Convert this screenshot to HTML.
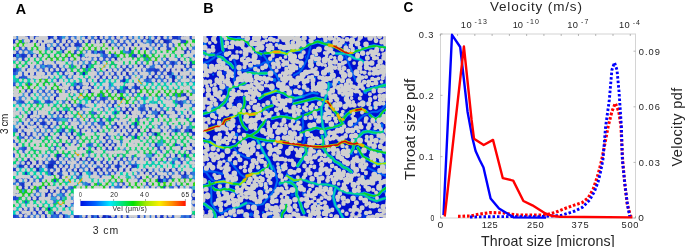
<!DOCTYPE html>
<html><head><meta charset="utf-8"><style>
html,body{margin:0;padding:0;background:#fff;width:685px;height:247px;overflow:hidden}
svg{display:block;will-change:transform}
text{font-family:"Liberation Sans",sans-serif}
.tk{font-size:9px;fill:#262626;letter-spacing:0.4px}
.lb{font-size:13px;fill:#262626}
.cb{font-size:7px;fill:#262626}
.pl{font-size:14px;font-weight:bold;fill:#000}
.cm{font-size:10.5px;fill:#262626}
</style></head><body>
<svg width="685" height="247" viewBox="0 0 685 247">
<defs><filter id="soft" x="0" y="0" width="1" height="1" color-interpolation-filters="sRGB"><feGaussianBlur stdDeviation="0.45" edgeMode="duplicate"/></filter></defs>
<svg x="13" y="36" width="182" height="182" viewBox="0 0 182 182">
<g filter="url(#soft)">
<rect width="182" height="182" fill="#1024bc"/>
<path fill="#2858d8" d="M-0.2 -0.2h3.3v4.0h-3.3zM-0.2 21.2h3.3v4.0h-3.3zM-0.2 35.5h3.3v4.0h-3.3zM-0.2 46.2h3.3v4.0h-3.3zM-0.2 71.2h3.3v4.0h-3.3zM-0.2 74.7h3.3v4.0h-3.3zM-0.2 103.3h3.3v4.0h-3.3zM-0.2 117.6h3.3v4.0h-3.3zM-0.2 121.1h3.3v4.0h-3.3zM-0.2 142.5h3.3v4.0h-3.3zM2.7 3.4h3.3v4.0h-3.3zM2.7 24.8h3.3v4.0h-3.3zM2.7 31.9h3.3v4.0h-3.3zM2.7 39.1h3.3v4.0h-3.3zM2.7 74.7h3.3v4.0h-3.3zM2.7 81.9h3.3v4.0h-3.3zM2.7 160.4h3.3v4.0h-3.3zM2.7 178.2h3.3v4.0h-3.3zM5.6 10.5h3.3v4.0h-3.3zM5.6 17.6h3.3v4.0h-3.3zM5.6 35.5h3.3v4.0h-3.3zM5.6 49.8h3.3v4.0h-3.3zM5.6 64.0h3.3v4.0h-3.3zM5.6 121.1h3.3v4.0h-3.3zM5.6 164.0h3.3v4.0h-3.3zM5.6 171.1h3.3v4.0h-3.3zM8.5 35.5h3.3v4.0h-3.3zM8.5 39.1h3.3v4.0h-3.3zM8.5 85.4h3.3v4.0h-3.3zM8.5 89.0h3.3v4.0h-3.3zM8.5 92.6h3.3v4.0h-3.3zM8.5 110.4h3.3v4.0h-3.3zM8.5 114.0h3.3v4.0h-3.3zM8.5 124.7h3.3v4.0h-3.3zM8.5 160.4h3.3v4.0h-3.3zM11.4 10.5h3.3v4.0h-3.3zM11.4 39.1h3.3v4.0h-3.3zM11.4 42.6h3.3v4.0h-3.3zM11.4 49.8h3.3v4.0h-3.3zM11.4 78.3h3.3v4.0h-3.3zM11.4 92.6h3.3v4.0h-3.3zM11.4 114.0h3.3v4.0h-3.3zM11.4 142.5h3.3v4.0h-3.3zM11.4 164.0h3.3v4.0h-3.3zM11.4 178.2h3.3v4.0h-3.3zM14.2 3.4h3.3v4.0h-3.3zM14.2 24.8h3.3v4.0h-3.3zM14.2 31.9h3.3v4.0h-3.3zM14.2 46.2h3.3v4.0h-3.3zM14.2 99.7h3.3v4.0h-3.3zM14.2 103.3h3.3v4.0h-3.3zM14.2 160.4h3.3v4.0h-3.3zM14.2 171.1h3.3v4.0h-3.3zM14.2 178.2h3.3v4.0h-3.3zM17.1 31.9h3.3v4.0h-3.3zM17.1 39.1h3.3v4.0h-3.3zM17.1 49.8h3.3v4.0h-3.3zM17.1 64.0h3.3v4.0h-3.3zM17.1 78.3h3.3v4.0h-3.3zM17.1 81.9h3.3v4.0h-3.3zM17.1 139.0h3.3v4.0h-3.3zM17.1 149.7h3.3v4.0h-3.3zM17.1 164.0h3.3v4.0h-3.3zM20.0 17.6h3.3v4.0h-3.3zM20.0 39.1h3.3v4.0h-3.3zM20.0 60.5h3.3v4.0h-3.3zM20.0 64.0h3.3v4.0h-3.3zM20.0 67.6h3.3v4.0h-3.3zM20.0 96.2h3.3v4.0h-3.3zM20.0 153.3h3.3v4.0h-3.3zM22.9 -0.2h3.3v4.0h-3.3zM22.9 21.2h3.3v4.0h-3.3zM22.9 39.1h3.3v4.0h-3.3zM22.9 64.0h3.3v4.0h-3.3zM22.9 106.9h3.3v4.0h-3.3zM22.9 142.5h3.3v4.0h-3.3zM22.9 153.3h3.3v4.0h-3.3zM22.9 156.8h3.3v4.0h-3.3zM22.9 164.0h3.3v4.0h-3.3zM25.8 24.8h3.3v4.0h-3.3zM25.8 35.5h3.3v4.0h-3.3zM25.8 60.5h3.3v4.0h-3.3zM25.8 78.3h3.3v4.0h-3.3zM25.8 121.1h3.3v4.0h-3.3zM25.8 128.3h3.3v4.0h-3.3zM25.8 142.5h3.3v4.0h-3.3zM25.8 153.3h3.3v4.0h-3.3zM25.8 178.2h3.3v4.0h-3.3zM28.7 6.9h3.3v4.0h-3.3zM28.7 31.9h3.3v4.0h-3.3zM28.7 42.6h3.3v4.0h-3.3zM28.7 53.3h3.3v4.0h-3.3zM28.7 71.2h3.3v4.0h-3.3zM28.7 78.3h3.3v4.0h-3.3zM28.7 81.9h3.3v4.0h-3.3zM28.7 135.4h3.3v4.0h-3.3zM28.7 139.0h3.3v4.0h-3.3zM28.7 149.7h3.3v4.0h-3.3zM28.7 153.3h3.3v4.0h-3.3zM28.7 156.8h3.3v4.0h-3.3zM28.7 160.4h3.3v4.0h-3.3zM31.6 10.5h3.3v4.0h-3.3zM31.6 28.3h3.3v4.0h-3.3zM31.6 35.5h3.3v4.0h-3.3zM31.6 46.2h3.3v4.0h-3.3zM31.6 64.0h3.3v4.0h-3.3zM31.6 74.7h3.3v4.0h-3.3zM31.6 85.4h3.3v4.0h-3.3zM31.6 96.2h3.3v4.0h-3.3zM31.6 146.1h3.3v4.0h-3.3zM31.6 153.3h3.3v4.0h-3.3zM34.5 71.2h3.3v4.0h-3.3zM34.5 78.3h3.3v4.0h-3.3zM34.5 121.1h3.3v4.0h-3.3zM34.5 124.7h3.3v4.0h-3.3zM34.5 131.8h3.3v4.0h-3.3zM34.5 149.7h3.3v4.0h-3.3zM37.4 10.5h3.3v4.0h-3.3zM37.4 28.3h3.3v4.0h-3.3zM37.4 31.9h3.3v4.0h-3.3zM37.4 35.5h3.3v4.0h-3.3zM37.4 60.5h3.3v4.0h-3.3zM37.4 117.6h3.3v4.0h-3.3zM37.4 121.1h3.3v4.0h-3.3zM37.4 131.8h3.3v4.0h-3.3zM37.4 149.7h3.3v4.0h-3.3zM37.4 153.3h3.3v4.0h-3.3zM37.4 156.8h3.3v4.0h-3.3zM37.4 167.5h3.3v4.0h-3.3zM37.4 178.2h3.3v4.0h-3.3zM40.2 14.1h3.3v4.0h-3.3zM40.2 21.2h3.3v4.0h-3.3zM40.2 24.8h3.3v4.0h-3.3zM40.2 106.9h3.3v4.0h-3.3zM40.2 110.4h3.3v4.0h-3.3zM40.2 131.8h3.3v4.0h-3.3zM40.2 149.7h3.3v4.0h-3.3zM43.1 6.9h3.3v4.0h-3.3zM43.1 42.6h3.3v4.0h-3.3zM43.1 74.7h3.3v4.0h-3.3zM43.1 124.7h3.3v4.0h-3.3zM43.1 139.0h3.3v4.0h-3.3zM43.1 178.2h3.3v4.0h-3.3zM46.0 -0.2h3.3v4.0h-3.3zM46.0 24.8h3.3v4.0h-3.3zM46.0 42.6h3.3v4.0h-3.3zM46.0 49.8h3.3v4.0h-3.3zM46.0 71.2h3.3v4.0h-3.3zM46.0 99.7h3.3v4.0h-3.3zM46.0 135.4h3.3v4.0h-3.3zM46.0 160.4h3.3v4.0h-3.3zM46.0 174.7h3.3v4.0h-3.3zM48.9 3.4h3.3v4.0h-3.3zM48.9 17.6h3.3v4.0h-3.3zM48.9 131.8h3.3v4.0h-3.3zM48.9 146.1h3.3v4.0h-3.3zM48.9 156.8h3.3v4.0h-3.3zM48.9 167.5h3.3v4.0h-3.3zM48.9 174.7h3.3v4.0h-3.3zM51.8 10.5h3.3v4.0h-3.3zM51.8 21.2h3.3v4.0h-3.3zM51.8 39.1h3.3v4.0h-3.3zM51.8 85.4h3.3v4.0h-3.3zM51.8 106.9h3.3v4.0h-3.3zM51.8 110.4h3.3v4.0h-3.3zM51.8 121.1h3.3v4.0h-3.3zM51.8 131.8h3.3v4.0h-3.3zM54.7 -0.2h3.3v4.0h-3.3zM54.7 21.2h3.3v4.0h-3.3zM54.7 24.8h3.3v4.0h-3.3zM54.7 46.2h3.3v4.0h-3.3zM54.7 67.6h3.3v4.0h-3.3zM54.7 85.4h3.3v4.0h-3.3zM54.7 117.6h3.3v4.0h-3.3zM54.7 121.1h3.3v4.0h-3.3zM54.7 146.1h3.3v4.0h-3.3zM57.6 -0.2h3.3v4.0h-3.3zM57.6 3.4h3.3v4.0h-3.3zM57.6 42.6h3.3v4.0h-3.3zM57.6 53.3h3.3v4.0h-3.3zM57.6 92.6h3.3v4.0h-3.3zM57.6 99.7h3.3v4.0h-3.3zM57.6 103.3h3.3v4.0h-3.3zM57.6 149.7h3.3v4.0h-3.3zM57.6 171.1h3.3v4.0h-3.3zM60.5 3.4h3.3v4.0h-3.3zM60.5 67.6h3.3v4.0h-3.3zM60.5 131.8h3.3v4.0h-3.3zM63.4 24.8h3.3v4.0h-3.3zM63.4 35.5h3.3v4.0h-3.3zM63.4 53.3h3.3v4.0h-3.3zM63.4 56.9h3.3v4.0h-3.3zM63.4 71.2h3.3v4.0h-3.3zM63.4 99.7h3.3v4.0h-3.3zM63.4 106.9h3.3v4.0h-3.3zM63.4 124.7h3.3v4.0h-3.3zM63.4 128.3h3.3v4.0h-3.3zM63.4 135.4h3.3v4.0h-3.3zM63.4 139.0h3.3v4.0h-3.3zM63.4 160.4h3.3v4.0h-3.3zM63.4 171.1h3.3v4.0h-3.3zM66.2 10.5h3.3v4.0h-3.3zM66.2 60.5h3.3v4.0h-3.3zM66.2 71.2h3.3v4.0h-3.3zM66.2 81.9h3.3v4.0h-3.3zM66.2 96.2h3.3v4.0h-3.3zM66.2 117.6h3.3v4.0h-3.3zM66.2 124.7h3.3v4.0h-3.3zM66.2 128.3h3.3v4.0h-3.3zM66.2 153.3h3.3v4.0h-3.3zM66.2 164.0h3.3v4.0h-3.3zM66.2 174.7h3.3v4.0h-3.3zM69.1 6.9h3.3v4.0h-3.3zM69.1 14.1h3.3v4.0h-3.3zM69.1 21.2h3.3v4.0h-3.3zM69.1 78.3h3.3v4.0h-3.3zM69.1 85.4h3.3v4.0h-3.3zM69.1 89.0h3.3v4.0h-3.3zM69.1 121.1h3.3v4.0h-3.3zM69.1 128.3h3.3v4.0h-3.3zM69.1 142.5h3.3v4.0h-3.3zM69.1 149.7h3.3v4.0h-3.3zM69.1 164.0h3.3v4.0h-3.3zM72.0 3.4h3.3v4.0h-3.3zM72.0 46.2h3.3v4.0h-3.3zM72.0 92.6h3.3v4.0h-3.3zM72.0 117.6h3.3v4.0h-3.3zM72.0 167.5h3.3v4.0h-3.3zM72.0 174.7h3.3v4.0h-3.3zM74.9 24.8h3.3v4.0h-3.3zM74.9 99.7h3.3v4.0h-3.3zM74.9 106.9h3.3v4.0h-3.3zM74.9 114.0h3.3v4.0h-3.3zM74.9 149.7h3.3v4.0h-3.3zM74.9 156.8h3.3v4.0h-3.3zM77.8 24.8h3.3v4.0h-3.3zM77.8 39.1h3.3v4.0h-3.3zM77.8 110.4h3.3v4.0h-3.3zM77.8 117.6h3.3v4.0h-3.3zM77.8 131.8h3.3v4.0h-3.3zM77.8 153.3h3.3v4.0h-3.3zM80.7 39.1h3.3v4.0h-3.3zM80.7 60.5h3.3v4.0h-3.3zM80.7 71.2h3.3v4.0h-3.3zM80.7 74.7h3.3v4.0h-3.3zM80.7 99.7h3.3v4.0h-3.3zM80.7 114.0h3.3v4.0h-3.3zM83.6 10.5h3.3v4.0h-3.3zM83.6 128.3h3.3v4.0h-3.3zM83.6 135.4h3.3v4.0h-3.3zM83.6 160.4h3.3v4.0h-3.3zM86.5 14.1h3.3v4.0h-3.3zM86.5 24.8h3.3v4.0h-3.3zM86.5 42.6h3.3v4.0h-3.3zM86.5 60.5h3.3v4.0h-3.3zM86.5 71.2h3.3v4.0h-3.3zM86.5 99.7h3.3v4.0h-3.3zM86.5 114.0h3.3v4.0h-3.3zM86.5 178.2h3.3v4.0h-3.3zM89.4 -0.2h3.3v4.0h-3.3zM89.4 17.6h3.3v4.0h-3.3zM89.4 21.2h3.3v4.0h-3.3zM89.4 31.9h3.3v4.0h-3.3zM89.4 35.5h3.3v4.0h-3.3zM89.4 160.4h3.3v4.0h-3.3zM92.2 -0.2h3.3v4.0h-3.3zM92.2 14.1h3.3v4.0h-3.3zM92.2 17.6h3.3v4.0h-3.3zM92.2 35.5h3.3v4.0h-3.3zM92.2 42.6h3.3v4.0h-3.3zM92.2 56.9h3.3v4.0h-3.3zM92.2 71.2h3.3v4.0h-3.3zM92.2 114.0h3.3v4.0h-3.3zM92.2 131.8h3.3v4.0h-3.3zM92.2 164.0h3.3v4.0h-3.3zM92.2 178.2h3.3v4.0h-3.3zM95.1 21.2h3.3v4.0h-3.3zM95.1 24.8h3.3v4.0h-3.3zM95.1 64.0h3.3v4.0h-3.3zM95.1 78.3h3.3v4.0h-3.3zM95.1 81.9h3.3v4.0h-3.3zM95.1 89.0h3.3v4.0h-3.3zM95.1 114.0h3.3v4.0h-3.3zM95.1 117.6h3.3v4.0h-3.3zM95.1 128.3h3.3v4.0h-3.3zM95.1 135.4h3.3v4.0h-3.3zM95.1 139.0h3.3v4.0h-3.3zM95.1 149.7h3.3v4.0h-3.3zM95.1 167.5h3.3v4.0h-3.3zM98.0 21.2h3.3v4.0h-3.3zM98.0 53.3h3.3v4.0h-3.3zM98.0 56.9h3.3v4.0h-3.3zM98.0 71.2h3.3v4.0h-3.3zM98.0 78.3h3.3v4.0h-3.3zM98.0 85.4h3.3v4.0h-3.3zM98.0 89.0h3.3v4.0h-3.3zM98.0 92.6h3.3v4.0h-3.3zM98.0 99.7h3.3v4.0h-3.3zM98.0 103.3h3.3v4.0h-3.3zM98.0 106.9h3.3v4.0h-3.3zM98.0 121.1h3.3v4.0h-3.3zM98.0 160.4h3.3v4.0h-3.3zM98.0 178.2h3.3v4.0h-3.3zM100.9 3.4h3.3v4.0h-3.3zM100.9 31.9h3.3v4.0h-3.3zM100.9 67.6h3.3v4.0h-3.3zM100.9 131.8h3.3v4.0h-3.3zM100.9 135.4h3.3v4.0h-3.3zM100.9 139.0h3.3v4.0h-3.3zM100.9 167.5h3.3v4.0h-3.3zM103.8 42.6h3.3v4.0h-3.3zM103.8 64.0h3.3v4.0h-3.3zM103.8 85.4h3.3v4.0h-3.3zM103.8 92.6h3.3v4.0h-3.3zM103.8 142.5h3.3v4.0h-3.3zM103.8 171.1h3.3v4.0h-3.3zM106.7 6.9h3.3v4.0h-3.3zM106.7 42.6h3.3v4.0h-3.3zM106.7 71.2h3.3v4.0h-3.3zM106.7 81.9h3.3v4.0h-3.3zM106.7 85.4h3.3v4.0h-3.3zM106.7 89.0h3.3v4.0h-3.3zM106.7 110.4h3.3v4.0h-3.3zM106.7 139.0h3.3v4.0h-3.3zM109.6 3.4h3.3v4.0h-3.3zM109.6 39.1h3.3v4.0h-3.3zM109.6 49.8h3.3v4.0h-3.3zM109.6 53.3h3.3v4.0h-3.3zM109.6 89.0h3.3v4.0h-3.3zM109.6 114.0h3.3v4.0h-3.3zM109.6 124.7h3.3v4.0h-3.3zM109.6 135.4h3.3v4.0h-3.3zM109.6 142.5h3.3v4.0h-3.3zM109.6 146.1h3.3v4.0h-3.3zM112.5 60.5h3.3v4.0h-3.3zM112.5 67.6h3.3v4.0h-3.3zM112.5 92.6h3.3v4.0h-3.3zM112.5 121.1h3.3v4.0h-3.3zM112.5 146.1h3.3v4.0h-3.3zM112.5 149.7h3.3v4.0h-3.3zM115.4 6.9h3.3v4.0h-3.3zM115.4 14.1h3.3v4.0h-3.3zM115.4 39.1h3.3v4.0h-3.3zM115.4 67.6h3.3v4.0h-3.3zM115.4 96.2h3.3v4.0h-3.3zM115.4 128.3h3.3v4.0h-3.3zM115.4 171.1h3.3v4.0h-3.3zM118.2 10.5h3.3v4.0h-3.3zM118.2 17.6h3.3v4.0h-3.3zM118.2 39.1h3.3v4.0h-3.3zM118.2 46.2h3.3v4.0h-3.3zM118.2 56.9h3.3v4.0h-3.3zM118.2 60.5h3.3v4.0h-3.3zM118.2 78.3h3.3v4.0h-3.3zM118.2 121.1h3.3v4.0h-3.3zM118.2 139.0h3.3v4.0h-3.3zM118.2 146.1h3.3v4.0h-3.3zM118.2 153.3h3.3v4.0h-3.3zM118.2 164.0h3.3v4.0h-3.3zM118.2 167.5h3.3v4.0h-3.3zM118.2 174.7h3.3v4.0h-3.3zM121.1 3.4h3.3v4.0h-3.3zM121.1 6.9h3.3v4.0h-3.3zM121.1 56.9h3.3v4.0h-3.3zM121.1 135.4h3.3v4.0h-3.3zM121.1 171.1h3.3v4.0h-3.3zM124.0 31.9h3.3v4.0h-3.3zM124.0 78.3h3.3v4.0h-3.3zM124.0 81.9h3.3v4.0h-3.3zM124.0 121.1h3.3v4.0h-3.3zM124.0 142.5h3.3v4.0h-3.3zM126.9 3.4h3.3v4.0h-3.3zM126.9 21.2h3.3v4.0h-3.3zM126.9 42.6h3.3v4.0h-3.3zM126.9 56.9h3.3v4.0h-3.3zM126.9 74.7h3.3v4.0h-3.3zM126.9 81.9h3.3v4.0h-3.3zM126.9 92.6h3.3v4.0h-3.3zM126.9 121.1h3.3v4.0h-3.3zM126.9 131.8h3.3v4.0h-3.3zM126.9 135.4h3.3v4.0h-3.3zM129.8 10.5h3.3v4.0h-3.3zM129.8 24.8h3.3v4.0h-3.3zM129.8 31.9h3.3v4.0h-3.3zM129.8 53.3h3.3v4.0h-3.3zM129.8 67.6h3.3v4.0h-3.3zM129.8 71.2h3.3v4.0h-3.3zM129.8 74.7h3.3v4.0h-3.3zM129.8 99.7h3.3v4.0h-3.3zM129.8 167.5h3.3v4.0h-3.3zM129.8 178.2h3.3v4.0h-3.3zM132.7 31.9h3.3v4.0h-3.3zM132.7 42.6h3.3v4.0h-3.3zM132.7 67.6h3.3v4.0h-3.3zM132.7 96.2h3.3v4.0h-3.3zM132.7 99.7h3.3v4.0h-3.3zM132.7 164.0h3.3v4.0h-3.3zM135.6 10.5h3.3v4.0h-3.3zM135.6 17.6h3.3v4.0h-3.3zM135.6 24.8h3.3v4.0h-3.3zM135.6 67.6h3.3v4.0h-3.3zM135.6 81.9h3.3v4.0h-3.3zM135.6 110.4h3.3v4.0h-3.3zM135.6 139.0h3.3v4.0h-3.3zM135.6 149.7h3.3v4.0h-3.3zM135.6 156.8h3.3v4.0h-3.3zM135.6 160.4h3.3v4.0h-3.3zM138.5 35.5h3.3v4.0h-3.3zM138.5 67.6h3.3v4.0h-3.3zM138.5 71.2h3.3v4.0h-3.3zM138.5 114.0h3.3v4.0h-3.3zM138.5 139.0h3.3v4.0h-3.3zM138.5 142.5h3.3v4.0h-3.3zM138.5 156.8h3.3v4.0h-3.3zM138.5 164.0h3.3v4.0h-3.3zM141.4 28.3h3.3v4.0h-3.3zM141.4 67.6h3.3v4.0h-3.3zM141.4 110.4h3.3v4.0h-3.3zM141.4 131.8h3.3v4.0h-3.3zM144.2 3.4h3.3v4.0h-3.3zM144.2 6.9h3.3v4.0h-3.3zM144.2 14.1h3.3v4.0h-3.3zM144.2 28.3h3.3v4.0h-3.3zM144.2 78.3h3.3v4.0h-3.3zM144.2 121.1h3.3v4.0h-3.3zM144.2 128.3h3.3v4.0h-3.3zM144.2 178.2h3.3v4.0h-3.3zM147.1 35.5h3.3v4.0h-3.3zM147.1 53.3h3.3v4.0h-3.3zM147.1 85.4h3.3v4.0h-3.3zM147.1 114.0h3.3v4.0h-3.3zM147.1 153.3h3.3v4.0h-3.3zM147.1 160.4h3.3v4.0h-3.3zM150.0 -0.2h3.3v4.0h-3.3zM150.0 24.8h3.3v4.0h-3.3zM150.0 64.0h3.3v4.0h-3.3zM150.0 106.9h3.3v4.0h-3.3zM150.0 121.1h3.3v4.0h-3.3zM150.0 160.4h3.3v4.0h-3.3zM150.0 164.0h3.3v4.0h-3.3zM152.9 31.9h3.3v4.0h-3.3zM152.9 42.6h3.3v4.0h-3.3zM152.9 74.7h3.3v4.0h-3.3zM152.9 92.6h3.3v4.0h-3.3zM152.9 146.1h3.3v4.0h-3.3zM152.9 160.4h3.3v4.0h-3.3zM152.9 174.7h3.3v4.0h-3.3zM155.8 3.4h3.3v4.0h-3.3zM155.8 6.9h3.3v4.0h-3.3zM155.8 24.8h3.3v4.0h-3.3zM155.8 42.6h3.3v4.0h-3.3zM155.8 56.9h3.3v4.0h-3.3zM155.8 99.7h3.3v4.0h-3.3zM155.8 114.0h3.3v4.0h-3.3zM155.8 171.1h3.3v4.0h-3.3zM158.7 3.4h3.3v4.0h-3.3zM158.7 6.9h3.3v4.0h-3.3zM158.7 53.3h3.3v4.0h-3.3zM158.7 60.5h3.3v4.0h-3.3zM158.7 71.2h3.3v4.0h-3.3zM158.7 81.9h3.3v4.0h-3.3zM158.7 89.0h3.3v4.0h-3.3zM158.7 124.7h3.3v4.0h-3.3zM158.7 131.8h3.3v4.0h-3.3zM158.7 149.7h3.3v4.0h-3.3zM158.7 164.0h3.3v4.0h-3.3zM158.7 167.5h3.3v4.0h-3.3zM158.7 178.2h3.3v4.0h-3.3zM161.6 49.8h3.3v4.0h-3.3zM161.6 114.0h3.3v4.0h-3.3zM161.6 149.7h3.3v4.0h-3.3zM161.6 160.4h3.3v4.0h-3.3zM164.5 -0.2h3.3v4.0h-3.3zM164.5 10.5h3.3v4.0h-3.3zM164.5 24.8h3.3v4.0h-3.3zM164.5 53.3h3.3v4.0h-3.3zM164.5 67.6h3.3v4.0h-3.3zM164.5 74.7h3.3v4.0h-3.3zM164.5 78.3h3.3v4.0h-3.3zM164.5 103.3h3.3v4.0h-3.3zM164.5 131.8h3.3v4.0h-3.3zM164.5 135.4h3.3v4.0h-3.3zM167.4 28.3h3.3v4.0h-3.3zM167.4 42.6h3.3v4.0h-3.3zM167.4 56.9h3.3v4.0h-3.3zM167.4 60.5h3.3v4.0h-3.3zM167.4 64.0h3.3v4.0h-3.3zM167.4 121.1h3.3v4.0h-3.3zM167.4 139.0h3.3v4.0h-3.3zM167.4 156.8h3.3v4.0h-3.3zM167.4 160.4h3.3v4.0h-3.3zM170.2 53.3h3.3v4.0h-3.3zM170.2 60.5h3.3v4.0h-3.3zM170.2 74.7h3.3v4.0h-3.3zM170.2 78.3h3.3v4.0h-3.3zM170.2 124.7h3.3v4.0h-3.3zM170.2 153.3h3.3v4.0h-3.3zM170.2 167.5h3.3v4.0h-3.3zM170.2 178.2h3.3v4.0h-3.3zM173.1 -0.2h3.3v4.0h-3.3zM173.1 31.9h3.3v4.0h-3.3zM173.1 64.0h3.3v4.0h-3.3zM173.1 92.6h3.3v4.0h-3.3zM173.1 121.1h3.3v4.0h-3.3zM173.1 171.1h3.3v4.0h-3.3zM176.0 14.1h3.3v4.0h-3.3zM176.0 53.3h3.3v4.0h-3.3zM176.0 60.5h3.3v4.0h-3.3zM176.0 64.0h3.3v4.0h-3.3zM176.0 135.4h3.3v4.0h-3.3zM176.0 146.1h3.3v4.0h-3.3zM176.0 149.7h3.3v4.0h-3.3zM176.0 156.8h3.3v4.0h-3.3zM178.9 -0.2h3.3v4.0h-3.3zM178.9 56.9h3.3v4.0h-3.3zM178.9 67.6h3.3v4.0h-3.3zM178.9 92.6h3.3v4.0h-3.3zM178.9 106.9h3.3v4.0h-3.3zM178.9 114.0h3.3v4.0h-3.3zM178.9 121.1h3.3v4.0h-3.3zM178.9 164.0h3.3v4.0h-3.3zM178.9 167.5h3.3v4.0h-3.3zM178.9 171.1h3.3v4.0h-3.3z"/>
<path fill="#1834c8" d="M-0.2 3.4h3.3v4.0h-3.3zM-0.2 6.9h3.3v4.0h-3.3zM-0.2 31.9h3.3v4.0h-3.3zM-0.2 60.5h3.3v4.0h-3.3zM-0.2 64.0h3.3v4.0h-3.3zM-0.2 85.4h3.3v4.0h-3.3zM-0.2 99.7h3.3v4.0h-3.3zM-0.2 114.0h3.3v4.0h-3.3zM-0.2 131.8h3.3v4.0h-3.3zM-0.2 135.4h3.3v4.0h-3.3zM-0.2 156.8h3.3v4.0h-3.3zM2.7 56.9h3.3v4.0h-3.3zM2.7 60.5h3.3v4.0h-3.3zM2.7 110.4h3.3v4.0h-3.3zM2.7 131.8h3.3v4.0h-3.3zM2.7 139.0h3.3v4.0h-3.3zM2.7 156.8h3.3v4.0h-3.3zM5.6 14.1h3.3v4.0h-3.3zM5.6 78.3h3.3v4.0h-3.3zM5.6 96.2h3.3v4.0h-3.3zM5.6 128.3h3.3v4.0h-3.3zM5.6 178.2h3.3v4.0h-3.3zM8.5 17.6h3.3v4.0h-3.3zM8.5 53.3h3.3v4.0h-3.3zM8.5 74.7h3.3v4.0h-3.3zM8.5 146.1h3.3v4.0h-3.3zM8.5 149.7h3.3v4.0h-3.3zM8.5 171.1h3.3v4.0h-3.3zM8.5 174.7h3.3v4.0h-3.3zM11.4 -0.2h3.3v4.0h-3.3zM11.4 6.9h3.3v4.0h-3.3zM11.4 21.2h3.3v4.0h-3.3zM11.4 81.9h3.3v4.0h-3.3zM11.4 121.1h3.3v4.0h-3.3zM11.4 124.7h3.3v4.0h-3.3zM11.4 135.4h3.3v4.0h-3.3zM11.4 139.0h3.3v4.0h-3.3zM11.4 146.1h3.3v4.0h-3.3zM11.4 174.7h3.3v4.0h-3.3zM14.2 -0.2h3.3v4.0h-3.3zM14.2 35.5h3.3v4.0h-3.3zM14.2 92.6h3.3v4.0h-3.3zM14.2 117.6h3.3v4.0h-3.3zM14.2 142.5h3.3v4.0h-3.3zM17.1 17.6h3.3v4.0h-3.3zM17.1 53.3h3.3v4.0h-3.3zM17.1 74.7h3.3v4.0h-3.3zM17.1 121.1h3.3v4.0h-3.3zM17.1 146.1h3.3v4.0h-3.3zM17.1 160.4h3.3v4.0h-3.3zM17.1 171.1h3.3v4.0h-3.3zM20.0 31.9h3.3v4.0h-3.3zM20.0 78.3h3.3v4.0h-3.3zM20.0 85.4h3.3v4.0h-3.3zM20.0 110.4h3.3v4.0h-3.3zM20.0 124.7h3.3v4.0h-3.3zM20.0 174.7h3.3v4.0h-3.3zM22.9 28.3h3.3v4.0h-3.3zM22.9 85.4h3.3v4.0h-3.3zM22.9 89.0h3.3v4.0h-3.3zM22.9 121.1h3.3v4.0h-3.3zM22.9 124.7h3.3v4.0h-3.3zM22.9 128.3h3.3v4.0h-3.3zM22.9 160.4h3.3v4.0h-3.3zM22.9 174.7h3.3v4.0h-3.3zM25.8 -0.2h3.3v4.0h-3.3zM25.8 3.4h3.3v4.0h-3.3zM25.8 6.9h3.3v4.0h-3.3zM25.8 31.9h3.3v4.0h-3.3zM25.8 89.0h3.3v4.0h-3.3zM25.8 99.7h3.3v4.0h-3.3zM25.8 171.1h3.3v4.0h-3.3zM28.7 3.4h3.3v4.0h-3.3zM28.7 85.4h3.3v4.0h-3.3zM28.7 99.7h3.3v4.0h-3.3zM28.7 128.3h3.3v4.0h-3.3zM28.7 164.0h3.3v4.0h-3.3zM28.7 174.7h3.3v4.0h-3.3zM31.6 6.9h3.3v4.0h-3.3zM31.6 24.8h3.3v4.0h-3.3zM31.6 53.3h3.3v4.0h-3.3zM31.6 81.9h3.3v4.0h-3.3zM31.6 103.3h3.3v4.0h-3.3zM31.6 110.4h3.3v4.0h-3.3zM31.6 149.7h3.3v4.0h-3.3zM31.6 174.7h3.3v4.0h-3.3zM31.6 178.2h3.3v4.0h-3.3zM34.5 31.9h3.3v4.0h-3.3zM34.5 85.4h3.3v4.0h-3.3zM34.5 89.0h3.3v4.0h-3.3zM34.5 96.2h3.3v4.0h-3.3zM34.5 156.8h3.3v4.0h-3.3zM34.5 164.0h3.3v4.0h-3.3zM37.4 53.3h3.3v4.0h-3.3zM37.4 67.6h3.3v4.0h-3.3zM37.4 74.7h3.3v4.0h-3.3zM37.4 89.0h3.3v4.0h-3.3zM37.4 124.7h3.3v4.0h-3.3zM40.2 3.4h3.3v4.0h-3.3zM40.2 56.9h3.3v4.0h-3.3zM40.2 71.2h3.3v4.0h-3.3zM40.2 74.7h3.3v4.0h-3.3zM40.2 99.7h3.3v4.0h-3.3zM40.2 121.1h3.3v4.0h-3.3zM40.2 124.7h3.3v4.0h-3.3zM43.1 -0.2h3.3v4.0h-3.3zM43.1 28.3h3.3v4.0h-3.3zM43.1 53.3h3.3v4.0h-3.3zM43.1 85.4h3.3v4.0h-3.3zM43.1 103.3h3.3v4.0h-3.3zM43.1 117.6h3.3v4.0h-3.3zM43.1 121.1h3.3v4.0h-3.3zM43.1 128.3h3.3v4.0h-3.3zM43.1 153.3h3.3v4.0h-3.3zM43.1 160.4h3.3v4.0h-3.3zM43.1 174.7h3.3v4.0h-3.3zM46.0 28.3h3.3v4.0h-3.3zM46.0 35.5h3.3v4.0h-3.3zM46.0 74.7h3.3v4.0h-3.3zM46.0 78.3h3.3v4.0h-3.3zM46.0 106.9h3.3v4.0h-3.3zM46.0 117.6h3.3v4.0h-3.3zM46.0 131.8h3.3v4.0h-3.3zM46.0 139.0h3.3v4.0h-3.3zM48.9 6.9h3.3v4.0h-3.3zM48.9 10.5h3.3v4.0h-3.3zM48.9 14.1h3.3v4.0h-3.3zM48.9 35.5h3.3v4.0h-3.3zM48.9 46.2h3.3v4.0h-3.3zM48.9 49.8h3.3v4.0h-3.3zM48.9 53.3h3.3v4.0h-3.3zM48.9 60.5h3.3v4.0h-3.3zM48.9 78.3h3.3v4.0h-3.3zM48.9 89.0h3.3v4.0h-3.3zM48.9 128.3h3.3v4.0h-3.3zM48.9 149.7h3.3v4.0h-3.3zM48.9 153.3h3.3v4.0h-3.3zM51.8 6.9h3.3v4.0h-3.3zM51.8 56.9h3.3v4.0h-3.3zM51.8 64.0h3.3v4.0h-3.3zM51.8 124.7h3.3v4.0h-3.3zM51.8 142.5h3.3v4.0h-3.3zM51.8 167.5h3.3v4.0h-3.3zM51.8 171.1h3.3v4.0h-3.3zM54.7 6.9h3.3v4.0h-3.3zM54.7 35.5h3.3v4.0h-3.3zM54.7 53.3h3.3v4.0h-3.3zM54.7 78.3h3.3v4.0h-3.3zM54.7 89.0h3.3v4.0h-3.3zM54.7 110.4h3.3v4.0h-3.3zM54.7 128.3h3.3v4.0h-3.3zM54.7 139.0h3.3v4.0h-3.3zM54.7 153.3h3.3v4.0h-3.3zM57.6 6.9h3.3v4.0h-3.3zM57.6 56.9h3.3v4.0h-3.3zM57.6 124.7h3.3v4.0h-3.3zM60.5 6.9h3.3v4.0h-3.3zM60.5 10.5h3.3v4.0h-3.3zM60.5 35.5h3.3v4.0h-3.3zM60.5 39.1h3.3v4.0h-3.3zM60.5 49.8h3.3v4.0h-3.3zM60.5 71.2h3.3v4.0h-3.3zM60.5 99.7h3.3v4.0h-3.3zM60.5 103.3h3.3v4.0h-3.3zM60.5 106.9h3.3v4.0h-3.3zM60.5 139.0h3.3v4.0h-3.3zM60.5 153.3h3.3v4.0h-3.3zM60.5 164.0h3.3v4.0h-3.3zM60.5 178.2h3.3v4.0h-3.3zM63.4 6.9h3.3v4.0h-3.3zM63.4 46.2h3.3v4.0h-3.3zM63.4 49.8h3.3v4.0h-3.3zM63.4 89.0h3.3v4.0h-3.3zM63.4 121.1h3.3v4.0h-3.3zM63.4 142.5h3.3v4.0h-3.3zM63.4 178.2h3.3v4.0h-3.3zM66.2 17.6h3.3v4.0h-3.3zM66.2 49.8h3.3v4.0h-3.3zM66.2 67.6h3.3v4.0h-3.3zM66.2 92.6h3.3v4.0h-3.3zM69.1 3.4h3.3v4.0h-3.3zM69.1 46.2h3.3v4.0h-3.3zM69.1 49.8h3.3v4.0h-3.3zM69.1 178.2h3.3v4.0h-3.3zM72.0 -0.2h3.3v4.0h-3.3zM72.0 17.6h3.3v4.0h-3.3zM72.0 67.6h3.3v4.0h-3.3zM72.0 121.1h3.3v4.0h-3.3zM72.0 142.5h3.3v4.0h-3.3zM72.0 160.4h3.3v4.0h-3.3zM72.0 178.2h3.3v4.0h-3.3zM74.9 3.4h3.3v4.0h-3.3zM74.9 49.8h3.3v4.0h-3.3zM74.9 81.9h3.3v4.0h-3.3zM74.9 121.1h3.3v4.0h-3.3zM74.9 128.3h3.3v4.0h-3.3zM74.9 131.8h3.3v4.0h-3.3zM74.9 146.1h3.3v4.0h-3.3zM77.8 49.8h3.3v4.0h-3.3zM77.8 121.1h3.3v4.0h-3.3zM77.8 178.2h3.3v4.0h-3.3zM80.7 3.4h3.3v4.0h-3.3zM80.7 6.9h3.3v4.0h-3.3zM80.7 31.9h3.3v4.0h-3.3zM80.7 64.0h3.3v4.0h-3.3zM80.7 106.9h3.3v4.0h-3.3zM80.7 124.7h3.3v4.0h-3.3zM83.6 14.1h3.3v4.0h-3.3zM83.6 42.6h3.3v4.0h-3.3zM83.6 60.5h3.3v4.0h-3.3zM83.6 85.4h3.3v4.0h-3.3zM83.6 92.6h3.3v4.0h-3.3zM83.6 114.0h3.3v4.0h-3.3zM83.6 124.7h3.3v4.0h-3.3zM83.6 139.0h3.3v4.0h-3.3zM86.5 21.2h3.3v4.0h-3.3zM86.5 35.5h3.3v4.0h-3.3zM86.5 39.1h3.3v4.0h-3.3zM86.5 64.0h3.3v4.0h-3.3zM86.5 121.1h3.3v4.0h-3.3zM86.5 153.3h3.3v4.0h-3.3zM89.4 14.1h3.3v4.0h-3.3zM89.4 124.7h3.3v4.0h-3.3zM89.4 128.3h3.3v4.0h-3.3zM89.4 156.8h3.3v4.0h-3.3zM92.2 3.4h3.3v4.0h-3.3zM92.2 6.9h3.3v4.0h-3.3zM92.2 21.2h3.3v4.0h-3.3zM92.2 31.9h3.3v4.0h-3.3zM92.2 49.8h3.3v4.0h-3.3zM92.2 99.7h3.3v4.0h-3.3zM92.2 149.7h3.3v4.0h-3.3zM95.1 10.5h3.3v4.0h-3.3zM95.1 60.5h3.3v4.0h-3.3zM95.1 106.9h3.3v4.0h-3.3zM98.0 -0.2h3.3v4.0h-3.3zM98.0 35.5h3.3v4.0h-3.3zM98.0 42.6h3.3v4.0h-3.3zM98.0 64.0h3.3v4.0h-3.3zM98.0 67.6h3.3v4.0h-3.3zM98.0 110.4h3.3v4.0h-3.3zM98.0 124.7h3.3v4.0h-3.3zM98.0 131.8h3.3v4.0h-3.3zM98.0 142.5h3.3v4.0h-3.3zM100.9 -0.2h3.3v4.0h-3.3zM100.9 24.8h3.3v4.0h-3.3zM100.9 39.1h3.3v4.0h-3.3zM100.9 60.5h3.3v4.0h-3.3zM100.9 81.9h3.3v4.0h-3.3zM100.9 89.0h3.3v4.0h-3.3zM100.9 164.0h3.3v4.0h-3.3zM103.8 28.3h3.3v4.0h-3.3zM103.8 99.7h3.3v4.0h-3.3zM103.8 124.7h3.3v4.0h-3.3zM103.8 128.3h3.3v4.0h-3.3zM103.8 131.8h3.3v4.0h-3.3zM103.8 156.8h3.3v4.0h-3.3zM106.7 3.4h3.3v4.0h-3.3zM106.7 35.5h3.3v4.0h-3.3zM106.7 39.1h3.3v4.0h-3.3zM106.7 46.2h3.3v4.0h-3.3zM106.7 60.5h3.3v4.0h-3.3zM106.7 67.6h3.3v4.0h-3.3zM106.7 92.6h3.3v4.0h-3.3zM106.7 146.1h3.3v4.0h-3.3zM106.7 149.7h3.3v4.0h-3.3zM106.7 164.0h3.3v4.0h-3.3zM109.6 -0.2h3.3v4.0h-3.3zM109.6 6.9h3.3v4.0h-3.3zM109.6 31.9h3.3v4.0h-3.3zM109.6 67.6h3.3v4.0h-3.3zM109.6 92.6h3.3v4.0h-3.3zM109.6 96.2h3.3v4.0h-3.3zM109.6 106.9h3.3v4.0h-3.3zM109.6 131.8h3.3v4.0h-3.3zM109.6 178.2h3.3v4.0h-3.3zM112.5 49.8h3.3v4.0h-3.3zM112.5 128.3h3.3v4.0h-3.3zM112.5 164.0h3.3v4.0h-3.3zM112.5 178.2h3.3v4.0h-3.3zM115.4 35.5h3.3v4.0h-3.3zM115.4 49.8h3.3v4.0h-3.3zM115.4 56.9h3.3v4.0h-3.3zM115.4 78.3h3.3v4.0h-3.3zM115.4 89.0h3.3v4.0h-3.3zM115.4 114.0h3.3v4.0h-3.3zM118.2 3.4h3.3v4.0h-3.3zM118.2 6.9h3.3v4.0h-3.3zM118.2 31.9h3.3v4.0h-3.3zM118.2 74.7h3.3v4.0h-3.3zM118.2 96.2h3.3v4.0h-3.3zM118.2 128.3h3.3v4.0h-3.3zM121.1 17.6h3.3v4.0h-3.3zM121.1 21.2h3.3v4.0h-3.3zM121.1 46.2h3.3v4.0h-3.3zM121.1 49.8h3.3v4.0h-3.3zM121.1 67.6h3.3v4.0h-3.3zM121.1 71.2h3.3v4.0h-3.3zM121.1 85.4h3.3v4.0h-3.3zM121.1 92.6h3.3v4.0h-3.3zM121.1 99.7h3.3v4.0h-3.3zM121.1 149.7h3.3v4.0h-3.3zM121.1 153.3h3.3v4.0h-3.3zM124.0 6.9h3.3v4.0h-3.3zM124.0 49.8h3.3v4.0h-3.3zM124.0 53.3h3.3v4.0h-3.3zM124.0 89.0h3.3v4.0h-3.3zM124.0 96.2h3.3v4.0h-3.3zM124.0 139.0h3.3v4.0h-3.3zM124.0 153.3h3.3v4.0h-3.3zM124.0 156.8h3.3v4.0h-3.3zM124.0 164.0h3.3v4.0h-3.3zM124.0 174.7h3.3v4.0h-3.3zM126.9 49.8h3.3v4.0h-3.3zM126.9 139.0h3.3v4.0h-3.3zM126.9 142.5h3.3v4.0h-3.3zM126.9 153.3h3.3v4.0h-3.3zM126.9 171.1h3.3v4.0h-3.3zM126.9 178.2h3.3v4.0h-3.3zM129.8 -0.2h3.3v4.0h-3.3zM129.8 3.4h3.3v4.0h-3.3zM129.8 96.2h3.3v4.0h-3.3zM129.8 103.3h3.3v4.0h-3.3zM132.7 39.1h3.3v4.0h-3.3zM132.7 49.8h3.3v4.0h-3.3zM132.7 56.9h3.3v4.0h-3.3zM132.7 74.7h3.3v4.0h-3.3zM132.7 156.8h3.3v4.0h-3.3zM135.6 39.1h3.3v4.0h-3.3zM135.6 71.2h3.3v4.0h-3.3zM135.6 89.0h3.3v4.0h-3.3zM135.6 124.7h3.3v4.0h-3.3zM135.6 167.5h3.3v4.0h-3.3zM138.5 -0.2h3.3v4.0h-3.3zM138.5 3.4h3.3v4.0h-3.3zM138.5 14.1h3.3v4.0h-3.3zM138.5 49.8h3.3v4.0h-3.3zM138.5 78.3h3.3v4.0h-3.3zM141.4 31.9h3.3v4.0h-3.3zM141.4 35.5h3.3v4.0h-3.3zM141.4 39.1h3.3v4.0h-3.3zM141.4 60.5h3.3v4.0h-3.3zM141.4 71.2h3.3v4.0h-3.3zM141.4 106.9h3.3v4.0h-3.3zM141.4 156.8h3.3v4.0h-3.3zM141.4 174.7h3.3v4.0h-3.3zM144.2 -0.2h3.3v4.0h-3.3zM144.2 10.5h3.3v4.0h-3.3zM144.2 67.6h3.3v4.0h-3.3zM147.1 -0.2h3.3v4.0h-3.3zM147.1 3.4h3.3v4.0h-3.3zM147.1 89.0h3.3v4.0h-3.3zM147.1 117.6h3.3v4.0h-3.3zM147.1 124.7h3.3v4.0h-3.3zM147.1 142.5h3.3v4.0h-3.3zM147.1 178.2h3.3v4.0h-3.3zM150.0 6.9h3.3v4.0h-3.3zM150.0 35.5h3.3v4.0h-3.3zM150.0 39.1h3.3v4.0h-3.3zM150.0 71.2h3.3v4.0h-3.3zM150.0 74.7h3.3v4.0h-3.3zM150.0 99.7h3.3v4.0h-3.3zM150.0 128.3h3.3v4.0h-3.3zM150.0 139.0h3.3v4.0h-3.3zM152.9 3.4h3.3v4.0h-3.3zM152.9 24.8h3.3v4.0h-3.3zM152.9 35.5h3.3v4.0h-3.3zM152.9 60.5h3.3v4.0h-3.3zM152.9 121.1h3.3v4.0h-3.3zM155.8 -0.2h3.3v4.0h-3.3zM155.8 21.2h3.3v4.0h-3.3zM155.8 35.5h3.3v4.0h-3.3zM155.8 49.8h3.3v4.0h-3.3zM155.8 85.4h3.3v4.0h-3.3zM155.8 96.2h3.3v4.0h-3.3zM155.8 121.1h3.3v4.0h-3.3zM155.8 156.8h3.3v4.0h-3.3zM155.8 160.4h3.3v4.0h-3.3zM155.8 164.0h3.3v4.0h-3.3zM155.8 178.2h3.3v4.0h-3.3zM158.7 -0.2h3.3v4.0h-3.3zM158.7 24.8h3.3v4.0h-3.3zM158.7 67.6h3.3v4.0h-3.3zM158.7 78.3h3.3v4.0h-3.3zM158.7 156.8h3.3v4.0h-3.3zM161.6 -0.2h3.3v4.0h-3.3zM161.6 42.6h3.3v4.0h-3.3zM161.6 71.2h3.3v4.0h-3.3zM161.6 85.4h3.3v4.0h-3.3zM161.6 92.6h3.3v4.0h-3.3zM161.6 117.6h3.3v4.0h-3.3zM161.6 135.4h3.3v4.0h-3.3zM164.5 31.9h3.3v4.0h-3.3zM164.5 35.5h3.3v4.0h-3.3zM164.5 110.4h3.3v4.0h-3.3zM164.5 121.1h3.3v4.0h-3.3zM164.5 149.7h3.3v4.0h-3.3zM164.5 160.4h3.3v4.0h-3.3zM167.4 -0.2h3.3v4.0h-3.3zM167.4 14.1h3.3v4.0h-3.3zM167.4 21.2h3.3v4.0h-3.3zM167.4 49.8h3.3v4.0h-3.3zM167.4 89.0h3.3v4.0h-3.3zM167.4 92.6h3.3v4.0h-3.3zM167.4 99.7h3.3v4.0h-3.3zM167.4 110.4h3.3v4.0h-3.3zM167.4 124.7h3.3v4.0h-3.3zM167.4 135.4h3.3v4.0h-3.3zM167.4 153.3h3.3v4.0h-3.3zM170.2 56.9h3.3v4.0h-3.3zM170.2 81.9h3.3v4.0h-3.3zM170.2 110.4h3.3v4.0h-3.3zM170.2 146.1h3.3v4.0h-3.3zM173.1 10.5h3.3v4.0h-3.3zM173.1 14.1h3.3v4.0h-3.3zM173.1 21.2h3.3v4.0h-3.3zM173.1 28.3h3.3v4.0h-3.3zM173.1 49.8h3.3v4.0h-3.3zM173.1 56.9h3.3v4.0h-3.3zM173.1 60.5h3.3v4.0h-3.3zM173.1 74.7h3.3v4.0h-3.3zM173.1 110.4h3.3v4.0h-3.3zM173.1 114.0h3.3v4.0h-3.3zM173.1 128.3h3.3v4.0h-3.3zM173.1 156.8h3.3v4.0h-3.3zM176.0 10.5h3.3v4.0h-3.3zM176.0 24.8h3.3v4.0h-3.3zM176.0 28.3h3.3v4.0h-3.3zM176.0 74.7h3.3v4.0h-3.3zM176.0 110.4h3.3v4.0h-3.3zM176.0 160.4h3.3v4.0h-3.3zM176.0 174.7h3.3v4.0h-3.3zM176.0 178.2h3.3v4.0h-3.3zM178.9 21.2h3.3v4.0h-3.3zM178.9 39.1h3.3v4.0h-3.3zM178.9 49.8h3.3v4.0h-3.3zM178.9 81.9h3.3v4.0h-3.3zM178.9 85.4h3.3v4.0h-3.3zM178.9 96.2h3.3v4.0h-3.3zM178.9 153.3h3.3v4.0h-3.3zM178.9 156.8h3.3v4.0h-3.3zM178.9 160.4h3.3v4.0h-3.3zM178.9 178.2h3.3v4.0h-3.3z"/>
<path fill="#0ad358" d="M-0.2 10.5h3.3v4.0h-3.3zM69.1 96.2h3.3v4.0h-3.3zM150.0 117.6h3.3v4.0h-3.3zM176.0 85.4h3.3v4.0h-3.3zM178.9 24.8h3.3v4.0h-3.3z"/>
<path fill="#34a0d8" d="M-0.2 14.1h3.3v4.0h-3.3zM-0.2 42.6h3.3v4.0h-3.3zM-0.2 56.9h3.3v4.0h-3.3zM-0.2 89.0h3.3v4.0h-3.3zM-0.2 106.9h3.3v4.0h-3.3zM-0.2 149.7h3.3v4.0h-3.3zM2.7 17.6h3.3v4.0h-3.3zM2.7 85.4h3.3v4.0h-3.3zM2.7 96.2h3.3v4.0h-3.3zM2.7 128.3h3.3v4.0h-3.3zM2.7 153.3h3.3v4.0h-3.3zM5.6 -0.2h3.3v4.0h-3.3zM5.6 28.3h3.3v4.0h-3.3zM5.6 31.9h3.3v4.0h-3.3zM5.6 85.4h3.3v4.0h-3.3zM5.6 114.0h3.3v4.0h-3.3zM8.5 24.8h3.3v4.0h-3.3zM8.5 46.2h3.3v4.0h-3.3zM8.5 56.9h3.3v4.0h-3.3zM8.5 60.5h3.3v4.0h-3.3zM8.5 81.9h3.3v4.0h-3.3zM8.5 142.5h3.3v4.0h-3.3zM8.5 153.3h3.3v4.0h-3.3zM11.4 60.5h3.3v4.0h-3.3zM11.4 71.2h3.3v4.0h-3.3zM11.4 106.9h3.3v4.0h-3.3zM14.2 89.0h3.3v4.0h-3.3zM14.2 146.1h3.3v4.0h-3.3zM17.1 6.9h3.3v4.0h-3.3zM17.1 14.1h3.3v4.0h-3.3zM17.1 92.6h3.3v4.0h-3.3zM17.1 114.0h3.3v4.0h-3.3zM20.0 10.5h3.3v4.0h-3.3zM20.0 14.1h3.3v4.0h-3.3zM20.0 74.7h3.3v4.0h-3.3zM20.0 81.9h3.3v4.0h-3.3zM20.0 89.0h3.3v4.0h-3.3zM20.0 92.6h3.3v4.0h-3.3zM22.9 42.6h3.3v4.0h-3.3zM22.9 49.8h3.3v4.0h-3.3zM22.9 78.3h3.3v4.0h-3.3zM22.9 171.1h3.3v4.0h-3.3zM22.9 178.2h3.3v4.0h-3.3zM25.8 39.1h3.3v4.0h-3.3zM25.8 46.2h3.3v4.0h-3.3zM25.8 56.9h3.3v4.0h-3.3zM25.8 74.7h3.3v4.0h-3.3zM25.8 131.8h3.3v4.0h-3.3zM25.8 156.8h3.3v4.0h-3.3zM28.7 28.3h3.3v4.0h-3.3zM28.7 39.1h3.3v4.0h-3.3zM28.7 49.8h3.3v4.0h-3.3zM28.7 60.5h3.3v4.0h-3.3zM28.7 106.9h3.3v4.0h-3.3zM28.7 114.0h3.3v4.0h-3.3zM28.7 117.6h3.3v4.0h-3.3zM31.6 39.1h3.3v4.0h-3.3zM31.6 67.6h3.3v4.0h-3.3zM31.6 92.6h3.3v4.0h-3.3zM31.6 117.6h3.3v4.0h-3.3zM31.6 121.1h3.3v4.0h-3.3zM34.5 10.5h3.3v4.0h-3.3zM34.5 56.9h3.3v4.0h-3.3zM34.5 60.5h3.3v4.0h-3.3zM34.5 99.7h3.3v4.0h-3.3zM34.5 142.5h3.3v4.0h-3.3zM34.5 178.2h3.3v4.0h-3.3zM37.4 6.9h3.3v4.0h-3.3zM37.4 17.6h3.3v4.0h-3.3zM37.4 78.3h3.3v4.0h-3.3zM37.4 146.1h3.3v4.0h-3.3zM37.4 160.4h3.3v4.0h-3.3zM40.2 64.0h3.3v4.0h-3.3zM40.2 78.3h3.3v4.0h-3.3zM40.2 89.0h3.3v4.0h-3.3zM40.2 92.6h3.3v4.0h-3.3zM40.2 128.3h3.3v4.0h-3.3zM40.2 160.4h3.3v4.0h-3.3zM43.1 46.2h3.3v4.0h-3.3zM43.1 60.5h3.3v4.0h-3.3zM43.1 110.4h3.3v4.0h-3.3zM43.1 131.8h3.3v4.0h-3.3zM43.1 146.1h3.3v4.0h-3.3zM43.1 156.8h3.3v4.0h-3.3zM46.0 21.2h3.3v4.0h-3.3zM46.0 81.9h3.3v4.0h-3.3zM46.0 92.6h3.3v4.0h-3.3zM46.0 156.8h3.3v4.0h-3.3zM48.9 -0.2h3.3v4.0h-3.3zM48.9 28.3h3.3v4.0h-3.3zM48.9 39.1h3.3v4.0h-3.3zM48.9 124.7h3.3v4.0h-3.3zM51.8 14.1h3.3v4.0h-3.3zM51.8 71.2h3.3v4.0h-3.3zM51.8 81.9h3.3v4.0h-3.3zM54.7 124.7h3.3v4.0h-3.3zM54.7 178.2h3.3v4.0h-3.3zM57.6 24.8h3.3v4.0h-3.3zM57.6 106.9h3.3v4.0h-3.3zM57.6 121.1h3.3v4.0h-3.3zM57.6 142.5h3.3v4.0h-3.3zM57.6 160.4h3.3v4.0h-3.3zM57.6 167.5h3.3v4.0h-3.3zM60.5 24.8h3.3v4.0h-3.3zM60.5 117.6h3.3v4.0h-3.3zM60.5 135.4h3.3v4.0h-3.3zM63.4 10.5h3.3v4.0h-3.3zM63.4 21.2h3.3v4.0h-3.3zM63.4 78.3h3.3v4.0h-3.3zM63.4 114.0h3.3v4.0h-3.3zM66.2 -0.2h3.3v4.0h-3.3zM66.2 3.4h3.3v4.0h-3.3zM66.2 74.7h3.3v4.0h-3.3zM66.2 139.0h3.3v4.0h-3.3zM66.2 167.5h3.3v4.0h-3.3zM69.1 17.6h3.3v4.0h-3.3zM69.1 24.8h3.3v4.0h-3.3zM69.1 42.6h3.3v4.0h-3.3zM69.1 53.3h3.3v4.0h-3.3zM69.1 99.7h3.3v4.0h-3.3zM69.1 124.7h3.3v4.0h-3.3zM69.1 146.1h3.3v4.0h-3.3zM72.0 103.3h3.3v4.0h-3.3zM72.0 131.8h3.3v4.0h-3.3zM72.0 153.3h3.3v4.0h-3.3zM74.9 28.3h3.3v4.0h-3.3zM74.9 42.6h3.3v4.0h-3.3zM74.9 92.6h3.3v4.0h-3.3zM74.9 96.2h3.3v4.0h-3.3zM74.9 117.6h3.3v4.0h-3.3zM74.9 135.4h3.3v4.0h-3.3zM74.9 164.0h3.3v4.0h-3.3zM77.8 96.2h3.3v4.0h-3.3zM77.8 124.7h3.3v4.0h-3.3zM77.8 160.4h3.3v4.0h-3.3zM80.7 14.1h3.3v4.0h-3.3zM80.7 17.6h3.3v4.0h-3.3zM80.7 56.9h3.3v4.0h-3.3zM80.7 128.3h3.3v4.0h-3.3zM80.7 171.1h3.3v4.0h-3.3zM83.6 31.9h3.3v4.0h-3.3zM83.6 89.0h3.3v4.0h-3.3zM83.6 96.2h3.3v4.0h-3.3zM86.5 17.6h3.3v4.0h-3.3zM86.5 78.3h3.3v4.0h-3.3zM86.5 103.3h3.3v4.0h-3.3zM86.5 149.7h3.3v4.0h-3.3zM89.4 24.8h3.3v4.0h-3.3zM89.4 46.2h3.3v4.0h-3.3zM89.4 110.4h3.3v4.0h-3.3zM92.2 92.6h3.3v4.0h-3.3zM95.1 17.6h3.3v4.0h-3.3zM95.1 31.9h3.3v4.0h-3.3zM95.1 49.8h3.3v4.0h-3.3zM95.1 124.7h3.3v4.0h-3.3zM98.0 3.4h3.3v4.0h-3.3zM98.0 14.1h3.3v4.0h-3.3zM98.0 49.8h3.3v4.0h-3.3zM100.9 17.6h3.3v4.0h-3.3zM103.8 96.2h3.3v4.0h-3.3zM103.8 106.9h3.3v4.0h-3.3zM106.7 17.6h3.3v4.0h-3.3zM106.7 96.2h3.3v4.0h-3.3zM106.7 106.9h3.3v4.0h-3.3zM109.6 14.1h3.3v4.0h-3.3zM109.6 110.4h3.3v4.0h-3.3zM109.6 149.7h3.3v4.0h-3.3zM112.5 17.6h3.3v4.0h-3.3zM112.5 74.7h3.3v4.0h-3.3zM112.5 156.8h3.3v4.0h-3.3zM115.4 71.2h3.3v4.0h-3.3zM115.4 124.7h3.3v4.0h-3.3zM115.4 149.7h3.3v4.0h-3.3zM118.2 53.3h3.3v4.0h-3.3zM118.2 67.6h3.3v4.0h-3.3zM118.2 81.9h3.3v4.0h-3.3zM118.2 110.4h3.3v4.0h-3.3zM121.1 28.3h3.3v4.0h-3.3zM121.1 35.5h3.3v4.0h-3.3zM121.1 121.1h3.3v4.0h-3.3zM121.1 160.4h3.3v4.0h-3.3zM124.0 -0.2h3.3v4.0h-3.3zM124.0 10.5h3.3v4.0h-3.3zM124.0 17.6h3.3v4.0h-3.3zM124.0 74.7h3.3v4.0h-3.3zM124.0 124.7h3.3v4.0h-3.3zM124.0 131.8h3.3v4.0h-3.3zM124.0 146.1h3.3v4.0h-3.3zM126.9 14.1h3.3v4.0h-3.3zM129.8 39.1h3.3v4.0h-3.3zM129.8 46.2h3.3v4.0h-3.3zM129.8 81.9h3.3v4.0h-3.3zM129.8 89.0h3.3v4.0h-3.3zM129.8 117.6h3.3v4.0h-3.3zM129.8 146.1h3.3v4.0h-3.3zM129.8 149.7h3.3v4.0h-3.3zM129.8 160.4h3.3v4.0h-3.3zM132.7 3.4h3.3v4.0h-3.3zM132.7 6.9h3.3v4.0h-3.3zM132.7 14.1h3.3v4.0h-3.3zM132.7 28.3h3.3v4.0h-3.3zM132.7 117.6h3.3v4.0h-3.3zM132.7 142.5h3.3v4.0h-3.3zM135.6 -0.2h3.3v4.0h-3.3zM135.6 14.1h3.3v4.0h-3.3zM135.6 53.3h3.3v4.0h-3.3zM135.6 103.3h3.3v4.0h-3.3zM135.6 106.9h3.3v4.0h-3.3zM138.5 10.5h3.3v4.0h-3.3zM138.5 96.2h3.3v4.0h-3.3zM138.5 121.1h3.3v4.0h-3.3zM138.5 128.3h3.3v4.0h-3.3zM141.4 10.5h3.3v4.0h-3.3zM141.4 103.3h3.3v4.0h-3.3zM141.4 160.4h3.3v4.0h-3.3zM144.2 106.9h3.3v4.0h-3.3zM144.2 160.4h3.3v4.0h-3.3zM147.1 21.2h3.3v4.0h-3.3zM147.1 46.2h3.3v4.0h-3.3zM147.1 74.7h3.3v4.0h-3.3zM147.1 103.3h3.3v4.0h-3.3zM147.1 106.9h3.3v4.0h-3.3zM147.1 110.4h3.3v4.0h-3.3zM147.1 135.4h3.3v4.0h-3.3zM147.1 139.0h3.3v4.0h-3.3zM147.1 174.7h3.3v4.0h-3.3zM150.0 21.2h3.3v4.0h-3.3zM150.0 49.8h3.3v4.0h-3.3zM150.0 56.9h3.3v4.0h-3.3zM150.0 78.3h3.3v4.0h-3.3zM150.0 114.0h3.3v4.0h-3.3zM150.0 142.5h3.3v4.0h-3.3zM152.9 17.6h3.3v4.0h-3.3zM152.9 28.3h3.3v4.0h-3.3zM152.9 64.0h3.3v4.0h-3.3zM152.9 89.0h3.3v4.0h-3.3zM152.9 117.6h3.3v4.0h-3.3zM152.9 131.8h3.3v4.0h-3.3zM152.9 153.3h3.3v4.0h-3.3zM155.8 60.5h3.3v4.0h-3.3zM155.8 135.4h3.3v4.0h-3.3zM158.7 21.2h3.3v4.0h-3.3zM158.7 35.5h3.3v4.0h-3.3zM158.7 74.7h3.3v4.0h-3.3zM158.7 96.2h3.3v4.0h-3.3zM158.7 121.1h3.3v4.0h-3.3zM161.6 21.2h3.3v4.0h-3.3zM161.6 39.1h3.3v4.0h-3.3zM161.6 60.5h3.3v4.0h-3.3zM161.6 89.0h3.3v4.0h-3.3zM161.6 121.1h3.3v4.0h-3.3zM161.6 128.3h3.3v4.0h-3.3zM161.6 171.1h3.3v4.0h-3.3zM161.6 178.2h3.3v4.0h-3.3zM164.5 3.4h3.3v4.0h-3.3zM164.5 17.6h3.3v4.0h-3.3zM164.5 42.6h3.3v4.0h-3.3zM164.5 81.9h3.3v4.0h-3.3zM164.5 146.1h3.3v4.0h-3.3zM167.4 39.1h3.3v4.0h-3.3zM167.4 106.9h3.3v4.0h-3.3zM167.4 164.0h3.3v4.0h-3.3zM167.4 171.1h3.3v4.0h-3.3zM170.2 24.8h3.3v4.0h-3.3zM170.2 31.9h3.3v4.0h-3.3zM170.2 35.5h3.3v4.0h-3.3zM170.2 64.0h3.3v4.0h-3.3zM170.2 96.2h3.3v4.0h-3.3zM170.2 149.7h3.3v4.0h-3.3zM170.2 174.7h3.3v4.0h-3.3zM173.1 35.5h3.3v4.0h-3.3zM173.1 71.2h3.3v4.0h-3.3zM173.1 78.3h3.3v4.0h-3.3zM173.1 99.7h3.3v4.0h-3.3zM173.1 142.5h3.3v4.0h-3.3zM173.1 153.3h3.3v4.0h-3.3zM176.0 3.4h3.3v4.0h-3.3zM176.0 31.9h3.3v4.0h-3.3zM176.0 39.1h3.3v4.0h-3.3zM176.0 42.6h3.3v4.0h-3.3zM176.0 139.0h3.3v4.0h-3.3zM178.9 6.9h3.3v4.0h-3.3zM178.9 31.9h3.3v4.0h-3.3zM178.9 53.3h3.3v4.0h-3.3zM178.9 139.0h3.3v4.0h-3.3z"/>
<path fill="#1024bc" d="M-0.2 17.6h3.3v4.0h-3.3zM-0.2 49.8h3.3v4.0h-3.3zM5.6 89.0h3.3v4.0h-3.3zM5.6 106.9h3.3v4.0h-3.3zM5.6 149.7h3.3v4.0h-3.3zM11.4 64.0h3.3v4.0h-3.3zM11.4 89.0h3.3v4.0h-3.3zM11.4 96.2h3.3v4.0h-3.3zM11.4 128.3h3.3v4.0h-3.3zM14.2 78.3h3.3v4.0h-3.3zM14.2 81.9h3.3v4.0h-3.3zM14.2 121.1h3.3v4.0h-3.3zM14.2 124.7h3.3v4.0h-3.3zM17.1 3.4h3.3v4.0h-3.3zM17.1 35.5h3.3v4.0h-3.3zM17.1 56.9h3.3v4.0h-3.3zM17.1 89.0h3.3v4.0h-3.3zM17.1 124.7h3.3v4.0h-3.3zM17.1 128.3h3.3v4.0h-3.3zM20.0 53.3h3.3v4.0h-3.3zM20.0 103.3h3.3v4.0h-3.3zM20.0 128.3h3.3v4.0h-3.3zM20.0 167.5h3.3v4.0h-3.3zM22.9 3.4h3.3v4.0h-3.3zM22.9 17.6h3.3v4.0h-3.3zM22.9 92.6h3.3v4.0h-3.3zM22.9 131.8h3.3v4.0h-3.3zM25.8 167.5h3.3v4.0h-3.3zM28.7 35.5h3.3v4.0h-3.3zM28.7 92.6h3.3v4.0h-3.3zM28.7 121.1h3.3v4.0h-3.3zM31.6 17.6h3.3v4.0h-3.3zM31.6 31.9h3.3v4.0h-3.3zM31.6 78.3h3.3v4.0h-3.3zM31.6 156.8h3.3v4.0h-3.3zM34.5 -0.2h3.3v4.0h-3.3zM34.5 128.3h3.3v4.0h-3.3zM34.5 153.3h3.3v4.0h-3.3zM34.5 171.1h3.3v4.0h-3.3zM37.4 46.2h3.3v4.0h-3.3zM37.4 96.2h3.3v4.0h-3.3zM37.4 128.3h3.3v4.0h-3.3zM37.4 135.4h3.3v4.0h-3.3zM40.2 10.5h3.3v4.0h-3.3zM40.2 60.5h3.3v4.0h-3.3zM40.2 85.4h3.3v4.0h-3.3zM40.2 153.3h3.3v4.0h-3.3zM40.2 156.8h3.3v4.0h-3.3zM40.2 174.7h3.3v4.0h-3.3zM43.1 17.6h3.3v4.0h-3.3zM43.1 31.9h3.3v4.0h-3.3zM46.0 10.5h3.3v4.0h-3.3zM46.0 96.2h3.3v4.0h-3.3zM46.0 128.3h3.3v4.0h-3.3zM48.9 67.6h3.3v4.0h-3.3zM48.9 103.3h3.3v4.0h-3.3zM48.9 106.9h3.3v4.0h-3.3zM48.9 110.4h3.3v4.0h-3.3zM48.9 178.2h3.3v4.0h-3.3zM51.8 3.4h3.3v4.0h-3.3zM51.8 74.7h3.3v4.0h-3.3zM54.7 31.9h3.3v4.0h-3.3zM54.7 60.5h3.3v4.0h-3.3zM54.7 64.0h3.3v4.0h-3.3zM54.7 99.7h3.3v4.0h-3.3zM54.7 103.3h3.3v4.0h-3.3zM54.7 160.4h3.3v4.0h-3.3zM57.6 96.2h3.3v4.0h-3.3zM60.5 17.6h3.3v4.0h-3.3zM60.5 160.4h3.3v4.0h-3.3zM63.4 131.8h3.3v4.0h-3.3zM63.4 167.5h3.3v4.0h-3.3zM66.2 121.1h3.3v4.0h-3.3zM66.2 135.4h3.3v4.0h-3.3zM69.1 35.5h3.3v4.0h-3.3zM69.1 92.6h3.3v4.0h-3.3zM69.1 114.0h3.3v4.0h-3.3zM72.0 28.3h3.3v4.0h-3.3zM72.0 39.1h3.3v4.0h-3.3zM72.0 89.0h3.3v4.0h-3.3zM74.9 17.6h3.3v4.0h-3.3zM74.9 46.2h3.3v4.0h-3.3zM74.9 53.3h3.3v4.0h-3.3zM77.8 46.2h3.3v4.0h-3.3zM77.8 60.5h3.3v4.0h-3.3zM77.8 139.0h3.3v4.0h-3.3zM80.7 -0.2h3.3v4.0h-3.3zM80.7 28.3h3.3v4.0h-3.3zM80.7 78.3h3.3v4.0h-3.3zM80.7 110.4h3.3v4.0h-3.3zM80.7 131.8h3.3v4.0h-3.3zM80.7 149.7h3.3v4.0h-3.3zM80.7 156.8h3.3v4.0h-3.3zM80.7 164.0h3.3v4.0h-3.3zM83.6 -0.2h3.3v4.0h-3.3zM83.6 103.3h3.3v4.0h-3.3zM83.6 178.2h3.3v4.0h-3.3zM86.5 3.4h3.3v4.0h-3.3zM86.5 131.8h3.3v4.0h-3.3zM89.4 89.0h3.3v4.0h-3.3zM89.4 99.7h3.3v4.0h-3.3zM89.4 106.9h3.3v4.0h-3.3zM89.4 131.8h3.3v4.0h-3.3zM89.4 139.0h3.3v4.0h-3.3zM89.4 178.2h3.3v4.0h-3.3zM92.2 64.0h3.3v4.0h-3.3zM92.2 128.3h3.3v4.0h-3.3zM92.2 142.5h3.3v4.0h-3.3zM95.1 6.9h3.3v4.0h-3.3zM95.1 153.3h3.3v4.0h-3.3zM95.1 178.2h3.3v4.0h-3.3zM98.0 28.3h3.3v4.0h-3.3zM98.0 39.1h3.3v4.0h-3.3zM98.0 114.0h3.3v4.0h-3.3zM98.0 171.1h3.3v4.0h-3.3zM100.9 21.2h3.3v4.0h-3.3zM100.9 106.9h3.3v4.0h-3.3zM100.9 146.1h3.3v4.0h-3.3zM103.8 -0.2h3.3v4.0h-3.3zM103.8 10.5h3.3v4.0h-3.3zM103.8 53.3h3.3v4.0h-3.3zM103.8 89.0h3.3v4.0h-3.3zM109.6 42.6h3.3v4.0h-3.3zM109.6 74.7h3.3v4.0h-3.3zM109.6 85.4h3.3v4.0h-3.3zM109.6 153.3h3.3v4.0h-3.3zM112.5 35.5h3.3v4.0h-3.3zM112.5 71.2h3.3v4.0h-3.3zM112.5 81.9h3.3v4.0h-3.3zM112.5 96.2h3.3v4.0h-3.3zM112.5 117.6h3.3v4.0h-3.3zM112.5 160.4h3.3v4.0h-3.3zM115.4 -0.2h3.3v4.0h-3.3zM115.4 10.5h3.3v4.0h-3.3zM115.4 74.7h3.3v4.0h-3.3zM115.4 85.4h3.3v4.0h-3.3zM115.4 131.8h3.3v4.0h-3.3zM115.4 153.3h3.3v4.0h-3.3zM118.2 71.2h3.3v4.0h-3.3zM118.2 92.6h3.3v4.0h-3.3zM121.1 156.8h3.3v4.0h-3.3zM121.1 164.0h3.3v4.0h-3.3zM124.0 28.3h3.3v4.0h-3.3zM124.0 46.2h3.3v4.0h-3.3zM124.0 92.6h3.3v4.0h-3.3zM124.0 160.4h3.3v4.0h-3.3zM126.9 64.0h3.3v4.0h-3.3zM126.9 78.3h3.3v4.0h-3.3zM126.9 114.0h3.3v4.0h-3.3zM129.8 131.8h3.3v4.0h-3.3zM129.8 135.4h3.3v4.0h-3.3zM132.7 -0.2h3.3v4.0h-3.3zM132.7 10.5h3.3v4.0h-3.3zM132.7 64.0h3.3v4.0h-3.3zM132.7 92.6h3.3v4.0h-3.3zM132.7 106.9h3.3v4.0h-3.3zM132.7 131.8h3.3v4.0h-3.3zM132.7 153.3h3.3v4.0h-3.3zM132.7 171.1h3.3v4.0h-3.3zM135.6 92.6h3.3v4.0h-3.3zM138.5 39.1h3.3v4.0h-3.3zM141.4 46.2h3.3v4.0h-3.3zM141.4 96.2h3.3v4.0h-3.3zM144.2 74.7h3.3v4.0h-3.3zM144.2 85.4h3.3v4.0h-3.3zM144.2 142.5h3.3v4.0h-3.3zM144.2 153.3h3.3v4.0h-3.3zM147.1 28.3h3.3v4.0h-3.3zM150.0 3.4h3.3v4.0h-3.3zM150.0 131.8h3.3v4.0h-3.3zM155.8 31.9h3.3v4.0h-3.3zM155.8 74.7h3.3v4.0h-3.3zM155.8 131.8h3.3v4.0h-3.3zM158.7 39.1h3.3v4.0h-3.3zM158.7 42.6h3.3v4.0h-3.3zM158.7 139.0h3.3v4.0h-3.3zM161.6 31.9h3.3v4.0h-3.3zM161.6 153.3h3.3v4.0h-3.3zM164.5 60.5h3.3v4.0h-3.3zM164.5 153.3h3.3v4.0h-3.3zM164.5 174.7h3.3v4.0h-3.3zM167.4 24.8h3.3v4.0h-3.3zM167.4 31.9h3.3v4.0h-3.3zM170.2 14.1h3.3v4.0h-3.3zM170.2 135.4h3.3v4.0h-3.3zM173.1 39.1h3.3v4.0h-3.3zM173.1 42.6h3.3v4.0h-3.3zM173.1 160.4h3.3v4.0h-3.3zM176.0 92.6h3.3v4.0h-3.3zM176.0 106.9h3.3v4.0h-3.3zM178.9 35.5h3.3v4.0h-3.3z"/>
<path fill="#03d795" d="M-0.2 24.8h3.3v4.0h-3.3zM103.8 67.6h3.3v4.0h-3.3z"/>
<path fill="#2044d0" d="M-0.2 28.3h3.3v4.0h-3.3zM-0.2 160.4h3.3v4.0h-3.3zM-0.2 178.2h3.3v4.0h-3.3zM2.7 14.1h3.3v4.0h-3.3zM2.7 53.3h3.3v4.0h-3.3zM2.7 67.6h3.3v4.0h-3.3zM2.7 92.6h3.3v4.0h-3.3zM2.7 106.9h3.3v4.0h-3.3zM2.7 124.7h3.3v4.0h-3.3zM2.7 142.5h3.3v4.0h-3.3zM5.6 6.9h3.3v4.0h-3.3zM5.6 39.1h3.3v4.0h-3.3zM5.6 92.6h3.3v4.0h-3.3zM5.6 146.1h3.3v4.0h-3.3zM5.6 174.7h3.3v4.0h-3.3zM8.5 10.5h3.3v4.0h-3.3zM8.5 21.2h3.3v4.0h-3.3zM8.5 64.0h3.3v4.0h-3.3zM8.5 99.7h3.3v4.0h-3.3zM8.5 128.3h3.3v4.0h-3.3zM8.5 139.0h3.3v4.0h-3.3zM8.5 167.5h3.3v4.0h-3.3zM8.5 178.2h3.3v4.0h-3.3zM11.4 14.1h3.3v4.0h-3.3zM11.4 17.6h3.3v4.0h-3.3zM11.4 31.9h3.3v4.0h-3.3zM11.4 35.5h3.3v4.0h-3.3zM11.4 53.3h3.3v4.0h-3.3zM11.4 56.9h3.3v4.0h-3.3zM11.4 85.4h3.3v4.0h-3.3zM11.4 99.7h3.3v4.0h-3.3zM11.4 110.4h3.3v4.0h-3.3zM11.4 149.7h3.3v4.0h-3.3zM11.4 171.1h3.3v4.0h-3.3zM14.2 28.3h3.3v4.0h-3.3zM14.2 56.9h3.3v4.0h-3.3zM14.2 67.6h3.3v4.0h-3.3zM14.2 96.2h3.3v4.0h-3.3zM14.2 128.3h3.3v4.0h-3.3zM14.2 149.7h3.3v4.0h-3.3zM14.2 153.3h3.3v4.0h-3.3zM14.2 174.7h3.3v4.0h-3.3zM17.1 28.3h3.3v4.0h-3.3zM17.1 96.2h3.3v4.0h-3.3zM17.1 99.7h3.3v4.0h-3.3zM17.1 142.5h3.3v4.0h-3.3zM17.1 174.7h3.3v4.0h-3.3zM20.0 -0.2h3.3v4.0h-3.3zM20.0 35.5h3.3v4.0h-3.3zM20.0 46.2h3.3v4.0h-3.3zM20.0 146.1h3.3v4.0h-3.3zM20.0 171.1h3.3v4.0h-3.3zM22.9 14.1h3.3v4.0h-3.3zM22.9 35.5h3.3v4.0h-3.3zM22.9 71.2h3.3v4.0h-3.3zM22.9 99.7h3.3v4.0h-3.3zM22.9 110.4h3.3v4.0h-3.3zM25.8 10.5h3.3v4.0h-3.3zM25.8 81.9h3.3v4.0h-3.3zM25.8 85.4h3.3v4.0h-3.3zM25.8 92.6h3.3v4.0h-3.3zM25.8 124.7h3.3v4.0h-3.3zM25.8 160.4h3.3v4.0h-3.3zM25.8 174.7h3.3v4.0h-3.3zM28.7 -0.2h3.3v4.0h-3.3zM28.7 10.5h3.3v4.0h-3.3zM28.7 14.1h3.3v4.0h-3.3zM28.7 24.8h3.3v4.0h-3.3zM28.7 74.7h3.3v4.0h-3.3zM28.7 124.7h3.3v4.0h-3.3zM28.7 171.1h3.3v4.0h-3.3zM28.7 178.2h3.3v4.0h-3.3zM31.6 -0.2h3.3v4.0h-3.3zM31.6 3.4h3.3v4.0h-3.3zM31.6 89.0h3.3v4.0h-3.3zM31.6 124.7h3.3v4.0h-3.3zM31.6 139.0h3.3v4.0h-3.3zM31.6 167.5h3.3v4.0h-3.3zM34.5 6.9h3.3v4.0h-3.3zM34.5 21.2h3.3v4.0h-3.3zM34.5 24.8h3.3v4.0h-3.3zM34.5 64.0h3.3v4.0h-3.3zM34.5 160.4h3.3v4.0h-3.3zM37.4 -0.2h3.3v4.0h-3.3zM37.4 81.9h3.3v4.0h-3.3zM37.4 85.4h3.3v4.0h-3.3zM37.4 110.4h3.3v4.0h-3.3zM40.2 31.9h3.3v4.0h-3.3zM40.2 35.5h3.3v4.0h-3.3zM40.2 42.6h3.3v4.0h-3.3zM40.2 53.3h3.3v4.0h-3.3zM40.2 81.9h3.3v4.0h-3.3zM40.2 135.4h3.3v4.0h-3.3zM40.2 142.5h3.3v4.0h-3.3zM43.1 24.8h3.3v4.0h-3.3zM43.1 39.1h3.3v4.0h-3.3zM43.1 56.9h3.3v4.0h-3.3zM43.1 99.7h3.3v4.0h-3.3zM43.1 135.4h3.3v4.0h-3.3zM43.1 167.5h3.3v4.0h-3.3zM46.0 3.4h3.3v4.0h-3.3zM46.0 6.9h3.3v4.0h-3.3zM46.0 31.9h3.3v4.0h-3.3zM46.0 46.2h3.3v4.0h-3.3zM46.0 64.0h3.3v4.0h-3.3zM46.0 85.4h3.3v4.0h-3.3zM46.0 153.3h3.3v4.0h-3.3zM46.0 164.0h3.3v4.0h-3.3zM48.9 31.9h3.3v4.0h-3.3zM48.9 74.7h3.3v4.0h-3.3zM48.9 92.6h3.3v4.0h-3.3zM48.9 139.0h3.3v4.0h-3.3zM51.8 31.9h3.3v4.0h-3.3zM51.8 78.3h3.3v4.0h-3.3zM51.8 99.7h3.3v4.0h-3.3zM51.8 114.0h3.3v4.0h-3.3zM51.8 153.3h3.3v4.0h-3.3zM54.7 3.4h3.3v4.0h-3.3zM54.7 17.6h3.3v4.0h-3.3zM54.7 49.8h3.3v4.0h-3.3zM54.7 74.7h3.3v4.0h-3.3zM54.7 131.8h3.3v4.0h-3.3zM54.7 135.4h3.3v4.0h-3.3zM54.7 164.0h3.3v4.0h-3.3zM57.6 10.5h3.3v4.0h-3.3zM57.6 21.2h3.3v4.0h-3.3zM57.6 49.8h3.3v4.0h-3.3zM57.6 67.6h3.3v4.0h-3.3zM57.6 81.9h3.3v4.0h-3.3zM57.6 85.4h3.3v4.0h-3.3zM57.6 131.8h3.3v4.0h-3.3zM57.6 164.0h3.3v4.0h-3.3zM60.5 14.1h3.3v4.0h-3.3zM60.5 31.9h3.3v4.0h-3.3zM60.5 53.3h3.3v4.0h-3.3zM60.5 60.5h3.3v4.0h-3.3zM60.5 96.2h3.3v4.0h-3.3zM60.5 124.7h3.3v4.0h-3.3zM60.5 146.1h3.3v4.0h-3.3zM63.4 3.4h3.3v4.0h-3.3zM63.4 28.3h3.3v4.0h-3.3zM63.4 149.7h3.3v4.0h-3.3zM63.4 156.8h3.3v4.0h-3.3zM66.2 6.9h3.3v4.0h-3.3zM66.2 21.2h3.3v4.0h-3.3zM66.2 28.3h3.3v4.0h-3.3zM66.2 31.9h3.3v4.0h-3.3zM66.2 53.3h3.3v4.0h-3.3zM66.2 89.0h3.3v4.0h-3.3zM66.2 146.1h3.3v4.0h-3.3zM69.1 56.9h3.3v4.0h-3.3zM69.1 106.9h3.3v4.0h-3.3zM69.1 110.4h3.3v4.0h-3.3zM69.1 167.5h3.3v4.0h-3.3zM69.1 171.1h3.3v4.0h-3.3zM72.0 21.2h3.3v4.0h-3.3zM74.9 -0.2h3.3v4.0h-3.3zM74.9 6.9h3.3v4.0h-3.3zM74.9 14.1h3.3v4.0h-3.3zM74.9 64.0h3.3v4.0h-3.3zM74.9 78.3h3.3v4.0h-3.3zM74.9 85.4h3.3v4.0h-3.3zM74.9 89.0h3.3v4.0h-3.3zM74.9 124.7h3.3v4.0h-3.3zM74.9 142.5h3.3v4.0h-3.3zM74.9 171.1h3.3v4.0h-3.3zM77.8 14.1h3.3v4.0h-3.3zM77.8 17.6h3.3v4.0h-3.3zM77.8 31.9h3.3v4.0h-3.3zM77.8 35.5h3.3v4.0h-3.3zM77.8 53.3h3.3v4.0h-3.3zM77.8 64.0h3.3v4.0h-3.3zM77.8 89.0h3.3v4.0h-3.3zM77.8 135.4h3.3v4.0h-3.3zM80.7 21.2h3.3v4.0h-3.3zM80.7 35.5h3.3v4.0h-3.3zM80.7 89.0h3.3v4.0h-3.3zM80.7 121.1h3.3v4.0h-3.3zM80.7 167.5h3.3v4.0h-3.3zM83.6 17.6h3.3v4.0h-3.3zM83.6 21.2h3.3v4.0h-3.3zM83.6 74.7h3.3v4.0h-3.3zM83.6 110.4h3.3v4.0h-3.3zM83.6 131.8h3.3v4.0h-3.3zM83.6 153.3h3.3v4.0h-3.3zM86.5 -0.2h3.3v4.0h-3.3zM86.5 6.9h3.3v4.0h-3.3zM86.5 67.6h3.3v4.0h-3.3zM86.5 81.9h3.3v4.0h-3.3zM86.5 124.7h3.3v4.0h-3.3zM86.5 139.0h3.3v4.0h-3.3zM86.5 171.1h3.3v4.0h-3.3zM86.5 174.7h3.3v4.0h-3.3zM89.4 10.5h3.3v4.0h-3.3zM89.4 39.1h3.3v4.0h-3.3zM89.4 60.5h3.3v4.0h-3.3zM89.4 64.0h3.3v4.0h-3.3zM89.4 67.6h3.3v4.0h-3.3zM89.4 81.9h3.3v4.0h-3.3zM89.4 85.4h3.3v4.0h-3.3zM89.4 103.3h3.3v4.0h-3.3zM89.4 121.1h3.3v4.0h-3.3zM89.4 135.4h3.3v4.0h-3.3zM92.2 28.3h3.3v4.0h-3.3zM92.2 39.1h3.3v4.0h-3.3zM92.2 96.2h3.3v4.0h-3.3zM92.2 103.3h3.3v4.0h-3.3zM92.2 106.9h3.3v4.0h-3.3zM92.2 110.4h3.3v4.0h-3.3zM92.2 124.7h3.3v4.0h-3.3zM95.1 53.3h3.3v4.0h-3.3zM95.1 74.7h3.3v4.0h-3.3zM95.1 131.8h3.3v4.0h-3.3zM98.0 17.6h3.3v4.0h-3.3zM98.0 31.9h3.3v4.0h-3.3zM98.0 128.3h3.3v4.0h-3.3zM98.0 135.4h3.3v4.0h-3.3zM98.0 153.3h3.3v4.0h-3.3zM98.0 164.0h3.3v4.0h-3.3zM100.9 35.5h3.3v4.0h-3.3zM100.9 53.3h3.3v4.0h-3.3zM100.9 64.0h3.3v4.0h-3.3zM100.9 74.7h3.3v4.0h-3.3zM100.9 85.4h3.3v4.0h-3.3zM100.9 92.6h3.3v4.0h-3.3zM100.9 117.6h3.3v4.0h-3.3zM100.9 121.1h3.3v4.0h-3.3zM100.9 128.3h3.3v4.0h-3.3zM100.9 174.7h3.3v4.0h-3.3zM100.9 178.2h3.3v4.0h-3.3zM103.8 3.4h3.3v4.0h-3.3zM103.8 35.5h3.3v4.0h-3.3zM103.8 56.9h3.3v4.0h-3.3zM103.8 160.4h3.3v4.0h-3.3zM103.8 164.0h3.3v4.0h-3.3zM103.8 167.5h3.3v4.0h-3.3zM106.7 24.8h3.3v4.0h-3.3zM106.7 28.3h3.3v4.0h-3.3zM106.7 31.9h3.3v4.0h-3.3zM106.7 121.1h3.3v4.0h-3.3zM106.7 153.3h3.3v4.0h-3.3zM106.7 156.8h3.3v4.0h-3.3zM106.7 178.2h3.3v4.0h-3.3zM109.6 71.2h3.3v4.0h-3.3zM109.6 121.1h3.3v4.0h-3.3zM109.6 160.4h3.3v4.0h-3.3zM109.6 164.0h3.3v4.0h-3.3zM112.5 -0.2h3.3v4.0h-3.3zM112.5 6.9h3.3v4.0h-3.3zM112.5 10.5h3.3v4.0h-3.3zM112.5 28.3h3.3v4.0h-3.3zM112.5 31.9h3.3v4.0h-3.3zM112.5 39.1h3.3v4.0h-3.3zM112.5 46.2h3.3v4.0h-3.3zM112.5 99.7h3.3v4.0h-3.3zM112.5 103.3h3.3v4.0h-3.3zM112.5 153.3h3.3v4.0h-3.3zM115.4 31.9h3.3v4.0h-3.3zM115.4 42.6h3.3v4.0h-3.3zM115.4 53.3h3.3v4.0h-3.3zM115.4 92.6h3.3v4.0h-3.3zM115.4 106.9h3.3v4.0h-3.3zM115.4 156.8h3.3v4.0h-3.3zM115.4 164.0h3.3v4.0h-3.3zM118.2 156.8h3.3v4.0h-3.3zM118.2 160.4h3.3v4.0h-3.3zM118.2 178.2h3.3v4.0h-3.3zM121.1 53.3h3.3v4.0h-3.3zM121.1 74.7h3.3v4.0h-3.3zM121.1 78.3h3.3v4.0h-3.3zM121.1 89.0h3.3v4.0h-3.3zM121.1 96.2h3.3v4.0h-3.3zM121.1 128.3h3.3v4.0h-3.3zM124.0 24.8h3.3v4.0h-3.3zM124.0 35.5h3.3v4.0h-3.3zM124.0 110.4h3.3v4.0h-3.3zM124.0 178.2h3.3v4.0h-3.3zM126.9 6.9h3.3v4.0h-3.3zM126.9 10.5h3.3v4.0h-3.3zM126.9 31.9h3.3v4.0h-3.3zM126.9 71.2h3.3v4.0h-3.3zM126.9 117.6h3.3v4.0h-3.3zM126.9 128.3h3.3v4.0h-3.3zM126.9 156.8h3.3v4.0h-3.3zM129.8 17.6h3.3v4.0h-3.3zM129.8 28.3h3.3v4.0h-3.3zM129.8 56.9h3.3v4.0h-3.3zM129.8 78.3h3.3v4.0h-3.3zM129.8 156.8h3.3v4.0h-3.3zM132.7 85.4h3.3v4.0h-3.3zM132.7 114.0h3.3v4.0h-3.3zM132.7 146.1h3.3v4.0h-3.3zM135.6 31.9h3.3v4.0h-3.3zM135.6 46.2h3.3v4.0h-3.3zM135.6 96.2h3.3v4.0h-3.3zM135.6 121.1h3.3v4.0h-3.3zM135.6 135.4h3.3v4.0h-3.3zM135.6 146.1h3.3v4.0h-3.3zM135.6 153.3h3.3v4.0h-3.3zM138.5 6.9h3.3v4.0h-3.3zM138.5 24.8h3.3v4.0h-3.3zM138.5 31.9h3.3v4.0h-3.3zM138.5 92.6h3.3v4.0h-3.3zM138.5 117.6h3.3v4.0h-3.3zM138.5 135.4h3.3v4.0h-3.3zM138.5 178.2h3.3v4.0h-3.3zM141.4 -0.2h3.3v4.0h-3.3zM141.4 6.9h3.3v4.0h-3.3zM141.4 42.6h3.3v4.0h-3.3zM141.4 78.3h3.3v4.0h-3.3zM141.4 117.6h3.3v4.0h-3.3zM141.4 121.1h3.3v4.0h-3.3zM141.4 135.4h3.3v4.0h-3.3zM141.4 178.2h3.3v4.0h-3.3zM144.2 31.9h3.3v4.0h-3.3zM144.2 35.5h3.3v4.0h-3.3zM144.2 64.0h3.3v4.0h-3.3zM144.2 71.2h3.3v4.0h-3.3zM144.2 110.4h3.3v4.0h-3.3zM144.2 135.4h3.3v4.0h-3.3zM144.2 139.0h3.3v4.0h-3.3zM147.1 24.8h3.3v4.0h-3.3zM147.1 31.9h3.3v4.0h-3.3zM147.1 56.9h3.3v4.0h-3.3zM147.1 60.5h3.3v4.0h-3.3zM147.1 92.6h3.3v4.0h-3.3zM147.1 146.1h3.3v4.0h-3.3zM150.0 14.1h3.3v4.0h-3.3zM150.0 31.9h3.3v4.0h-3.3zM150.0 42.6h3.3v4.0h-3.3zM150.0 110.4h3.3v4.0h-3.3zM150.0 149.7h3.3v4.0h-3.3zM150.0 156.8h3.3v4.0h-3.3zM150.0 178.2h3.3v4.0h-3.3zM152.9 6.9h3.3v4.0h-3.3zM152.9 10.5h3.3v4.0h-3.3zM152.9 21.2h3.3v4.0h-3.3zM152.9 39.1h3.3v4.0h-3.3zM152.9 81.9h3.3v4.0h-3.3zM152.9 139.0h3.3v4.0h-3.3zM152.9 142.5h3.3v4.0h-3.3zM152.9 156.8h3.3v4.0h-3.3zM152.9 164.0h3.3v4.0h-3.3zM152.9 178.2h3.3v4.0h-3.3zM155.8 10.5h3.3v4.0h-3.3zM155.8 28.3h3.3v4.0h-3.3zM155.8 64.0h3.3v4.0h-3.3zM155.8 71.2h3.3v4.0h-3.3zM155.8 78.3h3.3v4.0h-3.3zM155.8 89.0h3.3v4.0h-3.3zM155.8 117.6h3.3v4.0h-3.3zM155.8 128.3h3.3v4.0h-3.3zM155.8 139.0h3.3v4.0h-3.3zM155.8 153.3h3.3v4.0h-3.3zM155.8 167.5h3.3v4.0h-3.3zM158.7 28.3h3.3v4.0h-3.3zM158.7 31.9h3.3v4.0h-3.3zM161.6 3.4h3.3v4.0h-3.3zM161.6 14.1h3.3v4.0h-3.3zM161.6 28.3h3.3v4.0h-3.3zM161.6 74.7h3.3v4.0h-3.3zM161.6 99.7h3.3v4.0h-3.3zM161.6 106.9h3.3v4.0h-3.3zM161.6 131.8h3.3v4.0h-3.3zM161.6 142.5h3.3v4.0h-3.3zM161.6 164.0h3.3v4.0h-3.3zM164.5 21.2h3.3v4.0h-3.3zM164.5 28.3h3.3v4.0h-3.3zM164.5 64.0h3.3v4.0h-3.3zM164.5 156.8h3.3v4.0h-3.3zM164.5 167.5h3.3v4.0h-3.3zM167.4 3.4h3.3v4.0h-3.3zM167.4 35.5h3.3v4.0h-3.3zM167.4 67.6h3.3v4.0h-3.3zM167.4 128.3h3.3v4.0h-3.3zM170.2 -0.2h3.3v4.0h-3.3zM170.2 3.4h3.3v4.0h-3.3zM170.2 28.3h3.3v4.0h-3.3zM170.2 92.6h3.3v4.0h-3.3zM170.2 117.6h3.3v4.0h-3.3zM170.2 131.8h3.3v4.0h-3.3zM170.2 139.0h3.3v4.0h-3.3zM170.2 164.0h3.3v4.0h-3.3zM173.1 17.6h3.3v4.0h-3.3zM173.1 106.9h3.3v4.0h-3.3zM173.1 149.7h3.3v4.0h-3.3zM176.0 -0.2h3.3v4.0h-3.3zM176.0 17.6h3.3v4.0h-3.3zM176.0 78.3h3.3v4.0h-3.3zM176.0 81.9h3.3v4.0h-3.3zM176.0 96.2h3.3v4.0h-3.3zM176.0 114.0h3.3v4.0h-3.3zM176.0 117.6h3.3v4.0h-3.3zM176.0 131.8h3.3v4.0h-3.3zM178.9 14.1h3.3v4.0h-3.3zM178.9 28.3h3.3v4.0h-3.3zM178.9 42.6h3.3v4.0h-3.3zM178.9 110.4h3.3v4.0h-3.3zM178.9 124.7h3.3v4.0h-3.3z"/>
<path fill="#00d5b6" d="M-0.2 39.1h3.3v4.0h-3.3z"/>
<path fill="#22d21c" d="M-0.2 53.3h3.3v4.0h-3.3zM95.1 142.5h3.3v4.0h-3.3z"/>
<path fill="#00d5b4" d="M-0.2 67.6h3.3v4.0h-3.3zM103.8 46.2h3.3v4.0h-3.3z"/>
<path fill="#3cb8c4" d="M-0.2 78.3h3.3v4.0h-3.3zM2.7 46.2h3.3v4.0h-3.3zM2.7 117.6h3.3v4.0h-3.3zM2.7 167.5h3.3v4.0h-3.3zM5.6 21.2h3.3v4.0h-3.3zM8.5 117.6h3.3v4.0h-3.3zM8.5 131.8h3.3v4.0h-3.3zM11.4 156.8h3.3v4.0h-3.3zM14.2 167.5h3.3v4.0h-3.3zM17.1 135.4h3.3v4.0h-3.3zM20.0 131.8h3.3v4.0h-3.3zM22.9 56.9h3.3v4.0h-3.3zM22.9 135.4h3.3v4.0h-3.3zM25.8 67.6h3.3v4.0h-3.3zM25.8 103.3h3.3v4.0h-3.3zM25.8 110.4h3.3v4.0h-3.3zM25.8 117.6h3.3v4.0h-3.3zM28.7 142.5h3.3v4.0h-3.3zM34.5 14.1h3.3v4.0h-3.3zM37.4 139.0h3.3v4.0h-3.3zM37.4 174.7h3.3v4.0h-3.3zM40.2 49.8h3.3v4.0h-3.3zM46.0 14.1h3.3v4.0h-3.3zM48.9 81.9h3.3v4.0h-3.3zM48.9 160.4h3.3v4.0h-3.3zM51.8 49.8h3.3v4.0h-3.3zM51.8 92.6h3.3v4.0h-3.3zM54.7 174.7h3.3v4.0h-3.3zM57.6 35.5h3.3v4.0h-3.3zM57.6 64.0h3.3v4.0h-3.3zM57.6 135.4h3.3v4.0h-3.3zM60.5 174.7h3.3v4.0h-3.3zM63.4 42.6h3.3v4.0h-3.3zM63.4 92.6h3.3v4.0h-3.3zM69.1 28.3h3.3v4.0h-3.3zM69.1 135.4h3.3v4.0h-3.3zM72.0 60.5h3.3v4.0h-3.3zM72.0 81.9h3.3v4.0h-3.3zM72.0 139.0h3.3v4.0h-3.3zM74.9 35.5h3.3v4.0h-3.3zM77.8 146.1h3.3v4.0h-3.3zM77.8 167.5h3.3v4.0h-3.3zM77.8 174.7h3.3v4.0h-3.3zM80.7 142.5h3.3v4.0h-3.3zM83.6 53.3h3.3v4.0h-3.3zM83.6 81.9h3.3v4.0h-3.3zM83.6 167.5h3.3v4.0h-3.3zM89.4 3.4h3.3v4.0h-3.3zM89.4 174.7h3.3v4.0h-3.3zM92.2 78.3h3.3v4.0h-3.3zM92.2 121.1h3.3v4.0h-3.3zM95.1 39.1h3.3v4.0h-3.3zM98.0 149.7h3.3v4.0h-3.3zM100.9 10.5h3.3v4.0h-3.3zM100.9 103.3h3.3v4.0h-3.3zM103.8 14.1h3.3v4.0h-3.3zM103.8 121.1h3.3v4.0h-3.3zM106.7 10.5h3.3v4.0h-3.3zM106.7 131.8h3.3v4.0h-3.3zM109.6 171.1h3.3v4.0h-3.3zM112.5 53.3h3.3v4.0h-3.3zM112.5 139.0h3.3v4.0h-3.3zM112.5 167.5h3.3v4.0h-3.3zM115.4 21.2h3.3v4.0h-3.3zM115.4 99.7h3.3v4.0h-3.3zM121.1 142.5h3.3v4.0h-3.3zM124.0 60.5h3.3v4.0h-3.3zM124.0 103.3h3.3v4.0h-3.3zM126.9 106.9h3.3v4.0h-3.3zM129.8 124.7h3.3v4.0h-3.3zM129.8 139.0h3.3v4.0h-3.3zM129.8 174.7h3.3v4.0h-3.3zM132.7 128.3h3.3v4.0h-3.3zM132.7 135.4h3.3v4.0h-3.3zM132.7 178.2h3.3v4.0h-3.3zM135.6 60.5h3.3v4.0h-3.3zM135.6 117.6h3.3v4.0h-3.3zM135.6 131.8h3.3v4.0h-3.3zM138.5 64.0h3.3v4.0h-3.3zM138.5 99.7h3.3v4.0h-3.3zM141.4 24.8h3.3v4.0h-3.3zM141.4 124.7h3.3v4.0h-3.3zM141.4 139.0h3.3v4.0h-3.3zM144.2 92.6h3.3v4.0h-3.3zM144.2 99.7h3.3v4.0h-3.3zM147.1 131.8h3.3v4.0h-3.3zM147.1 167.5h3.3v4.0h-3.3zM152.9 110.4h3.3v4.0h-3.3zM155.8 14.1h3.3v4.0h-3.3zM155.8 106.9h3.3v4.0h-3.3zM158.7 103.3h3.3v4.0h-3.3zM158.7 110.4h3.3v4.0h-3.3zM158.7 117.6h3.3v4.0h-3.3zM158.7 146.1h3.3v4.0h-3.3zM158.7 174.7h3.3v4.0h-3.3zM164.5 96.2h3.3v4.0h-3.3zM164.5 117.6h3.3v4.0h-3.3zM164.5 139.0h3.3v4.0h-3.3zM167.4 114.0h3.3v4.0h-3.3zM167.4 142.5h3.3v4.0h-3.3zM170.2 46.2h3.3v4.0h-3.3zM170.2 67.6h3.3v4.0h-3.3zM170.2 89.0h3.3v4.0h-3.3zM170.2 103.3h3.3v4.0h-3.3zM176.0 89.0h3.3v4.0h-3.3zM176.0 103.3h3.3v4.0h-3.3zM178.9 99.7h3.3v4.0h-3.3zM178.9 149.7h3.3v4.0h-3.3z"/>
<path fill="#05d582" d="M-0.2 81.9h3.3v4.0h-3.3zM135.6 49.8h3.3v4.0h-3.3zM152.9 85.4h3.3v4.0h-3.3zM167.4 117.6h3.3v4.0h-3.3zM176.0 171.1h3.3v4.0h-3.3z"/>
<path fill="#3078dc" d="M-0.2 92.6h3.3v4.0h-3.3zM-0.2 128.3h3.3v4.0h-3.3zM-0.2 146.1h3.3v4.0h-3.3zM-0.2 164.0h3.3v4.0h-3.3zM-0.2 171.1h3.3v4.0h-3.3zM2.7 -0.2h3.3v4.0h-3.3zM2.7 10.5h3.3v4.0h-3.3zM2.7 21.2h3.3v4.0h-3.3zM2.7 35.5h3.3v4.0h-3.3zM2.7 64.0h3.3v4.0h-3.3zM2.7 89.0h3.3v4.0h-3.3zM2.7 103.3h3.3v4.0h-3.3zM2.7 146.1h3.3v4.0h-3.3zM2.7 174.7h3.3v4.0h-3.3zM5.6 42.6h3.3v4.0h-3.3zM5.6 56.9h3.3v4.0h-3.3zM5.6 60.5h3.3v4.0h-3.3zM5.6 71.2h3.3v4.0h-3.3zM5.6 74.7h3.3v4.0h-3.3zM5.6 99.7h3.3v4.0h-3.3zM5.6 110.4h3.3v4.0h-3.3zM5.6 124.7h3.3v4.0h-3.3zM5.6 135.4h3.3v4.0h-3.3zM5.6 139.0h3.3v4.0h-3.3zM5.6 142.5h3.3v4.0h-3.3zM5.6 156.8h3.3v4.0h-3.3zM8.5 -0.2h3.3v4.0h-3.3zM8.5 3.4h3.3v4.0h-3.3zM8.5 14.1h3.3v4.0h-3.3zM8.5 31.9h3.3v4.0h-3.3zM8.5 67.6h3.3v4.0h-3.3zM8.5 96.2h3.3v4.0h-3.3zM8.5 103.3h3.3v4.0h-3.3zM11.4 28.3h3.3v4.0h-3.3zM14.2 10.5h3.3v4.0h-3.3zM14.2 14.1h3.3v4.0h-3.3zM14.2 17.6h3.3v4.0h-3.3zM14.2 39.1h3.3v4.0h-3.3zM14.2 53.3h3.3v4.0h-3.3zM14.2 60.5h3.3v4.0h-3.3zM14.2 74.7h3.3v4.0h-3.3zM14.2 85.4h3.3v4.0h-3.3zM14.2 110.4h3.3v4.0h-3.3zM14.2 131.8h3.3v4.0h-3.3zM14.2 139.0h3.3v4.0h-3.3zM17.1 -0.2h3.3v4.0h-3.3zM17.1 21.2h3.3v4.0h-3.3zM17.1 42.6h3.3v4.0h-3.3zM17.1 71.2h3.3v4.0h-3.3zM17.1 85.4h3.3v4.0h-3.3zM17.1 106.9h3.3v4.0h-3.3zM17.1 156.8h3.3v4.0h-3.3zM17.1 178.2h3.3v4.0h-3.3zM20.0 3.4h3.3v4.0h-3.3zM20.0 24.8h3.3v4.0h-3.3zM20.0 28.3h3.3v4.0h-3.3zM20.0 99.7h3.3v4.0h-3.3zM20.0 117.6h3.3v4.0h-3.3zM20.0 139.0h3.3v4.0h-3.3zM20.0 142.5h3.3v4.0h-3.3zM20.0 156.8h3.3v4.0h-3.3zM20.0 160.4h3.3v4.0h-3.3zM20.0 178.2h3.3v4.0h-3.3zM22.9 6.9h3.3v4.0h-3.3zM22.9 31.9h3.3v4.0h-3.3zM22.9 53.3h3.3v4.0h-3.3zM22.9 74.7h3.3v4.0h-3.3zM22.9 81.9h3.3v4.0h-3.3zM22.9 96.2h3.3v4.0h-3.3zM22.9 114.0h3.3v4.0h-3.3zM22.9 149.7h3.3v4.0h-3.3zM25.8 17.6h3.3v4.0h-3.3zM25.8 28.3h3.3v4.0h-3.3zM25.8 53.3h3.3v4.0h-3.3zM25.8 96.2h3.3v4.0h-3.3zM25.8 139.0h3.3v4.0h-3.3zM25.8 146.1h3.3v4.0h-3.3zM28.7 21.2h3.3v4.0h-3.3zM28.7 56.9h3.3v4.0h-3.3zM28.7 64.0h3.3v4.0h-3.3zM28.7 89.0h3.3v4.0h-3.3zM28.7 96.2h3.3v4.0h-3.3zM31.6 49.8h3.3v4.0h-3.3zM31.6 56.9h3.3v4.0h-3.3zM31.6 60.5h3.3v4.0h-3.3zM31.6 128.3h3.3v4.0h-3.3zM31.6 131.8h3.3v4.0h-3.3zM31.6 160.4h3.3v4.0h-3.3zM34.5 3.4h3.3v4.0h-3.3zM34.5 28.3h3.3v4.0h-3.3zM34.5 35.5h3.3v4.0h-3.3zM34.5 39.1h3.3v4.0h-3.3zM34.5 42.6h3.3v4.0h-3.3zM34.5 49.8h3.3v4.0h-3.3zM34.5 53.3h3.3v4.0h-3.3zM34.5 81.9h3.3v4.0h-3.3zM34.5 92.6h3.3v4.0h-3.3zM34.5 106.9h3.3v4.0h-3.3zM34.5 114.0h3.3v4.0h-3.3zM34.5 117.6h3.3v4.0h-3.3zM34.5 135.4h3.3v4.0h-3.3zM37.4 3.4h3.3v4.0h-3.3zM37.4 24.8h3.3v4.0h-3.3zM37.4 39.1h3.3v4.0h-3.3zM37.4 56.9h3.3v4.0h-3.3zM37.4 64.0h3.3v4.0h-3.3zM37.4 92.6h3.3v4.0h-3.3zM37.4 103.3h3.3v4.0h-3.3zM37.4 164.0h3.3v4.0h-3.3zM40.2 -0.2h3.3v4.0h-3.3zM40.2 6.9h3.3v4.0h-3.3zM40.2 28.3h3.3v4.0h-3.3zM40.2 114.0h3.3v4.0h-3.3zM40.2 164.0h3.3v4.0h-3.3zM40.2 171.1h3.3v4.0h-3.3zM40.2 178.2h3.3v4.0h-3.3zM43.1 3.4h3.3v4.0h-3.3zM43.1 10.5h3.3v4.0h-3.3zM43.1 67.6h3.3v4.0h-3.3zM43.1 78.3h3.3v4.0h-3.3zM43.1 81.9h3.3v4.0h-3.3zM43.1 89.0h3.3v4.0h-3.3zM43.1 96.2h3.3v4.0h-3.3zM43.1 149.7h3.3v4.0h-3.3zM46.0 56.9h3.3v4.0h-3.3zM46.0 114.0h3.3v4.0h-3.3zM46.0 121.1h3.3v4.0h-3.3zM46.0 124.7h3.3v4.0h-3.3zM46.0 142.5h3.3v4.0h-3.3zM46.0 149.7h3.3v4.0h-3.3zM46.0 171.1h3.3v4.0h-3.3zM46.0 178.2h3.3v4.0h-3.3zM48.9 24.8h3.3v4.0h-3.3zM48.9 64.0h3.3v4.0h-3.3zM48.9 96.2h3.3v4.0h-3.3zM48.9 117.6h3.3v4.0h-3.3zM48.9 121.1h3.3v4.0h-3.3zM48.9 135.4h3.3v4.0h-3.3zM51.8 -0.2h3.3v4.0h-3.3zM51.8 28.3h3.3v4.0h-3.3zM51.8 35.5h3.3v4.0h-3.3zM51.8 42.6h3.3v4.0h-3.3zM51.8 53.3h3.3v4.0h-3.3zM51.8 96.2h3.3v4.0h-3.3zM51.8 128.3h3.3v4.0h-3.3zM51.8 135.4h3.3v4.0h-3.3zM51.8 149.7h3.3v4.0h-3.3zM51.8 156.8h3.3v4.0h-3.3zM51.8 164.0h3.3v4.0h-3.3zM51.8 178.2h3.3v4.0h-3.3zM54.7 10.5h3.3v4.0h-3.3zM54.7 39.1h3.3v4.0h-3.3zM54.7 81.9h3.3v4.0h-3.3zM54.7 96.2h3.3v4.0h-3.3zM54.7 149.7h3.3v4.0h-3.3zM54.7 167.5h3.3v4.0h-3.3zM57.6 14.1h3.3v4.0h-3.3zM57.6 28.3h3.3v4.0h-3.3zM57.6 39.1h3.3v4.0h-3.3zM57.6 71.2h3.3v4.0h-3.3zM57.6 78.3h3.3v4.0h-3.3zM57.6 114.0h3.3v4.0h-3.3zM57.6 128.3h3.3v4.0h-3.3zM57.6 156.8h3.3v4.0h-3.3zM57.6 178.2h3.3v4.0h-3.3zM60.5 -0.2h3.3v4.0h-3.3zM60.5 46.2h3.3v4.0h-3.3zM60.5 74.7h3.3v4.0h-3.3zM60.5 81.9h3.3v4.0h-3.3zM60.5 85.4h3.3v4.0h-3.3zM60.5 89.0h3.3v4.0h-3.3zM60.5 110.4h3.3v4.0h-3.3zM60.5 121.1h3.3v4.0h-3.3zM60.5 128.3h3.3v4.0h-3.3zM60.5 167.5h3.3v4.0h-3.3zM63.4 -0.2h3.3v4.0h-3.3zM63.4 14.1h3.3v4.0h-3.3zM63.4 64.0h3.3v4.0h-3.3zM63.4 67.6h3.3v4.0h-3.3zM63.4 81.9h3.3v4.0h-3.3zM63.4 85.4h3.3v4.0h-3.3zM63.4 103.3h3.3v4.0h-3.3zM63.4 164.0h3.3v4.0h-3.3zM66.2 24.8h3.3v4.0h-3.3zM66.2 39.1h3.3v4.0h-3.3zM66.2 46.2h3.3v4.0h-3.3zM66.2 85.4h3.3v4.0h-3.3zM66.2 103.3h3.3v4.0h-3.3zM66.2 110.4h3.3v4.0h-3.3zM66.2 131.8h3.3v4.0h-3.3zM66.2 160.4h3.3v4.0h-3.3zM66.2 178.2h3.3v4.0h-3.3zM69.1 -0.2h3.3v4.0h-3.3zM69.1 64.0h3.3v4.0h-3.3zM69.1 67.6h3.3v4.0h-3.3zM69.1 71.2h3.3v4.0h-3.3zM69.1 74.7h3.3v4.0h-3.3zM69.1 131.8h3.3v4.0h-3.3zM69.1 156.8h3.3v4.0h-3.3zM72.0 10.5h3.3v4.0h-3.3zM72.0 14.1h3.3v4.0h-3.3zM72.0 24.8h3.3v4.0h-3.3zM72.0 31.9h3.3v4.0h-3.3zM72.0 42.6h3.3v4.0h-3.3zM72.0 49.8h3.3v4.0h-3.3zM72.0 53.3h3.3v4.0h-3.3zM72.0 71.2h3.3v4.0h-3.3zM72.0 74.7h3.3v4.0h-3.3zM72.0 85.4h3.3v4.0h-3.3zM72.0 96.2h3.3v4.0h-3.3zM72.0 106.9h3.3v4.0h-3.3zM72.0 110.4h3.3v4.0h-3.3zM72.0 124.7h3.3v4.0h-3.3zM72.0 128.3h3.3v4.0h-3.3zM72.0 146.1h3.3v4.0h-3.3zM72.0 164.0h3.3v4.0h-3.3zM74.9 21.2h3.3v4.0h-3.3zM74.9 56.9h3.3v4.0h-3.3zM74.9 71.2h3.3v4.0h-3.3zM74.9 174.7h3.3v4.0h-3.3zM74.9 178.2h3.3v4.0h-3.3zM77.8 -0.2h3.3v4.0h-3.3zM77.8 3.4h3.3v4.0h-3.3zM77.8 10.5h3.3v4.0h-3.3zM77.8 21.2h3.3v4.0h-3.3zM77.8 67.6h3.3v4.0h-3.3zM77.8 74.7h3.3v4.0h-3.3zM77.8 81.9h3.3v4.0h-3.3zM77.8 85.4h3.3v4.0h-3.3zM77.8 92.6h3.3v4.0h-3.3zM77.8 103.3h3.3v4.0h-3.3zM77.8 106.9h3.3v4.0h-3.3zM77.8 128.3h3.3v4.0h-3.3zM77.8 156.8h3.3v4.0h-3.3zM80.7 42.6h3.3v4.0h-3.3zM80.7 49.8h3.3v4.0h-3.3zM80.7 85.4h3.3v4.0h-3.3zM80.7 92.6h3.3v4.0h-3.3zM80.7 135.4h3.3v4.0h-3.3zM80.7 153.3h3.3v4.0h-3.3zM80.7 178.2h3.3v4.0h-3.3zM83.6 3.4h3.3v4.0h-3.3zM83.6 24.8h3.3v4.0h-3.3zM83.6 35.5h3.3v4.0h-3.3zM83.6 39.1h3.3v4.0h-3.3zM83.6 46.2h3.3v4.0h-3.3zM83.6 64.0h3.3v4.0h-3.3zM83.6 67.6h3.3v4.0h-3.3zM83.6 117.6h3.3v4.0h-3.3zM83.6 146.1h3.3v4.0h-3.3zM83.6 156.8h3.3v4.0h-3.3zM83.6 174.7h3.3v4.0h-3.3zM86.5 28.3h3.3v4.0h-3.3zM86.5 49.8h3.3v4.0h-3.3zM86.5 56.9h3.3v4.0h-3.3zM86.5 85.4h3.3v4.0h-3.3zM86.5 89.0h3.3v4.0h-3.3zM86.5 92.6h3.3v4.0h-3.3zM86.5 106.9h3.3v4.0h-3.3zM86.5 128.3h3.3v4.0h-3.3zM86.5 135.4h3.3v4.0h-3.3zM86.5 142.5h3.3v4.0h-3.3zM86.5 156.8h3.3v4.0h-3.3zM86.5 164.0h3.3v4.0h-3.3zM89.4 49.8h3.3v4.0h-3.3zM89.4 53.3h3.3v4.0h-3.3zM89.4 71.2h3.3v4.0h-3.3zM89.4 74.7h3.3v4.0h-3.3zM89.4 96.2h3.3v4.0h-3.3zM89.4 117.6h3.3v4.0h-3.3zM89.4 146.1h3.3v4.0h-3.3zM89.4 153.3h3.3v4.0h-3.3zM89.4 167.5h3.3v4.0h-3.3zM92.2 60.5h3.3v4.0h-3.3zM92.2 67.6h3.3v4.0h-3.3zM92.2 85.4h3.3v4.0h-3.3zM92.2 135.4h3.3v4.0h-3.3zM92.2 153.3h3.3v4.0h-3.3zM92.2 156.8h3.3v4.0h-3.3zM92.2 160.4h3.3v4.0h-3.3zM92.2 171.1h3.3v4.0h-3.3zM95.1 -0.2h3.3v4.0h-3.3zM95.1 3.4h3.3v4.0h-3.3zM95.1 35.5h3.3v4.0h-3.3zM95.1 46.2h3.3v4.0h-3.3zM95.1 67.6h3.3v4.0h-3.3zM95.1 96.2h3.3v4.0h-3.3zM95.1 99.7h3.3v4.0h-3.3zM95.1 103.3h3.3v4.0h-3.3zM95.1 110.4h3.3v4.0h-3.3zM95.1 146.1h3.3v4.0h-3.3zM95.1 156.8h3.3v4.0h-3.3zM95.1 160.4h3.3v4.0h-3.3zM95.1 174.7h3.3v4.0h-3.3zM98.0 6.9h3.3v4.0h-3.3zM98.0 156.8h3.3v4.0h-3.3zM100.9 6.9h3.3v4.0h-3.3zM100.9 46.2h3.3v4.0h-3.3zM100.9 49.8h3.3v4.0h-3.3zM100.9 96.2h3.3v4.0h-3.3zM100.9 110.4h3.3v4.0h-3.3zM100.9 124.7h3.3v4.0h-3.3zM100.9 149.7h3.3v4.0h-3.3zM100.9 153.3h3.3v4.0h-3.3zM100.9 156.8h3.3v4.0h-3.3zM100.9 160.4h3.3v4.0h-3.3zM103.8 6.9h3.3v4.0h-3.3zM103.8 21.2h3.3v4.0h-3.3zM103.8 31.9h3.3v4.0h-3.3zM103.8 39.1h3.3v4.0h-3.3zM103.8 49.8h3.3v4.0h-3.3zM103.8 71.2h3.3v4.0h-3.3zM103.8 78.3h3.3v4.0h-3.3zM103.8 81.9h3.3v4.0h-3.3zM103.8 114.0h3.3v4.0h-3.3zM103.8 135.4h3.3v4.0h-3.3zM103.8 146.1h3.3v4.0h-3.3zM103.8 149.7h3.3v4.0h-3.3zM103.8 153.3h3.3v4.0h-3.3zM103.8 178.2h3.3v4.0h-3.3zM106.7 -0.2h3.3v4.0h-3.3zM106.7 53.3h3.3v4.0h-3.3zM106.7 74.7h3.3v4.0h-3.3zM106.7 103.3h3.3v4.0h-3.3zM106.7 117.6h3.3v4.0h-3.3zM106.7 124.7h3.3v4.0h-3.3zM106.7 128.3h3.3v4.0h-3.3zM106.7 160.4h3.3v4.0h-3.3zM106.7 167.5h3.3v4.0h-3.3zM106.7 174.7h3.3v4.0h-3.3zM109.6 10.5h3.3v4.0h-3.3zM109.6 21.2h3.3v4.0h-3.3zM109.6 28.3h3.3v4.0h-3.3zM109.6 35.5h3.3v4.0h-3.3zM109.6 56.9h3.3v4.0h-3.3zM109.6 64.0h3.3v4.0h-3.3zM109.6 78.3h3.3v4.0h-3.3zM109.6 99.7h3.3v4.0h-3.3zM109.6 128.3h3.3v4.0h-3.3zM109.6 156.8h3.3v4.0h-3.3zM112.5 3.4h3.3v4.0h-3.3zM112.5 14.1h3.3v4.0h-3.3zM112.5 24.8h3.3v4.0h-3.3zM112.5 85.4h3.3v4.0h-3.3zM112.5 89.0h3.3v4.0h-3.3zM112.5 110.4h3.3v4.0h-3.3zM112.5 124.7h3.3v4.0h-3.3zM112.5 131.8h3.3v4.0h-3.3zM112.5 174.7h3.3v4.0h-3.3zM115.4 3.4h3.3v4.0h-3.3zM115.4 28.3h3.3v4.0h-3.3zM115.4 64.0h3.3v4.0h-3.3zM115.4 121.1h3.3v4.0h-3.3zM115.4 135.4h3.3v4.0h-3.3zM115.4 142.5h3.3v4.0h-3.3zM115.4 160.4h3.3v4.0h-3.3zM115.4 178.2h3.3v4.0h-3.3zM118.2 -0.2h3.3v4.0h-3.3zM118.2 24.8h3.3v4.0h-3.3zM118.2 28.3h3.3v4.0h-3.3zM118.2 35.5h3.3v4.0h-3.3zM118.2 49.8h3.3v4.0h-3.3zM118.2 89.0h3.3v4.0h-3.3zM118.2 103.3h3.3v4.0h-3.3zM118.2 106.9h3.3v4.0h-3.3zM118.2 117.6h3.3v4.0h-3.3zM118.2 124.7h3.3v4.0h-3.3zM118.2 131.8h3.3v4.0h-3.3zM118.2 142.5h3.3v4.0h-3.3zM121.1 -0.2h3.3v4.0h-3.3zM121.1 14.1h3.3v4.0h-3.3zM121.1 31.9h3.3v4.0h-3.3zM121.1 42.6h3.3v4.0h-3.3zM121.1 64.0h3.3v4.0h-3.3zM121.1 106.9h3.3v4.0h-3.3zM121.1 114.0h3.3v4.0h-3.3zM121.1 124.7h3.3v4.0h-3.3zM121.1 139.0h3.3v4.0h-3.3zM121.1 167.5h3.3v4.0h-3.3zM121.1 178.2h3.3v4.0h-3.3zM124.0 3.4h3.3v4.0h-3.3zM124.0 39.1h3.3v4.0h-3.3zM124.0 64.0h3.3v4.0h-3.3zM124.0 67.6h3.3v4.0h-3.3zM124.0 71.2h3.3v4.0h-3.3zM124.0 117.6h3.3v4.0h-3.3zM124.0 135.4h3.3v4.0h-3.3zM124.0 167.5h3.3v4.0h-3.3zM126.9 -0.2h3.3v4.0h-3.3zM126.9 24.8h3.3v4.0h-3.3zM126.9 28.3h3.3v4.0h-3.3zM126.9 35.5h3.3v4.0h-3.3zM126.9 39.1h3.3v4.0h-3.3zM126.9 67.6h3.3v4.0h-3.3zM126.9 85.4h3.3v4.0h-3.3zM126.9 99.7h3.3v4.0h-3.3zM126.9 149.7h3.3v4.0h-3.3zM126.9 160.4h3.3v4.0h-3.3zM126.9 164.0h3.3v4.0h-3.3zM129.8 6.9h3.3v4.0h-3.3zM129.8 35.5h3.3v4.0h-3.3zM129.8 42.6h3.3v4.0h-3.3zM129.8 60.5h3.3v4.0h-3.3zM129.8 110.4h3.3v4.0h-3.3zM129.8 121.1h3.3v4.0h-3.3zM129.8 153.3h3.3v4.0h-3.3zM129.8 164.0h3.3v4.0h-3.3zM132.7 21.2h3.3v4.0h-3.3zM132.7 35.5h3.3v4.0h-3.3zM132.7 71.2h3.3v4.0h-3.3zM132.7 78.3h3.3v4.0h-3.3zM132.7 121.1h3.3v4.0h-3.3zM132.7 149.7h3.3v4.0h-3.3zM132.7 160.4h3.3v4.0h-3.3zM135.6 3.4h3.3v4.0h-3.3zM135.6 6.9h3.3v4.0h-3.3zM135.6 28.3h3.3v4.0h-3.3zM135.6 35.5h3.3v4.0h-3.3zM135.6 42.6h3.3v4.0h-3.3zM135.6 74.7h3.3v4.0h-3.3zM135.6 174.7h3.3v4.0h-3.3zM135.6 178.2h3.3v4.0h-3.3zM138.5 21.2h3.3v4.0h-3.3zM138.5 28.3h3.3v4.0h-3.3zM138.5 42.6h3.3v4.0h-3.3zM138.5 56.9h3.3v4.0h-3.3zM138.5 74.7h3.3v4.0h-3.3zM138.5 85.4h3.3v4.0h-3.3zM138.5 106.9h3.3v4.0h-3.3zM138.5 131.8h3.3v4.0h-3.3zM138.5 149.7h3.3v4.0h-3.3zM138.5 153.3h3.3v4.0h-3.3zM138.5 160.4h3.3v4.0h-3.3zM138.5 171.1h3.3v4.0h-3.3zM138.5 174.7h3.3v4.0h-3.3zM141.4 3.4h3.3v4.0h-3.3zM141.4 17.6h3.3v4.0h-3.3zM141.4 53.3h3.3v4.0h-3.3zM141.4 74.7h3.3v4.0h-3.3zM141.4 81.9h3.3v4.0h-3.3zM141.4 89.0h3.3v4.0h-3.3zM141.4 146.1h3.3v4.0h-3.3zM141.4 149.7h3.3v4.0h-3.3zM141.4 153.3h3.3v4.0h-3.3zM141.4 167.5h3.3v4.0h-3.3zM144.2 21.2h3.3v4.0h-3.3zM144.2 24.8h3.3v4.0h-3.3zM144.2 39.1h3.3v4.0h-3.3zM144.2 42.6h3.3v4.0h-3.3zM144.2 49.8h3.3v4.0h-3.3zM144.2 56.9h3.3v4.0h-3.3zM144.2 89.0h3.3v4.0h-3.3zM144.2 114.0h3.3v4.0h-3.3zM144.2 131.8h3.3v4.0h-3.3zM144.2 149.7h3.3v4.0h-3.3zM144.2 156.8h3.3v4.0h-3.3zM144.2 164.0h3.3v4.0h-3.3zM144.2 171.1h3.3v4.0h-3.3zM147.1 6.9h3.3v4.0h-3.3zM147.1 10.5h3.3v4.0h-3.3zM147.1 17.6h3.3v4.0h-3.3zM147.1 39.1h3.3v4.0h-3.3zM147.1 42.6h3.3v4.0h-3.3zM147.1 67.6h3.3v4.0h-3.3zM147.1 71.2h3.3v4.0h-3.3zM147.1 81.9h3.3v4.0h-3.3zM147.1 96.2h3.3v4.0h-3.3zM147.1 156.8h3.3v4.0h-3.3zM150.0 10.5h3.3v4.0h-3.3zM150.0 28.3h3.3v4.0h-3.3zM150.0 60.5h3.3v4.0h-3.3zM150.0 85.4h3.3v4.0h-3.3zM150.0 89.0h3.3v4.0h-3.3zM150.0 92.6h3.3v4.0h-3.3zM150.0 135.4h3.3v4.0h-3.3zM150.0 153.3h3.3v4.0h-3.3zM150.0 171.1h3.3v4.0h-3.3zM152.9 -0.2h3.3v4.0h-3.3zM152.9 46.2h3.3v4.0h-3.3zM152.9 53.3h3.3v4.0h-3.3zM152.9 67.6h3.3v4.0h-3.3zM152.9 78.3h3.3v4.0h-3.3zM152.9 96.2h3.3v4.0h-3.3zM152.9 103.3h3.3v4.0h-3.3zM152.9 124.7h3.3v4.0h-3.3zM152.9 135.4h3.3v4.0h-3.3zM152.9 167.5h3.3v4.0h-3.3zM155.8 39.1h3.3v4.0h-3.3zM155.8 92.6h3.3v4.0h-3.3zM155.8 142.5h3.3v4.0h-3.3zM155.8 149.7h3.3v4.0h-3.3zM158.7 10.5h3.3v4.0h-3.3zM158.7 17.6h3.3v4.0h-3.3zM158.7 46.2h3.3v4.0h-3.3zM158.7 92.6h3.3v4.0h-3.3zM158.7 135.4h3.3v4.0h-3.3zM158.7 153.3h3.3v4.0h-3.3zM158.7 160.4h3.3v4.0h-3.3zM161.6 6.9h3.3v4.0h-3.3zM161.6 24.8h3.3v4.0h-3.3zM161.6 35.5h3.3v4.0h-3.3zM161.6 56.9h3.3v4.0h-3.3zM161.6 64.0h3.3v4.0h-3.3zM161.6 78.3h3.3v4.0h-3.3zM161.6 146.1h3.3v4.0h-3.3zM161.6 156.8h3.3v4.0h-3.3zM164.5 39.1h3.3v4.0h-3.3zM164.5 46.2h3.3v4.0h-3.3zM164.5 89.0h3.3v4.0h-3.3zM164.5 92.6h3.3v4.0h-3.3zM164.5 106.9h3.3v4.0h-3.3zM164.5 124.7h3.3v4.0h-3.3zM164.5 178.2h3.3v4.0h-3.3zM167.4 6.9h3.3v4.0h-3.3zM167.4 71.2h3.3v4.0h-3.3zM167.4 78.3h3.3v4.0h-3.3zM167.4 85.4h3.3v4.0h-3.3zM167.4 149.7h3.3v4.0h-3.3zM167.4 178.2h3.3v4.0h-3.3zM170.2 10.5h3.3v4.0h-3.3zM170.2 17.6h3.3v4.0h-3.3zM170.2 39.1h3.3v4.0h-3.3zM170.2 121.1h3.3v4.0h-3.3zM170.2 156.8h3.3v4.0h-3.3zM170.2 160.4h3.3v4.0h-3.3zM173.1 6.9h3.3v4.0h-3.3zM173.1 85.4h3.3v4.0h-3.3zM173.1 89.0h3.3v4.0h-3.3zM173.1 131.8h3.3v4.0h-3.3zM173.1 135.4h3.3v4.0h-3.3zM173.1 139.0h3.3v4.0h-3.3zM173.1 164.0h3.3v4.0h-3.3zM173.1 167.5h3.3v4.0h-3.3zM173.1 178.2h3.3v4.0h-3.3zM176.0 35.5h3.3v4.0h-3.3zM176.0 46.2h3.3v4.0h-3.3zM176.0 67.6h3.3v4.0h-3.3zM176.0 124.7h3.3v4.0h-3.3zM176.0 153.3h3.3v4.0h-3.3zM176.0 164.0h3.3v4.0h-3.3zM176.0 167.5h3.3v4.0h-3.3zM178.9 10.5h3.3v4.0h-3.3zM178.9 17.6h3.3v4.0h-3.3zM178.9 64.0h3.3v4.0h-3.3zM178.9 71.2h3.3v4.0h-3.3zM178.9 78.3h3.3v4.0h-3.3zM178.9 128.3h3.3v4.0h-3.3zM178.9 135.4h3.3v4.0h-3.3zM178.9 142.5h3.3v4.0h-3.3z"/>
<path fill="#06d57b" d="M-0.2 96.2h3.3v4.0h-3.3zM14.2 114.0h3.3v4.0h-3.3zM37.4 114.0h3.3v4.0h-3.3zM43.1 71.2h3.3v4.0h-3.3z"/>
<path fill="#0bd24b" d="M-0.2 110.4h3.3v4.0h-3.3zM17.1 167.5h3.3v4.0h-3.3zM83.6 78.3h3.3v4.0h-3.3zM106.7 14.1h3.3v4.0h-3.3zM129.8 21.2h3.3v4.0h-3.3zM158.7 99.7h3.3v4.0h-3.3zM176.0 99.7h3.3v4.0h-3.3z"/>
<path fill="#04d68b" d="M-0.2 124.7h3.3v4.0h-3.3zM95.1 171.1h3.3v4.0h-3.3zM124.0 114.0h3.3v4.0h-3.3zM147.1 99.7h3.3v4.0h-3.3z"/>
<path fill="#05d687" d="M-0.2 139.0h3.3v4.0h-3.3zM57.6 46.2h3.3v4.0h-3.3zM66.2 64.0h3.3v4.0h-3.3zM95.1 92.6h3.3v4.0h-3.3zM152.9 71.2h3.3v4.0h-3.3zM164.5 114.0h3.3v4.0h-3.3zM178.9 74.7h3.3v4.0h-3.3zM178.9 117.6h3.3v4.0h-3.3z"/>
<path fill="#2ed418" d="M-0.2 153.3h3.3v4.0h-3.3zM51.8 139.0h3.3v4.0h-3.3zM126.9 146.1h3.3v4.0h-3.3z"/>
<path fill="#0ad35a" d="M-0.2 167.5h3.3v4.0h-3.3zM106.7 78.3h3.3v4.0h-3.3z"/>
<path fill="#00cebf" d="M-0.2 174.7h3.3v4.0h-3.3zM173.1 67.6h3.3v4.0h-3.3z"/>
<path fill="#35d517" d="M2.7 6.9h3.3v4.0h-3.3zM17.1 46.2h3.3v4.0h-3.3zM83.6 6.9h3.3v4.0h-3.3z"/>
<path fill="#0ed135" d="M2.7 28.3h3.3v4.0h-3.3zM14.2 71.2h3.3v4.0h-3.3zM22.9 67.6h3.3v4.0h-3.3zM54.7 56.9h3.3v4.0h-3.3zM95.1 56.9h3.3v4.0h-3.3z"/>
<path fill="#06d578" d="M2.7 42.6h3.3v4.0h-3.3zM8.5 42.6h3.3v4.0h-3.3zM11.4 74.7h3.3v4.0h-3.3zM25.8 21.2h3.3v4.0h-3.3zM31.6 135.4h3.3v4.0h-3.3zM74.9 39.1h3.3v4.0h-3.3zM74.9 103.3h3.3v4.0h-3.3zM80.7 96.2h3.3v4.0h-3.3zM83.6 28.3h3.3v4.0h-3.3zM100.9 42.6h3.3v4.0h-3.3zM100.9 78.3h3.3v4.0h-3.3zM135.6 78.3h3.3v4.0h-3.3zM161.6 67.6h3.3v4.0h-3.3zM161.6 96.2h3.3v4.0h-3.3z"/>
<path fill="#20d21c" d="M2.7 49.8h3.3v4.0h-3.3zM129.8 142.5h3.3v4.0h-3.3z"/>
<path fill="#00cfbe" d="M2.7 71.2h3.3v4.0h-3.3zM60.5 171.1h3.3v4.0h-3.3zM63.4 146.1h3.3v4.0h-3.3zM72.0 135.4h3.3v4.0h-3.3zM129.8 64.0h3.3v4.0h-3.3zM167.4 74.7h3.3v4.0h-3.3z"/>
<path fill="#05d57f" d="M2.7 78.3h3.3v4.0h-3.3zM17.1 60.5h3.3v4.0h-3.3zM83.6 99.7h3.3v4.0h-3.3zM106.7 114.0h3.3v4.0h-3.3zM115.4 103.3h3.3v4.0h-3.3z"/>
<path fill="#09d35d" d="M2.7 99.7h3.3v4.0h-3.3zM155.8 110.4h3.3v4.0h-3.3z"/>
<path fill="#09d462" d="M2.7 114.0h3.3v4.0h-3.3zM20.0 164.0h3.3v4.0h-3.3zM109.6 81.9h3.3v4.0h-3.3zM155.8 81.9h3.3v4.0h-3.3z"/>
<path fill="#09d35c" d="M2.7 121.1h3.3v4.0h-3.3zM77.8 28.3h3.3v4.0h-3.3zM100.9 114.0h3.3v4.0h-3.3z"/>
<path fill="#00cdc2" d="M2.7 135.4h3.3v4.0h-3.3zM51.8 174.7h3.3v4.0h-3.3zM80.7 46.2h3.3v4.0h-3.3zM170.2 71.2h3.3v4.0h-3.3z"/>
<path fill="#2ad31a" d="M2.7 149.7h3.3v4.0h-3.3zM152.9 149.7h3.3v4.0h-3.3zM167.4 53.3h3.3v4.0h-3.3z"/>
<path fill="#0ad355" d="M2.7 164.0h3.3v4.0h-3.3zM40.2 46.2h3.3v4.0h-3.3zM118.2 14.1h3.3v4.0h-3.3zM155.8 174.7h3.3v4.0h-3.3zM164.5 164.0h3.3v4.0h-3.3zM167.4 17.6h3.3v4.0h-3.3z"/>
<path fill="#00cac6" d="M2.7 171.1h3.3v4.0h-3.3zM5.6 67.6h3.3v4.0h-3.3zM8.5 71.2h3.3v4.0h-3.3zM25.8 135.4h3.3v4.0h-3.3zM92.2 139.0h3.3v4.0h-3.3zM98.0 46.2h3.3v4.0h-3.3zM126.9 46.2h3.3v4.0h-3.3z"/>
<path fill="#1bd11d" d="M5.6 3.4h3.3v4.0h-3.3zM28.7 146.1h3.3v4.0h-3.3zM77.8 56.9h3.3v4.0h-3.3z"/>
<path fill="#07d46d" d="M5.6 24.8h3.3v4.0h-3.3zM17.1 110.4h3.3v4.0h-3.3zM20.0 71.2h3.3v4.0h-3.3zM77.8 78.3h3.3v4.0h-3.3z"/>
<path fill="#00d4b7" d="M5.6 46.2h3.3v4.0h-3.3zM11.4 67.6h3.3v4.0h-3.3zM150.0 46.2h3.3v4.0h-3.3zM164.5 49.8h3.3v4.0h-3.3z"/>
<path fill="#32d418" d="M5.6 53.3h3.3v4.0h-3.3z"/>
<path fill="#07d470" d="M5.6 81.9h3.3v4.0h-3.3zM46.0 67.6h3.3v4.0h-3.3zM92.2 117.6h3.3v4.0h-3.3zM170.2 85.4h3.3v4.0h-3.3z"/>
<path fill="#07d46e" d="M5.6 103.3h3.3v4.0h-3.3zM37.4 106.9h3.3v4.0h-3.3z"/>
<path fill="#0ed132" d="M5.6 117.6h3.3v4.0h-3.3zM17.1 24.8h3.3v4.0h-3.3zM40.2 17.6h3.3v4.0h-3.3zM57.6 117.6h3.3v4.0h-3.3zM121.1 24.8h3.3v4.0h-3.3z"/>
<path fill="#00cfbf" d="M5.6 131.8h3.3v4.0h-3.3zM86.5 167.5h3.3v4.0h-3.3zM164.5 71.2h3.3v4.0h-3.3zM164.5 128.3h3.3v4.0h-3.3zM178.9 46.2h3.3v4.0h-3.3z"/>
<path fill="#30d418" d="M5.6 153.3h3.3v4.0h-3.3zM31.6 42.6h3.3v4.0h-3.3zM92.2 53.3h3.3v4.0h-3.3z"/>
<path fill="#0ed134" d="M5.6 160.4h3.3v4.0h-3.3zM8.5 164.0h3.3v4.0h-3.3zM167.4 81.9h3.3v4.0h-3.3z"/>
<path fill="#04d68e" d="M5.6 167.5h3.3v4.0h-3.3zM51.8 146.1h3.3v4.0h-3.3zM86.5 117.6h3.3v4.0h-3.3zM109.6 103.3h3.3v4.0h-3.3zM150.0 167.5h3.3v4.0h-3.3z"/>
<path fill="#31d418" d="M8.5 6.9h3.3v4.0h-3.3zM121.1 60.5h3.3v4.0h-3.3z"/>
<path fill="#0cd243" d="M8.5 28.3h3.3v4.0h-3.3zM25.8 106.9h3.3v4.0h-3.3zM112.5 114.0h3.3v4.0h-3.3zM118.2 64.0h3.3v4.0h-3.3zM126.9 89.0h3.3v4.0h-3.3zM144.2 96.2h3.3v4.0h-3.3zM178.9 3.4h3.3v4.0h-3.3z"/>
<path fill="#0fd129" d="M8.5 49.8h3.3v4.0h-3.3zM37.4 49.8h3.3v4.0h-3.3z"/>
<path fill="#0ad353" d="M8.5 78.3h3.3v4.0h-3.3zM31.6 99.7h3.3v4.0h-3.3zM74.9 74.7h3.3v4.0h-3.3zM86.5 110.4h3.3v4.0h-3.3zM124.0 56.9h3.3v4.0h-3.3zM144.2 146.1h3.3v4.0h-3.3z"/>
<path fill="#05d583" d="M8.5 106.9h3.3v4.0h-3.3z"/>
<path fill="#04d690" d="M8.5 121.1h3.3v4.0h-3.3zM74.9 160.4h3.3v4.0h-3.3zM118.2 85.4h3.3v4.0h-3.3z"/>
<path fill="#03d695" d="M8.5 135.4h3.3v4.0h-3.3zM40.2 103.3h3.3v4.0h-3.3zM95.1 28.3h3.3v4.0h-3.3zM141.4 128.3h3.3v4.0h-3.3zM173.1 24.8h3.3v4.0h-3.3z"/>
<path fill="#29d31a" d="M8.5 156.8h3.3v4.0h-3.3zM164.5 142.5h3.3v4.0h-3.3z"/>
<path fill="#0ed12e" d="M11.4 3.4h3.3v4.0h-3.3zM11.4 153.3h3.3v4.0h-3.3zM95.1 14.1h3.3v4.0h-3.3z"/>
<path fill="#05d580" d="M11.4 24.8h3.3v4.0h-3.3zM17.1 67.6h3.3v4.0h-3.3zM72.0 78.3h3.3v4.0h-3.3zM83.6 171.1h3.3v4.0h-3.3zM112.5 135.4h3.3v4.0h-3.3zM138.5 81.9h3.3v4.0h-3.3z"/>
<path fill="#33d417" d="M11.4 46.2h3.3v4.0h-3.3zM37.4 21.2h3.3v4.0h-3.3zM69.1 153.3h3.3v4.0h-3.3z"/>
<path fill="#0ed136" d="M11.4 103.3h3.3v4.0h-3.3zM31.6 106.9h3.3v4.0h-3.3zM60.5 28.3h3.3v4.0h-3.3zM109.6 139.0h3.3v4.0h-3.3zM118.2 21.2h3.3v4.0h-3.3zM124.0 21.2h3.3v4.0h-3.3zM132.7 24.8h3.3v4.0h-3.3zM147.1 164.0h3.3v4.0h-3.3zM152.9 106.9h3.3v4.0h-3.3z"/>
<path fill="#05d686" d="M11.4 117.6h3.3v4.0h-3.3zM48.9 99.7h3.3v4.0h-3.3zM121.1 110.4h3.3v4.0h-3.3zM144.2 81.9h3.3v4.0h-3.3z"/>
<path fill="#00d8ac" d="M11.4 131.8h3.3v4.0h-3.3zM124.0 42.6h3.3v4.0h-3.3zM161.6 174.7h3.3v4.0h-3.3z"/>
<path fill="#05d581" d="M11.4 160.4h3.3v4.0h-3.3zM37.4 99.7h3.3v4.0h-3.3zM57.6 153.3h3.3v4.0h-3.3zM66.2 171.1h3.3v4.0h-3.3zM103.8 74.7h3.3v4.0h-3.3zM109.6 46.2h3.3v4.0h-3.3zM118.2 99.7h3.3v4.0h-3.3z"/>
<path fill="#02d79b" d="M11.4 167.5h3.3v4.0h-3.3zM34.5 67.6h3.3v4.0h-3.3zM34.5 110.4h3.3v4.0h-3.3zM40.2 39.1h3.3v4.0h-3.3zM40.2 96.2h3.3v4.0h-3.3zM98.0 174.7h3.3v4.0h-3.3zM132.7 174.7h3.3v4.0h-3.3zM178.9 103.3h3.3v4.0h-3.3z"/>
<path fill="#0cd247" d="M14.2 6.9h3.3v4.0h-3.3zM57.6 31.9h3.3v4.0h-3.3z"/>
<path fill="#06d576" d="M14.2 21.2h3.3v4.0h-3.3zM20.0 21.2h3.3v4.0h-3.3zM72.0 171.1h3.3v4.0h-3.3zM83.6 106.9h3.3v4.0h-3.3zM178.9 174.7h3.3v4.0h-3.3z"/>
<path fill="#01d8ab" d="M14.2 42.6h3.3v4.0h-3.3zM14.2 135.4h3.3v4.0h-3.3z"/>
<path fill="#0fd025" d="M14.2 49.8h3.3v4.0h-3.3zM167.4 10.5h3.3v4.0h-3.3zM173.1 53.3h3.3v4.0h-3.3z"/>
<path fill="#01d7a4" d="M14.2 64.0h3.3v4.0h-3.3zM69.1 39.1h3.3v4.0h-3.3zM144.2 46.2h3.3v4.0h-3.3z"/>
<path fill="#0cd248" d="M14.2 106.9h3.3v4.0h-3.3zM28.7 167.5h3.3v4.0h-3.3zM43.1 142.5h3.3v4.0h-3.3zM80.7 160.4h3.3v4.0h-3.3zM124.0 106.9h3.3v4.0h-3.3zM147.1 121.1h3.3v4.0h-3.3z"/>
<path fill="#0bd34e" d="M14.2 156.8h3.3v4.0h-3.3zM31.6 171.1h3.3v4.0h-3.3zM37.4 171.1h3.3v4.0h-3.3zM46.0 146.1h3.3v4.0h-3.3zM66.2 114.0h3.3v4.0h-3.3zM121.1 81.9h3.3v4.0h-3.3zM158.7 85.4h3.3v4.0h-3.3zM161.6 81.9h3.3v4.0h-3.3z"/>
<path fill="#0ad356" d="M14.2 164.0h3.3v4.0h-3.3zM40.2 167.5h3.3v4.0h-3.3zM63.4 110.4h3.3v4.0h-3.3zM66.2 156.8h3.3v4.0h-3.3zM77.8 114.0h3.3v4.0h-3.3zM92.2 167.5h3.3v4.0h-3.3z"/>
<path fill="#0cd246" d="M17.1 10.5h3.3v4.0h-3.3zM46.0 103.3h3.3v4.0h-3.3zM72.0 35.5h3.3v4.0h-3.3zM115.4 17.6h3.3v4.0h-3.3z"/>
<path fill="#08d46b" d="M17.1 103.3h3.3v4.0h-3.3zM178.9 89.0h3.3v4.0h-3.3z"/>
<path fill="#08d469" d="M17.1 117.6h3.3v4.0h-3.3zM22.9 24.8h3.3v4.0h-3.3zM54.7 28.3h3.3v4.0h-3.3zM103.8 103.3h3.3v4.0h-3.3z"/>
<path fill="#02d79d" d="M17.1 131.8h3.3v4.0h-3.3zM54.7 92.6h3.3v4.0h-3.3zM83.6 121.1h3.3v4.0h-3.3zM89.4 114.0h3.3v4.0h-3.3zM92.2 74.7h3.3v4.0h-3.3zM106.7 49.8h3.3v4.0h-3.3z"/>
<path fill="#3fd614" d="M17.1 153.3h3.3v4.0h-3.3zM92.2 146.1h3.3v4.0h-3.3zM103.8 60.5h3.3v4.0h-3.3z"/>
<path fill="#1ed21d" d="M20.0 6.9h3.3v4.0h-3.3zM144.2 53.3h3.3v4.0h-3.3zM173.1 3.4h3.3v4.0h-3.3z"/>
<path fill="#00d4b6" d="M20.0 42.6h3.3v4.0h-3.3zM74.9 167.5h3.3v4.0h-3.3zM141.4 49.8h3.3v4.0h-3.3zM150.0 67.6h3.3v4.0h-3.3z"/>
<path fill="#3dd615" d="M20.0 49.8h3.3v4.0h-3.3zM25.8 14.1h3.3v4.0h-3.3zM89.4 6.9h3.3v4.0h-3.3zM109.6 17.6h3.3v4.0h-3.3z"/>
<path fill="#03d694" d="M20.0 56.9h3.3v4.0h-3.3zM43.1 164.0h3.3v4.0h-3.3zM48.9 171.1h3.3v4.0h-3.3zM80.7 117.6h3.3v4.0h-3.3zM144.2 60.5h3.3v4.0h-3.3z"/>
<path fill="#08d46c" d="M20.0 106.9h3.3v4.0h-3.3zM167.4 96.2h3.3v4.0h-3.3zM170.2 114.0h3.3v4.0h-3.3z"/>
<path fill="#09d35e" d="M20.0 114.0h3.3v4.0h-3.3zM150.0 103.3h3.3v4.0h-3.3z"/>
<path fill="#07d46f" d="M20.0 121.1h3.3v4.0h-3.3zM100.9 171.1h3.3v4.0h-3.3z"/>
<path fill="#02d7a2" d="M20.0 135.4h3.3v4.0h-3.3zM43.1 64.0h3.3v4.0h-3.3zM80.7 174.7h3.3v4.0h-3.3z"/>
<path fill="#42d613" d="M20.0 149.7h3.3v4.0h-3.3z"/>
<path fill="#1dd21d" d="M22.9 10.5h3.3v4.0h-3.3zM173.1 146.1h3.3v4.0h-3.3z"/>
<path fill="#10d022" d="M22.9 46.2h3.3v4.0h-3.3zM28.7 17.6h3.3v4.0h-3.3zM37.4 142.5h3.3v4.0h-3.3zM103.8 17.6h3.3v4.0h-3.3zM109.6 60.5h3.3v4.0h-3.3z"/>
<path fill="#00d0bc" d="M22.9 60.5h3.3v4.0h-3.3z"/>
<path fill="#03d693" d="M22.9 103.3h3.3v4.0h-3.3zM57.6 110.4h3.3v4.0h-3.3zM77.8 171.1h3.3v4.0h-3.3zM106.7 171.1h3.3v4.0h-3.3zM141.4 85.4h3.3v4.0h-3.3z"/>
<path fill="#0cd245" d="M22.9 117.6h3.3v4.0h-3.3zM86.5 10.5h3.3v4.0h-3.3zM98.0 117.6h3.3v4.0h-3.3zM124.0 99.7h3.3v4.0h-3.3zM147.1 14.1h3.3v4.0h-3.3zM158.7 106.9h3.3v4.0h-3.3z"/>
<path fill="#05d685" d="M22.9 139.0h3.3v4.0h-3.3zM31.6 14.1h3.3v4.0h-3.3zM92.2 81.9h3.3v4.0h-3.3zM115.4 81.9h3.3v4.0h-3.3zM167.4 131.8h3.3v4.0h-3.3z"/>
<path fill="#0fd028" d="M22.9 146.1h3.3v4.0h-3.3zM77.8 6.9h3.3v4.0h-3.3zM132.7 53.3h3.3v4.0h-3.3z"/>
<path fill="#0ad357" d="M22.9 167.5h3.3v4.0h-3.3zM28.7 103.3h3.3v4.0h-3.3zM34.5 174.7h3.3v4.0h-3.3zM48.9 85.4h3.3v4.0h-3.3zM95.1 164.0h3.3v4.0h-3.3zM98.0 24.8h3.3v4.0h-3.3zM138.5 53.3h3.3v4.0h-3.3z"/>
<path fill="#36d517" d="M25.8 42.6h3.3v4.0h-3.3z"/>
<path fill="#00cbc5" d="M25.8 49.8h3.3v4.0h-3.3zM72.0 64.0h3.3v4.0h-3.3z"/>
<path fill="#00ccc3" d="M25.8 64.0h3.3v4.0h-3.3zM80.7 139.0h3.3v4.0h-3.3zM115.4 46.2h3.3v4.0h-3.3zM132.7 46.2h3.3v4.0h-3.3z"/>
<path fill="#04d688" d="M25.8 71.2h3.3v4.0h-3.3zM31.6 71.2h3.3v4.0h-3.3zM86.5 31.9h3.3v4.0h-3.3zM109.6 174.7h3.3v4.0h-3.3z"/>
<path fill="#0ad359" d="M25.8 114.0h3.3v4.0h-3.3zM28.7 67.6h3.3v4.0h-3.3zM57.6 146.1h3.3v4.0h-3.3z"/>
<path fill="#0fd12c" d="M25.8 149.7h3.3v4.0h-3.3zM43.1 21.2h3.3v4.0h-3.3zM147.1 149.7h3.3v4.0h-3.3z"/>
<path fill="#07d574" d="M25.8 164.0h3.3v4.0h-3.3zM100.9 99.7h3.3v4.0h-3.3zM173.1 81.9h3.3v4.0h-3.3z"/>
<path fill="#14d11f" d="M28.7 46.2h3.3v4.0h-3.3z"/>
<path fill="#03d691" d="M28.7 110.4h3.3v4.0h-3.3zM34.5 103.3h3.3v4.0h-3.3zM161.6 110.4h3.3v4.0h-3.3zM170.2 171.1h3.3v4.0h-3.3z"/>
<path fill="#00cec0" d="M28.7 131.8h3.3v4.0h-3.3zM57.6 139.0h3.3v4.0h-3.3zM144.2 174.7h3.3v4.0h-3.3zM147.1 171.1h3.3v4.0h-3.3z"/>
<path fill="#1ad11d" d="M31.6 21.2h3.3v4.0h-3.3zM126.9 17.6h3.3v4.0h-3.3zM141.4 142.5h3.3v4.0h-3.3z"/>
<path fill="#03d797" d="M31.6 114.0h3.3v4.0h-3.3zM51.8 117.6h3.3v4.0h-3.3zM57.6 74.7h3.3v4.0h-3.3zM77.8 71.2h3.3v4.0h-3.3zM132.7 103.3h3.3v4.0h-3.3zM135.6 85.4h3.3v4.0h-3.3z"/>
<path fill="#0dd23c" d="M31.6 142.5h3.3v4.0h-3.3zM69.1 117.6h3.3v4.0h-3.3zM72.0 6.9h3.3v4.0h-3.3zM167.4 146.1h3.3v4.0h-3.3z"/>
<path fill="#01d7a5" d="M31.6 164.0h3.3v4.0h-3.3z"/>
<path fill="#0dd138" d="M34.5 17.6h3.3v4.0h-3.3zM144.2 17.6h3.3v4.0h-3.3zM158.7 142.5h3.3v4.0h-3.3z"/>
<path fill="#0dd137" d="M34.5 46.2h3.3v4.0h-3.3zM103.8 174.7h3.3v4.0h-3.3z"/>
<path fill="#04d68c" d="M34.5 74.7h3.3v4.0h-3.3zM40.2 67.6h3.3v4.0h-3.3zM77.8 42.6h3.3v4.0h-3.3zM89.4 171.1h3.3v4.0h-3.3zM98.0 167.5h3.3v4.0h-3.3zM126.9 96.2h3.3v4.0h-3.3zM173.1 46.2h3.3v4.0h-3.3z"/>
<path fill="#00cac7" d="M34.5 139.0h3.3v4.0h-3.3zM63.4 174.7h3.3v4.0h-3.3zM74.9 139.0h3.3v4.0h-3.3zM89.4 142.5h3.3v4.0h-3.3zM92.2 174.7h3.3v4.0h-3.3zM106.7 135.4h3.3v4.0h-3.3z"/>
<path fill="#27d31a" d="M34.5 146.1h3.3v4.0h-3.3zM161.6 10.5h3.3v4.0h-3.3z"/>
<path fill="#01d8a7" d="M34.5 167.5h3.3v4.0h-3.3z"/>
<path fill="#0cd240" d="M37.4 14.1h3.3v4.0h-3.3zM92.2 89.0h3.3v4.0h-3.3zM170.2 99.7h3.3v4.0h-3.3z"/>
<path fill="#00c8c9" d="M37.4 42.6h3.3v4.0h-3.3zM51.8 46.2h3.3v4.0h-3.3zM54.7 171.1h3.3v4.0h-3.3zM69.1 174.7h3.3v4.0h-3.3zM121.1 131.8h3.3v4.0h-3.3zM152.9 49.8h3.3v4.0h-3.3z"/>
<path fill="#0bd249" d="M37.4 71.2h3.3v4.0h-3.3zM135.6 114.0h3.3v4.0h-3.3zM150.0 53.3h3.3v4.0h-3.3zM152.9 99.7h3.3v4.0h-3.3z"/>
<path fill="#0bd34f" d="M40.2 117.6h3.3v4.0h-3.3zM54.7 142.5h3.3v4.0h-3.3zM69.1 60.5h3.3v4.0h-3.3z"/>
<path fill="#15d11f" d="M40.2 139.0h3.3v4.0h-3.3zM66.2 149.7h3.3v4.0h-3.3zM100.9 56.9h3.3v4.0h-3.3zM100.9 142.5h3.3v4.0h-3.3zM161.6 53.3h3.3v4.0h-3.3z"/>
<path fill="#06d577" d="M40.2 146.1h3.3v4.0h-3.3zM66.2 78.3h3.3v4.0h-3.3zM83.6 164.0h3.3v4.0h-3.3zM106.7 21.2h3.3v4.0h-3.3zM141.4 14.1h3.3v4.0h-3.3z"/>
<path fill="#0dd139" d="M43.1 14.1h3.3v4.0h-3.3zM77.8 99.7h3.3v4.0h-3.3zM121.1 174.7h3.3v4.0h-3.3zM150.0 81.9h3.3v4.0h-3.3z"/>
<path fill="#04d68f" d="M43.1 35.5h3.3v4.0h-3.3zM77.8 142.5h3.3v4.0h-3.3zM112.5 78.3h3.3v4.0h-3.3zM164.5 85.4h3.3v4.0h-3.3zM173.1 103.3h3.3v4.0h-3.3zM176.0 71.2h3.3v4.0h-3.3z"/>
<path fill="#2bd319" d="M43.1 49.8h3.3v4.0h-3.3zM129.8 14.1h3.3v4.0h-3.3z"/>
<path fill="#09d463" d="M43.1 92.6h3.3v4.0h-3.3zM46.0 167.5h3.3v4.0h-3.3zM112.5 106.9h3.3v4.0h-3.3zM112.5 171.1h3.3v4.0h-3.3zM129.8 106.9h3.3v4.0h-3.3zM138.5 167.5h3.3v4.0h-3.3z"/>
<path fill="#08d468" d="M43.1 106.9h3.3v4.0h-3.3zM57.6 89.0h3.3v4.0h-3.3zM63.4 74.7h3.3v4.0h-3.3z"/>
<path fill="#09d45f" d="M43.1 114.0h3.3v4.0h-3.3zM164.5 99.7h3.3v4.0h-3.3z"/>
<path fill="#00d7b2" d="M43.1 171.1h3.3v4.0h-3.3zM176.0 128.3h3.3v4.0h-3.3z"/>
<path fill="#24d31b" d="M46.0 17.6h3.3v4.0h-3.3z"/>
<path fill="#03d796" d="M46.0 39.1h3.3v4.0h-3.3zM138.5 89.0h3.3v4.0h-3.3z"/>
<path fill="#38d516" d="M46.0 53.3h3.3v4.0h-3.3z"/>
<path fill="#00d3b8" d="M46.0 60.5h3.3v4.0h-3.3zM60.5 56.9h3.3v4.0h-3.3zM98.0 146.1h3.3v4.0h-3.3zM126.9 124.7h3.3v4.0h-3.3zM150.0 124.7h3.3v4.0h-3.3zM150.0 174.7h3.3v4.0h-3.3z"/>
<path fill="#08d467" d="M46.0 89.0h3.3v4.0h-3.3zM69.1 160.4h3.3v4.0h-3.3z"/>
<path fill="#03d798" d="M46.0 110.4h3.3v4.0h-3.3zM158.7 49.8h3.3v4.0h-3.3z"/>
<path fill="#2cd319" d="M48.9 21.2h3.3v4.0h-3.3zM60.5 64.0h3.3v4.0h-3.3zM115.4 146.1h3.3v4.0h-3.3z"/>
<path fill="#02d7a0" d="M48.9 42.6h3.3v4.0h-3.3zM60.5 142.5h3.3v4.0h-3.3zM95.1 121.1h3.3v4.0h-3.3zM103.8 110.4h3.3v4.0h-3.3zM132.7 89.0h3.3v4.0h-3.3zM132.7 167.5h3.3v4.0h-3.3zM144.2 167.5h3.3v4.0h-3.3z"/>
<path fill="#0dd23f" d="M48.9 56.9h3.3v4.0h-3.3zM63.4 60.5h3.3v4.0h-3.3zM89.4 78.3h3.3v4.0h-3.3zM124.0 14.1h3.3v4.0h-3.3zM132.7 81.9h3.3v4.0h-3.3z"/>
<path fill="#03d799" d="M48.9 71.2h3.3v4.0h-3.3zM124.0 171.1h3.3v4.0h-3.3zM152.9 171.1h3.3v4.0h-3.3z"/>
<path fill="#0ed130" d="M48.9 114.0h3.3v4.0h-3.3zM48.9 164.0h3.3v4.0h-3.3zM63.4 153.3h3.3v4.0h-3.3zM72.0 56.9h3.3v4.0h-3.3zM141.4 56.9h3.3v4.0h-3.3z"/>
<path fill="#0dd23d" d="M48.9 142.5h3.3v4.0h-3.3zM152.9 56.9h3.3v4.0h-3.3z"/>
<path fill="#28d31a" d="M51.8 17.6h3.3v4.0h-3.3zM57.6 17.6h3.3v4.0h-3.3zM92.2 10.5h3.3v4.0h-3.3z"/>
<path fill="#02d79e" d="M51.8 24.8h3.3v4.0h-3.3zM89.4 28.3h3.3v4.0h-3.3z"/>
<path fill="#0bd350" d="M51.8 60.5h3.3v4.0h-3.3zM63.4 31.9h3.3v4.0h-3.3zM129.8 171.1h3.3v4.0h-3.3z"/>
<path fill="#0dd13a" d="M51.8 67.6h3.3v4.0h-3.3zM80.7 24.8h3.3v4.0h-3.3z"/>
<path fill="#09d460" d="M51.8 89.0h3.3v4.0h-3.3zM103.8 24.8h3.3v4.0h-3.3z"/>
<path fill="#0bd24a" d="M51.8 103.3h3.3v4.0h-3.3zM66.2 106.9h3.3v4.0h-3.3zM86.5 96.2h3.3v4.0h-3.3z"/>
<path fill="#08d465" d="M51.8 160.4h3.3v4.0h-3.3zM72.0 114.0h3.3v4.0h-3.3z"/>
<path fill="#43d613" d="M54.7 14.1h3.3v4.0h-3.3z"/>
<path fill="#01d8aa" d="M54.7 42.6h3.3v4.0h-3.3zM60.5 42.6h3.3v4.0h-3.3zM83.6 71.2h3.3v4.0h-3.3zM147.1 128.3h3.3v4.0h-3.3zM167.4 174.7h3.3v4.0h-3.3z"/>
<path fill="#06d57d" d="M54.7 71.2h3.3v4.0h-3.3zM66.2 142.5h3.3v4.0h-3.3zM98.0 96.2h3.3v4.0h-3.3zM100.9 28.3h3.3v4.0h-3.3zM173.1 96.2h3.3v4.0h-3.3z"/>
<path fill="#06d57a" d="M54.7 106.9h3.3v4.0h-3.3zM66.2 42.6h3.3v4.0h-3.3zM89.4 92.6h3.3v4.0h-3.3zM115.4 110.4h3.3v4.0h-3.3zM121.1 103.3h3.3v4.0h-3.3zM126.9 110.4h3.3v4.0h-3.3z"/>
<path fill="#07d575" d="M54.7 114.0h3.3v4.0h-3.3zM141.4 164.0h3.3v4.0h-3.3z"/>
<path fill="#07d573" d="M54.7 156.8h3.3v4.0h-3.3zM80.7 103.3h3.3v4.0h-3.3zM167.4 103.3h3.3v4.0h-3.3zM170.2 21.2h3.3v4.0h-3.3z"/>
<path fill="#10d021" d="M57.6 60.5h3.3v4.0h-3.3z"/>
<path fill="#00c9c9" d="M57.6 174.7h3.3v4.0h-3.3z"/>
<path fill="#34d517" d="M60.5 21.2h3.3v4.0h-3.3zM138.5 146.1h3.3v4.0h-3.3zM178.9 146.1h3.3v4.0h-3.3z"/>
<path fill="#07d571" d="M60.5 78.3h3.3v4.0h-3.3zM164.5 14.1h3.3v4.0h-3.3z"/>
<path fill="#0dd23b" d="M60.5 92.6h3.3v4.0h-3.3zM74.9 60.5h3.3v4.0h-3.3z"/>
<path fill="#07d572" d="M60.5 114.0h3.3v4.0h-3.3zM158.7 114.0h3.3v4.0h-3.3z"/>
<path fill="#0fd12d" d="M60.5 149.7h3.3v4.0h-3.3zM89.4 56.9h3.3v4.0h-3.3zM161.6 139.0h3.3v4.0h-3.3z"/>
<path fill="#04d68a" d="M60.5 156.8h3.3v4.0h-3.3z"/>
<path fill="#14d01f" d="M63.4 17.6h3.3v4.0h-3.3z"/>
<path fill="#00d2ba" d="M63.4 39.1h3.3v4.0h-3.3zM109.6 167.5h3.3v4.0h-3.3zM112.5 42.6h3.3v4.0h-3.3zM126.9 60.5h3.3v4.0h-3.3zM132.7 60.5h3.3v4.0h-3.3zM138.5 124.7h3.3v4.0h-3.3z"/>
<path fill="#03d692" d="M63.4 96.2h3.3v4.0h-3.3zM109.6 24.8h3.3v4.0h-3.3z"/>
<path fill="#02d79a" d="M63.4 117.6h3.3v4.0h-3.3zM83.6 49.8h3.3v4.0h-3.3zM115.4 139.0h3.3v4.0h-3.3zM141.4 114.0h3.3v4.0h-3.3zM158.7 171.1h3.3v4.0h-3.3z"/>
<path fill="#0bd34d" d="M66.2 14.1h3.3v4.0h-3.3zM129.8 85.4h3.3v4.0h-3.3z"/>
<path fill="#04d689" d="M66.2 35.5h3.3v4.0h-3.3zM144.2 124.7h3.3v4.0h-3.3zM155.8 67.6h3.3v4.0h-3.3zM176.0 121.1h3.3v4.0h-3.3z"/>
<path fill="#40d614" d="M66.2 56.9h3.3v4.0h-3.3zM155.8 17.6h3.3v4.0h-3.3zM155.8 146.1h3.3v4.0h-3.3zM170.2 142.5h3.3v4.0h-3.3z"/>
<path fill="#0cd241" d="M66.2 99.7h3.3v4.0h-3.3zM129.8 114.0h3.3v4.0h-3.3zM144.2 117.6h3.3v4.0h-3.3z"/>
<path fill="#3cd515" d="M69.1 10.5h3.3v4.0h-3.3z"/>
<path fill="#0ed12f" d="M69.1 31.9h3.3v4.0h-3.3zM69.1 103.3h3.3v4.0h-3.3zM150.0 96.2h3.3v4.0h-3.3zM155.8 103.3h3.3v4.0h-3.3z"/>
<path fill="#0ad352" d="M69.1 81.9h3.3v4.0h-3.3zM72.0 99.7h3.3v4.0h-3.3z"/>
<path fill="#00d0bd" d="M69.1 139.0h3.3v4.0h-3.3zM95.1 42.6h3.3v4.0h-3.3zM135.6 64.0h3.3v4.0h-3.3z"/>
<path fill="#18d11e" d="M72.0 149.7h3.3v4.0h-3.3z"/>
<path fill="#07d471" d="M72.0 156.8h3.3v4.0h-3.3zM115.4 24.8h3.3v4.0h-3.3zM167.4 167.5h3.3v4.0h-3.3z"/>
<path fill="#17d11e" d="M74.9 10.5h3.3v4.0h-3.3zM112.5 21.2h3.3v4.0h-3.3zM176.0 56.9h3.3v4.0h-3.3z"/>
<path fill="#08d464" d="M74.9 31.9h3.3v4.0h-3.3zM141.4 99.7h3.3v4.0h-3.3zM173.1 174.7h3.3v4.0h-3.3z"/>
<path fill="#01d8a9" d="M74.9 67.6h3.3v4.0h-3.3zM161.6 46.2h3.3v4.0h-3.3z"/>
<path fill="#04d68d" d="M74.9 110.4h3.3v4.0h-3.3zM118.2 42.6h3.3v4.0h-3.3zM118.2 135.4h3.3v4.0h-3.3zM138.5 110.4h3.3v4.0h-3.3zM161.6 103.3h3.3v4.0h-3.3z"/>
<path fill="#11d020" d="M74.9 153.3h3.3v4.0h-3.3z"/>
<path fill="#0fd12b" d="M77.8 149.7h3.3v4.0h-3.3z"/>
<path fill="#08d46a" d="M77.8 164.0h3.3v4.0h-3.3zM115.4 117.6h3.3v4.0h-3.3z"/>
<path fill="#32d417" d="M80.7 10.5h3.3v4.0h-3.3z"/>
<path fill="#3cd615" d="M80.7 53.3h3.3v4.0h-3.3zM83.6 149.7h3.3v4.0h-3.3z"/>
<path fill="#00d7b1" d="M80.7 67.6h3.3v4.0h-3.3zM106.7 64.0h3.3v4.0h-3.3zM138.5 60.5h3.3v4.0h-3.3z"/>
<path fill="#02d79f" d="M80.7 81.9h3.3v4.0h-3.3zM126.9 103.3h3.3v4.0h-3.3zM138.5 46.2h3.3v4.0h-3.3zM141.4 171.1h3.3v4.0h-3.3z"/>
<path fill="#21d21c" d="M80.7 146.1h3.3v4.0h-3.3z"/>
<path fill="#0fd027" d="M83.6 56.9h3.3v4.0h-3.3zM132.7 139.0h3.3v4.0h-3.3z"/>
<path fill="#00d8b1" d="M83.6 142.5h3.3v4.0h-3.3z"/>
<path fill="#00cec1" d="M86.5 46.2h3.3v4.0h-3.3z"/>
<path fill="#0cd244" d="M86.5 53.3h3.3v4.0h-3.3z"/>
<path fill="#0bd24d" d="M86.5 74.7h3.3v4.0h-3.3zM98.0 81.9h3.3v4.0h-3.3zM103.8 139.0h3.3v4.0h-3.3zM118.2 114.0h3.3v4.0h-3.3z"/>
<path fill="#0bd351" d="M86.5 146.1h3.3v4.0h-3.3zM124.0 85.4h3.3v4.0h-3.3zM152.9 114.0h3.3v4.0h-3.3z"/>
<path fill="#06d579" d="M86.5 160.4h3.3v4.0h-3.3zM95.1 85.4h3.3v4.0h-3.3z"/>
<path fill="#00c9c8" d="M89.4 42.6h3.3v4.0h-3.3z"/>
<path fill="#34d417" d="M89.4 149.7h3.3v4.0h-3.3zM135.6 56.9h3.3v4.0h-3.3z"/>
<path fill="#09d35b" d="M89.4 164.0h3.3v4.0h-3.3z"/>
<path fill="#09d461" d="M92.2 24.8h3.3v4.0h-3.3zM118.2 171.1h3.3v4.0h-3.3zM121.1 117.6h3.3v4.0h-3.3z"/>
<path fill="#01d7a3" d="M92.2 46.2h3.3v4.0h-3.3z"/>
<path fill="#00d3b9" d="M95.1 71.2h3.3v4.0h-3.3z"/>
<path fill="#23d21b" d="M98.0 10.5h3.3v4.0h-3.3zM132.7 17.6h3.3v4.0h-3.3zM135.6 142.5h3.3v4.0h-3.3z"/>
<path fill="#42d614" d="M98.0 60.5h3.3v4.0h-3.3zM124.0 149.7h3.3v4.0h-3.3zM135.6 21.2h3.3v4.0h-3.3zM150.0 146.1h3.3v4.0h-3.3z"/>
<path fill="#00d1bc" d="M98.0 74.7h3.3v4.0h-3.3zM155.8 124.7h3.3v4.0h-3.3zM158.7 128.3h3.3v4.0h-3.3zM167.4 46.2h3.3v4.0h-3.3z"/>
<path fill="#10d020" d="M98.0 139.0h3.3v4.0h-3.3z"/>
<path fill="#39d516" d="M100.9 14.1h3.3v4.0h-3.3z"/>
<path fill="#00c9c7" d="M100.9 71.2h3.3v4.0h-3.3z"/>
<path fill="#08d466" d="M103.8 117.6h3.3v4.0h-3.3zM115.4 174.7h3.3v4.0h-3.3z"/>
<path fill="#10d023" d="M106.7 56.9h3.3v4.0h-3.3zM129.8 49.8h3.3v4.0h-3.3zM158.7 14.1h3.3v4.0h-3.3z"/>
<path fill="#0dd13b" d="M106.7 99.7h3.3v4.0h-3.3zM141.4 92.6h3.3v4.0h-3.3zM161.6 167.5h3.3v4.0h-3.3z"/>
<path fill="#41d614" d="M106.7 142.5h3.3v4.0h-3.3zM115.4 60.5h3.3v4.0h-3.3zM147.1 49.8h3.3v4.0h-3.3z"/>
<path fill="#06d57c" d="M109.6 117.6h3.3v4.0h-3.3zM144.2 103.3h3.3v4.0h-3.3zM158.7 64.0h3.3v4.0h-3.3z"/>
<path fill="#00d8ae" d="M112.5 56.9h3.3v4.0h-3.3zM135.6 164.0h3.3v4.0h-3.3z"/>
<path fill="#19d11e" d="M112.5 64.0h3.3v4.0h-3.3zM170.2 6.9h3.3v4.0h-3.3z"/>
<path fill="#1ed21c" d="M112.5 142.5h3.3v4.0h-3.3z"/>
<path fill="#01d8a8" d="M115.4 167.5h3.3v4.0h-3.3z"/>
<path fill="#0fd12a" d="M118.2 149.7h3.3v4.0h-3.3z"/>
<path fill="#24d21b" d="M121.1 10.5h3.3v4.0h-3.3zM170.2 49.8h3.3v4.0h-3.3z"/>
<path fill="#00cdc1" d="M121.1 39.1h3.3v4.0h-3.3zM176.0 49.8h3.3v4.0h-3.3z"/>
<path fill="#1cd21d" d="M121.1 146.1h3.3v4.0h-3.3zM126.9 53.3h3.3v4.0h-3.3z"/>
<path fill="#00d1bb" d="M124.0 128.3h3.3v4.0h-3.3z"/>
<path fill="#05d684" d="M126.9 167.5h3.3v4.0h-3.3zM152.9 128.3h3.3v4.0h-3.3z"/>
<path fill="#00d5b5" d="M126.9 174.7h3.3v4.0h-3.3zM129.8 128.3h3.3v4.0h-3.3zM147.1 64.0h3.3v4.0h-3.3zM161.6 124.7h3.3v4.0h-3.3zM164.5 171.1h3.3v4.0h-3.3zM170.2 42.6h3.3v4.0h-3.3z"/>
<path fill="#0ed131" d="M129.8 92.6h3.3v4.0h-3.3z"/>
<path fill="#0dd23e" d="M132.7 110.4h3.3v4.0h-3.3zM173.1 117.6h3.3v4.0h-3.3z"/>
<path fill="#05d683" d="M132.7 124.7h3.3v4.0h-3.3zM135.6 128.3h3.3v4.0h-3.3z"/>
<path fill="#09d35f" d="M135.6 99.7h3.3v4.0h-3.3z"/>
<path fill="#02d7a1" d="M135.6 171.1h3.3v4.0h-3.3zM161.6 17.6h3.3v4.0h-3.3z"/>
<path fill="#1ad11e" d="M138.5 17.6h3.3v4.0h-3.3z"/>
<path fill="#0cd242" d="M138.5 103.3h3.3v4.0h-3.3zM158.7 56.9h3.3v4.0h-3.3z"/>
<path fill="#3ad516" d="M141.4 21.2h3.3v4.0h-3.3z"/>
<path fill="#00d8af" d="M141.4 64.0h3.3v4.0h-3.3z"/>
<path fill="#0ed133" d="M147.1 78.3h3.3v4.0h-3.3zM150.0 17.6h3.3v4.0h-3.3z"/>
<path fill="#25d31b" d="M152.9 14.1h3.3v4.0h-3.3zM164.5 56.9h3.3v4.0h-3.3z"/>
<path fill="#00d6b4" d="M155.8 46.2h3.3v4.0h-3.3zM173.1 124.7h3.3v4.0h-3.3z"/>
<path fill="#2ed419" d="M155.8 53.3h3.3v4.0h-3.3z"/>
<path fill="#26d31a" d="M164.5 6.9h3.3v4.0h-3.3z"/>
<path fill="#0ad354" d="M170.2 106.9h3.3v4.0h-3.3z"/>
<path fill="#00d6b2" d="M170.2 128.3h3.3v4.0h-3.3z"/>
<path fill="#1cd11d" d="M176.0 6.9h3.3v4.0h-3.3z"/>
<path fill="#06d57e" d="M176.0 21.2h3.3v4.0h-3.3z"/>
<path fill="#12d01f" d="M176.0 142.5h3.3v4.0h-3.3z"/>
<path fill="#12d020" d="M178.9 60.5h3.3v4.0h-3.3z"/>
<path fill="#00cbc4" d="M178.9 131.8h3.3v4.0h-3.3z"/>
<path d="M1.4 12.5 L4.3 8.9 L7.2 5.4 L10.1 8.9 L13.0 5.4 L15.9 8.9 L18.8 12.5 L21.7 8.9 L24.6 12.5 L27.4 16.1 L30.3 19.6 L33.2 23.2 L36.1 19.6 L39.0 23.2 L41.9 19.6 L44.8 23.2 L47.7 19.6 L50.6 23.2 L53.4 19.6 L56.3 16.1 L59.2 19.6 L62.1 23.2 L65.0 19.6 L67.9 16.1 L70.8 12.5 L73.7 8.9 L76.6 12.5 L79.4 8.9 L82.3 12.5 L85.2 8.9 L88.1 12.5 L91.0 8.9 L93.9 12.5 L96.8 16.1 L99.7 12.5 L102.6 16.1 L105.4 19.6 L108.3 16.1 L111.2 19.6 L114.1 23.2 L117.0 19.6 L119.9 16.1 L122.8 12.5 L125.7 16.1 L128.6 19.6 L131.4 16.1 L134.3 19.6 L137.2 23.2 L140.1 19.6 L143.0 23.2 L145.9 19.6 L148.8 16.1 L151.7 19.6 L154.6 16.1 L157.4 19.6 L160.3 16.1 L163.2 12.5 L166.1 8.9 L169.0 12.5 L171.9 8.9 L174.8 5.4 L177.7 8.9 L180.6 5.4" fill="none" stroke="#10d020" stroke-width="1.1" stroke-linejoin="round"/>
<path d="M1.4 26.8 L4.3 30.3 L7.2 26.8 L10.1 30.3 L13.0 26.8 L15.9 23.2 L18.8 26.8 L21.7 23.2 L24.6 26.8 L27.4 23.2 L30.3 19.6 L33.2 16.1 L36.1 19.6 L39.0 16.1 L41.9 19.6 L44.8 16.1 L47.7 19.6 L50.6 23.2 L53.4 26.8 L56.3 30.3 L59.2 33.9 L62.1 30.3 L65.0 33.9 L67.9 37.5 L70.8 33.9 L73.7 37.5 L76.6 33.9 L79.4 30.3 L82.3 26.8 L85.2 30.3 L88.1 33.9 L91.0 30.3 L93.9 26.8 L96.8 30.3 L99.7 26.8 L102.6 30.3 L105.4 26.8 L108.3 23.2 L111.2 26.8 L114.1 23.2 L117.0 26.8 L119.9 23.2 L122.8 26.8 L125.7 23.2 L128.6 19.6 L131.4 23.2 L134.3 26.8 L137.2 23.2 L140.1 19.6 L143.0 16.1 L145.9 19.6 L148.8 16.1 L151.7 19.6 L154.6 16.1 L157.4 19.6 L160.3 16.1 L163.2 19.6 L166.1 16.1 L169.0 19.6 L171.9 23.2 L174.8 26.8 L177.7 23.2 L180.6 26.8" fill="none" stroke="#08d468" stroke-width="1.1" stroke-linejoin="round"/>
<path d="M88.1 33.9 L91.0 30.3 L93.9 26.8" fill="none" stroke="#ffa000" stroke-width="1.2"/>
<path d="M1.4 41.0 L4.3 44.6 L7.2 48.2 L10.1 44.6 L13.0 48.2 L15.9 44.6 L18.8 48.2 L21.7 44.6 L24.6 48.2 L27.4 51.7 L30.3 48.2 L33.2 44.6 L36.1 48.2 L39.0 44.6 L41.9 41.0 L44.8 37.5 L47.7 41.0 L50.6 44.6 L53.4 48.2 L56.3 44.6 L59.2 48.2 L62.1 44.6 L65.0 41.0 L67.9 44.6 L70.8 41.0 L73.7 37.5 L76.6 41.0 L79.4 44.6 L82.3 48.2 L85.2 51.7 L88.1 48.2 L91.0 44.6 L93.9 48.2 L96.8 44.6 L99.7 48.2 L102.6 44.6 L105.4 48.2 L108.3 51.7 L111.2 48.2 L114.1 44.6 L117.0 48.2 L119.9 44.6 L122.8 41.0 L125.7 44.6 L128.6 48.2 L131.4 51.7 L134.3 48.2 L137.2 51.7 L140.1 48.2 L143.0 51.7 L145.9 48.2 L148.8 51.7 L151.7 48.2 L154.6 51.7 L157.4 48.2 L160.3 51.7 L163.2 48.2 L166.1 51.7 L169.0 48.2 L171.9 44.6 L174.8 48.2 L177.7 51.7 L180.6 48.2" fill="none" stroke="#00d8b0" stroke-width="1.1" stroke-linejoin="round"/>
<path d="M122.8 41.0 L125.7 44.6 L128.6 48.2" fill="none" stroke="#ffa000" stroke-width="1.2"/>
<path d="M1.4 55.3 L4.3 51.7 L7.2 55.3 L10.1 51.7 L13.0 48.2 L15.9 51.7 L18.8 48.2 L21.7 51.7 L24.6 48.2 L27.4 44.6 L30.3 48.2 L33.2 44.6 L36.1 48.2 L39.0 51.7 L41.9 48.2 L44.8 51.7 L47.7 55.3 L50.6 58.9 L53.4 62.5 L56.3 58.9 L59.2 62.5 L62.1 66.0 L65.0 62.5 L67.9 58.9 L70.8 62.5 L73.7 58.9 L76.6 62.5 L79.4 58.9 L82.3 55.3 L85.2 58.9 L88.1 55.3 L91.0 58.9 L93.9 55.3 L96.8 58.9 L99.7 62.5 L102.6 58.9 L105.4 62.5 L108.3 58.9 L111.2 62.5 L114.1 66.0 L117.0 62.5 L119.9 66.0 L122.8 62.5 L125.7 58.9 L128.6 55.3 L131.4 51.7 L134.3 55.3 L137.2 58.9 L140.1 55.3 L143.0 58.9 L145.9 55.3 L148.8 51.7 L151.7 55.3 L154.6 58.9 L157.4 55.3 L160.3 58.9 L163.2 55.3 L166.1 58.9 L169.0 55.3 L171.9 51.7 L174.8 55.3 L177.7 58.9 L180.6 62.5" fill="none" stroke="#10d020" stroke-width="1.1" stroke-linejoin="round"/>
<path d="M65.0 62.5 L67.9 58.9 L70.8 62.5" fill="none" stroke="#ffa000" stroke-width="1.2"/>
<path d="M1.4 69.6 L4.3 73.2 L7.2 69.6 L10.1 73.2 L13.0 69.6 L15.9 66.0 L18.8 62.5 L21.7 58.9 L24.6 62.5 L27.4 66.0 L30.3 69.6 L33.2 73.2 L36.1 76.7 L39.0 73.2 L41.9 69.6 L44.8 66.0 L47.7 62.5 L50.6 58.9 L53.4 62.5 L56.3 58.9 L59.2 62.5 L62.1 58.9 L65.0 62.5 L67.9 66.0 L70.8 62.5 L73.7 66.0 L76.6 69.6 L79.4 73.2 L82.3 69.6 L85.2 73.2 L88.1 76.7 L91.0 80.3 L93.9 76.7 L96.8 73.2 L99.7 76.7 L102.6 73.2 L105.4 69.6 L108.3 66.0 L111.2 62.5 L114.1 58.9 L117.0 62.5 L119.9 66.0 L122.8 62.5 L125.7 58.9 L128.6 62.5 L131.4 66.0 L134.3 62.5 L137.2 66.0 L140.1 62.5 L143.0 66.0 L145.9 62.5 L148.8 66.0 L151.7 69.6 L154.6 73.2 L157.4 69.6 L160.3 66.0 L163.2 69.6 L166.1 73.2 L169.0 76.7 L171.9 73.2 L174.8 69.6 L177.7 73.2 L180.6 76.7" fill="none" stroke="#00d8b0" stroke-width="1.1" stroke-linejoin="round"/>
<path d="M105.4 69.6 L108.3 66.0 L111.2 62.5" fill="none" stroke="#ffa000" stroke-width="1.2"/>
<path d="M1.4 83.9 L4.3 80.3 L7.2 83.9 L10.1 80.3 L13.0 76.7 L15.9 73.2 L18.8 69.6 L21.7 73.2 L24.6 69.6 L27.4 73.2 L30.3 69.6 L33.2 73.2 L36.1 69.6 L39.0 73.2 L41.9 69.6 L44.8 73.2 L47.7 69.6 L50.6 73.2 L53.4 69.6 L56.3 73.2 L59.2 76.7 L62.1 80.3 L65.0 76.7 L67.9 80.3 L70.8 83.9 L73.7 80.3 L76.6 76.7 L79.4 80.3 L82.3 83.9 L85.2 80.3 L88.1 76.7 L91.0 80.3 L93.9 83.9 L96.8 87.4 L99.7 83.9 L102.6 80.3 L105.4 76.7 L108.3 80.3 L111.2 83.9 L114.1 80.3 L117.0 83.9 L119.9 87.4 L122.8 83.9 L125.7 87.4 L128.6 91.0 L131.4 87.4 L134.3 83.9 L137.2 80.3 L140.1 83.9 L143.0 87.4 L145.9 83.9 L148.8 80.3 L151.7 83.9 L154.6 87.4 L157.4 83.9 L160.3 87.4 L163.2 83.9 L166.1 87.4 L169.0 83.9 L171.9 87.4 L174.8 83.9 L177.7 87.4 L180.6 91.0" fill="none" stroke="#08d468" stroke-width="1.1" stroke-linejoin="round"/>
<path d="M65.0 76.7 L67.9 80.3 L70.8 83.9" fill="none" stroke="#ffa000" stroke-width="1.2"/>
<path d="M1.4 98.1 L4.3 101.7 L7.2 105.3 L10.1 108.8 L13.0 105.3 L15.9 108.8 L18.8 105.3 L21.7 108.8 L24.6 105.3 L27.4 108.8 L30.3 105.3 L33.2 101.7 L36.1 105.3 L39.0 101.7 L41.9 98.1 L44.8 94.6 L47.7 91.0 L50.6 87.4 L53.4 91.0 L56.3 94.6 L59.2 91.0 L62.1 94.6 L65.0 98.1 L67.9 101.7 L70.8 98.1 L73.7 101.7 L76.6 105.3 L79.4 101.7 L82.3 98.1 L85.2 101.7 L88.1 98.1 L91.0 94.6 L93.9 91.0 L96.8 94.6 L99.7 98.1 L102.6 101.7 L105.4 105.3 L108.3 101.7 L111.2 105.3 L114.1 108.8 L117.0 105.3 L119.9 101.7 L122.8 105.3 L125.7 101.7 L128.6 98.1 L131.4 94.6 L134.3 91.0 L137.2 87.4 L140.1 91.0 L143.0 94.6 L145.9 98.1 L148.8 101.7 L151.7 98.1 L154.6 101.7 L157.4 105.3 L160.3 101.7 L163.2 98.1 L166.1 101.7 L169.0 98.1 L171.9 101.7 L174.8 98.1 L177.7 101.7 L180.6 105.3" fill="none" stroke="#08d468" stroke-width="1.1" stroke-linejoin="round"/>
<path d="M1.4 112.4 L4.3 116.0 L7.2 119.5 L10.1 123.1 L13.0 119.5 L15.9 116.0 L18.8 119.5 L21.7 123.1 L24.6 119.5 L27.4 116.0 L30.3 112.4 L33.2 108.8 L36.1 105.3 L39.0 108.8 L41.9 105.3 L44.8 108.8 L47.7 105.3 L50.6 101.7 L53.4 105.3 L56.3 108.8 L59.2 112.4 L62.1 116.0 L65.0 112.4 L67.9 108.8 L70.8 105.3 L73.7 101.7 L76.6 105.3 L79.4 101.7 L82.3 105.3 L85.2 108.8 L88.1 112.4 L91.0 116.0 L93.9 119.5 L96.8 123.1 L99.7 119.5 L102.6 116.0 L105.4 119.5 L108.3 116.0 L111.2 119.5 L114.1 116.0 L117.0 119.5 L119.9 116.0 L122.8 112.4 L125.7 108.8 L128.6 105.3 L131.4 108.8 L134.3 105.3 L137.2 101.7 L140.1 105.3 L143.0 101.7 L145.9 105.3 L148.8 101.7 L151.7 105.3 L154.6 108.8 L157.4 105.3 L160.3 108.8 L163.2 105.3 L166.1 101.7 L169.0 105.3 L171.9 108.8 L174.8 105.3 L177.7 101.7 L180.6 105.3" fill="none" stroke="#08d468" stroke-width="1.1" stroke-linejoin="round"/>
<path d="M1.4 126.7 L4.3 123.1 L7.2 119.5 L10.1 123.1 L13.0 119.5 L15.9 116.0 L18.8 112.4 L21.7 116.0 L24.6 119.5 L27.4 116.0 L30.3 112.4 L33.2 116.0 L36.1 112.4 L39.0 116.0 L41.9 119.5 L44.8 116.0 L47.7 112.4 L50.6 116.0 L53.4 119.5 L56.3 116.0 L59.2 119.5 L62.1 116.0 L65.0 119.5 L67.9 116.0 L70.8 119.5 L73.7 116.0 L76.6 112.4 L79.4 116.0 L82.3 119.5 L85.2 123.1 L88.1 119.5 L91.0 116.0 L93.9 119.5 L96.8 123.1 L99.7 119.5 L102.6 116.0 L105.4 112.4 L108.3 116.0 L111.2 119.5 L114.1 116.0 L117.0 112.4 L119.9 116.0 L122.8 119.5 L125.7 116.0 L128.6 112.4 L131.4 116.0 L134.3 112.4 L137.2 116.0 L140.1 112.4 L143.0 116.0 L145.9 119.5 L148.8 123.1 L151.7 119.5 L154.6 116.0 L157.4 112.4 L160.3 116.0 L163.2 112.4 L166.1 116.0 L169.0 119.5 L171.9 116.0 L174.8 119.5 L177.7 123.1 L180.6 119.5" fill="none" stroke="#08d468" stroke-width="1.1" stroke-linejoin="round"/>
<path d="M62.1 116.0 L65.0 119.5 L67.9 116.0" fill="none" stroke="#ffa000" stroke-width="1.2"/>
<path d="M1.4 141.0 L4.3 137.4 L7.2 133.8 L10.1 137.4 L13.0 133.8 L15.9 137.4 L18.8 133.8 L21.7 137.4 L24.6 141.0 L27.4 137.4 L30.3 133.8 L33.2 137.4 L36.1 141.0 L39.0 144.5 L41.9 148.1 L44.8 144.5 L47.7 148.1 L50.6 144.5 L53.4 148.1 L56.3 144.5 L59.2 141.0 L62.1 144.5 L65.0 148.1 L67.9 144.5 L70.8 141.0 L73.7 137.4 L76.6 141.0 L79.4 144.5 L82.3 141.0 L85.2 144.5 L88.1 148.1 L91.0 144.5 L93.9 141.0 L96.8 144.5 L99.7 148.1 L102.6 144.5 L105.4 141.0 L108.3 137.4 L111.2 141.0 L114.1 137.4 L117.0 141.0 L119.9 137.4 L122.8 133.8 L125.7 130.3 L128.6 126.7 L131.4 130.3 L134.3 126.7 L137.2 130.3 L140.1 126.7 L143.0 130.3 L145.9 126.7 L148.8 130.3 L151.7 126.7 L154.6 130.3 L157.4 126.7 L160.3 130.3 L163.2 126.7 L166.1 130.3 L169.0 133.8 L171.9 130.3 L174.8 126.7 L177.7 130.3 L180.6 133.8" fill="none" stroke="#00d8b0" stroke-width="1.1" stroke-linejoin="round"/>
<path d="M65.0 148.1 L67.9 144.5 L70.8 141.0" fill="none" stroke="#ffa000" stroke-width="1.2"/>
<path d="M1.4 155.2 L4.3 151.7 L7.2 155.2 L10.1 158.8 L13.0 155.2 L15.9 158.8 L18.8 155.2 L21.7 151.7 L24.6 148.1 L27.4 151.7 L30.3 148.1 L33.2 144.5 L36.1 148.1 L39.0 144.5 L41.9 141.0 L44.8 144.5 L47.7 148.1 L50.6 144.5 L53.4 141.0 L56.3 144.5 L59.2 148.1 L62.1 151.7 L65.0 155.2 L67.9 151.7 L70.8 155.2 L73.7 151.7 L76.6 155.2 L79.4 151.7 L82.3 148.1 L85.2 151.7 L88.1 148.1 L91.0 151.7 L93.9 148.1 L96.8 144.5 L99.7 141.0 L102.6 144.5 L105.4 141.0 L108.3 144.5 L111.2 141.0 L114.1 144.5 L117.0 148.1 L119.9 151.7 L122.8 148.1 L125.7 151.7 L128.6 148.1 L131.4 144.5 L134.3 141.0 L137.2 144.5 L140.1 148.1 L143.0 144.5 L145.9 148.1 L148.8 151.7 L151.7 148.1 L154.6 151.7 L157.4 148.1 L160.3 144.5 L163.2 141.0 L166.1 144.5 L169.0 148.1 L171.9 144.5 L174.8 148.1 L177.7 144.5 L180.6 148.1" fill="none" stroke="#10d020" stroke-width="1.1" stroke-linejoin="round"/>
<path d="M53.4 141.0 L56.3 144.5 L59.2 148.1" fill="none" stroke="#ffa000" stroke-width="1.2"/>
<path d="M1.4 169.5 L4.3 165.9 L7.2 162.4 L10.1 165.9 L13.0 162.4 L15.9 165.9 L18.8 169.5 L21.7 165.9 L24.6 169.5 L27.4 165.9 L30.3 169.5 L33.2 173.1 L36.1 176.6 L39.0 173.1 L41.9 169.5 L44.8 165.9 L47.7 169.5 L50.6 165.9 L53.4 162.4 L56.3 158.8 L59.2 155.2 L62.1 158.8 L65.0 155.2 L67.9 158.8 L70.8 162.4 L73.7 158.8 L76.6 162.4 L79.4 165.9 L82.3 162.4 L85.2 165.9 L88.1 162.4 L91.0 165.9 L93.9 169.5 L96.8 165.9 L99.7 169.5 L102.6 173.1 L105.4 176.6 L108.3 173.1 L111.2 176.6 L114.1 173.1 L117.0 176.6 L119.9 173.1 L122.8 176.6 L125.7 173.1 L128.6 169.5 L131.4 173.1 L134.3 176.6 L137.2 173.1 L140.1 169.5 L143.0 165.9 L145.9 169.5 L148.8 165.9 L151.7 169.5 L154.6 173.1 L157.4 176.6 L160.3 173.1 L163.2 169.5 L166.1 165.9 L169.0 169.5 L171.9 173.1 L174.8 176.6 L177.7 173.1 L180.6 176.6" fill="none" stroke="#08d468" stroke-width="1.1" stroke-linejoin="round"/>
<path d="M44.8 165.9 L47.7 169.5 L50.6 165.9" fill="none" stroke="#ffa000" stroke-width="1.2"/>
<path d="M1.4 176.6 L4.3 173.1 L7.2 169.5 L10.1 165.9 L13.0 169.5 L15.9 165.9 L18.8 169.5 L21.7 165.9 L24.6 169.5 L27.4 165.9 L30.3 169.5 L33.2 165.9 L36.1 169.5 L39.0 173.1 L41.9 169.5 L44.8 173.1 L47.7 169.5 L50.6 173.1 L53.4 176.6 L56.3 173.1 L59.2 176.6 L62.1 173.1 L65.0 176.6 L67.9 173.1 L70.8 176.6 L73.7 173.1 L76.6 169.5 L79.4 173.1 L82.3 176.6 L85.2 173.1 L88.1 169.5 L91.0 173.1 L93.9 176.6 L96.8 173.1 L99.7 176.6 L102.6 173.1 L105.4 176.6 L108.3 173.1 L111.2 169.5 L114.1 173.1 L117.0 169.5 L119.9 173.1 L122.8 176.6 L125.7 173.1 L128.6 176.6 L131.4 173.1 L134.3 169.5 L137.2 165.9 L140.1 169.5 L143.0 173.1 L145.9 176.6 L148.8 173.1 L151.7 176.6 L154.6 173.1 L157.4 176.6 L160.3 173.1 L163.2 176.6 L166.1 173.1 L169.0 176.6 L171.9 173.1 L174.8 176.6 L177.7 173.1 L180.6 176.6" fill="none" stroke="#00d8b0" stroke-width="1.1" stroke-linejoin="round"/>
<path d="M76.6 169.5 L79.4 173.1 L82.3 176.6" fill="none" stroke="#ffa000" stroke-width="1.2"/>
<path fill="#cfcfd1" d="M-0.6 1.5a2.1 2.1 0 1 0 4.2 0a2.1 2.1 0 1 0 -4.2 0M-0.1 9.1a1.9 1.9 0 1 0 3.8 0a1.9 1.9 0 1 0 -3.8 0M-0.7 16.3a2.0 2.0 0 1 0 4.1 0a2.0 2.0 0 1 0 -4.1 0M-0.5 22.8a2.0 2.0 0 1 0 4.0 0a2.0 2.0 0 1 0 -4.0 0M-0.7 29.9a1.9 1.9 0 1 0 3.7 0a1.9 1.9 0 1 0 -3.7 0M-0.8 52.2a2.1 2.1 0 1 0 4.3 0a2.1 2.1 0 1 0 -4.3 0M-0.6 55.8a2.1 2.1 0 1 0 4.2 0a2.1 2.1 0 1 0 -4.2 0M-0.2 59.2a2.0 2.0 0 1 0 4.0 0a2.0 2.0 0 1 0 -4.0 0M-0.2 66.5a1.9 1.9 0 1 0 3.8 0a1.9 1.9 0 1 0 -3.8 0M-0.9 73.2a2.0 2.0 0 1 0 3.9 0a2.0 2.0 0 1 0 -3.9 0M-0.5 77.1a2.0 2.0 0 1 0 4.1 0a2.0 2.0 0 1 0 -4.1 0M-0.8 79.8a1.8 1.8 0 1 0 3.6 0a1.8 1.8 0 1 0 -3.6 0M-0.6 83.7a2.0 2.0 0 1 0 4.0 0a2.0 2.0 0 1 0 -4.0 0M-0.3 87.2a1.9 1.9 0 1 0 3.9 0a1.9 1.9 0 1 0 -3.9 0M-0.2 102.0a2.1 2.1 0 1 0 4.2 0a2.1 2.1 0 1 0 -4.2 0M-0.7 109.1a1.9 1.9 0 1 0 3.7 0a1.9 1.9 0 1 0 -3.7 0M-0.0 115.9a1.9 1.9 0 1 0 3.8 0a1.9 1.9 0 1 0 -3.8 0M-1.1 123.4a2.0 2.0 0 1 0 4.1 0a2.0 2.0 0 1 0 -4.1 0M-0.1 130.1a2.0 2.0 0 1 0 4.0 0a2.0 2.0 0 1 0 -4.0 0M-0.5 137.5a2.1 2.1 0 1 0 4.1 0a2.1 2.1 0 1 0 -4.1 0M-0.8 144.9a1.8 1.8 0 1 0 3.6 0a1.8 1.8 0 1 0 -3.6 0M-0.8 151.4a2.1 2.1 0 1 0 4.1 0a2.1 2.1 0 1 0 -4.1 0M-0.5 155.2a2.1 2.1 0 1 0 4.2 0a2.1 2.1 0 1 0 -4.2 0M-0.9 158.4a2.0 2.0 0 1 0 4.0 0a2.0 2.0 0 1 0 -4.0 0M-1.0 166.3a2.1 2.1 0 1 0 4.3 0a2.1 2.1 0 1 0 -4.3 0M-0.3 172.7a1.9 1.9 0 1 0 3.9 0a1.9 1.9 0 1 0 -3.9 0M2.0 5.6a1.9 1.9 0 1 0 3.8 0a1.9 1.9 0 1 0 -3.8 0M1.9 12.8a2.1 2.1 0 1 0 4.2 0a2.1 2.1 0 1 0 -4.2 0M2.4 26.4a1.8 1.8 0 1 0 3.6 0a1.8 1.8 0 1 0 -3.6 0M2.3 40.6a1.9 1.9 0 1 0 3.8 0a1.9 1.9 0 1 0 -3.8 0M2.5 48.5a1.9 1.9 0 1 0 3.8 0a1.9 1.9 0 1 0 -3.8 0M1.9 55.0a2.1 2.1 0 1 0 4.1 0a2.1 2.1 0 1 0 -4.1 0M2.3 59.2a2.1 2.1 0 1 0 4.2 0a2.1 2.1 0 1 0 -4.2 0M2.2 62.5a1.9 1.9 0 1 0 3.8 0a1.9 1.9 0 1 0 -3.8 0M2.2 70.0a2.1 2.1 0 1 0 4.2 0a2.1 2.1 0 1 0 -4.2 0M2.5 77.0a2.1 2.1 0 1 0 4.1 0a2.1 2.1 0 1 0 -4.1 0M2.4 83.8a1.9 1.9 0 1 0 3.8 0a1.9 1.9 0 1 0 -3.8 0M2.1 90.6a2.1 2.1 0 1 0 4.3 0a2.1 2.1 0 1 0 -4.3 0M1.9 98.4a2.1 2.1 0 1 0 4.2 0a2.1 2.1 0 1 0 -4.2 0M1.8 105.0a2.1 2.1 0 1 0 4.2 0a2.1 2.1 0 1 0 -4.2 0M1.7 112.0a2.1 2.1 0 1 0 4.3 0a2.1 2.1 0 1 0 -4.3 0M2.0 119.8a2.0 2.0 0 1 0 3.9 0a2.0 2.0 0 1 0 -3.9 0M2.9 126.9a1.9 1.9 0 1 0 3.8 0a1.9 1.9 0 1 0 -3.8 0M2.7 133.5a1.9 1.9 0 1 0 3.9 0a1.9 1.9 0 1 0 -3.9 0M2.3 141.3a2.0 2.0 0 1 0 4.1 0a2.0 2.0 0 1 0 -4.1 0M2.7 148.3a1.8 1.8 0 1 0 3.6 0a1.8 1.8 0 1 0 -3.6 0M2.2 155.6a2.0 2.0 0 1 0 4.0 0a2.0 2.0 0 1 0 -4.0 0M2.7 159.2a1.9 1.9 0 1 0 3.8 0a1.9 1.9 0 1 0 -3.8 0M1.9 169.1a2.1 2.1 0 1 0 4.2 0a2.1 2.1 0 1 0 -4.2 0M2.3 177.0a2.0 2.0 0 1 0 4.1 0a2.0 2.0 0 1 0 -4.1 0M5.2 1.4a2.1 2.1 0 1 0 4.1 0a2.1 2.1 0 1 0 -4.1 0M5.8 9.0a1.9 1.9 0 1 0 3.8 0a1.9 1.9 0 1 0 -3.8 0M5.5 16.1a2.0 2.0 0 1 0 4.0 0a2.0 2.0 0 1 0 -4.0 0M5.2 23.6a1.9 1.9 0 1 0 3.8 0a1.9 1.9 0 1 0 -3.8 0M5.0 30.1a2.0 2.0 0 1 0 4.0 0a2.0 2.0 0 1 0 -4.0 0M5.0 37.9a2.1 2.1 0 1 0 4.1 0a2.1 2.1 0 1 0 -4.1 0M5.8 44.3a1.8 1.8 0 1 0 3.6 0a1.8 1.8 0 1 0 -3.6 0M5.3 52.2a2.0 2.0 0 1 0 4.0 0a2.0 2.0 0 1 0 -4.0 0M5.7 58.5a2.0 2.0 0 1 0 4.0 0a2.0 2.0 0 1 0 -4.0 0M5.3 73.2a2.1 2.1 0 1 0 4.1 0a2.1 2.1 0 1 0 -4.1 0M5.4 80.6a2.0 2.0 0 1 0 4.0 0a2.0 2.0 0 1 0 -4.0 0M5.1 87.9a1.9 1.9 0 1 0 3.9 0a1.9 1.9 0 1 0 -3.9 0M4.9 94.7a1.9 1.9 0 1 0 3.7 0a1.9 1.9 0 1 0 -3.7 0M5.3 109.0a1.9 1.9 0 1 0 3.7 0a1.9 1.9 0 1 0 -3.7 0M5.6 115.7a2.0 2.0 0 1 0 4.0 0a2.0 2.0 0 1 0 -4.0 0M4.9 123.5a1.9 1.9 0 1 0 3.8 0a1.9 1.9 0 1 0 -3.8 0M5.4 137.9a2.0 2.0 0 1 0 3.9 0a2.0 2.0 0 1 0 -3.9 0M4.9 140.7a2.1 2.1 0 1 0 4.2 0a2.1 2.1 0 1 0 -4.2 0M5.6 144.4a1.9 1.9 0 1 0 3.9 0a1.9 1.9 0 1 0 -3.9 0M5.2 151.5a1.9 1.9 0 1 0 3.9 0a1.9 1.9 0 1 0 -3.9 0M5.6 158.9a1.9 1.9 0 1 0 3.8 0a1.9 1.9 0 1 0 -3.8 0M5.4 165.7a1.9 1.9 0 1 0 3.9 0a1.9 1.9 0 1 0 -3.9 0M5.4 173.4a2.0 2.0 0 1 0 4.0 0a2.0 2.0 0 1 0 -4.0 0M5.5 179.8a2.1 2.1 0 1 0 4.3 0a2.1 2.1 0 1 0 -4.3 0M8.4 1.3a2.1 2.1 0 1 0 4.3 0a2.1 2.1 0 1 0 -4.3 0M8.4 12.1a1.8 1.8 0 1 0 3.6 0a1.8 1.8 0 1 0 -3.6 0M7.9 26.8a2.0 2.0 0 1 0 4.0 0a2.0 2.0 0 1 0 -4.0 0M8.4 33.4a2.0 2.0 0 1 0 3.9 0a2.0 2.0 0 1 0 -3.9 0M8.8 48.5a1.8 1.8 0 1 0 3.7 0a1.8 1.8 0 1 0 -3.7 0M7.9 55.1a2.1 2.1 0 1 0 4.3 0a2.1 2.1 0 1 0 -4.3 0M8.4 62.8a1.9 1.9 0 1 0 3.9 0a1.9 1.9 0 1 0 -3.9 0M8.3 69.6a2.0 2.0 0 1 0 4.0 0a2.0 2.0 0 1 0 -4.0 0M7.9 76.7a1.9 1.9 0 1 0 3.9 0a1.9 1.9 0 1 0 -3.9 0M8.3 83.7a2.1 2.1 0 1 0 4.3 0a2.1 2.1 0 1 0 -4.3 0M7.8 91.1a1.9 1.9 0 1 0 3.7 0a1.9 1.9 0 1 0 -3.7 0M7.6 98.5a2.1 2.1 0 1 0 4.3 0a2.1 2.1 0 1 0 -4.3 0M8.0 104.8a1.9 1.9 0 1 0 3.7 0a1.9 1.9 0 1 0 -3.7 0M7.6 119.3a2.1 2.1 0 1 0 4.1 0a2.1 2.1 0 1 0 -4.1 0M8.1 127.0a1.9 1.9 0 1 0 3.9 0a1.9 1.9 0 1 0 -3.9 0M8.1 134.0a2.1 2.1 0 1 0 4.2 0a2.1 2.1 0 1 0 -4.2 0M8.4 140.8a2.1 2.1 0 1 0 4.2 0a2.1 2.1 0 1 0 -4.2 0M8.5 162.5a2.0 2.0 0 1 0 4.1 0a2.0 2.0 0 1 0 -4.1 0M8.4 169.6a1.9 1.9 0 1 0 3.7 0a1.9 1.9 0 1 0 -3.7 0M8.3 176.3a2.0 2.0 0 1 0 4.1 0a2.0 2.0 0 1 0 -4.1 0M11.3 2.3a2.1 2.1 0 1 0 4.2 0a2.1 2.1 0 1 0 -4.2 0M10.7 5.0a2.1 2.1 0 1 0 4.2 0a2.1 2.1 0 1 0 -4.2 0M10.9 9.1a2.1 2.1 0 1 0 4.2 0a2.1 2.1 0 1 0 -4.2 0M11.1 16.3a1.9 1.9 0 1 0 3.9 0a1.9 1.9 0 1 0 -3.9 0M11.3 23.1a1.9 1.9 0 1 0 3.8 0a1.9 1.9 0 1 0 -3.8 0M11.3 30.4a1.9 1.9 0 1 0 3.8 0a1.9 1.9 0 1 0 -3.8 0M11.0 37.6a2.1 2.1 0 1 0 4.1 0a2.1 2.1 0 1 0 -4.1 0M10.5 44.7a2.0 2.0 0 1 0 4.0 0a2.0 2.0 0 1 0 -4.0 0M10.6 51.6a2.0 2.0 0 1 0 4.0 0a2.0 2.0 0 1 0 -4.0 0M11.3 58.8a2.0 2.0 0 1 0 3.9 0a2.0 2.0 0 1 0 -3.9 0M11.2 65.6a2.1 2.1 0 1 0 4.3 0a2.1 2.1 0 1 0 -4.3 0M11.3 72.7a2.0 2.0 0 1 0 3.9 0a2.0 2.0 0 1 0 -3.9 0M10.5 80.0a2.0 2.0 0 1 0 3.9 0a2.0 2.0 0 1 0 -3.9 0M11.0 87.2a2.0 2.0 0 1 0 3.9 0a2.0 2.0 0 1 0 -3.9 0M10.6 94.1a2.0 2.0 0 1 0 4.0 0a2.0 2.0 0 1 0 -4.0 0M11.2 101.5a1.9 1.9 0 1 0 3.9 0a1.9 1.9 0 1 0 -3.9 0M11.5 108.4a2.0 2.0 0 1 0 3.9 0a2.0 2.0 0 1 0 -3.9 0M11.4 115.8a2.1 2.1 0 1 0 4.2 0a2.1 2.1 0 1 0 -4.2 0M10.6 123.1a2.0 2.0 0 1 0 4.0 0a2.0 2.0 0 1 0 -4.0 0M11.0 130.7a1.9 1.9 0 1 0 3.9 0a1.9 1.9 0 1 0 -3.9 0M10.8 140.8a2.0 2.0 0 1 0 4.0 0a2.0 2.0 0 1 0 -4.0 0M10.8 144.3a1.9 1.9 0 1 0 3.8 0a1.9 1.9 0 1 0 -3.8 0M11.5 148.4a1.9 1.9 0 1 0 3.7 0a1.9 1.9 0 1 0 -3.7 0M11.3 151.6a1.9 1.9 0 1 0 3.9 0a1.9 1.9 0 1 0 -3.9 0M11.3 159.2a1.9 1.9 0 1 0 3.9 0a1.9 1.9 0 1 0 -3.9 0M10.5 172.6a2.1 2.1 0 1 0 4.2 0a2.1 2.1 0 1 0 -4.2 0M11.4 176.3a1.8 1.8 0 1 0 3.6 0a1.8 1.8 0 1 0 -3.6 0M10.9 179.9a1.9 1.9 0 1 0 3.8 0a1.9 1.9 0 1 0 -3.8 0M13.4 5.1a2.0 2.0 0 1 0 4.0 0a2.0 2.0 0 1 0 -4.0 0M13.9 9.2a2.1 2.1 0 1 0 4.1 0a2.1 2.1 0 1 0 -4.1 0M14.2 12.3a2.1 2.1 0 1 0 4.3 0a2.1 2.1 0 1 0 -4.3 0M13.9 20.0a1.9 1.9 0 1 0 3.8 0a1.9 1.9 0 1 0 -3.8 0M14.1 27.1a2.1 2.1 0 1 0 4.2 0a2.1 2.1 0 1 0 -4.2 0M14.1 34.4a2.0 2.0 0 1 0 3.9 0a2.0 2.0 0 1 0 -3.9 0M14.1 40.7a1.8 1.8 0 1 0 3.6 0a1.8 1.8 0 1 0 -3.6 0M14.0 54.9a1.9 1.9 0 1 0 3.8 0a1.9 1.9 0 1 0 -3.8 0M13.7 62.8a2.0 2.0 0 1 0 3.9 0a2.0 2.0 0 1 0 -3.9 0M13.5 69.8a2.0 2.0 0 1 0 4.0 0a2.0 2.0 0 1 0 -4.0 0M14.4 76.4a1.8 1.8 0 1 0 3.6 0a1.8 1.8 0 1 0 -3.6 0M13.3 84.1a2.1 2.1 0 1 0 4.3 0a2.1 2.1 0 1 0 -4.3 0M13.7 90.5a1.8 1.8 0 1 0 3.6 0a1.8 1.8 0 1 0 -3.6 0M13.5 94.9a2.1 2.1 0 1 0 4.1 0a2.1 2.1 0 1 0 -4.1 0M13.4 97.8a2.1 2.1 0 1 0 4.2 0a2.1 2.1 0 1 0 -4.2 0M13.8 104.9a1.9 1.9 0 1 0 3.8 0a1.9 1.9 0 1 0 -3.8 0M13.8 112.8a1.9 1.9 0 1 0 3.7 0a1.9 1.9 0 1 0 -3.7 0M13.9 120.0a1.9 1.9 0 1 0 3.7 0a1.9 1.9 0 1 0 -3.7 0M13.5 127.1a1.9 1.9 0 1 0 3.9 0a1.9 1.9 0 1 0 -3.9 0M13.5 134.0a1.9 1.9 0 1 0 3.9 0a1.9 1.9 0 1 0 -3.9 0M13.5 140.8a2.1 2.1 0 1 0 4.2 0a2.1 2.1 0 1 0 -4.2 0M14.2 147.8a1.9 1.9 0 1 0 3.7 0a1.9 1.9 0 1 0 -3.7 0M13.9 154.9a2.1 2.1 0 1 0 4.3 0a2.1 2.1 0 1 0 -4.3 0M14.1 162.4a2.0 2.0 0 1 0 4.1 0a2.0 2.0 0 1 0 -4.1 0M13.8 169.4a1.9 1.9 0 1 0 3.9 0a1.9 1.9 0 1 0 -3.9 0M14.0 177.1a1.9 1.9 0 1 0 3.7 0a1.9 1.9 0 1 0 -3.7 0M16.7 1.5a2.1 2.1 0 1 0 4.1 0a2.1 2.1 0 1 0 -4.1 0M17.2 8.7a2.0 2.0 0 1 0 3.9 0a2.0 2.0 0 1 0 -3.9 0M16.8 23.6a2.1 2.1 0 1 0 4.1 0a2.1 2.1 0 1 0 -4.1 0M16.9 30.2a2.1 2.1 0 1 0 4.1 0a2.1 2.1 0 1 0 -4.1 0M16.8 33.7a1.8 1.8 0 1 0 3.6 0a1.8 1.8 0 1 0 -3.6 0M17.0 37.3a2.1 2.1 0 1 0 4.1 0a2.1 2.1 0 1 0 -4.1 0M16.4 41.0a2.1 2.1 0 1 0 4.3 0a2.1 2.1 0 1 0 -4.3 0M17.0 45.0a2.1 2.1 0 1 0 4.2 0a2.1 2.1 0 1 0 -4.2 0M16.9 51.3a2.1 2.1 0 1 0 4.2 0a2.1 2.1 0 1 0 -4.2 0M17.1 59.2a2.1 2.1 0 1 0 4.2 0a2.1 2.1 0 1 0 -4.2 0M16.8 65.8a2.0 2.0 0 1 0 4.0 0a2.0 2.0 0 1 0 -4.0 0M17.3 73.0a1.9 1.9 0 1 0 3.8 0a1.9 1.9 0 1 0 -3.8 0M16.8 80.7a2.0 2.0 0 1 0 4.1 0a2.0 2.0 0 1 0 -4.1 0M16.9 87.0a2.1 2.1 0 1 0 4.2 0a2.1 2.1 0 1 0 -4.2 0M16.5 91.3a2.1 2.1 0 1 0 4.2 0a2.1 2.1 0 1 0 -4.2 0M17.0 94.2a2.1 2.1 0 1 0 4.2 0a2.1 2.1 0 1 0 -4.2 0M16.4 102.1a1.8 1.8 0 1 0 3.7 0a1.8 1.8 0 1 0 -3.7 0M17.2 108.7a1.9 1.9 0 1 0 3.7 0a1.9 1.9 0 1 0 -3.7 0M16.9 116.4a1.9 1.9 0 1 0 3.9 0a1.9 1.9 0 1 0 -3.9 0M16.6 123.5a2.1 2.1 0 1 0 4.3 0a2.1 2.1 0 1 0 -4.3 0M16.7 130.2a2.0 2.0 0 1 0 4.0 0a2.0 2.0 0 1 0 -4.0 0M16.6 137.4a2.0 2.0 0 1 0 4.1 0a2.0 2.0 0 1 0 -4.1 0M16.4 144.3a2.0 2.0 0 1 0 3.9 0a2.0 2.0 0 1 0 -3.9 0M16.9 151.2a2.0 2.0 0 1 0 4.0 0a2.0 2.0 0 1 0 -4.0 0M17.3 159.1a1.8 1.8 0 1 0 3.6 0a1.8 1.8 0 1 0 -3.6 0M16.4 166.4a2.1 2.1 0 1 0 4.2 0a2.1 2.1 0 1 0 -4.2 0M16.5 169.4a2.0 2.0 0 1 0 4.1 0a2.0 2.0 0 1 0 -4.1 0M16.6 173.4a2.0 2.0 0 1 0 3.9 0a2.0 2.0 0 1 0 -3.9 0M17.1 180.6a1.8 1.8 0 1 0 3.6 0a1.8 1.8 0 1 0 -3.6 0M19.6 5.1a2.0 2.0 0 1 0 4.1 0a2.0 2.0 0 1 0 -4.1 0M20.1 12.6a1.8 1.8 0 1 0 3.6 0a1.8 1.8 0 1 0 -3.6 0M19.7 15.6a1.8 1.8 0 1 0 3.6 0a1.8 1.8 0 1 0 -3.6 0M19.7 19.9a2.1 2.1 0 1 0 4.2 0a2.1 2.1 0 1 0 -4.2 0M19.2 27.3a2.1 2.1 0 1 0 4.3 0a2.1 2.1 0 1 0 -4.3 0M20.0 34.2a1.9 1.9 0 1 0 3.9 0a1.9 1.9 0 1 0 -3.9 0M20.2 41.2a1.9 1.9 0 1 0 3.8 0a1.9 1.9 0 1 0 -3.8 0M19.2 48.4a2.1 2.1 0 1 0 4.3 0a2.1 2.1 0 1 0 -4.3 0M19.9 55.1a2.0 2.0 0 1 0 3.9 0a2.0 2.0 0 1 0 -3.9 0M19.6 62.0a2.0 2.0 0 1 0 4.1 0a2.0 2.0 0 1 0 -4.1 0M19.5 69.6a2.1 2.1 0 1 0 4.3 0a2.1 2.1 0 1 0 -4.3 0M20.3 76.7a1.9 1.9 0 1 0 3.7 0a1.9 1.9 0 1 0 -3.7 0M19.5 79.8a1.9 1.9 0 1 0 3.9 0a1.9 1.9 0 1 0 -3.9 0M19.8 83.8a2.1 2.1 0 1 0 4.3 0a2.1 2.1 0 1 0 -4.3 0M20.0 90.6a1.9 1.9 0 1 0 3.9 0a1.9 1.9 0 1 0 -3.9 0M19.5 98.1a2.1 2.1 0 1 0 4.1 0a2.1 2.1 0 1 0 -4.1 0M19.5 105.3a2.1 2.1 0 1 0 4.1 0a2.1 2.1 0 1 0 -4.1 0M20.0 112.0a1.9 1.9 0 1 0 3.8 0a1.9 1.9 0 1 0 -3.8 0M19.3 119.9a1.9 1.9 0 1 0 3.8 0a1.9 1.9 0 1 0 -3.8 0M19.1 126.7a2.1 2.1 0 1 0 4.1 0a2.1 2.1 0 1 0 -4.1 0M19.5 133.7a1.8 1.8 0 1 0 3.6 0a1.8 1.8 0 1 0 -3.6 0M20.0 140.8a1.9 1.9 0 1 0 3.8 0a1.9 1.9 0 1 0 -3.8 0M19.4 148.0a2.1 2.1 0 1 0 4.2 0a2.1 2.1 0 1 0 -4.2 0M19.2 155.5a2.0 2.0 0 1 0 4.0 0a2.0 2.0 0 1 0 -4.0 0M19.3 162.2a2.1 2.1 0 1 0 4.3 0a2.1 2.1 0 1 0 -4.3 0M20.2 169.8a1.9 1.9 0 1 0 3.9 0a1.9 1.9 0 1 0 -3.9 0M19.3 177.1a2.0 2.0 0 1 0 4.1 0a2.0 2.0 0 1 0 -4.1 0M22.0 2.3a2.0 2.0 0 1 0 4.1 0a2.0 2.0 0 1 0 -4.1 0M22.8 8.6a2.0 2.0 0 1 0 4.1 0a2.0 2.0 0 1 0 -4.1 0M22.1 16.2a2.1 2.1 0 1 0 4.2 0a2.1 2.1 0 1 0 -4.2 0M22.6 23.2a2.0 2.0 0 1 0 4.0 0a2.0 2.0 0 1 0 -4.0 0M23.2 30.4a1.9 1.9 0 1 0 3.7 0a1.9 1.9 0 1 0 -3.7 0M23.0 37.6a2.0 2.0 0 1 0 3.9 0a2.0 2.0 0 1 0 -3.9 0M23.0 41.2a2.1 2.1 0 1 0 4.2 0a2.1 2.1 0 1 0 -4.2 0M22.4 45.1a2.0 2.0 0 1 0 4.1 0a2.0 2.0 0 1 0 -4.1 0M22.2 52.0a2.1 2.1 0 1 0 4.2 0a2.1 2.1 0 1 0 -4.2 0M22.6 58.6a1.8 1.8 0 1 0 3.7 0a1.8 1.8 0 1 0 -3.7 0M22.6 72.8a1.9 1.9 0 1 0 3.8 0a1.9 1.9 0 1 0 -3.8 0M23.1 80.5a1.9 1.9 0 1 0 3.8 0a1.9 1.9 0 1 0 -3.8 0M23.0 87.8a2.0 2.0 0 1 0 4.0 0a2.0 2.0 0 1 0 -4.0 0M22.6 94.1a2.1 2.1 0 1 0 4.2 0a2.1 2.1 0 1 0 -4.2 0M22.4 101.5a2.0 2.0 0 1 0 4.0 0a2.0 2.0 0 1 0 -4.0 0M22.9 105.8a2.1 2.1 0 1 0 4.2 0a2.1 2.1 0 1 0 -4.2 0M22.8 108.8a2.1 2.1 0 1 0 4.2 0a2.1 2.1 0 1 0 -4.2 0M22.2 112.1a1.9 1.9 0 1 0 3.9 0a1.9 1.9 0 1 0 -3.9 0M22.6 116.3a1.8 1.8 0 1 0 3.7 0a1.8 1.8 0 1 0 -3.7 0M22.2 122.7a1.9 1.9 0 1 0 3.8 0a1.9 1.9 0 1 0 -3.8 0M22.8 129.9a1.8 1.8 0 1 0 3.7 0a1.8 1.8 0 1 0 -3.7 0M23.0 137.7a2.0 2.0 0 1 0 4.1 0a2.0 2.0 0 1 0 -4.1 0M22.3 144.8a2.0 2.0 0 1 0 4.0 0a2.0 2.0 0 1 0 -4.0 0M22.9 148.3a1.9 1.9 0 1 0 3.7 0a1.9 1.9 0 1 0 -3.7 0M22.7 158.4a2.1 2.1 0 1 0 4.2 0a2.1 2.1 0 1 0 -4.2 0M23.0 166.2a2.0 2.0 0 1 0 4.0 0a2.0 2.0 0 1 0 -4.0 0M22.5 173.0a1.9 1.9 0 1 0 3.8 0a1.9 1.9 0 1 0 -3.8 0M22.6 180.5a2.0 2.0 0 1 0 4.0 0a2.0 2.0 0 1 0 -4.0 0M25.0 1.9a2.1 2.1 0 1 0 4.2 0a2.1 2.1 0 1 0 -4.2 0M24.9 5.4a2.1 2.1 0 1 0 4.3 0a2.1 2.1 0 1 0 -4.3 0M25.4 12.2a2.0 2.0 0 1 0 3.9 0a2.0 2.0 0 1 0 -3.9 0M25.0 19.6a2.0 2.0 0 1 0 4.1 0a2.0 2.0 0 1 0 -4.1 0M25.9 26.7a1.9 1.9 0 1 0 3.8 0a1.9 1.9 0 1 0 -3.8 0M26.0 34.2a1.8 1.8 0 1 0 3.7 0a1.8 1.8 0 1 0 -3.7 0M25.5 37.4a2.0 2.0 0 1 0 3.9 0a2.0 2.0 0 1 0 -3.9 0M25.3 41.2a1.8 1.8 0 1 0 3.7 0a1.8 1.8 0 1 0 -3.7 0M25.8 48.6a2.0 2.0 0 1 0 3.9 0a2.0 2.0 0 1 0 -3.9 0M25.6 55.3a1.9 1.9 0 1 0 3.8 0a1.9 1.9 0 1 0 -3.8 0M25.5 62.2a1.9 1.9 0 1 0 3.7 0a1.9 1.9 0 1 0 -3.7 0M25.3 70.0a1.8 1.8 0 1 0 3.7 0a1.8 1.8 0 1 0 -3.7 0M25.0 76.5a2.1 2.1 0 1 0 4.1 0a2.1 2.1 0 1 0 -4.1 0M25.7 84.3a1.9 1.9 0 1 0 3.8 0a1.9 1.9 0 1 0 -3.8 0M25.5 90.8a2.1 2.1 0 1 0 4.3 0a2.1 2.1 0 1 0 -4.3 0M24.9 98.5a2.0 2.0 0 1 0 4.1 0a2.0 2.0 0 1 0 -4.1 0M25.6 105.4a1.8 1.8 0 1 0 3.6 0a1.8 1.8 0 1 0 -3.6 0M25.2 112.6a1.9 1.9 0 1 0 3.8 0a1.9 1.9 0 1 0 -3.8 0M25.0 119.5a2.0 2.0 0 1 0 4.0 0a2.0 2.0 0 1 0 -4.0 0M25.1 122.9a2.1 2.1 0 1 0 4.3 0a2.1 2.1 0 1 0 -4.3 0M25.6 126.7a2.0 2.0 0 1 0 3.9 0a2.0 2.0 0 1 0 -3.9 0M25.5 140.5a1.8 1.8 0 1 0 3.6 0a1.8 1.8 0 1 0 -3.6 0M25.5 147.9a1.9 1.9 0 1 0 3.8 0a1.9 1.9 0 1 0 -3.8 0M25.9 154.8a1.9 1.9 0 1 0 3.8 0a1.9 1.9 0 1 0 -3.8 0M25.5 162.7a2.1 2.1 0 1 0 4.3 0a2.1 2.1 0 1 0 -4.3 0M25.4 169.2a2.1 2.1 0 1 0 4.2 0a2.1 2.1 0 1 0 -4.2 0M25.1 176.5a2.1 2.1 0 1 0 4.3 0a2.1 2.1 0 1 0 -4.3 0M28.2 2.0a2.0 2.0 0 1 0 3.9 0a2.0 2.0 0 1 0 -3.9 0M28.0 8.8a2.0 2.0 0 1 0 3.9 0a2.0 2.0 0 1 0 -3.9 0M28.3 12.5a2.0 2.0 0 1 0 3.9 0a2.0 2.0 0 1 0 -3.9 0M28.3 16.0a1.8 1.8 0 1 0 3.7 0a1.8 1.8 0 1 0 -3.7 0M28.6 23.0a2.0 2.0 0 1 0 4.0 0a2.0 2.0 0 1 0 -4.0 0M28.1 37.7a2.0 2.0 0 1 0 4.1 0a2.0 2.0 0 1 0 -4.1 0M28.7 40.9a1.8 1.8 0 1 0 3.7 0a1.8 1.8 0 1 0 -3.7 0M28.2 45.1a1.8 1.8 0 1 0 3.6 0a1.8 1.8 0 1 0 -3.6 0M28.5 51.8a1.9 1.9 0 1 0 3.8 0a1.9 1.9 0 1 0 -3.8 0M28.3 58.5a2.1 2.1 0 1 0 4.2 0a2.1 2.1 0 1 0 -4.2 0M27.9 65.5a2.0 2.0 0 1 0 4.0 0a2.0 2.0 0 1 0 -4.0 0M28.4 73.6a2.0 2.0 0 1 0 4.0 0a2.0 2.0 0 1 0 -4.0 0M28.8 77.0a2.0 2.0 0 1 0 3.9 0a2.0 2.0 0 1 0 -3.9 0M28.2 80.2a1.8 1.8 0 1 0 3.7 0a1.8 1.8 0 1 0 -3.7 0M28.0 94.4a2.0 2.0 0 1 0 3.9 0a2.0 2.0 0 1 0 -3.9 0M27.9 102.0a1.9 1.9 0 1 0 3.9 0a1.9 1.9 0 1 0 -3.9 0M28.2 108.5a1.9 1.9 0 1 0 3.9 0a1.9 1.9 0 1 0 -3.9 0M28.4 112.4a2.0 2.0 0 1 0 3.9 0a2.0 2.0 0 1 0 -3.9 0M28.3 116.0a2.0 2.0 0 1 0 3.9 0a2.0 2.0 0 1 0 -3.9 0M28.8 123.1a2.0 2.0 0 1 0 4.1 0a2.0 2.0 0 1 0 -4.1 0M28.6 130.2a2.0 2.0 0 1 0 4.0 0a2.0 2.0 0 1 0 -4.0 0M28.7 137.6a1.8 1.8 0 1 0 3.6 0a1.8 1.8 0 1 0 -3.6 0M28.9 144.6a1.8 1.8 0 1 0 3.7 0a1.8 1.8 0 1 0 -3.7 0M28.5 151.9a1.9 1.9 0 1 0 3.8 0a1.9 1.9 0 1 0 -3.8 0M28.3 154.8a2.1 2.1 0 1 0 4.2 0a2.1 2.1 0 1 0 -4.2 0M28.3 158.6a2.0 2.0 0 1 0 3.9 0a2.0 2.0 0 1 0 -3.9 0M28.3 162.0a1.9 1.9 0 1 0 3.7 0a1.9 1.9 0 1 0 -3.7 0M28.3 165.7a2.0 2.0 0 1 0 4.0 0a2.0 2.0 0 1 0 -4.0 0M28.3 173.3a2.1 2.1 0 1 0 4.2 0a2.1 2.1 0 1 0 -4.2 0M27.9 180.6a2.1 2.1 0 1 0 4.1 0a2.1 2.1 0 1 0 -4.1 0M31.1 1.9a2.1 2.1 0 1 0 4.2 0a2.1 2.1 0 1 0 -4.2 0M31.0 5.4a1.9 1.9 0 1 0 3.7 0a1.9 1.9 0 1 0 -3.7 0M30.6 20.0a2.1 2.1 0 1 0 4.2 0a2.1 2.1 0 1 0 -4.2 0M30.8 26.5a2.1 2.1 0 1 0 4.1 0a2.1 2.1 0 1 0 -4.1 0M31.6 33.7a2.0 2.0 0 1 0 3.9 0a2.0 2.0 0 1 0 -3.9 0M31.4 41.0a1.9 1.9 0 1 0 3.8 0a1.9 1.9 0 1 0 -3.8 0M31.8 48.6a1.9 1.9 0 1 0 3.8 0a1.9 1.9 0 1 0 -3.8 0M31.8 55.0a1.9 1.9 0 1 0 3.8 0a1.9 1.9 0 1 0 -3.8 0M31.3 62.2a1.9 1.9 0 1 0 3.8 0a1.9 1.9 0 1 0 -3.8 0M30.7 70.0a2.1 2.1 0 1 0 4.1 0a2.1 2.1 0 1 0 -4.1 0M31.6 73.1a2.1 2.1 0 1 0 4.2 0a2.1 2.1 0 1 0 -4.2 0M31.6 77.1a1.9 1.9 0 1 0 3.7 0a1.9 1.9 0 1 0 -3.7 0M31.3 84.0a1.8 1.8 0 1 0 3.7 0a1.8 1.8 0 1 0 -3.7 0M31.2 90.8a1.8 1.8 0 1 0 3.7 0a1.8 1.8 0 1 0 -3.7 0M31.1 98.2a2.0 2.0 0 1 0 4.0 0a2.0 2.0 0 1 0 -4.0 0M31.3 105.6a1.9 1.9 0 1 0 3.8 0a1.9 1.9 0 1 0 -3.8 0M31.5 112.8a2.0 2.0 0 1 0 4.0 0a2.0 2.0 0 1 0 -4.0 0M30.8 120.0a2.1 2.1 0 1 0 4.2 0a2.1 2.1 0 1 0 -4.2 0M31.7 126.4a1.9 1.9 0 1 0 3.8 0a1.9 1.9 0 1 0 -3.8 0M30.9 133.6a1.9 1.9 0 1 0 3.8 0a1.9 1.9 0 1 0 -3.8 0M30.8 141.0a2.1 2.1 0 1 0 4.1 0a2.1 2.1 0 1 0 -4.1 0M31.1 148.1a1.9 1.9 0 1 0 3.8 0a1.9 1.9 0 1 0 -3.8 0M31.1 154.8a2.1 2.1 0 1 0 4.2 0a2.1 2.1 0 1 0 -4.2 0M31.7 162.7a1.9 1.9 0 1 0 3.9 0a1.9 1.9 0 1 0 -3.9 0M31.1 169.7a2.0 2.0 0 1 0 4.0 0a2.0 2.0 0 1 0 -4.0 0M31.6 176.5a1.9 1.9 0 1 0 3.8 0a1.9 1.9 0 1 0 -3.8 0M33.9 5.2a1.8 1.8 0 1 0 3.6 0a1.8 1.8 0 1 0 -3.6 0M33.6 9.3a2.1 2.1 0 1 0 4.3 0a2.1 2.1 0 1 0 -4.3 0M33.6 16.0a2.1 2.1 0 1 0 4.2 0a2.1 2.1 0 1 0 -4.2 0M33.7 23.7a2.0 2.0 0 1 0 4.0 0a2.0 2.0 0 1 0 -4.0 0M34.2 26.7a2.1 2.1 0 1 0 4.2 0a2.1 2.1 0 1 0 -4.2 0M34.1 37.9a1.9 1.9 0 1 0 3.7 0a1.9 1.9 0 1 0 -3.7 0M34.6 44.3a1.9 1.9 0 1 0 3.8 0a1.9 1.9 0 1 0 -3.8 0M33.9 51.7a2.1 2.1 0 1 0 4.1 0a2.1 2.1 0 1 0 -4.1 0M34.0 58.6a1.9 1.9 0 1 0 3.8 0a1.9 1.9 0 1 0 -3.8 0M34.2 72.8a2.0 2.0 0 1 0 3.9 0a2.0 2.0 0 1 0 -3.9 0M33.9 80.6a2.1 2.1 0 1 0 4.2 0a2.1 2.1 0 1 0 -4.2 0M33.5 87.0a2.1 2.1 0 1 0 4.3 0a2.1 2.1 0 1 0 -4.3 0M33.7 94.8a2.1 2.1 0 1 0 4.2 0a2.1 2.1 0 1 0 -4.2 0M34.7 102.0a1.8 1.8 0 1 0 3.6 0a1.8 1.8 0 1 0 -3.6 0M34.3 108.8a2.1 2.1 0 1 0 4.2 0a2.1 2.1 0 1 0 -4.2 0M33.8 116.5a1.8 1.8 0 1 0 3.7 0a1.8 1.8 0 1 0 -3.7 0M34.4 123.0a1.9 1.9 0 1 0 3.8 0a1.9 1.9 0 1 0 -3.8 0M34.4 141.4a2.0 2.0 0 1 0 4.0 0a2.0 2.0 0 1 0 -4.0 0M34.1 144.1a2.1 2.1 0 1 0 4.1 0a2.1 2.1 0 1 0 -4.1 0M33.8 151.4a1.9 1.9 0 1 0 3.9 0a1.9 1.9 0 1 0 -3.9 0M34.6 159.0a1.9 1.9 0 1 0 3.8 0a1.9 1.9 0 1 0 -3.8 0M33.8 162.1a2.1 2.1 0 1 0 4.2 0a2.1 2.1 0 1 0 -4.2 0M34.2 165.6a1.9 1.9 0 1 0 3.7 0a1.9 1.9 0 1 0 -3.7 0M33.7 179.9a2.1 2.1 0 1 0 4.3 0a2.1 2.1 0 1 0 -4.3 0M36.6 4.9a1.9 1.9 0 1 0 3.7 0a1.9 1.9 0 1 0 -3.7 0M36.8 12.7a1.9 1.9 0 1 0 3.9 0a1.9 1.9 0 1 0 -3.9 0M37.1 19.4a2.0 2.0 0 1 0 3.9 0a2.0 2.0 0 1 0 -3.9 0M37.4 27.1a2.0 2.0 0 1 0 4.0 0a2.0 2.0 0 1 0 -4.0 0M36.8 33.9a1.9 1.9 0 1 0 3.8 0a1.9 1.9 0 1 0 -3.8 0M36.8 40.8a2.1 2.1 0 1 0 4.2 0a2.1 2.1 0 1 0 -4.2 0M36.8 48.6a2.0 2.0 0 1 0 3.9 0a2.0 2.0 0 1 0 -3.9 0M37.3 55.7a2.0 2.0 0 1 0 4.0 0a2.0 2.0 0 1 0 -4.0 0M36.9 62.3a2.1 2.1 0 1 0 4.1 0a2.1 2.1 0 1 0 -4.1 0M36.4 69.1a2.1 2.1 0 1 0 4.3 0a2.1 2.1 0 1 0 -4.3 0M37.1 76.3a1.9 1.9 0 1 0 3.8 0a1.9 1.9 0 1 0 -3.8 0M36.8 84.3a1.8 1.8 0 1 0 3.6 0a1.8 1.8 0 1 0 -3.6 0M37.1 90.6a1.9 1.9 0 1 0 3.8 0a1.9 1.9 0 1 0 -3.8 0M36.8 98.0a2.1 2.1 0 1 0 4.2 0a2.1 2.1 0 1 0 -4.2 0M36.7 105.5a1.9 1.9 0 1 0 3.9 0a1.9 1.9 0 1 0 -3.9 0M37.5 112.6a2.0 2.0 0 1 0 4.0 0a2.0 2.0 0 1 0 -4.0 0M37.2 119.6a2.1 2.1 0 1 0 4.1 0a2.1 2.1 0 1 0 -4.1 0M36.9 134.3a1.9 1.9 0 1 0 3.8 0a1.9 1.9 0 1 0 -3.8 0M37.6 141.1a1.8 1.8 0 1 0 3.7 0a1.8 1.8 0 1 0 -3.7 0M36.7 147.8a1.9 1.9 0 1 0 3.8 0a1.9 1.9 0 1 0 -3.8 0M36.7 151.6a1.9 1.9 0 1 0 3.8 0a1.9 1.9 0 1 0 -3.8 0M36.8 154.9a2.0 2.0 0 1 0 4.0 0a2.0 2.0 0 1 0 -4.0 0M36.9 165.8a1.8 1.8 0 1 0 3.6 0a1.8 1.8 0 1 0 -3.6 0M36.8 169.2a1.9 1.9 0 1 0 3.8 0a1.9 1.9 0 1 0 -3.8 0M40.4 1.7a2.0 2.0 0 1 0 4.0 0a2.0 2.0 0 1 0 -4.0 0M39.4 8.8a2.1 2.1 0 1 0 4.2 0a2.1 2.1 0 1 0 -4.2 0M39.7 16.1a2.0 2.0 0 1 0 4.0 0a2.0 2.0 0 1 0 -4.0 0M39.6 23.3a1.9 1.9 0 1 0 3.8 0a1.9 1.9 0 1 0 -3.8 0M39.7 29.9a1.9 1.9 0 1 0 3.7 0a1.9 1.9 0 1 0 -3.7 0M40.1 38.0a2.0 2.0 0 1 0 4.0 0a2.0 2.0 0 1 0 -4.0 0M40.0 44.7a1.9 1.9 0 1 0 3.9 0a1.9 1.9 0 1 0 -3.9 0M40.2 52.1a1.9 1.9 0 1 0 3.9 0a1.9 1.9 0 1 0 -3.9 0M39.8 59.0a1.8 1.8 0 1 0 3.6 0a1.8 1.8 0 1 0 -3.6 0M39.9 66.1a1.9 1.9 0 1 0 3.9 0a1.9 1.9 0 1 0 -3.9 0M39.5 73.4a2.0 2.0 0 1 0 3.9 0a2.0 2.0 0 1 0 -3.9 0M40.1 80.0a1.9 1.9 0 1 0 3.9 0a1.9 1.9 0 1 0 -3.9 0M39.5 87.3a2.0 2.0 0 1 0 3.9 0a2.0 2.0 0 1 0 -3.9 0M39.7 94.6a2.0 2.0 0 1 0 4.1 0a2.0 2.0 0 1 0 -4.1 0M39.6 101.5a2.0 2.0 0 1 0 3.9 0a2.0 2.0 0 1 0 -3.9 0M39.7 108.5a1.8 1.8 0 1 0 3.7 0a1.8 1.8 0 1 0 -3.7 0M40.4 116.1a1.8 1.8 0 1 0 3.7 0a1.8 1.8 0 1 0 -3.7 0M40.0 122.8a1.9 1.9 0 1 0 3.8 0a1.9 1.9 0 1 0 -3.8 0M40.5 130.5a1.8 1.8 0 1 0 3.7 0a1.8 1.8 0 1 0 -3.7 0M40.2 137.3a2.0 2.0 0 1 0 4.1 0a2.0 2.0 0 1 0 -4.1 0M39.5 151.8a2.1 2.1 0 1 0 4.3 0a2.1 2.1 0 1 0 -4.3 0M39.6 158.7a2.1 2.1 0 1 0 4.2 0a2.1 2.1 0 1 0 -4.2 0M39.4 173.5a2.1 2.1 0 1 0 4.3 0a2.1 2.1 0 1 0 -4.3 0M42.8 5.4a1.9 1.9 0 1 0 3.8 0a1.9 1.9 0 1 0 -3.8 0M43.3 12.9a2.0 2.0 0 1 0 3.9 0a2.0 2.0 0 1 0 -3.9 0M43.0 19.6a1.8 1.8 0 1 0 3.7 0a1.8 1.8 0 1 0 -3.7 0M42.8 26.4a2.1 2.1 0 1 0 4.2 0a2.1 2.1 0 1 0 -4.2 0M42.5 33.4a1.9 1.9 0 1 0 3.9 0a1.9 1.9 0 1 0 -3.9 0M42.3 40.7a2.0 2.0 0 1 0 4.0 0a2.0 2.0 0 1 0 -4.0 0M42.7 47.8a2.1 2.1 0 1 0 4.3 0a2.1 2.1 0 1 0 -4.3 0M42.8 55.8a1.8 1.8 0 1 0 3.6 0a1.8 1.8 0 1 0 -3.6 0M42.7 62.8a2.0 2.0 0 1 0 4.0 0a2.0 2.0 0 1 0 -4.0 0M43.4 69.9a1.8 1.8 0 1 0 3.7 0a1.8 1.8 0 1 0 -3.7 0M42.6 76.8a1.9 1.9 0 1 0 3.8 0a1.9 1.9 0 1 0 -3.8 0M43.0 91.3a1.9 1.9 0 1 0 3.8 0a1.9 1.9 0 1 0 -3.8 0M42.5 98.6a2.1 2.1 0 1 0 4.2 0a2.1 2.1 0 1 0 -4.2 0M42.6 104.8a1.9 1.9 0 1 0 3.9 0a1.9 1.9 0 1 0 -3.9 0M43.1 112.7a1.9 1.9 0 1 0 3.8 0a1.9 1.9 0 1 0 -3.8 0M42.7 126.4a1.9 1.9 0 1 0 3.8 0a1.9 1.9 0 1 0 -3.8 0M43.0 134.0a2.0 2.0 0 1 0 3.9 0a2.0 2.0 0 1 0 -3.9 0M42.4 140.6a2.1 2.1 0 1 0 4.2 0a2.1 2.1 0 1 0 -4.2 0M42.5 148.5a1.9 1.9 0 1 0 3.7 0a1.9 1.9 0 1 0 -3.7 0M42.7 155.2a2.1 2.1 0 1 0 4.1 0a2.1 2.1 0 1 0 -4.1 0M43.2 162.1a2.0 2.0 0 1 0 4.0 0a2.0 2.0 0 1 0 -4.0 0M42.9 169.8a1.9 1.9 0 1 0 3.8 0a1.9 1.9 0 1 0 -3.8 0M42.5 176.4a2.0 2.0 0 1 0 4.0 0a2.0 2.0 0 1 0 -4.0 0M46.1 8.7a1.9 1.9 0 1 0 3.9 0a1.9 1.9 0 1 0 -3.9 0M45.6 22.8a1.8 1.8 0 1 0 3.7 0a1.8 1.8 0 1 0 -3.7 0M45.5 27.1a2.0 2.0 0 1 0 4.0 0a2.0 2.0 0 1 0 -4.0 0M45.9 29.9a2.1 2.1 0 1 0 4.2 0a2.1 2.1 0 1 0 -4.2 0M45.9 37.6a1.8 1.8 0 1 0 3.7 0a1.8 1.8 0 1 0 -3.7 0M46.0 45.0a2.1 2.1 0 1 0 4.1 0a2.1 2.1 0 1 0 -4.1 0M45.5 51.6a2.0 2.0 0 1 0 4.0 0a2.0 2.0 0 1 0 -4.0 0M45.8 58.8a1.9 1.9 0 1 0 3.7 0a1.9 1.9 0 1 0 -3.7 0M45.8 62.5a2.0 2.0 0 1 0 4.0 0a2.0 2.0 0 1 0 -4.0 0M45.4 66.2a2.0 2.0 0 1 0 4.0 0a2.0 2.0 0 1 0 -4.0 0M46.1 72.9a1.9 1.9 0 1 0 3.8 0a1.9 1.9 0 1 0 -3.8 0M45.9 79.9a2.0 2.0 0 1 0 4.0 0a2.0 2.0 0 1 0 -4.0 0M45.1 87.1a2.1 2.1 0 1 0 4.3 0a2.1 2.1 0 1 0 -4.3 0M45.9 101.3a1.8 1.8 0 1 0 3.6 0a1.8 1.8 0 1 0 -3.6 0M45.1 108.7a2.1 2.1 0 1 0 4.2 0a2.1 2.1 0 1 0 -4.2 0M45.6 115.6a1.9 1.9 0 1 0 3.7 0a1.9 1.9 0 1 0 -3.7 0M45.8 123.2a2.1 2.1 0 1 0 4.2 0a2.1 2.1 0 1 0 -4.2 0M45.8 130.1a2.0 2.0 0 1 0 4.1 0a2.0 2.0 0 1 0 -4.1 0M45.6 144.9a2.1 2.1 0 1 0 4.2 0a2.1 2.1 0 1 0 -4.2 0M45.5 151.3a2.0 2.0 0 1 0 4.1 0a2.0 2.0 0 1 0 -4.1 0M45.7 166.1a1.9 1.9 0 1 0 3.8 0a1.9 1.9 0 1 0 -3.8 0M45.3 173.4a2.1 2.1 0 1 0 4.1 0a2.1 2.1 0 1 0 -4.1 0M45.9 180.4a2.1 2.1 0 1 0 4.2 0a2.1 2.1 0 1 0 -4.2 0M48.8 5.1a2.1 2.1 0 1 0 4.1 0a2.1 2.1 0 1 0 -4.1 0M48.2 12.0a2.0 2.0 0 1 0 4.0 0a2.0 2.0 0 1 0 -4.0 0M48.1 19.2a2.1 2.1 0 1 0 4.2 0a2.1 2.1 0 1 0 -4.2 0M48.5 27.1a2.1 2.1 0 1 0 4.2 0a2.1 2.1 0 1 0 -4.2 0M48.0 33.5a2.0 2.0 0 1 0 4.0 0a2.0 2.0 0 1 0 -4.0 0M49.1 41.3a1.9 1.9 0 1 0 3.8 0a1.9 1.9 0 1 0 -3.8 0M49.0 48.1a2.0 2.0 0 1 0 3.9 0a2.0 2.0 0 1 0 -3.9 0M48.3 52.0a1.8 1.8 0 1 0 3.6 0a1.8 1.8 0 1 0 -3.6 0M48.6 55.2a1.8 1.8 0 1 0 3.7 0a1.8 1.8 0 1 0 -3.7 0M48.5 58.8a2.1 2.1 0 1 0 4.1 0a2.1 2.1 0 1 0 -4.1 0M49.1 62.1a2.0 2.0 0 1 0 3.9 0a2.0 2.0 0 1 0 -3.9 0M49.0 69.4a1.9 1.9 0 1 0 3.9 0a1.9 1.9 0 1 0 -3.9 0M48.6 76.4a1.9 1.9 0 1 0 3.8 0a1.9 1.9 0 1 0 -3.8 0M48.6 90.6a1.8 1.8 0 1 0 3.6 0a1.8 1.8 0 1 0 -3.6 0M48.7 98.3a2.1 2.1 0 1 0 4.2 0a2.1 2.1 0 1 0 -4.2 0M49.0 101.4a1.9 1.9 0 1 0 3.7 0a1.9 1.9 0 1 0 -3.7 0M48.8 104.9a2.0 2.0 0 1 0 3.9 0a2.0 2.0 0 1 0 -3.9 0M48.1 112.4a2.1 2.1 0 1 0 4.3 0a2.1 2.1 0 1 0 -4.3 0M48.3 119.6a1.9 1.9 0 1 0 3.8 0a1.9 1.9 0 1 0 -3.8 0M48.7 126.4a2.1 2.1 0 1 0 4.3 0a2.1 2.1 0 1 0 -4.3 0M48.8 133.5a2.1 2.1 0 1 0 4.3 0a2.1 2.1 0 1 0 -4.3 0M49.0 137.0a2.0 2.0 0 1 0 4.0 0a2.0 2.0 0 1 0 -4.0 0M48.6 141.2a2.0 2.0 0 1 0 4.0 0a2.0 2.0 0 1 0 -4.0 0M48.5 148.4a1.9 1.9 0 1 0 3.9 0a1.9 1.9 0 1 0 -3.9 0M48.4 155.3a1.9 1.9 0 1 0 3.8 0a1.9 1.9 0 1 0 -3.8 0M48.3 169.7a1.9 1.9 0 1 0 3.9 0a1.9 1.9 0 1 0 -3.9 0M48.9 176.4a2.0 2.0 0 1 0 4.0 0a2.0 2.0 0 1 0 -4.0 0M52.0 1.9a1.8 1.8 0 1 0 3.7 0a1.8 1.8 0 1 0 -3.7 0M52.0 8.9a1.9 1.9 0 1 0 3.8 0a1.9 1.9 0 1 0 -3.8 0M51.0 15.7a2.0 2.0 0 1 0 4.1 0a2.0 2.0 0 1 0 -4.1 0M51.6 23.5a1.9 1.9 0 1 0 3.7 0a1.9 1.9 0 1 0 -3.7 0M51.7 30.5a2.1 2.1 0 1 0 4.3 0a2.1 2.1 0 1 0 -4.3 0M51.5 37.4a1.8 1.8 0 1 0 3.7 0a1.8 1.8 0 1 0 -3.7 0M51.2 44.4a2.0 2.0 0 1 0 4.0 0a2.0 2.0 0 1 0 -4.0 0M51.5 51.4a2.1 2.1 0 1 0 4.1 0a2.1 2.1 0 1 0 -4.1 0M51.9 59.2a1.9 1.9 0 1 0 3.7 0a1.9 1.9 0 1 0 -3.7 0M52.1 66.4a1.8 1.8 0 1 0 3.7 0a1.8 1.8 0 1 0 -3.7 0M51.4 80.2a1.8 1.8 0 1 0 3.7 0a1.8 1.8 0 1 0 -3.7 0M51.5 87.5a2.0 2.0 0 1 0 4.0 0a2.0 2.0 0 1 0 -4.0 0M52.0 94.6a1.9 1.9 0 1 0 3.8 0a1.9 1.9 0 1 0 -3.8 0M51.1 102.0a2.0 2.0 0 1 0 4.1 0a2.0 2.0 0 1 0 -4.1 0M51.7 109.3a2.0 2.0 0 1 0 4.0 0a2.0 2.0 0 1 0 -4.0 0M51.1 115.5a2.0 2.0 0 1 0 4.0 0a2.0 2.0 0 1 0 -4.0 0M51.4 123.1a1.9 1.9 0 1 0 3.9 0a1.9 1.9 0 1 0 -3.9 0M51.7 130.5a1.9 1.9 0 1 0 3.8 0a1.9 1.9 0 1 0 -3.8 0M50.9 137.7a2.1 2.1 0 1 0 4.1 0a2.1 2.1 0 1 0 -4.1 0M51.6 144.0a1.9 1.9 0 1 0 3.9 0a1.9 1.9 0 1 0 -3.9 0M51.3 151.2a2.0 2.0 0 1 0 4.0 0a2.0 2.0 0 1 0 -4.0 0M51.6 158.6a2.1 2.1 0 1 0 4.3 0a2.1 2.1 0 1 0 -4.3 0M51.8 166.4a2.1 2.1 0 1 0 4.1 0a2.1 2.1 0 1 0 -4.1 0M51.9 173.1a2.0 2.0 0 1 0 4.0 0a2.0 2.0 0 1 0 -4.0 0M51.2 176.5a1.9 1.9 0 1 0 3.8 0a1.9 1.9 0 1 0 -3.8 0M54.2 5.6a1.9 1.9 0 1 0 3.8 0a1.9 1.9 0 1 0 -3.8 0M53.9 12.9a2.1 2.1 0 1 0 4.2 0a2.1 2.1 0 1 0 -4.2 0M54.5 19.2a1.8 1.8 0 1 0 3.7 0a1.8 1.8 0 1 0 -3.7 0M54.9 26.8a1.9 1.9 0 1 0 3.8 0a1.9 1.9 0 1 0 -3.8 0M53.8 34.2a2.0 2.0 0 1 0 4.1 0a2.0 2.0 0 1 0 -4.1 0M54.9 37.3a1.8 1.8 0 1 0 3.6 0a1.8 1.8 0 1 0 -3.6 0M54.9 40.6a1.9 1.9 0 1 0 3.9 0a1.9 1.9 0 1 0 -3.9 0M53.8 48.6a2.0 2.0 0 1 0 4.1 0a2.0 2.0 0 1 0 -4.1 0M54.3 55.6a1.8 1.8 0 1 0 3.6 0a1.8 1.8 0 1 0 -3.6 0M54.2 62.9a2.1 2.1 0 1 0 4.2 0a2.1 2.1 0 1 0 -4.2 0M54.2 69.5a2.1 2.1 0 1 0 4.2 0a2.1 2.1 0 1 0 -4.2 0M54.0 76.9a2.0 2.0 0 1 0 4.0 0a2.0 2.0 0 1 0 -4.0 0M55.0 80.3a1.8 1.8 0 1 0 3.7 0a1.8 1.8 0 1 0 -3.7 0M54.8 84.3a1.9 1.9 0 1 0 3.8 0a1.9 1.9 0 1 0 -3.8 0M54.8 90.9a1.9 1.9 0 1 0 3.8 0a1.9 1.9 0 1 0 -3.8 0M54.5 98.1a1.8 1.8 0 1 0 3.7 0a1.8 1.8 0 1 0 -3.7 0M54.1 105.1a2.0 2.0 0 1 0 4.0 0a2.0 2.0 0 1 0 -4.0 0M54.2 112.4a2.1 2.1 0 1 0 4.1 0a2.1 2.1 0 1 0 -4.1 0M54.6 120.0a2.1 2.1 0 1 0 4.2 0a2.1 2.1 0 1 0 -4.2 0M53.9 126.2a2.0 2.0 0 1 0 4.0 0a2.0 2.0 0 1 0 -4.0 0M54.7 134.2a2.0 2.0 0 1 0 4.1 0a2.0 2.0 0 1 0 -4.1 0M54.3 141.0a1.9 1.9 0 1 0 3.8 0a1.9 1.9 0 1 0 -3.8 0M54.4 148.4a1.9 1.9 0 1 0 3.8 0a1.9 1.9 0 1 0 -3.8 0M54.2 155.5a1.9 1.9 0 1 0 3.8 0a1.9 1.9 0 1 0 -3.8 0M53.8 162.4a2.1 2.1 0 1 0 4.1 0a2.1 2.1 0 1 0 -4.1 0M54.3 165.8a2.1 2.1 0 1 0 4.2 0a2.1 2.1 0 1 0 -4.2 0M53.9 169.0a2.0 2.0 0 1 0 4.1 0a2.0 2.0 0 1 0 -4.1 0M54.1 176.7a2.0 2.0 0 1 0 3.9 0a2.0 2.0 0 1 0 -3.9 0M57.6 2.2a2.0 2.0 0 1 0 4.0 0a2.0 2.0 0 1 0 -4.0 0M57.3 8.6a2.1 2.1 0 1 0 4.3 0a2.1 2.1 0 1 0 -4.3 0M57.7 12.4a2.0 2.0 0 1 0 3.9 0a2.0 2.0 0 1 0 -3.9 0M57.6 15.6a1.9 1.9 0 1 0 3.8 0a1.9 1.9 0 1 0 -3.8 0M56.7 23.0a2.1 2.1 0 1 0 4.2 0a2.1 2.1 0 1 0 -4.2 0M56.9 37.7a1.8 1.8 0 1 0 3.7 0a1.8 1.8 0 1 0 -3.7 0M56.8 44.8a1.9 1.9 0 1 0 3.9 0a1.9 1.9 0 1 0 -3.9 0M56.9 51.9a2.0 2.0 0 1 0 4.0 0a2.0 2.0 0 1 0 -4.0 0M57.8 55.4a1.8 1.8 0 1 0 3.7 0a1.8 1.8 0 1 0 -3.7 0M57.0 58.5a1.8 1.8 0 1 0 3.6 0a1.8 1.8 0 1 0 -3.6 0M57.6 65.8a1.9 1.9 0 1 0 3.8 0a1.9 1.9 0 1 0 -3.8 0M56.7 73.2a2.0 2.0 0 1 0 4.1 0a2.0 2.0 0 1 0 -4.1 0M56.9 79.9a1.9 1.9 0 1 0 3.8 0a1.9 1.9 0 1 0 -3.8 0M57.5 87.6a1.9 1.9 0 1 0 3.7 0a1.9 1.9 0 1 0 -3.7 0M56.7 101.4a2.1 2.1 0 1 0 4.2 0a2.1 2.1 0 1 0 -4.2 0M57.5 109.1a2.1 2.1 0 1 0 4.2 0a2.1 2.1 0 1 0 -4.2 0M56.8 112.5a2.1 2.1 0 1 0 4.3 0a2.1 2.1 0 1 0 -4.3 0M57.4 116.4a2.1 2.1 0 1 0 4.2 0a2.1 2.1 0 1 0 -4.2 0M57.3 123.3a1.9 1.9 0 1 0 3.8 0a1.9 1.9 0 1 0 -3.8 0M57.3 127.0a2.1 2.1 0 1 0 4.3 0a2.1 2.1 0 1 0 -4.3 0M56.9 130.5a2.0 2.0 0 1 0 3.9 0a2.0 2.0 0 1 0 -3.9 0M56.8 137.7a2.1 2.1 0 1 0 4.3 0a2.1 2.1 0 1 0 -4.3 0M57.8 144.6a1.8 1.8 0 1 0 3.6 0a1.8 1.8 0 1 0 -3.6 0M57.8 148.0a1.9 1.9 0 1 0 3.7 0a1.9 1.9 0 1 0 -3.7 0M57.3 159.0a1.8 1.8 0 1 0 3.6 0a1.8 1.8 0 1 0 -3.6 0M57.0 165.5a1.8 1.8 0 1 0 3.7 0a1.8 1.8 0 1 0 -3.7 0M57.4 172.7a2.1 2.1 0 1 0 4.3 0a2.1 2.1 0 1 0 -4.3 0M57.1 180.7a1.9 1.9 0 1 0 3.8 0a1.9 1.9 0 1 0 -3.8 0M60.0 5.1a2.0 2.0 0 1 0 4.1 0a2.0 2.0 0 1 0 -4.1 0M59.9 12.4a1.8 1.8 0 1 0 3.7 0a1.8 1.8 0 1 0 -3.7 0M60.7 19.8a1.9 1.9 0 1 0 3.8 0a1.9 1.9 0 1 0 -3.8 0M60.2 26.9a2.1 2.1 0 1 0 4.1 0a2.1 2.1 0 1 0 -4.1 0M60.0 34.3a2.0 2.0 0 1 0 4.1 0a2.0 2.0 0 1 0 -4.1 0M60.2 41.4a2.1 2.1 0 1 0 4.1 0a2.1 2.1 0 1 0 -4.1 0M60.4 55.8a1.9 1.9 0 1 0 3.8 0a1.9 1.9 0 1 0 -3.8 0M59.6 62.1a2.1 2.1 0 1 0 4.2 0a2.1 2.1 0 1 0 -4.2 0M60.1 69.2a1.8 1.8 0 1 0 3.7 0a1.8 1.8 0 1 0 -3.7 0M59.6 76.4a2.1 2.1 0 1 0 4.2 0a2.1 2.1 0 1 0 -4.2 0M59.8 83.9a2.0 2.0 0 1 0 4.1 0a2.0 2.0 0 1 0 -4.1 0M60.8 87.6a1.8 1.8 0 1 0 3.6 0a1.8 1.8 0 1 0 -3.6 0M60.3 91.1a2.0 2.0 0 1 0 3.9 0a2.0 2.0 0 1 0 -3.9 0M59.9 98.0a1.9 1.9 0 1 0 3.9 0a1.9 1.9 0 1 0 -3.9 0M59.7 105.7a2.0 2.0 0 1 0 3.9 0a2.0 2.0 0 1 0 -3.9 0M60.4 112.0a2.0 2.0 0 1 0 3.9 0a2.0 2.0 0 1 0 -3.9 0M60.4 119.8a1.8 1.8 0 1 0 3.6 0a1.8 1.8 0 1 0 -3.6 0M59.7 126.3a2.0 2.0 0 1 0 4.1 0a2.0 2.0 0 1 0 -4.1 0M60.7 133.9a1.8 1.8 0 1 0 3.6 0a1.8 1.8 0 1 0 -3.6 0M59.8 141.2a1.9 1.9 0 1 0 3.8 0a1.9 1.9 0 1 0 -3.8 0M60.6 147.8a1.8 1.8 0 1 0 3.6 0a1.8 1.8 0 1 0 -3.6 0M60.4 162.5a2.0 2.0 0 1 0 3.9 0a2.0 2.0 0 1 0 -3.9 0M60.4 169.6a2.0 2.0 0 1 0 4.0 0a2.0 2.0 0 1 0 -4.0 0M60.0 173.0a1.9 1.9 0 1 0 3.9 0a1.9 1.9 0 1 0 -3.9 0M60.5 176.4a2.1 2.1 0 1 0 4.1 0a2.1 2.1 0 1 0 -4.1 0M63.6 1.9a1.9 1.9 0 1 0 3.7 0a1.9 1.9 0 1 0 -3.7 0M63.5 16.5a1.8 1.8 0 1 0 3.6 0a1.8 1.8 0 1 0 -3.6 0M63.3 22.7a2.0 2.0 0 1 0 3.9 0a2.0 2.0 0 1 0 -3.9 0M63.4 30.6a2.0 2.0 0 1 0 3.9 0a2.0 2.0 0 1 0 -3.9 0M62.9 37.8a1.9 1.9 0 1 0 3.9 0a1.9 1.9 0 1 0 -3.9 0M63.1 40.8a1.8 1.8 0 1 0 3.6 0a1.8 1.8 0 1 0 -3.6 0M62.6 44.9a2.0 2.0 0 1 0 4.0 0a2.0 2.0 0 1 0 -4.0 0M63.0 51.3a2.1 2.1 0 1 0 4.2 0a2.1 2.1 0 1 0 -4.2 0M62.5 58.9a2.1 2.1 0 1 0 4.2 0a2.1 2.1 0 1 0 -4.2 0M62.8 65.7a1.8 1.8 0 1 0 3.7 0a1.8 1.8 0 1 0 -3.7 0M63.1 73.1a2.1 2.1 0 1 0 4.2 0a2.1 2.1 0 1 0 -4.2 0M63.4 80.4a1.9 1.9 0 1 0 3.8 0a1.9 1.9 0 1 0 -3.8 0M62.7 87.2a1.8 1.8 0 1 0 3.7 0a1.8 1.8 0 1 0 -3.7 0M62.6 94.5a2.0 2.0 0 1 0 4.0 0a2.0 2.0 0 1 0 -4.0 0M62.5 102.0a2.1 2.1 0 1 0 4.2 0a2.1 2.1 0 1 0 -4.2 0M63.3 109.3a1.8 1.8 0 1 0 3.7 0a1.8 1.8 0 1 0 -3.7 0M62.6 115.8a2.1 2.1 0 1 0 4.2 0a2.1 2.1 0 1 0 -4.2 0M62.7 122.7a2.0 2.0 0 1 0 3.9 0a2.0 2.0 0 1 0 -3.9 0M62.6 129.8a2.1 2.1 0 1 0 4.1 0a2.1 2.1 0 1 0 -4.1 0M62.8 137.8a1.9 1.9 0 1 0 3.8 0a1.9 1.9 0 1 0 -3.8 0M62.7 144.8a1.9 1.9 0 1 0 3.9 0a1.9 1.9 0 1 0 -3.9 0M63.2 151.4a2.1 2.1 0 1 0 4.2 0a2.1 2.1 0 1 0 -4.2 0M62.9 155.3a1.9 1.9 0 1 0 3.7 0a1.9 1.9 0 1 0 -3.7 0M62.9 158.6a2.1 2.1 0 1 0 4.2 0a2.1 2.1 0 1 0 -4.2 0M62.8 165.7a1.9 1.9 0 1 0 3.8 0a1.9 1.9 0 1 0 -3.8 0M62.8 173.2a1.9 1.9 0 1 0 3.8 0a1.9 1.9 0 1 0 -3.8 0M65.7 5.6a1.9 1.9 0 1 0 3.8 0a1.9 1.9 0 1 0 -3.8 0M66.1 12.7a2.0 2.0 0 1 0 4.0 0a2.0 2.0 0 1 0 -4.0 0M65.5 26.9a2.1 2.1 0 1 0 4.3 0a2.1 2.1 0 1 0 -4.3 0M66.5 34.3a1.8 1.8 0 1 0 3.6 0a1.8 1.8 0 1 0 -3.6 0M66.3 41.1a2.0 2.0 0 1 0 4.0 0a2.0 2.0 0 1 0 -4.0 0M66.4 55.0a1.9 1.9 0 1 0 3.8 0a1.9 1.9 0 1 0 -3.8 0M66.0 62.0a2.1 2.1 0 1 0 4.2 0a2.1 2.1 0 1 0 -4.2 0M66.0 76.4a2.0 2.0 0 1 0 4.1 0a2.0 2.0 0 1 0 -4.1 0M66.3 83.7a2.1 2.1 0 1 0 4.2 0a2.1 2.1 0 1 0 -4.2 0M65.7 90.6a2.1 2.1 0 1 0 4.3 0a2.1 2.1 0 1 0 -4.3 0M65.5 105.2a2.0 2.0 0 1 0 4.0 0a2.0 2.0 0 1 0 -4.0 0M66.4 112.9a1.9 1.9 0 1 0 3.8 0a1.9 1.9 0 1 0 -3.8 0M65.7 116.0a1.9 1.9 0 1 0 3.7 0a1.9 1.9 0 1 0 -3.7 0M65.7 120.0a1.8 1.8 0 1 0 3.7 0a1.8 1.8 0 1 0 -3.7 0M65.8 126.6a2.0 2.0 0 1 0 4.0 0a2.0 2.0 0 1 0 -4.0 0M65.8 134.3a2.1 2.1 0 1 0 4.2 0a2.1 2.1 0 1 0 -4.2 0M65.6 148.4a2.0 2.0 0 1 0 4.0 0a2.0 2.0 0 1 0 -4.0 0M65.7 155.2a1.9 1.9 0 1 0 3.8 0a1.9 1.9 0 1 0 -3.8 0M66.2 162.9a1.9 1.9 0 1 0 3.7 0a1.9 1.9 0 1 0 -3.7 0M65.7 165.7a2.1 2.1 0 1 0 4.1 0a2.1 2.1 0 1 0 -4.1 0M65.8 176.2a2.1 2.1 0 1 0 4.1 0a2.1 2.1 0 1 0 -4.1 0M68.4 2.3a1.9 1.9 0 1 0 3.8 0a1.9 1.9 0 1 0 -3.8 0M68.5 9.0a2.1 2.1 0 1 0 4.3 0a2.1 2.1 0 1 0 -4.3 0M69.4 16.1a1.8 1.8 0 1 0 3.6 0a1.8 1.8 0 1 0 -3.6 0M68.2 22.8a2.1 2.1 0 1 0 4.3 0a2.1 2.1 0 1 0 -4.3 0M69.4 30.3a1.9 1.9 0 1 0 3.8 0a1.9 1.9 0 1 0 -3.8 0M69.0 44.5a2.0 2.0 0 1 0 3.9 0a2.0 2.0 0 1 0 -3.9 0M69.2 47.8a2.0 2.0 0 1 0 4.1 0a2.0 2.0 0 1 0 -4.1 0M68.9 51.9a2.1 2.1 0 1 0 4.3 0a2.1 2.1 0 1 0 -4.3 0M69.4 58.5a1.8 1.8 0 1 0 3.7 0a1.8 1.8 0 1 0 -3.7 0M68.6 66.3a1.9 1.9 0 1 0 3.7 0a1.9 1.9 0 1 0 -3.7 0M69.1 73.1a1.8 1.8 0 1 0 3.7 0a1.8 1.8 0 1 0 -3.7 0M69.2 79.9a2.0 2.0 0 1 0 4.0 0a2.0 2.0 0 1 0 -4.0 0M68.6 87.1a1.9 1.9 0 1 0 3.7 0a1.9 1.9 0 1 0 -3.7 0M68.4 94.9a2.0 2.0 0 1 0 3.9 0a2.0 2.0 0 1 0 -3.9 0M68.3 101.5a2.1 2.1 0 1 0 4.3 0a2.1 2.1 0 1 0 -4.3 0M69.0 109.1a2.1 2.1 0 1 0 4.1 0a2.1 2.1 0 1 0 -4.1 0M69.2 115.8a2.0 2.0 0 1 0 4.1 0a2.0 2.0 0 1 0 -4.1 0M68.7 122.7a2.1 2.1 0 1 0 4.2 0a2.1 2.1 0 1 0 -4.2 0M68.4 129.8a1.9 1.9 0 1 0 3.8 0a1.9 1.9 0 1 0 -3.8 0M69.1 137.9a2.1 2.1 0 1 0 4.2 0a2.1 2.1 0 1 0 -4.2 0M69.0 140.9a2.0 2.0 0 1 0 4.0 0a2.0 2.0 0 1 0 -4.0 0M69.0 144.1a2.1 2.1 0 1 0 4.2 0a2.1 2.1 0 1 0 -4.2 0M68.5 151.3a2.0 2.0 0 1 0 4.0 0a2.0 2.0 0 1 0 -4.0 0M68.4 155.3a2.0 2.0 0 1 0 4.0 0a2.0 2.0 0 1 0 -4.0 0M69.2 159.1a1.8 1.8 0 1 0 3.7 0a1.8 1.8 0 1 0 -3.7 0M68.7 165.7a1.9 1.9 0 1 0 3.9 0a1.9 1.9 0 1 0 -3.9 0M69.4 173.2a1.8 1.8 0 1 0 3.7 0a1.8 1.8 0 1 0 -3.7 0M68.9 180.1a1.9 1.9 0 1 0 3.9 0a1.9 1.9 0 1 0 -3.9 0M71.2 5.0a2.1 2.1 0 1 0 4.3 0a2.1 2.1 0 1 0 -4.3 0M71.4 12.2a2.0 2.0 0 1 0 4.1 0a2.0 2.0 0 1 0 -4.1 0M71.5 19.3a2.0 2.0 0 1 0 4.0 0a2.0 2.0 0 1 0 -4.0 0M71.9 23.2a1.9 1.9 0 1 0 3.8 0a1.9 1.9 0 1 0 -3.8 0M71.6 26.5a2.0 2.0 0 1 0 4.0 0a2.0 2.0 0 1 0 -4.0 0M71.7 40.6a1.9 1.9 0 1 0 3.8 0a1.9 1.9 0 1 0 -3.8 0M71.9 48.1a2.1 2.1 0 1 0 4.3 0a2.1 2.1 0 1 0 -4.3 0M71.6 51.4a1.9 1.9 0 1 0 3.8 0a1.9 1.9 0 1 0 -3.8 0M71.1 55.6a2.1 2.1 0 1 0 4.3 0a2.1 2.1 0 1 0 -4.3 0M72.2 69.2a1.8 1.8 0 1 0 3.6 0a1.8 1.8 0 1 0 -3.6 0M71.9 73.6a2.0 2.0 0 1 0 4.1 0a2.0 2.0 0 1 0 -4.1 0M71.9 76.5a2.0 2.0 0 1 0 4.1 0a2.0 2.0 0 1 0 -4.1 0M71.9 83.4a2.0 2.0 0 1 0 4.0 0a2.0 2.0 0 1 0 -4.0 0M71.3 91.2a2.0 2.0 0 1 0 3.9 0a2.0 2.0 0 1 0 -3.9 0M72.0 98.0a2.1 2.1 0 1 0 4.1 0a2.1 2.1 0 1 0 -4.1 0M71.8 105.6a2.1 2.1 0 1 0 4.2 0a2.1 2.1 0 1 0 -4.2 0M72.0 112.5a1.8 1.8 0 1 0 3.6 0a1.8 1.8 0 1 0 -3.6 0M71.1 119.3a2.1 2.1 0 1 0 4.2 0a2.1 2.1 0 1 0 -4.2 0M71.6 126.9a1.9 1.9 0 1 0 3.8 0a1.9 1.9 0 1 0 -3.8 0M71.4 133.4a2.0 2.0 0 1 0 4.1 0a2.0 2.0 0 1 0 -4.1 0M71.6 141.0a2.1 2.1 0 1 0 4.1 0a2.1 2.1 0 1 0 -4.1 0M71.5 144.1a1.9 1.9 0 1 0 3.9 0a1.9 1.9 0 1 0 -3.9 0M72.0 155.3a1.8 1.8 0 1 0 3.7 0a1.8 1.8 0 1 0 -3.7 0M71.5 162.6a1.8 1.8 0 1 0 3.7 0a1.8 1.8 0 1 0 -3.7 0M71.6 169.6a2.1 2.1 0 1 0 4.3 0a2.1 2.1 0 1 0 -4.3 0M71.6 176.5a2.0 2.0 0 1 0 4.1 0a2.0 2.0 0 1 0 -4.1 0M74.3 1.8a2.0 2.0 0 1 0 4.0 0a2.0 2.0 0 1 0 -4.0 0M74.7 8.9a1.9 1.9 0 1 0 3.8 0a1.9 1.9 0 1 0 -3.8 0M74.4 16.5a2.0 2.0 0 1 0 3.9 0a2.0 2.0 0 1 0 -3.9 0M75.0 19.5a1.8 1.8 0 1 0 3.7 0a1.8 1.8 0 1 0 -3.7 0M74.5 22.9a2.1 2.1 0 1 0 4.2 0a2.1 2.1 0 1 0 -4.2 0M74.8 37.6a2.0 2.0 0 1 0 3.9 0a2.0 2.0 0 1 0 -3.9 0M74.8 44.5a2.1 2.1 0 1 0 4.3 0a2.1 2.1 0 1 0 -4.3 0M75.0 51.9a1.8 1.8 0 1 0 3.6 0a1.8 1.8 0 1 0 -3.6 0M74.8 58.8a1.8 1.8 0 1 0 3.7 0a1.8 1.8 0 1 0 -3.7 0M74.6 65.9a1.9 1.9 0 1 0 3.8 0a1.9 1.9 0 1 0 -3.8 0M74.4 69.2a1.8 1.8 0 1 0 3.7 0a1.8 1.8 0 1 0 -3.7 0M75.0 73.3a1.9 1.9 0 1 0 3.9 0a1.9 1.9 0 1 0 -3.9 0M74.4 80.2a2.0 2.0 0 1 0 4.0 0a2.0 2.0 0 1 0 -4.0 0M74.4 87.8a1.9 1.9 0 1 0 3.7 0a1.9 1.9 0 1 0 -3.7 0M74.3 94.7a1.9 1.9 0 1 0 3.7 0a1.9 1.9 0 1 0 -3.7 0M74.4 98.3a2.0 2.0 0 1 0 4.0 0a2.0 2.0 0 1 0 -4.0 0M74.6 101.7a1.8 1.8 0 1 0 3.7 0a1.8 1.8 0 1 0 -3.7 0M74.2 123.3a1.9 1.9 0 1 0 3.8 0a1.9 1.9 0 1 0 -3.8 0M74.7 129.9a2.1 2.1 0 1 0 4.2 0a2.1 2.1 0 1 0 -4.2 0M74.2 144.8a2.1 2.1 0 1 0 4.1 0a2.1 2.1 0 1 0 -4.1 0M74.1 151.7a2.1 2.1 0 1 0 4.3 0a2.1 2.1 0 1 0 -4.3 0M75.2 159.0a1.9 1.9 0 1 0 3.7 0a1.9 1.9 0 1 0 -3.7 0M74.6 165.9a1.8 1.8 0 1 0 3.6 0a1.8 1.8 0 1 0 -3.6 0M74.8 172.7a2.1 2.1 0 1 0 4.2 0a2.1 2.1 0 1 0 -4.2 0M74.3 180.7a2.0 2.0 0 1 0 4.0 0a2.0 2.0 0 1 0 -4.0 0M77.8 5.8a2.0 2.0 0 1 0 3.9 0a2.0 2.0 0 1 0 -3.9 0M77.6 12.6a2.0 2.0 0 1 0 4.0 0a2.0 2.0 0 1 0 -4.0 0M77.5 19.4a1.9 1.9 0 1 0 3.9 0a1.9 1.9 0 1 0 -3.9 0M78.1 26.3a1.8 1.8 0 1 0 3.7 0a1.8 1.8 0 1 0 -3.7 0M77.6 33.9a2.0 2.0 0 1 0 4.0 0a2.0 2.0 0 1 0 -4.0 0M77.3 37.7a2.0 2.0 0 1 0 4.0 0a2.0 2.0 0 1 0 -4.0 0M77.4 40.9a2.0 2.0 0 1 0 4.1 0a2.0 2.0 0 1 0 -4.1 0M77.0 48.1a2.1 2.1 0 1 0 4.3 0a2.1 2.1 0 1 0 -4.3 0M77.7 54.8a2.0 2.0 0 1 0 4.0 0a2.0 2.0 0 1 0 -4.0 0M77.9 62.2a1.9 1.9 0 1 0 3.8 0a1.9 1.9 0 1 0 -3.8 0M77.2 69.4a2.0 2.0 0 1 0 3.9 0a2.0 2.0 0 1 0 -3.9 0M77.0 84.3a2.0 2.0 0 1 0 4.0 0a2.0 2.0 0 1 0 -4.0 0M77.6 91.2a2.0 2.0 0 1 0 4.0 0a2.0 2.0 0 1 0 -4.0 0M77.6 97.9a2.0 2.0 0 1 0 4.0 0a2.0 2.0 0 1 0 -4.0 0M77.5 105.0a2.0 2.0 0 1 0 4.0 0a2.0 2.0 0 1 0 -4.0 0M77.9 112.9a2.0 2.0 0 1 0 4.0 0a2.0 2.0 0 1 0 -4.0 0M77.2 119.2a2.1 2.1 0 1 0 4.1 0a2.1 2.1 0 1 0 -4.1 0M77.2 126.9a1.8 1.8 0 1 0 3.6 0a1.8 1.8 0 1 0 -3.6 0M77.3 133.4a2.0 2.0 0 1 0 3.9 0a2.0 2.0 0 1 0 -3.9 0M77.0 140.7a2.1 2.1 0 1 0 4.3 0a2.1 2.1 0 1 0 -4.3 0M77.5 148.3a1.9 1.9 0 1 0 3.9 0a1.9 1.9 0 1 0 -3.9 0M77.8 155.1a2.0 2.0 0 1 0 4.1 0a2.0 2.0 0 1 0 -4.1 0M77.6 162.6a2.0 2.0 0 1 0 4.0 0a2.0 2.0 0 1 0 -4.0 0M77.7 169.5a2.1 2.1 0 1 0 4.3 0a2.1 2.1 0 1 0 -4.3 0M76.8 176.7a2.1 2.1 0 1 0 4.3 0a2.1 2.1 0 1 0 -4.3 0M80.9 1.8a1.8 1.8 0 1 0 3.6 0a1.8 1.8 0 1 0 -3.6 0M80.2 9.2a1.9 1.9 0 1 0 3.9 0a1.9 1.9 0 1 0 -3.9 0M80.5 19.5a1.8 1.8 0 1 0 3.7 0a1.8 1.8 0 1 0 -3.7 0M80.3 22.9a2.0 2.0 0 1 0 4.0 0a2.0 2.0 0 1 0 -4.0 0M80.6 30.4a1.9 1.9 0 1 0 3.8 0a1.9 1.9 0 1 0 -3.8 0M80.0 37.4a2.0 2.0 0 1 0 3.9 0a2.0 2.0 0 1 0 -3.9 0M80.5 44.2a1.9 1.9 0 1 0 3.7 0a1.9 1.9 0 1 0 -3.7 0M80.7 51.3a1.8 1.8 0 1 0 3.7 0a1.8 1.8 0 1 0 -3.7 0M80.3 55.1a2.1 2.1 0 1 0 4.2 0a2.1 2.1 0 1 0 -4.2 0M80.4 58.5a2.0 2.0 0 1 0 4.0 0a2.0 2.0 0 1 0 -4.0 0M80.8 66.1a1.8 1.8 0 1 0 3.6 0a1.8 1.8 0 1 0 -3.6 0M80.4 73.5a2.0 2.0 0 1 0 3.9 0a2.0 2.0 0 1 0 -3.9 0M80.9 80.1a1.9 1.9 0 1 0 3.8 0a1.9 1.9 0 1 0 -3.8 0M80.9 87.9a1.9 1.9 0 1 0 3.9 0a1.9 1.9 0 1 0 -3.9 0M79.8 94.1a2.1 2.1 0 1 0 4.2 0a2.1 2.1 0 1 0 -4.2 0M79.7 101.6a2.1 2.1 0 1 0 4.3 0a2.1 2.1 0 1 0 -4.3 0M79.9 108.9a2.0 2.0 0 1 0 4.1 0a2.0 2.0 0 1 0 -4.1 0M80.4 115.8a2.0 2.0 0 1 0 4.0 0a2.0 2.0 0 1 0 -4.0 0M80.6 123.2a2.1 2.1 0 1 0 4.2 0a2.1 2.1 0 1 0 -4.2 0M79.9 130.1a1.9 1.9 0 1 0 3.8 0a1.9 1.9 0 1 0 -3.8 0M80.2 137.7a1.9 1.9 0 1 0 3.7 0a1.9 1.9 0 1 0 -3.7 0M80.2 140.6a1.9 1.9 0 1 0 3.8 0a1.9 1.9 0 1 0 -3.8 0M80.6 144.7a2.0 2.0 0 1 0 3.9 0a2.0 2.0 0 1 0 -3.9 0M80.5 151.5a2.0 2.0 0 1 0 4.0 0a2.0 2.0 0 1 0 -4.0 0M80.0 158.9a1.9 1.9 0 1 0 3.8 0a1.9 1.9 0 1 0 -3.8 0M80.3 166.0a2.1 2.1 0 1 0 4.1 0a2.1 2.1 0 1 0 -4.1 0M80.3 173.3a2.0 2.0 0 1 0 4.1 0a2.0 2.0 0 1 0 -4.1 0M82.8 5.7a2.1 2.1 0 1 0 4.2 0a2.1 2.1 0 1 0 -4.2 0M82.8 8.7a2.0 2.0 0 1 0 4.1 0a2.0 2.0 0 1 0 -4.1 0M83.7 12.6a1.9 1.9 0 1 0 3.7 0a1.9 1.9 0 1 0 -3.7 0M83.7 19.3a1.9 1.9 0 1 0 3.9 0a1.9 1.9 0 1 0 -3.9 0M83.4 26.9a1.9 1.9 0 1 0 3.8 0a1.9 1.9 0 1 0 -3.8 0M82.7 30.4a2.1 2.1 0 1 0 4.2 0a2.1 2.1 0 1 0 -4.2 0M83.0 33.6a2.1 2.1 0 1 0 4.2 0a2.1 2.1 0 1 0 -4.2 0M82.8 41.0a2.0 2.0 0 1 0 4.0 0a2.0 2.0 0 1 0 -4.0 0M83.1 48.5a1.9 1.9 0 1 0 3.9 0a1.9 1.9 0 1 0 -3.9 0M83.2 55.2a1.9 1.9 0 1 0 3.7 0a1.9 1.9 0 1 0 -3.7 0M83.1 62.8a2.0 2.0 0 1 0 4.0 0a2.0 2.0 0 1 0 -4.0 0M83.4 69.8a2.1 2.1 0 1 0 4.1 0a2.1 2.1 0 1 0 -4.1 0M83.5 76.6a2.0 2.0 0 1 0 4.0 0a2.0 2.0 0 1 0 -4.0 0M82.9 83.8a1.9 1.9 0 1 0 3.8 0a1.9 1.9 0 1 0 -3.8 0M83.4 91.0a2.0 2.0 0 1 0 3.9 0a2.0 2.0 0 1 0 -3.9 0M83.1 97.8a1.8 1.8 0 1 0 3.6 0a1.8 1.8 0 1 0 -3.6 0M82.8 105.5a2.0 2.0 0 1 0 4.0 0a2.0 2.0 0 1 0 -4.0 0M83.3 112.8a2.0 2.0 0 1 0 4.1 0a2.0 2.0 0 1 0 -4.1 0M83.6 116.3a2.0 2.0 0 1 0 4.0 0a2.0 2.0 0 1 0 -4.0 0M83.3 119.8a2.1 2.1 0 1 0 4.1 0a2.1 2.1 0 1 0 -4.1 0M83.4 127.0a2.1 2.1 0 1 0 4.1 0a2.1 2.1 0 1 0 -4.1 0M83.8 134.1a1.9 1.9 0 1 0 3.8 0a1.9 1.9 0 1 0 -3.8 0M82.9 141.0a2.0 2.0 0 1 0 4.0 0a2.0 2.0 0 1 0 -4.0 0M82.8 151.6a2.0 2.0 0 1 0 4.0 0a2.0 2.0 0 1 0 -4.0 0M83.6 154.9a2.0 2.0 0 1 0 3.9 0a2.0 2.0 0 1 0 -3.9 0M82.8 169.2a1.9 1.9 0 1 0 3.9 0a1.9 1.9 0 1 0 -3.9 0M83.3 177.1a1.9 1.9 0 1 0 3.8 0a1.9 1.9 0 1 0 -3.8 0M86.5 1.5a1.8 1.8 0 1 0 3.7 0a1.8 1.8 0 1 0 -3.7 0M86.2 9.0a2.1 2.1 0 1 0 4.2 0a2.1 2.1 0 1 0 -4.2 0M86.0 22.9a2.1 2.1 0 1 0 4.3 0a2.1 2.1 0 1 0 -4.3 0M86.4 30.1a2.0 2.0 0 1 0 4.1 0a2.0 2.0 0 1 0 -4.1 0M86.0 37.6a2.1 2.1 0 1 0 4.2 0a2.1 2.1 0 1 0 -4.2 0M86.3 44.4a1.8 1.8 0 1 0 3.6 0a1.8 1.8 0 1 0 -3.6 0M86.3 52.0a1.9 1.9 0 1 0 3.7 0a1.9 1.9 0 1 0 -3.7 0M86.5 66.4a2.1 2.1 0 1 0 4.2 0a2.1 2.1 0 1 0 -4.2 0M85.7 69.2a2.0 2.0 0 1 0 4.0 0a2.0 2.0 0 1 0 -4.0 0M86.4 73.4a1.9 1.9 0 1 0 3.8 0a1.9 1.9 0 1 0 -3.8 0M86.5 79.9a2.0 2.0 0 1 0 4.0 0a2.0 2.0 0 1 0 -4.0 0M86.0 94.3a1.9 1.9 0 1 0 3.8 0a1.9 1.9 0 1 0 -3.8 0M86.3 98.5a2.1 2.1 0 1 0 4.3 0a2.1 2.1 0 1 0 -4.3 0M86.1 102.2a2.0 2.0 0 1 0 3.9 0a2.0 2.0 0 1 0 -3.9 0M86.2 109.0a1.8 1.8 0 1 0 3.7 0a1.8 1.8 0 1 0 -3.7 0M86.1 115.8a2.1 2.1 0 1 0 4.2 0a2.1 2.1 0 1 0 -4.2 0M85.9 123.0a2.1 2.1 0 1 0 4.2 0a2.1 2.1 0 1 0 -4.2 0M86.6 129.8a1.9 1.9 0 1 0 3.9 0a1.9 1.9 0 1 0 -3.9 0M86.0 137.2a1.9 1.9 0 1 0 3.9 0a1.9 1.9 0 1 0 -3.9 0M86.0 144.3a2.1 2.1 0 1 0 4.1 0a2.1 2.1 0 1 0 -4.1 0M86.3 151.3a1.9 1.9 0 1 0 3.8 0a1.9 1.9 0 1 0 -3.8 0M85.7 155.4a2.0 2.0 0 1 0 4.0 0a2.0 2.0 0 1 0 -4.0 0M86.4 158.7a1.8 1.8 0 1 0 3.7 0a1.8 1.8 0 1 0 -3.7 0M85.8 165.9a1.8 1.8 0 1 0 3.7 0a1.8 1.8 0 1 0 -3.7 0M86.5 172.8a1.8 1.8 0 1 0 3.6 0a1.8 1.8 0 1 0 -3.6 0M85.6 179.8a2.1 2.1 0 1 0 4.2 0a2.1 2.1 0 1 0 -4.2 0M88.5 5.3a2.1 2.1 0 1 0 4.3 0a2.1 2.1 0 1 0 -4.3 0M88.9 12.6a1.9 1.9 0 1 0 3.8 0a1.9 1.9 0 1 0 -3.8 0M89.4 26.9a1.9 1.9 0 1 0 3.9 0a1.9 1.9 0 1 0 -3.9 0M89.0 33.6a2.1 2.1 0 1 0 4.2 0a2.1 2.1 0 1 0 -4.2 0M89.1 41.3a2.0 2.0 0 1 0 4.0 0a2.0 2.0 0 1 0 -4.0 0M89.0 48.5a1.9 1.9 0 1 0 3.8 0a1.9 1.9 0 1 0 -3.8 0M89.5 55.3a1.8 1.8 0 1 0 3.6 0a1.8 1.8 0 1 0 -3.6 0M89.3 69.3a2.1 2.1 0 1 0 4.2 0a2.1 2.1 0 1 0 -4.2 0M88.6 77.2a2.0 2.0 0 1 0 4.1 0a2.0 2.0 0 1 0 -4.1 0M89.2 83.9a1.8 1.8 0 1 0 3.7 0a1.8 1.8 0 1 0 -3.7 0M89.2 91.4a2.0 2.0 0 1 0 4.1 0a2.0 2.0 0 1 0 -4.1 0M89.0 98.4a2.0 2.0 0 1 0 4.0 0a2.0 2.0 0 1 0 -4.0 0M89.0 105.1a1.9 1.9 0 1 0 3.7 0a1.9 1.9 0 1 0 -3.7 0M88.8 112.3a2.0 2.0 0 1 0 4.1 0a2.0 2.0 0 1 0 -4.1 0M89.3 119.5a2.1 2.1 0 1 0 4.3 0a2.1 2.1 0 1 0 -4.3 0M89.6 126.4a1.9 1.9 0 1 0 3.8 0a1.9 1.9 0 1 0 -3.8 0M89.5 133.5a1.9 1.9 0 1 0 3.7 0a1.9 1.9 0 1 0 -3.7 0M88.5 141.2a2.1 2.1 0 1 0 4.3 0a2.1 2.1 0 1 0 -4.3 0M88.7 147.7a2.0 2.0 0 1 0 4.0 0a2.0 2.0 0 1 0 -4.0 0M88.8 155.7a2.0 2.0 0 1 0 4.1 0a2.0 2.0 0 1 0 -4.1 0M88.9 162.4a2.1 2.1 0 1 0 4.3 0a2.1 2.1 0 1 0 -4.3 0M88.9 169.3a2.1 2.1 0 1 0 4.2 0a2.1 2.1 0 1 0 -4.2 0M89.0 176.4a2.1 2.1 0 1 0 4.2 0a2.1 2.1 0 1 0 -4.2 0M91.4 1.4a2.1 2.1 0 1 0 4.2 0a2.1 2.1 0 1 0 -4.2 0M91.6 9.2a2.0 2.0 0 1 0 3.9 0a2.0 2.0 0 1 0 -3.9 0M92.0 15.8a2.0 2.0 0 1 0 3.9 0a2.0 2.0 0 1 0 -3.9 0M92.3 23.2a1.8 1.8 0 1 0 3.6 0a1.8 1.8 0 1 0 -3.6 0M92.4 30.8a2.0 2.0 0 1 0 3.9 0a2.0 2.0 0 1 0 -3.9 0M91.7 37.6a2.1 2.1 0 1 0 4.1 0a2.1 2.1 0 1 0 -4.1 0M92.3 44.9a1.8 1.8 0 1 0 3.6 0a1.8 1.8 0 1 0 -3.6 0M91.7 48.6a2.1 2.1 0 1 0 4.1 0a2.1 2.1 0 1 0 -4.1 0M91.9 51.9a2.0 2.0 0 1 0 4.0 0a2.0 2.0 0 1 0 -4.0 0M91.4 58.4a2.0 2.0 0 1 0 4.0 0a2.0 2.0 0 1 0 -4.0 0M91.7 65.7a2.0 2.0 0 1 0 4.0 0a2.0 2.0 0 1 0 -4.0 0M91.7 73.2a1.9 1.9 0 1 0 3.7 0a1.9 1.9 0 1 0 -3.7 0M91.6 80.2a2.1 2.1 0 1 0 4.2 0a2.1 2.1 0 1 0 -4.2 0M91.9 87.3a2.1 2.1 0 1 0 4.3 0a2.1 2.1 0 1 0 -4.3 0M91.5 94.7a2.0 2.0 0 1 0 4.0 0a2.0 2.0 0 1 0 -4.0 0M92.2 101.7a1.8 1.8 0 1 0 3.6 0a1.8 1.8 0 1 0 -3.6 0M91.8 109.1a2.1 2.1 0 1 0 4.2 0a2.1 2.1 0 1 0 -4.2 0M92.2 115.9a1.8 1.8 0 1 0 3.7 0a1.8 1.8 0 1 0 -3.7 0M91.5 122.8a1.9 1.9 0 1 0 3.7 0a1.9 1.9 0 1 0 -3.7 0M91.7 129.8a1.9 1.9 0 1 0 3.8 0a1.9 1.9 0 1 0 -3.8 0M91.7 137.0a1.8 1.8 0 1 0 3.6 0a1.8 1.8 0 1 0 -3.6 0M91.6 141.2a1.9 1.9 0 1 0 3.8 0a1.9 1.9 0 1 0 -3.8 0M91.5 144.7a2.1 2.1 0 1 0 4.3 0a2.1 2.1 0 1 0 -4.3 0M92.3 151.5a1.9 1.9 0 1 0 3.7 0a1.9 1.9 0 1 0 -3.7 0M92.3 158.5a1.8 1.8 0 1 0 3.7 0a1.8 1.8 0 1 0 -3.7 0M92.4 166.2a2.0 2.0 0 1 0 4.0 0a2.0 2.0 0 1 0 -4.0 0M91.5 172.8a1.9 1.9 0 1 0 3.9 0a1.9 1.9 0 1 0 -3.9 0M94.4 5.7a1.9 1.9 0 1 0 3.8 0a1.9 1.9 0 1 0 -3.8 0M94.8 12.7a2.1 2.1 0 1 0 4.1 0a2.1 2.1 0 1 0 -4.1 0M94.6 19.6a1.8 1.8 0 1 0 3.6 0a1.8 1.8 0 1 0 -3.6 0M94.4 26.6a1.9 1.9 0 1 0 3.8 0a1.9 1.9 0 1 0 -3.8 0M95.0 34.3a2.1 2.1 0 1 0 4.3 0a2.1 2.1 0 1 0 -4.3 0M94.7 41.2a2.1 2.1 0 1 0 4.2 0a2.1 2.1 0 1 0 -4.2 0M95.0 55.2a2.0 2.0 0 1 0 4.0 0a2.0 2.0 0 1 0 -4.0 0M94.7 62.7a1.9 1.9 0 1 0 3.9 0a1.9 1.9 0 1 0 -3.9 0M95.0 69.6a2.1 2.1 0 1 0 4.2 0a2.1 2.1 0 1 0 -4.2 0M94.9 76.9a2.0 2.0 0 1 0 3.9 0a2.0 2.0 0 1 0 -3.9 0M94.8 90.7a1.8 1.8 0 1 0 3.7 0a1.8 1.8 0 1 0 -3.7 0M94.7 97.6a2.0 2.0 0 1 0 4.1 0a2.0 2.0 0 1 0 -4.1 0M94.6 105.7a2.0 2.0 0 1 0 4.0 0a2.0 2.0 0 1 0 -4.0 0M94.9 111.9a2.1 2.1 0 1 0 4.3 0a2.1 2.1 0 1 0 -4.3 0M95.0 116.0a1.8 1.8 0 1 0 3.7 0a1.8 1.8 0 1 0 -3.7 0M95.4 119.4a1.9 1.9 0 1 0 3.7 0a1.9 1.9 0 1 0 -3.7 0M95.2 126.2a2.0 2.0 0 1 0 4.0 0a2.0 2.0 0 1 0 -4.0 0M95.2 134.1a1.9 1.9 0 1 0 3.8 0a1.9 1.9 0 1 0 -3.8 0M94.4 141.4a2.1 2.1 0 1 0 4.3 0a2.1 2.1 0 1 0 -4.3 0M95.1 148.2a1.8 1.8 0 1 0 3.7 0a1.8 1.8 0 1 0 -3.7 0M95.3 155.4a1.9 1.9 0 1 0 3.8 0a1.9 1.9 0 1 0 -3.8 0M94.5 162.3a2.0 2.0 0 1 0 3.9 0a2.0 2.0 0 1 0 -3.9 0M94.5 169.4a2.0 2.0 0 1 0 4.0 0a2.0 2.0 0 1 0 -4.0 0M94.9 177.0a2.1 2.1 0 1 0 4.1 0a2.1 2.1 0 1 0 -4.1 0M97.9 2.0a1.9 1.9 0 1 0 3.8 0a1.9 1.9 0 1 0 -3.8 0M98.0 9.1a1.8 1.8 0 1 0 3.7 0a1.8 1.8 0 1 0 -3.7 0M97.8 15.8a1.9 1.9 0 1 0 3.9 0a1.9 1.9 0 1 0 -3.9 0M98.1 23.6a1.9 1.9 0 1 0 3.9 0a1.9 1.9 0 1 0 -3.9 0M97.9 30.7a1.9 1.9 0 1 0 3.9 0a1.9 1.9 0 1 0 -3.9 0M97.4 37.8a2.0 2.0 0 1 0 4.0 0a2.0 2.0 0 1 0 -4.0 0M97.6 44.7a1.9 1.9 0 1 0 3.9 0a1.9 1.9 0 1 0 -3.9 0M97.9 52.2a1.8 1.8 0 1 0 3.6 0a1.8 1.8 0 1 0 -3.6 0M98.0 58.8a2.0 2.0 0 1 0 4.0 0a2.0 2.0 0 1 0 -4.0 0M97.4 65.9a2.0 2.0 0 1 0 4.1 0a2.0 2.0 0 1 0 -4.1 0M97.5 73.6a1.9 1.9 0 1 0 3.9 0a1.9 1.9 0 1 0 -3.9 0M97.6 80.3a2.0 2.0 0 1 0 4.0 0a2.0 2.0 0 1 0 -4.0 0M97.8 86.9a2.0 2.0 0 1 0 4.0 0a2.0 2.0 0 1 0 -4.0 0M97.1 94.6a2.1 2.1 0 1 0 4.3 0a2.1 2.1 0 1 0 -4.3 0M97.3 98.1a2.1 2.1 0 1 0 4.2 0a2.1 2.1 0 1 0 -4.2 0M97.3 101.9a2.1 2.1 0 1 0 4.3 0a2.1 2.1 0 1 0 -4.3 0M98.2 109.0a1.8 1.8 0 1 0 3.6 0a1.8 1.8 0 1 0 -3.6 0M97.1 116.3a2.1 2.1 0 1 0 4.3 0a2.1 2.1 0 1 0 -4.3 0M97.5 123.0a1.9 1.9 0 1 0 3.9 0a1.9 1.9 0 1 0 -3.9 0M98.0 130.7a1.9 1.9 0 1 0 3.7 0a1.9 1.9 0 1 0 -3.7 0M97.7 137.6a1.9 1.9 0 1 0 3.8 0a1.9 1.9 0 1 0 -3.8 0M98.0 144.5a2.0 2.0 0 1 0 4.0 0a2.0 2.0 0 1 0 -4.0 0M97.7 151.8a1.9 1.9 0 1 0 3.8 0a1.9 1.9 0 1 0 -3.8 0M97.7 159.3a2.0 2.0 0 1 0 4.0 0a2.0 2.0 0 1 0 -4.0 0M97.9 179.7a2.1 2.1 0 1 0 4.2 0a2.1 2.1 0 1 0 -4.2 0M100.7 5.3a1.9 1.9 0 1 0 3.9 0a1.9 1.9 0 1 0 -3.9 0M100.6 12.9a2.1 2.1 0 1 0 4.1 0a2.1 2.1 0 1 0 -4.1 0M101.0 26.3a2.0 2.0 0 1 0 4.0 0a2.0 2.0 0 1 0 -4.0 0M100.1 33.9a2.0 2.0 0 1 0 4.0 0a2.0 2.0 0 1 0 -4.0 0M100.0 41.5a2.1 2.1 0 1 0 4.2 0a2.1 2.1 0 1 0 -4.2 0M100.3 48.6a2.0 2.0 0 1 0 4.0 0a2.0 2.0 0 1 0 -4.0 0M100.4 55.7a1.9 1.9 0 1 0 3.9 0a1.9 1.9 0 1 0 -3.9 0M100.8 62.4a1.9 1.9 0 1 0 3.8 0a1.9 1.9 0 1 0 -3.8 0M100.8 69.8a1.9 1.9 0 1 0 3.8 0a1.9 1.9 0 1 0 -3.8 0M100.8 84.2a2.0 2.0 0 1 0 4.1 0a2.0 2.0 0 1 0 -4.1 0M100.3 91.3a1.9 1.9 0 1 0 3.8 0a1.9 1.9 0 1 0 -3.8 0M100.4 97.8a2.1 2.1 0 1 0 4.2 0a2.1 2.1 0 1 0 -4.2 0M99.9 105.2a2.1 2.1 0 1 0 4.3 0a2.1 2.1 0 1 0 -4.3 0M101.0 112.2a1.8 1.8 0 1 0 3.7 0a1.8 1.8 0 1 0 -3.7 0M100.8 115.9a2.0 2.0 0 1 0 4.0 0a2.0 2.0 0 1 0 -4.0 0M100.3 119.1a1.9 1.9 0 1 0 3.8 0a1.9 1.9 0 1 0 -3.8 0M100.6 126.2a2.1 2.1 0 1 0 4.1 0a2.1 2.1 0 1 0 -4.1 0M100.3 133.7a2.0 2.0 0 1 0 4.0 0a2.0 2.0 0 1 0 -4.0 0M101.1 140.6a2.0 2.0 0 1 0 3.9 0a2.0 2.0 0 1 0 -3.9 0M100.7 148.2a1.9 1.9 0 1 0 3.8 0a1.9 1.9 0 1 0 -3.8 0M100.8 162.1a2.1 2.1 0 1 0 4.1 0a2.1 2.1 0 1 0 -4.1 0M101.2 176.9a1.8 1.8 0 1 0 3.6 0a1.8 1.8 0 1 0 -3.6 0M103.1 1.6a2.1 2.1 0 1 0 4.3 0a2.1 2.1 0 1 0 -4.3 0M103.7 8.6a1.8 1.8 0 1 0 3.7 0a1.8 1.8 0 1 0 -3.7 0M102.9 15.7a2.1 2.1 0 1 0 4.1 0a2.1 2.1 0 1 0 -4.1 0M104.0 23.1a1.9 1.9 0 1 0 3.8 0a1.9 1.9 0 1 0 -3.8 0M103.9 27.1a1.8 1.8 0 1 0 3.7 0a1.8 1.8 0 1 0 -3.7 0M103.4 30.3a2.1 2.1 0 1 0 4.2 0a2.1 2.1 0 1 0 -4.2 0M103.6 37.1a2.1 2.1 0 1 0 4.1 0a2.1 2.1 0 1 0 -4.1 0M103.0 45.1a2.1 2.1 0 1 0 4.3 0a2.1 2.1 0 1 0 -4.3 0M103.2 48.3a2.0 2.0 0 1 0 3.9 0a2.0 2.0 0 1 0 -3.9 0M103.4 51.5a1.8 1.8 0 1 0 3.6 0a1.8 1.8 0 1 0 -3.6 0M103.4 59.2a2.0 2.0 0 1 0 4.1 0a2.0 2.0 0 1 0 -4.1 0M103.7 66.1a1.9 1.9 0 1 0 3.7 0a1.9 1.9 0 1 0 -3.7 0M103.2 73.0a2.1 2.1 0 1 0 4.2 0a2.1 2.1 0 1 0 -4.2 0M103.0 80.0a2.0 2.0 0 1 0 4.1 0a2.0 2.0 0 1 0 -4.1 0M104.0 87.0a2.0 2.0 0 1 0 3.9 0a2.0 2.0 0 1 0 -3.9 0M103.4 94.7a2.1 2.1 0 1 0 4.1 0a2.1 2.1 0 1 0 -4.1 0M102.9 101.5a2.1 2.1 0 1 0 4.2 0a2.1 2.1 0 1 0 -4.2 0M103.5 105.5a1.8 1.8 0 1 0 3.6 0a1.8 1.8 0 1 0 -3.6 0M103.5 108.7a2.1 2.1 0 1 0 4.1 0a2.1 2.1 0 1 0 -4.1 0M103.7 116.0a2.0 2.0 0 1 0 4.0 0a2.0 2.0 0 1 0 -4.0 0M103.2 122.7a2.0 2.0 0 1 0 4.1 0a2.0 2.0 0 1 0 -4.1 0M103.2 137.8a2.0 2.0 0 1 0 3.9 0a2.0 2.0 0 1 0 -3.9 0M103.7 144.2a2.0 2.0 0 1 0 4.0 0a2.0 2.0 0 1 0 -4.0 0M103.3 166.0a2.0 2.0 0 1 0 4.1 0a2.0 2.0 0 1 0 -4.1 0M103.3 173.3a2.1 2.1 0 1 0 4.1 0a2.1 2.1 0 1 0 -4.1 0M104.0 180.6a1.9 1.9 0 1 0 3.7 0a1.9 1.9 0 1 0 -3.7 0M106.7 4.9a1.9 1.9 0 1 0 3.7 0a1.9 1.9 0 1 0 -3.7 0M106.1 12.5a2.1 2.1 0 1 0 4.3 0a2.1 2.1 0 1 0 -4.3 0M106.4 20.1a2.1 2.1 0 1 0 4.3 0a2.1 2.1 0 1 0 -4.3 0M105.9 26.7a2.1 2.1 0 1 0 4.1 0a2.1 2.1 0 1 0 -4.1 0M105.8 33.7a2.0 2.0 0 1 0 4.1 0a2.0 2.0 0 1 0 -4.1 0M106.1 41.4a2.0 2.0 0 1 0 3.9 0a2.0 2.0 0 1 0 -3.9 0M106.6 48.1a2.1 2.1 0 1 0 4.3 0a2.1 2.1 0 1 0 -4.3 0M106.6 69.5a1.9 1.9 0 1 0 3.8 0a1.9 1.9 0 1 0 -3.8 0M106.2 77.2a1.9 1.9 0 1 0 3.8 0a1.9 1.9 0 1 0 -3.8 0M106.5 80.4a2.1 2.1 0 1 0 4.1 0a2.1 2.1 0 1 0 -4.1 0M106.2 84.3a2.0 2.0 0 1 0 4.0 0a2.0 2.0 0 1 0 -4.0 0M106.4 90.8a1.9 1.9 0 1 0 3.7 0a1.9 1.9 0 1 0 -3.7 0M106.5 98.2a1.9 1.9 0 1 0 3.8 0a1.9 1.9 0 1 0 -3.8 0M106.7 112.0a2.1 2.1 0 1 0 4.2 0a2.1 2.1 0 1 0 -4.2 0M106.1 115.7a2.0 2.0 0 1 0 4.1 0a2.0 2.0 0 1 0 -4.1 0M106.1 120.0a1.8 1.8 0 1 0 3.6 0a1.8 1.8 0 1 0 -3.6 0M106.5 127.1a1.9 1.9 0 1 0 3.7 0a1.9 1.9 0 1 0 -3.7 0M106.2 133.8a2.0 2.0 0 1 0 3.9 0a2.0 2.0 0 1 0 -3.9 0M106.4 141.1a2.1 2.1 0 1 0 4.2 0a2.1 2.1 0 1 0 -4.2 0M106.1 148.4a1.8 1.8 0 1 0 3.6 0a1.8 1.8 0 1 0 -3.6 0M106.6 154.7a2.1 2.1 0 1 0 4.2 0a2.1 2.1 0 1 0 -4.2 0M106.0 165.9a2.0 2.0 0 1 0 4.1 0a2.0 2.0 0 1 0 -4.1 0M106.3 169.1a1.8 1.8 0 1 0 3.6 0a1.8 1.8 0 1 0 -3.6 0M106.2 176.2a2.1 2.1 0 1 0 4.2 0a2.1 2.1 0 1 0 -4.2 0M109.6 2.1a2.0 2.0 0 1 0 4.1 0a2.0 2.0 0 1 0 -4.1 0M109.5 9.3a1.8 1.8 0 1 0 3.6 0a1.8 1.8 0 1 0 -3.6 0M109.1 23.4a1.9 1.9 0 1 0 3.8 0a1.9 1.9 0 1 0 -3.8 0M109.1 30.6a2.0 2.0 0 1 0 4.0 0a2.0 2.0 0 1 0 -4.0 0M109.4 37.7a1.9 1.9 0 1 0 3.7 0a1.9 1.9 0 1 0 -3.7 0M109.8 59.1a1.8 1.8 0 1 0 3.6 0a1.8 1.8 0 1 0 -3.6 0M108.8 65.8a2.1 2.1 0 1 0 4.2 0a2.1 2.1 0 1 0 -4.2 0M108.8 69.4a2.0 2.0 0 1 0 4.0 0a2.0 2.0 0 1 0 -4.0 0M108.7 73.0a2.1 2.1 0 1 0 4.2 0a2.1 2.1 0 1 0 -4.2 0M109.4 80.0a1.9 1.9 0 1 0 3.8 0a1.9 1.9 0 1 0 -3.8 0M109.7 84.3a1.8 1.8 0 1 0 3.6 0a1.8 1.8 0 1 0 -3.6 0M109.5 87.3a2.1 2.1 0 1 0 4.1 0a2.1 2.1 0 1 0 -4.1 0M109.1 95.0a2.0 2.0 0 1 0 3.9 0a2.0 2.0 0 1 0 -3.9 0M109.4 102.0a2.0 2.0 0 1 0 4.0 0a2.0 2.0 0 1 0 -4.0 0M109.5 105.5a2.0 2.0 0 1 0 4.0 0a2.0 2.0 0 1 0 -4.0 0M109.0 109.0a2.1 2.1 0 1 0 4.1 0a2.1 2.1 0 1 0 -4.1 0M109.2 116.2a2.0 2.0 0 1 0 4.0 0a2.0 2.0 0 1 0 -4.0 0M109.7 123.2a2.0 2.0 0 1 0 4.0 0a2.0 2.0 0 1 0 -4.0 0M108.9 130.3a2.1 2.1 0 1 0 4.2 0a2.1 2.1 0 1 0 -4.2 0M109.6 137.4a1.8 1.8 0 1 0 3.7 0a1.8 1.8 0 1 0 -3.7 0M109.0 140.8a1.9 1.9 0 1 0 3.9 0a1.9 1.9 0 1 0 -3.9 0M109.8 144.1a1.9 1.9 0 1 0 3.7 0a1.9 1.9 0 1 0 -3.7 0M109.1 151.2a2.0 2.0 0 1 0 4.0 0a2.0 2.0 0 1 0 -4.0 0M109.2 158.4a1.8 1.8 0 1 0 3.7 0a1.8 1.8 0 1 0 -3.7 0M109.3 165.5a1.8 1.8 0 1 0 3.7 0a1.8 1.8 0 1 0 -3.7 0M108.8 173.1a2.0 2.0 0 1 0 4.1 0a2.0 2.0 0 1 0 -4.1 0M109.5 180.4a2.1 2.1 0 1 0 4.2 0a2.1 2.1 0 1 0 -4.2 0M112.3 5.8a2.0 2.0 0 1 0 4.0 0a2.0 2.0 0 1 0 -4.0 0M111.9 12.6a2.1 2.1 0 1 0 4.1 0a2.1 2.1 0 1 0 -4.1 0M112.1 19.5a1.9 1.9 0 1 0 3.8 0a1.9 1.9 0 1 0 -3.8 0M112.2 23.4a2.0 2.0 0 1 0 3.9 0a2.0 2.0 0 1 0 -3.9 0M111.9 26.8a2.0 2.0 0 1 0 3.9 0a2.0 2.0 0 1 0 -3.9 0M112.5 34.1a2.0 2.0 0 1 0 4.0 0a2.0 2.0 0 1 0 -4.0 0M112.1 41.3a1.8 1.8 0 1 0 3.7 0a1.8 1.8 0 1 0 -3.7 0M111.9 48.7a1.8 1.8 0 1 0 3.6 0a1.8 1.8 0 1 0 -3.6 0M112.5 55.7a1.8 1.8 0 1 0 3.7 0a1.8 1.8 0 1 0 -3.7 0M112.5 62.1a2.0 2.0 0 1 0 4.1 0a2.0 2.0 0 1 0 -4.1 0M112.5 69.8a2.0 2.0 0 1 0 4.0 0a2.0 2.0 0 1 0 -4.0 0M112.5 76.8a1.9 1.9 0 1 0 3.8 0a1.9 1.9 0 1 0 -3.8 0M112.3 83.6a1.9 1.9 0 1 0 3.8 0a1.9 1.9 0 1 0 -3.8 0M112.3 90.8a2.0 2.0 0 1 0 3.9 0a2.0 2.0 0 1 0 -3.9 0M111.7 98.0a2.0 2.0 0 1 0 4.0 0a2.0 2.0 0 1 0 -4.0 0M111.9 104.8a2.1 2.1 0 1 0 4.1 0a2.1 2.1 0 1 0 -4.1 0M112.5 112.5a2.0 2.0 0 1 0 4.1 0a2.0 2.0 0 1 0 -4.1 0M112.5 119.3a1.9 1.9 0 1 0 3.8 0a1.9 1.9 0 1 0 -3.8 0M111.7 127.0a2.0 2.0 0 1 0 4.1 0a2.0 2.0 0 1 0 -4.1 0M112.5 133.9a2.1 2.1 0 1 0 4.1 0a2.1 2.1 0 1 0 -4.1 0M111.8 147.9a2.1 2.1 0 1 0 4.2 0a2.1 2.1 0 1 0 -4.2 0M112.4 154.8a2.1 2.1 0 1 0 4.1 0a2.1 2.1 0 1 0 -4.1 0M111.8 162.7a2.1 2.1 0 1 0 4.1 0a2.1 2.1 0 1 0 -4.1 0M112.3 170.0a1.9 1.9 0 1 0 3.8 0a1.9 1.9 0 1 0 -3.8 0M112.4 176.3a1.8 1.8 0 1 0 3.7 0a1.8 1.8 0 1 0 -3.7 0M115.2 1.4a2.1 2.1 0 1 0 4.2 0a2.1 2.1 0 1 0 -4.2 0M114.6 8.8a2.0 2.0 0 1 0 3.9 0a2.0 2.0 0 1 0 -3.9 0M115.2 23.0a2.0 2.0 0 1 0 4.0 0a2.0 2.0 0 1 0 -4.0 0M115.4 30.2a1.9 1.9 0 1 0 3.8 0a1.9 1.9 0 1 0 -3.8 0M115.6 37.1a1.9 1.9 0 1 0 3.7 0a1.9 1.9 0 1 0 -3.7 0M115.5 44.9a1.9 1.9 0 1 0 3.9 0a1.9 1.9 0 1 0 -3.9 0M114.7 48.3a2.1 2.1 0 1 0 4.2 0a2.1 2.1 0 1 0 -4.2 0M114.9 51.3a2.0 2.0 0 1 0 4.0 0a2.0 2.0 0 1 0 -4.0 0M115.3 58.7a2.0 2.0 0 1 0 4.0 0a2.0 2.0 0 1 0 -4.0 0M115.4 66.2a2.1 2.1 0 1 0 4.2 0a2.1 2.1 0 1 0 -4.2 0M115.1 73.6a1.9 1.9 0 1 0 3.9 0a1.9 1.9 0 1 0 -3.9 0M114.5 80.7a2.1 2.1 0 1 0 4.2 0a2.1 2.1 0 1 0 -4.2 0M114.8 87.1a2.0 2.0 0 1 0 4.0 0a2.0 2.0 0 1 0 -4.0 0M114.7 94.3a2.1 2.1 0 1 0 4.2 0a2.1 2.1 0 1 0 -4.2 0M114.6 102.1a2.1 2.1 0 1 0 4.2 0a2.1 2.1 0 1 0 -4.2 0M115.0 108.7a1.9 1.9 0 1 0 3.7 0a1.9 1.9 0 1 0 -3.7 0M115.4 116.2a1.9 1.9 0 1 0 3.8 0a1.9 1.9 0 1 0 -3.8 0M114.7 119.4a2.0 2.0 0 1 0 4.0 0a2.0 2.0 0 1 0 -4.0 0M114.9 123.0a1.9 1.9 0 1 0 3.8 0a1.9 1.9 0 1 0 -3.8 0M114.9 130.5a1.8 1.8 0 1 0 3.7 0a1.8 1.8 0 1 0 -3.7 0M115.2 137.6a2.1 2.1 0 1 0 4.1 0a2.1 2.1 0 1 0 -4.1 0M115.0 144.5a2.0 2.0 0 1 0 4.1 0a2.0 2.0 0 1 0 -4.1 0M114.7 152.0a1.8 1.8 0 1 0 3.7 0a1.8 1.8 0 1 0 -3.7 0M114.8 159.0a2.0 2.0 0 1 0 4.0 0a2.0 2.0 0 1 0 -4.0 0M114.9 165.8a1.9 1.9 0 1 0 3.9 0a1.9 1.9 0 1 0 -3.9 0M115.3 173.0a2.1 2.1 0 1 0 4.3 0a2.1 2.1 0 1 0 -4.3 0M115.4 179.9a2.1 2.1 0 1 0 4.2 0a2.1 2.1 0 1 0 -4.2 0M118.0 5.1a2.1 2.1 0 1 0 4.2 0a2.1 2.1 0 1 0 -4.2 0M117.6 12.1a2.1 2.1 0 1 0 4.2 0a2.1 2.1 0 1 0 -4.2 0M117.9 26.3a2.1 2.1 0 1 0 4.1 0a2.1 2.1 0 1 0 -4.1 0M118.1 34.1a2.0 2.0 0 1 0 4.1 0a2.0 2.0 0 1 0 -4.1 0M118.3 41.2a2.1 2.1 0 1 0 4.1 0a2.1 2.1 0 1 0 -4.1 0M117.9 48.4a1.9 1.9 0 1 0 3.8 0a1.9 1.9 0 1 0 -3.8 0M118.1 54.9a2.1 2.1 0 1 0 4.3 0a2.1 2.1 0 1 0 -4.3 0M117.6 62.7a2.1 2.1 0 1 0 4.2 0a2.1 2.1 0 1 0 -4.2 0M118.0 69.7a2.0 2.0 0 1 0 4.1 0a2.0 2.0 0 1 0 -4.1 0M118.0 76.6a2.1 2.1 0 1 0 4.3 0a2.1 2.1 0 1 0 -4.3 0M118.2 80.2a2.0 2.0 0 1 0 4.1 0a2.0 2.0 0 1 0 -4.1 0M118.3 83.9a1.9 1.9 0 1 0 3.7 0a1.9 1.9 0 1 0 -3.7 0M117.9 90.8a1.8 1.8 0 1 0 3.6 0a1.8 1.8 0 1 0 -3.6 0M118.1 98.1a2.0 2.0 0 1 0 4.0 0a2.0 2.0 0 1 0 -4.0 0M117.7 105.4a1.9 1.9 0 1 0 3.8 0a1.9 1.9 0 1 0 -3.8 0M118.0 109.3a1.9 1.9 0 1 0 3.7 0a1.9 1.9 0 1 0 -3.7 0M118.0 112.3a2.1 2.1 0 1 0 4.2 0a2.1 2.1 0 1 0 -4.2 0M117.8 116.5a2.1 2.1 0 1 0 4.1 0a2.1 2.1 0 1 0 -4.1 0M118.0 126.3a2.0 2.0 0 1 0 4.1 0a2.0 2.0 0 1 0 -4.1 0M118.3 134.0a2.0 2.0 0 1 0 4.0 0a2.0 2.0 0 1 0 -4.0 0M117.7 141.3a2.1 2.1 0 1 0 4.2 0a2.1 2.1 0 1 0 -4.2 0M118.0 144.6a1.9 1.9 0 1 0 3.8 0a1.9 1.9 0 1 0 -3.8 0M117.7 147.7a2.1 2.1 0 1 0 4.1 0a2.1 2.1 0 1 0 -4.1 0M117.6 155.4a2.1 2.1 0 1 0 4.3 0a2.1 2.1 0 1 0 -4.3 0M118.0 162.9a2.1 2.1 0 1 0 4.2 0a2.1 2.1 0 1 0 -4.2 0M117.7 169.6a1.9 1.9 0 1 0 3.8 0a1.9 1.9 0 1 0 -3.8 0M117.8 177.0a2.0 2.0 0 1 0 4.0 0a2.0 2.0 0 1 0 -4.0 0M117.8 180.0a2.1 2.1 0 1 0 4.2 0a2.1 2.1 0 1 0 -4.2 0M121.2 1.6a1.9 1.9 0 1 0 3.7 0a1.9 1.9 0 1 0 -3.7 0M120.7 9.0a2.1 2.1 0 1 0 4.3 0a2.1 2.1 0 1 0 -4.3 0M120.9 15.9a2.0 2.0 0 1 0 3.9 0a2.0 2.0 0 1 0 -3.9 0M120.6 23.2a1.8 1.8 0 1 0 3.7 0a1.8 1.8 0 1 0 -3.7 0M120.8 30.6a2.0 2.0 0 1 0 3.9 0a2.0 2.0 0 1 0 -3.9 0M121.1 37.2a1.9 1.9 0 1 0 3.8 0a1.9 1.9 0 1 0 -3.8 0M120.9 44.6a2.1 2.1 0 1 0 4.1 0a2.1 2.1 0 1 0 -4.1 0M120.6 58.9a1.8 1.8 0 1 0 3.6 0a1.8 1.8 0 1 0 -3.6 0M121.0 66.4a1.9 1.9 0 1 0 3.9 0a1.9 1.9 0 1 0 -3.9 0M120.8 73.3a2.1 2.1 0 1 0 4.1 0a2.1 2.1 0 1 0 -4.1 0M120.4 76.9a1.8 1.8 0 1 0 3.7 0a1.8 1.8 0 1 0 -3.7 0M121.1 80.2a2.0 2.0 0 1 0 4.0 0a2.0 2.0 0 1 0 -4.0 0M120.5 94.9a1.9 1.9 0 1 0 3.7 0a1.9 1.9 0 1 0 -3.7 0M121.1 105.3a2.0 2.0 0 1 0 3.9 0a2.0 2.0 0 1 0 -3.9 0M120.8 109.1a2.1 2.1 0 1 0 4.2 0a2.1 2.1 0 1 0 -4.2 0M120.7 116.2a1.9 1.9 0 1 0 3.9 0a1.9 1.9 0 1 0 -3.9 0M120.3 123.0a2.0 2.0 0 1 0 4.1 0a2.0 2.0 0 1 0 -4.1 0M120.4 133.7a1.9 1.9 0 1 0 3.9 0a1.9 1.9 0 1 0 -3.9 0M120.7 137.4a1.8 1.8 0 1 0 3.7 0a1.8 1.8 0 1 0 -3.7 0M120.9 144.3a1.9 1.9 0 1 0 3.9 0a1.9 1.9 0 1 0 -3.9 0M120.4 151.5a1.8 1.8 0 1 0 3.7 0a1.8 1.8 0 1 0 -3.7 0M121.1 165.6a2.0 2.0 0 1 0 4.0 0a2.0 2.0 0 1 0 -4.0 0M121.2 172.9a2.1 2.1 0 1 0 4.1 0a2.1 2.1 0 1 0 -4.1 0M120.7 180.4a1.9 1.9 0 1 0 3.9 0a1.9 1.9 0 1 0 -3.9 0M124.0 5.3a1.9 1.9 0 1 0 3.7 0a1.9 1.9 0 1 0 -3.7 0M123.2 12.2a2.1 2.1 0 1 0 4.2 0a2.1 2.1 0 1 0 -4.2 0M123.7 19.8a1.9 1.9 0 1 0 3.8 0a1.9 1.9 0 1 0 -3.8 0M124.1 26.7a2.0 2.0 0 1 0 4.0 0a2.0 2.0 0 1 0 -4.0 0M124.1 33.6a2.1 2.1 0 1 0 4.1 0a2.1 2.1 0 1 0 -4.1 0M123.2 40.7a2.1 2.1 0 1 0 4.2 0a2.1 2.1 0 1 0 -4.2 0M123.4 48.4a2.1 2.1 0 1 0 4.2 0a2.1 2.1 0 1 0 -4.2 0M123.5 55.0a1.8 1.8 0 1 0 3.7 0a1.8 1.8 0 1 0 -3.7 0M123.8 62.7a2.0 2.0 0 1 0 4.1 0a2.0 2.0 0 1 0 -4.1 0M123.5 69.4a1.9 1.9 0 1 0 3.8 0a1.9 1.9 0 1 0 -3.8 0M124.0 76.8a1.9 1.9 0 1 0 3.7 0a1.9 1.9 0 1 0 -3.7 0M124.0 91.2a1.9 1.9 0 1 0 3.8 0a1.9 1.9 0 1 0 -3.8 0M124.1 98.2a1.9 1.9 0 1 0 3.9 0a1.9 1.9 0 1 0 -3.9 0M123.2 105.5a2.1 2.1 0 1 0 4.2 0a2.1 2.1 0 1 0 -4.2 0M123.9 112.3a1.9 1.9 0 1 0 3.7 0a1.9 1.9 0 1 0 -3.7 0M123.3 119.4a2.1 2.1 0 1 0 4.2 0a2.1 2.1 0 1 0 -4.2 0M123.3 126.2a2.1 2.1 0 1 0 4.2 0a2.1 2.1 0 1 0 -4.2 0M124.0 134.0a2.1 2.1 0 1 0 4.2 0a2.1 2.1 0 1 0 -4.2 0M123.4 140.5a1.9 1.9 0 1 0 3.9 0a1.9 1.9 0 1 0 -3.9 0M123.8 148.5a2.1 2.1 0 1 0 4.3 0a2.1 2.1 0 1 0 -4.3 0M123.4 155.4a1.9 1.9 0 1 0 3.9 0a1.9 1.9 0 1 0 -3.9 0M124.0 169.3a2.0 2.0 0 1 0 4.1 0a2.0 2.0 0 1 0 -4.1 0M123.1 173.2a2.1 2.1 0 1 0 4.1 0a2.1 2.1 0 1 0 -4.1 0M123.9 176.4a2.1 2.1 0 1 0 4.2 0a2.1 2.1 0 1 0 -4.2 0M126.8 1.4a2.0 2.0 0 1 0 4.0 0a2.0 2.0 0 1 0 -4.0 0M126.4 8.9a2.1 2.1 0 1 0 4.1 0a2.1 2.1 0 1 0 -4.1 0M127.2 16.2a1.9 1.9 0 1 0 3.7 0a1.9 1.9 0 1 0 -3.7 0M126.7 23.4a2.0 2.0 0 1 0 4.1 0a2.0 2.0 0 1 0 -4.1 0M126.3 30.5a2.0 2.0 0 1 0 4.1 0a2.0 2.0 0 1 0 -4.1 0M126.3 37.5a2.0 2.0 0 1 0 4.1 0a2.0 2.0 0 1 0 -4.1 0M126.8 44.2a2.1 2.1 0 1 0 4.2 0a2.1 2.1 0 1 0 -4.2 0M126.8 51.4a2.1 2.1 0 1 0 4.3 0a2.1 2.1 0 1 0 -4.3 0M126.8 59.1a2.1 2.1 0 1 0 4.3 0a2.1 2.1 0 1 0 -4.3 0M126.7 66.1a1.9 1.9 0 1 0 3.7 0a1.9 1.9 0 1 0 -3.7 0M126.1 80.1a2.1 2.1 0 1 0 4.3 0a2.1 2.1 0 1 0 -4.3 0M126.2 84.4a2.1 2.1 0 1 0 4.2 0a2.1 2.1 0 1 0 -4.2 0M126.1 87.8a2.1 2.1 0 1 0 4.2 0a2.1 2.1 0 1 0 -4.2 0M126.9 94.3a2.1 2.1 0 1 0 4.3 0a2.1 2.1 0 1 0 -4.3 0M126.6 102.1a2.1 2.1 0 1 0 4.2 0a2.1 2.1 0 1 0 -4.2 0M126.5 108.4a2.1 2.1 0 1 0 4.1 0a2.1 2.1 0 1 0 -4.1 0M126.6 116.2a2.0 2.0 0 1 0 3.9 0a2.0 2.0 0 1 0 -3.9 0M126.9 119.4a2.0 2.0 0 1 0 4.0 0a2.0 2.0 0 1 0 -4.0 0M126.6 123.2a2.1 2.1 0 1 0 4.1 0a2.1 2.1 0 1 0 -4.1 0M126.8 126.4a1.8 1.8 0 1 0 3.7 0a1.8 1.8 0 1 0 -3.7 0M126.2 130.5a2.1 2.1 0 1 0 4.1 0a2.1 2.1 0 1 0 -4.1 0M126.6 137.7a2.1 2.1 0 1 0 4.1 0a2.1 2.1 0 1 0 -4.1 0M126.3 145.0a2.0 2.0 0 1 0 4.0 0a2.0 2.0 0 1 0 -4.0 0M126.9 151.3a2.0 2.0 0 1 0 4.1 0a2.0 2.0 0 1 0 -4.1 0M126.5 159.1a2.1 2.1 0 1 0 4.3 0a2.1 2.1 0 1 0 -4.3 0M127.1 166.1a1.9 1.9 0 1 0 3.7 0a1.9 1.9 0 1 0 -3.7 0M126.7 172.8a1.9 1.9 0 1 0 3.9 0a1.9 1.9 0 1 0 -3.9 0M126.8 180.6a2.1 2.1 0 1 0 4.3 0a2.1 2.1 0 1 0 -4.3 0M129.9 4.9a1.9 1.9 0 1 0 3.8 0a1.9 1.9 0 1 0 -3.8 0M129.7 9.4a1.9 1.9 0 1 0 3.8 0a1.9 1.9 0 1 0 -3.8 0M129.1 12.6a2.0 2.0 0 1 0 4.0 0a2.0 2.0 0 1 0 -4.0 0M129.8 27.0a1.9 1.9 0 1 0 3.8 0a1.9 1.9 0 1 0 -3.8 0M129.2 33.6a2.0 2.0 0 1 0 4.1 0a2.0 2.0 0 1 0 -4.1 0M129.3 37.6a2.0 2.0 0 1 0 3.9 0a2.0 2.0 0 1 0 -3.9 0M129.5 41.1a2.1 2.1 0 1 0 4.3 0a2.1 2.1 0 1 0 -4.3 0M129.4 47.7a2.0 2.0 0 1 0 4.0 0a2.0 2.0 0 1 0 -4.0 0M129.3 55.7a2.0 2.0 0 1 0 3.9 0a2.0 2.0 0 1 0 -3.9 0M129.0 77.0a2.0 2.0 0 1 0 4.0 0a2.0 2.0 0 1 0 -4.0 0M129.6 83.5a2.0 2.0 0 1 0 4.0 0a2.0 2.0 0 1 0 -4.0 0M129.0 90.6a2.0 2.0 0 1 0 3.9 0a2.0 2.0 0 1 0 -3.9 0M129.8 98.4a2.0 2.0 0 1 0 3.9 0a2.0 2.0 0 1 0 -3.9 0M129.5 104.9a2.0 2.0 0 1 0 4.0 0a2.0 2.0 0 1 0 -4.0 0M129.6 112.2a2.1 2.1 0 1 0 4.3 0a2.1 2.1 0 1 0 -4.3 0M129.2 119.9a1.9 1.9 0 1 0 3.8 0a1.9 1.9 0 1 0 -3.8 0M129.4 126.5a1.9 1.9 0 1 0 3.8 0a1.9 1.9 0 1 0 -3.8 0M129.4 133.9a1.9 1.9 0 1 0 3.8 0a1.9 1.9 0 1 0 -3.8 0M129.0 140.8a2.1 2.1 0 1 0 4.1 0a2.1 2.1 0 1 0 -4.1 0M129.1 147.7a2.0 2.0 0 1 0 4.1 0a2.0 2.0 0 1 0 -4.1 0M129.8 155.3a2.0 2.0 0 1 0 4.0 0a2.0 2.0 0 1 0 -4.0 0M129.4 162.5a1.9 1.9 0 1 0 3.8 0a1.9 1.9 0 1 0 -3.8 0M129.2 169.9a2.1 2.1 0 1 0 4.3 0a2.1 2.1 0 1 0 -4.3 0M132.1 1.6a1.8 1.8 0 1 0 3.6 0a1.8 1.8 0 1 0 -3.6 0M132.9 9.3a1.9 1.9 0 1 0 3.7 0a1.9 1.9 0 1 0 -3.7 0M132.9 16.2a1.9 1.9 0 1 0 3.7 0a1.9 1.9 0 1 0 -3.7 0M132.6 30.5a2.1 2.1 0 1 0 4.2 0a2.1 2.1 0 1 0 -4.2 0M131.7 37.9a2.1 2.1 0 1 0 4.2 0a2.1 2.1 0 1 0 -4.2 0M132.7 51.6a2.1 2.1 0 1 0 4.2 0a2.1 2.1 0 1 0 -4.2 0M132.3 58.9a1.8 1.8 0 1 0 3.7 0a1.8 1.8 0 1 0 -3.7 0M132.2 65.7a2.1 2.1 0 1 0 4.3 0a2.1 2.1 0 1 0 -4.3 0M131.9 69.9a2.0 2.0 0 1 0 4.0 0a2.0 2.0 0 1 0 -4.0 0M132.5 73.0a1.8 1.8 0 1 0 3.7 0a1.8 1.8 0 1 0 -3.7 0M132.8 79.8a1.8 1.8 0 1 0 3.6 0a1.8 1.8 0 1 0 -3.6 0M132.0 87.0a2.0 2.0 0 1 0 3.9 0a2.0 2.0 0 1 0 -3.9 0M132.6 94.2a1.9 1.9 0 1 0 3.8 0a1.9 1.9 0 1 0 -3.8 0M132.1 101.8a2.0 2.0 0 1 0 4.1 0a2.0 2.0 0 1 0 -4.1 0M132.4 109.2a1.9 1.9 0 1 0 3.7 0a1.9 1.9 0 1 0 -3.7 0M132.2 115.8a2.0 2.0 0 1 0 4.1 0a2.0 2.0 0 1 0 -4.1 0M131.8 123.3a2.1 2.1 0 1 0 4.2 0a2.1 2.1 0 1 0 -4.2 0M132.3 130.7a1.9 1.9 0 1 0 3.9 0a1.9 1.9 0 1 0 -3.9 0M132.1 137.8a2.1 2.1 0 1 0 4.3 0a2.1 2.1 0 1 0 -4.3 0M132.7 144.1a2.0 2.0 0 1 0 4.1 0a2.0 2.0 0 1 0 -4.1 0M131.9 151.5a2.0 2.0 0 1 0 4.1 0a2.0 2.0 0 1 0 -4.1 0M132.2 159.2a1.9 1.9 0 1 0 3.8 0a1.9 1.9 0 1 0 -3.8 0M132.4 165.7a2.1 2.1 0 1 0 4.2 0a2.1 2.1 0 1 0 -4.2 0M132.3 172.8a2.1 2.1 0 1 0 4.2 0a2.1 2.1 0 1 0 -4.2 0M132.6 180.6a2.1 2.1 0 1 0 4.1 0a2.1 2.1 0 1 0 -4.1 0M135.4 12.4a2.1 2.1 0 1 0 4.3 0a2.1 2.1 0 1 0 -4.3 0M135.4 19.6a1.8 1.8 0 1 0 3.6 0a1.8 1.8 0 1 0 -3.6 0M135.7 27.2a2.0 2.0 0 1 0 3.9 0a2.0 2.0 0 1 0 -3.9 0M135.3 40.7a1.8 1.8 0 1 0 3.7 0a1.8 1.8 0 1 0 -3.7 0M135.0 48.5a1.8 1.8 0 1 0 3.7 0a1.8 1.8 0 1 0 -3.7 0M135.3 55.5a2.0 2.0 0 1 0 4.0 0a2.0 2.0 0 1 0 -4.0 0M135.4 62.4a2.0 2.0 0 1 0 3.9 0a2.0 2.0 0 1 0 -3.9 0M135.6 69.4a2.1 2.1 0 1 0 4.2 0a2.1 2.1 0 1 0 -4.2 0M134.7 76.4a2.1 2.1 0 1 0 4.2 0a2.1 2.1 0 1 0 -4.2 0M135.9 80.3a1.8 1.8 0 1 0 3.7 0a1.8 1.8 0 1 0 -3.7 0M135.2 83.8a1.8 1.8 0 1 0 3.6 0a1.8 1.8 0 1 0 -3.6 0M135.4 90.7a1.9 1.9 0 1 0 3.8 0a1.9 1.9 0 1 0 -3.8 0M135.1 98.3a2.0 2.0 0 1 0 4.0 0a2.0 2.0 0 1 0 -4.0 0M135.3 105.0a1.9 1.9 0 1 0 3.8 0a1.9 1.9 0 1 0 -3.8 0M135.5 112.3a1.9 1.9 0 1 0 3.8 0a1.9 1.9 0 1 0 -3.8 0M134.8 126.5a2.0 2.0 0 1 0 4.0 0a2.0 2.0 0 1 0 -4.0 0M135.4 133.4a2.1 2.1 0 1 0 4.1 0a2.1 2.1 0 1 0 -4.1 0M135.4 140.5a1.9 1.9 0 1 0 3.8 0a1.9 1.9 0 1 0 -3.8 0M135.0 147.8a2.1 2.1 0 1 0 4.2 0a2.1 2.1 0 1 0 -4.2 0M135.1 154.8a2.0 2.0 0 1 0 3.9 0a2.0 2.0 0 1 0 -3.9 0M135.2 162.6a1.8 1.8 0 1 0 3.7 0a1.8 1.8 0 1 0 -3.7 0M135.4 169.6a2.1 2.1 0 1 0 4.2 0a2.1 2.1 0 1 0 -4.2 0M135.6 176.9a2.0 2.0 0 1 0 4.0 0a2.0 2.0 0 1 0 -4.0 0M137.9 2.0a1.9 1.9 0 1 0 3.8 0a1.9 1.9 0 1 0 -3.8 0M138.2 8.9a1.9 1.9 0 1 0 3.9 0a1.9 1.9 0 1 0 -3.9 0M138.7 15.9a1.8 1.8 0 1 0 3.7 0a1.8 1.8 0 1 0 -3.7 0M138.1 23.0a2.0 2.0 0 1 0 4.1 0a2.0 2.0 0 1 0 -4.1 0M137.6 37.4a2.1 2.1 0 1 0 4.2 0a2.1 2.1 0 1 0 -4.2 0M138.4 44.3a2.1 2.1 0 1 0 4.3 0a2.1 2.1 0 1 0 -4.3 0M138.2 51.5a2.1 2.1 0 1 0 4.2 0a2.1 2.1 0 1 0 -4.2 0M138.3 58.8a2.1 2.1 0 1 0 4.2 0a2.1 2.1 0 1 0 -4.2 0M138.1 69.7a2.0 2.0 0 1 0 4.0 0a2.0 2.0 0 1 0 -4.0 0M138.7 73.0a1.8 1.8 0 1 0 3.7 0a1.8 1.8 0 1 0 -3.7 0M138.5 80.2a1.9 1.9 0 1 0 3.8 0a1.9 1.9 0 1 0 -3.8 0M138.4 87.6a1.9 1.9 0 1 0 3.8 0a1.9 1.9 0 1 0 -3.8 0M138.3 94.4a2.1 2.1 0 1 0 4.3 0a2.1 2.1 0 1 0 -4.3 0M138.5 101.7a2.1 2.1 0 1 0 4.3 0a2.1 2.1 0 1 0 -4.3 0M137.9 108.9a2.1 2.1 0 1 0 4.2 0a2.1 2.1 0 1 0 -4.2 0M138.3 115.6a2.1 2.1 0 1 0 4.2 0a2.1 2.1 0 1 0 -4.2 0M138.6 122.9a1.9 1.9 0 1 0 3.7 0a1.9 1.9 0 1 0 -3.7 0M138.6 130.5a1.9 1.9 0 1 0 3.8 0a1.9 1.9 0 1 0 -3.8 0M138.5 137.5a1.8 1.8 0 1 0 3.7 0a1.8 1.8 0 1 0 -3.7 0M138.2 144.1a2.1 2.1 0 1 0 4.1 0a2.1 2.1 0 1 0 -4.1 0M138.3 151.8a1.9 1.9 0 1 0 3.7 0a1.9 1.9 0 1 0 -3.7 0M138.0 154.9a1.9 1.9 0 1 0 3.7 0a1.9 1.9 0 1 0 -3.7 0M138.6 158.3a1.9 1.9 0 1 0 3.7 0a1.9 1.9 0 1 0 -3.7 0M137.6 165.6a2.1 2.1 0 1 0 4.2 0a2.1 2.1 0 1 0 -4.2 0M138.2 173.0a1.9 1.9 0 1 0 3.8 0a1.9 1.9 0 1 0 -3.8 0M138.3 180.7a1.9 1.9 0 1 0 3.7 0a1.9 1.9 0 1 0 -3.7 0M141.3 5.0a2.1 2.1 0 1 0 4.2 0a2.1 2.1 0 1 0 -4.2 0M141.3 12.3a1.9 1.9 0 1 0 3.9 0a1.9 1.9 0 1 0 -3.9 0M141.4 19.4a1.9 1.9 0 1 0 3.9 0a1.9 1.9 0 1 0 -3.9 0M141.0 27.0a2.1 2.1 0 1 0 4.2 0a2.1 2.1 0 1 0 -4.2 0M141.5 30.7a2.0 2.0 0 1 0 4.1 0a2.0 2.0 0 1 0 -4.1 0M141.4 40.6a1.9 1.9 0 1 0 3.8 0a1.9 1.9 0 1 0 -3.8 0M140.5 48.1a2.1 2.1 0 1 0 4.2 0a2.1 2.1 0 1 0 -4.2 0M140.6 55.5a2.1 2.1 0 1 0 4.3 0a2.1 2.1 0 1 0 -4.3 0M140.7 62.9a1.9 1.9 0 1 0 3.7 0a1.9 1.9 0 1 0 -3.7 0M140.6 70.0a2.1 2.1 0 1 0 4.1 0a2.1 2.1 0 1 0 -4.1 0M140.9 84.2a2.0 2.0 0 1 0 3.9 0a2.0 2.0 0 1 0 -3.9 0M140.8 87.0a2.1 2.1 0 1 0 4.2 0a2.1 2.1 0 1 0 -4.2 0M141.1 90.6a1.9 1.9 0 1 0 3.8 0a1.9 1.9 0 1 0 -3.8 0M141.2 94.2a2.1 2.1 0 1 0 4.2 0a2.1 2.1 0 1 0 -4.2 0M141.2 105.0a1.8 1.8 0 1 0 3.6 0a1.8 1.8 0 1 0 -3.6 0M140.9 112.7a1.8 1.8 0 1 0 3.7 0a1.8 1.8 0 1 0 -3.7 0M141.2 120.0a2.1 2.1 0 1 0 4.2 0a2.1 2.1 0 1 0 -4.2 0M141.4 126.6a1.9 1.9 0 1 0 3.8 0a1.9 1.9 0 1 0 -3.8 0M141.4 134.0a2.1 2.1 0 1 0 4.1 0a2.1 2.1 0 1 0 -4.1 0M141.0 141.1a2.0 2.0 0 1 0 4.1 0a2.0 2.0 0 1 0 -4.1 0M141.1 148.3a1.9 1.9 0 1 0 3.7 0a1.9 1.9 0 1 0 -3.7 0M141.0 155.1a2.0 2.0 0 1 0 4.0 0a2.0 2.0 0 1 0 -4.0 0M140.7 162.4a2.1 2.1 0 1 0 4.3 0a2.1 2.1 0 1 0 -4.3 0M140.7 169.9a1.9 1.9 0 1 0 3.7 0a1.9 1.9 0 1 0 -3.7 0M140.9 176.3a1.9 1.9 0 1 0 3.9 0a1.9 1.9 0 1 0 -3.9 0M143.9 2.0a1.9 1.9 0 1 0 3.9 0a1.9 1.9 0 1 0 -3.9 0M143.6 9.2a2.0 2.0 0 1 0 4.0 0a2.0 2.0 0 1 0 -4.0 0M143.8 16.2a1.9 1.9 0 1 0 3.7 0a1.9 1.9 0 1 0 -3.7 0M144.3 23.5a1.9 1.9 0 1 0 3.7 0a1.9 1.9 0 1 0 -3.7 0M144.0 30.7a2.0 2.0 0 1 0 4.0 0a2.0 2.0 0 1 0 -4.0 0M143.8 37.2a2.0 2.0 0 1 0 4.1 0a2.0 2.0 0 1 0 -4.1 0M144.0 45.1a2.0 2.0 0 1 0 4.0 0a2.0 2.0 0 1 0 -4.0 0M144.2 52.0a2.1 2.1 0 1 0 4.1 0a2.1 2.1 0 1 0 -4.1 0M144.6 58.6a1.8 1.8 0 1 0 3.6 0a1.8 1.8 0 1 0 -3.6 0M144.5 66.4a1.8 1.8 0 1 0 3.7 0a1.8 1.8 0 1 0 -3.7 0M143.4 73.4a2.1 2.1 0 1 0 4.2 0a2.1 2.1 0 1 0 -4.2 0M144.5 80.3a1.8 1.8 0 1 0 3.7 0a1.8 1.8 0 1 0 -3.7 0M144.2 87.3a1.9 1.9 0 1 0 3.8 0a1.9 1.9 0 1 0 -3.8 0M143.5 94.5a2.1 2.1 0 1 0 4.2 0a2.1 2.1 0 1 0 -4.2 0M143.7 102.1a2.0 2.0 0 1 0 4.0 0a2.0 2.0 0 1 0 -4.0 0M143.8 116.4a1.9 1.9 0 1 0 3.8 0a1.9 1.9 0 1 0 -3.8 0M144.0 123.0a1.9 1.9 0 1 0 3.7 0a1.9 1.9 0 1 0 -3.7 0M143.7 130.6a1.9 1.9 0 1 0 3.8 0a1.9 1.9 0 1 0 -3.8 0M143.8 137.3a2.1 2.1 0 1 0 4.2 0a2.1 2.1 0 1 0 -4.2 0M143.5 152.2a2.0 2.0 0 1 0 4.0 0a2.0 2.0 0 1 0 -4.0 0M143.8 158.6a1.9 1.9 0 1 0 3.8 0a1.9 1.9 0 1 0 -3.8 0M143.9 165.6a1.9 1.9 0 1 0 3.7 0a1.9 1.9 0 1 0 -3.7 0M144.0 173.0a1.9 1.9 0 1 0 3.8 0a1.9 1.9 0 1 0 -3.8 0M143.7 180.1a1.8 1.8 0 1 0 3.7 0a1.8 1.8 0 1 0 -3.7 0M146.8 5.7a1.9 1.9 0 1 0 3.9 0a1.9 1.9 0 1 0 -3.9 0M146.9 12.8a2.1 2.1 0 1 0 4.2 0a2.1 2.1 0 1 0 -4.2 0M146.8 19.4a1.9 1.9 0 1 0 3.7 0a1.9 1.9 0 1 0 -3.7 0M146.6 26.4a2.0 2.0 0 1 0 4.0 0a2.0 2.0 0 1 0 -4.0 0M146.4 33.6a2.0 2.0 0 1 0 4.1 0a2.0 2.0 0 1 0 -4.1 0M147.3 40.7a1.9 1.9 0 1 0 3.9 0a1.9 1.9 0 1 0 -3.9 0M147.3 47.9a1.8 1.8 0 1 0 3.7 0a1.8 1.8 0 1 0 -3.7 0M147.2 55.7a2.0 2.0 0 1 0 4.0 0a2.0 2.0 0 1 0 -4.0 0M147.1 62.4a2.0 2.0 0 1 0 4.0 0a2.0 2.0 0 1 0 -4.0 0M146.7 69.4a1.9 1.9 0 1 0 3.8 0a1.9 1.9 0 1 0 -3.8 0M147.2 76.5a1.8 1.8 0 1 0 3.7 0a1.8 1.8 0 1 0 -3.7 0M146.3 83.5a2.1 2.1 0 1 0 4.1 0a2.1 2.1 0 1 0 -4.1 0M147.0 91.3a2.1 2.1 0 1 0 4.3 0a2.1 2.1 0 1 0 -4.3 0M147.2 98.2a2.0 2.0 0 1 0 4.1 0a2.0 2.0 0 1 0 -4.1 0M146.7 111.9a2.1 2.1 0 1 0 4.2 0a2.1 2.1 0 1 0 -4.2 0M146.5 119.5a2.0 2.0 0 1 0 3.9 0a2.0 2.0 0 1 0 -3.9 0M146.7 127.1a1.9 1.9 0 1 0 3.9 0a1.9 1.9 0 1 0 -3.9 0M146.6 133.6a2.0 2.0 0 1 0 4.1 0a2.0 2.0 0 1 0 -4.1 0M146.9 137.7a1.9 1.9 0 1 0 3.8 0a1.9 1.9 0 1 0 -3.8 0M147.0 141.0a1.9 1.9 0 1 0 3.9 0a1.9 1.9 0 1 0 -3.9 0M146.9 148.4a1.8 1.8 0 1 0 3.7 0a1.8 1.8 0 1 0 -3.7 0M147.1 154.8a2.1 2.1 0 1 0 4.3 0a2.1 2.1 0 1 0 -4.3 0M147.4 162.5a1.8 1.8 0 1 0 3.7 0a1.8 1.8 0 1 0 -3.7 0M146.9 169.1a1.8 1.8 0 1 0 3.6 0a1.8 1.8 0 1 0 -3.6 0M146.4 173.1a2.0 2.0 0 1 0 3.9 0a2.0 2.0 0 1 0 -3.9 0M147.2 176.9a1.9 1.9 0 1 0 3.8 0a1.9 1.9 0 1 0 -3.8 0M150.3 1.4a1.8 1.8 0 1 0 3.7 0a1.8 1.8 0 1 0 -3.7 0M149.7 9.0a2.0 2.0 0 1 0 4.1 0a2.0 2.0 0 1 0 -4.1 0M149.5 12.4a2.1 2.1 0 1 0 4.3 0a2.1 2.1 0 1 0 -4.3 0M149.7 16.1a1.9 1.9 0 1 0 3.7 0a1.9 1.9 0 1 0 -3.7 0M149.7 23.3a1.8 1.8 0 1 0 3.6 0a1.8 1.8 0 1 0 -3.6 0M149.4 30.5a1.9 1.9 0 1 0 3.9 0a1.9 1.9 0 1 0 -3.9 0M150.0 37.4a2.1 2.1 0 1 0 4.2 0a2.1 2.1 0 1 0 -4.2 0M150.2 44.6a1.9 1.9 0 1 0 3.9 0a1.9 1.9 0 1 0 -3.9 0M149.8 52.0a2.0 2.0 0 1 0 4.0 0a2.0 2.0 0 1 0 -4.0 0M149.6 58.9a1.9 1.9 0 1 0 3.9 0a1.9 1.9 0 1 0 -3.9 0M149.8 65.6a1.9 1.9 0 1 0 3.7 0a1.9 1.9 0 1 0 -3.7 0M150.1 72.7a1.9 1.9 0 1 0 3.8 0a1.9 1.9 0 1 0 -3.8 0M149.9 80.7a2.1 2.1 0 1 0 4.3 0a2.1 2.1 0 1 0 -4.3 0M149.7 87.7a2.0 2.0 0 1 0 3.9 0a2.0 2.0 0 1 0 -3.9 0M149.9 94.6a2.0 2.0 0 1 0 3.9 0a2.0 2.0 0 1 0 -3.9 0M149.9 101.6a1.9 1.9 0 1 0 3.7 0a1.9 1.9 0 1 0 -3.7 0M149.8 108.8a1.9 1.9 0 1 0 3.8 0a1.9 1.9 0 1 0 -3.8 0M149.0 115.5a2.1 2.1 0 1 0 4.3 0a2.1 2.1 0 1 0 -4.3 0M149.6 123.3a2.1 2.1 0 1 0 4.3 0a2.1 2.1 0 1 0 -4.3 0M150.0 130.0a2.0 2.0 0 1 0 3.9 0a2.0 2.0 0 1 0 -3.9 0M150.1 137.9a2.0 2.0 0 1 0 4.0 0a2.0 2.0 0 1 0 -4.0 0M149.6 159.1a2.1 2.1 0 1 0 4.2 0a2.1 2.1 0 1 0 -4.2 0M149.4 169.4a1.8 1.8 0 1 0 3.7 0a1.8 1.8 0 1 0 -3.7 0M149.8 172.9a2.1 2.1 0 1 0 4.2 0a2.1 2.1 0 1 0 -4.2 0M150.3 180.6a1.8 1.8 0 1 0 3.6 0a1.8 1.8 0 1 0 -3.6 0M152.7 19.5a2.0 2.0 0 1 0 3.9 0a2.0 2.0 0 1 0 -3.9 0M152.8 26.7a2.0 2.0 0 1 0 4.0 0a2.0 2.0 0 1 0 -4.0 0M153.0 33.6a1.9 1.9 0 1 0 3.7 0a1.9 1.9 0 1 0 -3.7 0M152.1 41.1a2.1 2.1 0 1 0 4.3 0a2.1 2.1 0 1 0 -4.3 0M153.0 48.0a2.0 2.0 0 1 0 4.0 0a2.0 2.0 0 1 0 -4.0 0M152.6 55.4a1.8 1.8 0 1 0 3.6 0a1.8 1.8 0 1 0 -3.6 0M152.8 62.0a2.1 2.1 0 1 0 4.2 0a2.1 2.1 0 1 0 -4.2 0M152.8 66.4a1.9 1.9 0 1 0 3.7 0a1.9 1.9 0 1 0 -3.7 0M152.4 69.2a2.1 2.1 0 1 0 4.2 0a2.1 2.1 0 1 0 -4.2 0M152.9 76.6a2.0 2.0 0 1 0 4.0 0a2.0 2.0 0 1 0 -4.0 0M152.5 83.7a1.9 1.9 0 1 0 3.8 0a1.9 1.9 0 1 0 -3.8 0M152.2 91.3a2.1 2.1 0 1 0 4.2 0a2.1 2.1 0 1 0 -4.2 0M152.5 98.3a2.1 2.1 0 1 0 4.1 0a2.1 2.1 0 1 0 -4.1 0M152.8 105.0a1.9 1.9 0 1 0 3.7 0a1.9 1.9 0 1 0 -3.7 0M152.8 112.1a2.0 2.0 0 1 0 3.9 0a2.0 2.0 0 1 0 -3.9 0M152.8 119.3a2.1 2.1 0 1 0 4.2 0a2.1 2.1 0 1 0 -4.2 0M153.2 127.0a1.8 1.8 0 1 0 3.6 0a1.8 1.8 0 1 0 -3.6 0M152.1 133.7a2.1 2.1 0 1 0 4.2 0a2.1 2.1 0 1 0 -4.2 0M152.6 140.7a1.8 1.8 0 1 0 3.6 0a1.8 1.8 0 1 0 -3.6 0M152.5 148.0a2.1 2.1 0 1 0 4.2 0a2.1 2.1 0 1 0 -4.2 0M152.3 152.0a2.0 2.0 0 1 0 4.1 0a2.0 2.0 0 1 0 -4.1 0M152.8 154.8a1.9 1.9 0 1 0 3.8 0a1.9 1.9 0 1 0 -3.8 0M152.6 158.6a1.9 1.9 0 1 0 3.8 0a1.9 1.9 0 1 0 -3.8 0M152.9 162.5a1.9 1.9 0 1 0 3.8 0a1.9 1.9 0 1 0 -3.8 0M152.5 169.9a2.0 2.0 0 1 0 3.9 0a2.0 2.0 0 1 0 -3.9 0M152.4 176.9a1.9 1.9 0 1 0 3.7 0a1.9 1.9 0 1 0 -3.7 0M155.7 1.7a1.8 1.8 0 1 0 3.7 0a1.8 1.8 0 1 0 -3.7 0M155.8 9.2a1.9 1.9 0 1 0 3.7 0a1.9 1.9 0 1 0 -3.7 0M155.3 16.1a1.9 1.9 0 1 0 3.9 0a1.9 1.9 0 1 0 -3.9 0M155.4 23.1a2.1 2.1 0 1 0 4.2 0a2.1 2.1 0 1 0 -4.2 0M155.1 30.6a2.0 2.0 0 1 0 4.1 0a2.0 2.0 0 1 0 -4.1 0M155.4 44.3a1.9 1.9 0 1 0 3.7 0a1.9 1.9 0 1 0 -3.7 0M155.7 51.4a2.0 2.0 0 1 0 3.9 0a2.0 2.0 0 1 0 -3.9 0M156.0 58.4a1.8 1.8 0 1 0 3.6 0a1.8 1.8 0 1 0 -3.6 0M156.0 66.1a1.9 1.9 0 1 0 3.7 0a1.9 1.9 0 1 0 -3.7 0M155.8 69.6a1.9 1.9 0 1 0 3.8 0a1.9 1.9 0 1 0 -3.8 0M155.6 73.2a2.0 2.0 0 1 0 4.0 0a2.0 2.0 0 1 0 -4.0 0M155.2 76.8a2.0 2.0 0 1 0 4.0 0a2.0 2.0 0 1 0 -4.0 0M155.9 80.6a2.0 2.0 0 1 0 4.0 0a2.0 2.0 0 1 0 -4.0 0M155.6 87.4a1.9 1.9 0 1 0 3.8 0a1.9 1.9 0 1 0 -3.8 0M155.1 94.8a1.8 1.8 0 1 0 3.7 0a1.8 1.8 0 1 0 -3.7 0M155.4 101.6a1.8 1.8 0 1 0 3.7 0a1.8 1.8 0 1 0 -3.7 0M156.0 108.5a1.8 1.8 0 1 0 3.7 0a1.8 1.8 0 1 0 -3.7 0M156.0 115.9a1.9 1.9 0 1 0 3.8 0a1.9 1.9 0 1 0 -3.8 0M154.9 123.6a2.1 2.1 0 1 0 4.3 0a2.1 2.1 0 1 0 -4.3 0M155.1 130.5a2.0 2.0 0 1 0 3.9 0a2.0 2.0 0 1 0 -3.9 0M155.2 137.6a1.9 1.9 0 1 0 3.9 0a1.9 1.9 0 1 0 -3.9 0M155.2 144.9a1.9 1.9 0 1 0 3.8 0a1.9 1.9 0 1 0 -3.8 0M155.5 158.7a1.8 1.8 0 1 0 3.7 0a1.8 1.8 0 1 0 -3.7 0M155.2 172.9a1.9 1.9 0 1 0 3.9 0a1.9 1.9 0 1 0 -3.9 0M155.0 179.8a2.0 2.0 0 1 0 4.1 0a2.0 2.0 0 1 0 -4.1 0M158.5 5.2a2.0 2.0 0 1 0 4.1 0a2.0 2.0 0 1 0 -4.1 0M158.1 12.9a1.8 1.8 0 1 0 3.7 0a1.8 1.8 0 1 0 -3.7 0M158.0 19.9a1.9 1.9 0 1 0 3.7 0a1.9 1.9 0 1 0 -3.7 0M158.1 22.9a1.9 1.9 0 1 0 3.8 0a1.9 1.9 0 1 0 -3.8 0M158.5 34.0a2.0 2.0 0 1 0 3.9 0a2.0 2.0 0 1 0 -3.9 0M158.7 48.6a2.0 2.0 0 1 0 4.1 0a2.0 2.0 0 1 0 -4.1 0M158.2 55.2a1.9 1.9 0 1 0 3.9 0a1.9 1.9 0 1 0 -3.9 0M158.7 62.2a2.1 2.1 0 1 0 4.3 0a2.1 2.1 0 1 0 -4.3 0M158.0 69.4a2.1 2.1 0 1 0 4.2 0a2.1 2.1 0 1 0 -4.2 0M157.8 76.8a2.1 2.1 0 1 0 4.2 0a2.1 2.1 0 1 0 -4.2 0M158.8 79.8a2.1 2.1 0 1 0 4.1 0a2.1 2.1 0 1 0 -4.1 0M158.7 84.4a2.1 2.1 0 1 0 4.1 0a2.1 2.1 0 1 0 -4.1 0M158.3 90.7a1.9 1.9 0 1 0 3.7 0a1.9 1.9 0 1 0 -3.7 0M158.1 98.1a2.0 2.0 0 1 0 4.0 0a2.0 2.0 0 1 0 -4.0 0M157.8 105.5a2.1 2.1 0 1 0 4.3 0a2.1 2.1 0 1 0 -4.3 0M158.9 112.1a1.8 1.8 0 1 0 3.7 0a1.8 1.8 0 1 0 -3.7 0M157.9 119.5a2.0 2.0 0 1 0 3.9 0a2.0 2.0 0 1 0 -3.9 0M158.5 133.9a2.1 2.1 0 1 0 4.3 0a2.1 2.1 0 1 0 -4.3 0M158.4 140.5a2.0 2.0 0 1 0 4.1 0a2.0 2.0 0 1 0 -4.1 0M158.8 147.9a1.9 1.9 0 1 0 3.7 0a1.9 1.9 0 1 0 -3.7 0M158.2 155.0a2.1 2.1 0 1 0 4.2 0a2.1 2.1 0 1 0 -4.2 0M158.5 162.2a2.0 2.0 0 1 0 4.0 0a2.0 2.0 0 1 0 -4.0 0M158.7 176.5a2.1 2.1 0 1 0 4.2 0a2.1 2.1 0 1 0 -4.2 0M160.7 5.8a2.1 2.1 0 1 0 4.1 0a2.1 2.1 0 1 0 -4.1 0M161.4 9.2a1.9 1.9 0 1 0 3.9 0a1.9 1.9 0 1 0 -3.9 0M161.5 16.5a2.1 2.1 0 1 0 4.2 0a2.1 2.1 0 1 0 -4.2 0M161.0 23.6a1.9 1.9 0 1 0 3.8 0a1.9 1.9 0 1 0 -3.8 0M160.7 30.6a2.1 2.1 0 1 0 4.2 0a2.1 2.1 0 1 0 -4.2 0M160.8 37.0a2.1 2.1 0 1 0 4.1 0a2.1 2.1 0 1 0 -4.1 0M161.4 44.6a1.8 1.8 0 1 0 3.6 0a1.8 1.8 0 1 0 -3.6 0M160.9 51.3a2.0 2.0 0 1 0 4.0 0a2.0 2.0 0 1 0 -4.0 0M161.7 72.7a2.0 2.0 0 1 0 4.0 0a2.0 2.0 0 1 0 -4.0 0M161.3 79.9a1.9 1.9 0 1 0 3.8 0a1.9 1.9 0 1 0 -3.8 0M161.3 87.3a2.0 2.0 0 1 0 3.9 0a2.0 2.0 0 1 0 -3.9 0M160.9 101.4a2.1 2.1 0 1 0 4.3 0a2.1 2.1 0 1 0 -4.3 0M161.1 112.2a2.1 2.1 0 1 0 4.2 0a2.1 2.1 0 1 0 -4.2 0M161.4 115.9a2.0 2.0 0 1 0 4.0 0a2.0 2.0 0 1 0 -4.0 0M161.7 126.3a2.0 2.0 0 1 0 4.0 0a2.0 2.0 0 1 0 -4.0 0M161.4 130.1a2.0 2.0 0 1 0 4.0 0a2.0 2.0 0 1 0 -4.0 0M161.6 137.4a1.9 1.9 0 1 0 3.7 0a1.9 1.9 0 1 0 -3.7 0M161.2 140.6a2.1 2.1 0 1 0 4.2 0a2.1 2.1 0 1 0 -4.2 0M161.2 144.4a2.1 2.1 0 1 0 4.3 0a2.1 2.1 0 1 0 -4.3 0M160.7 152.0a2.1 2.1 0 1 0 4.2 0a2.1 2.1 0 1 0 -4.2 0M161.1 159.2a1.9 1.9 0 1 0 3.8 0a1.9 1.9 0 1 0 -3.8 0M161.4 166.2a2.1 2.1 0 1 0 4.2 0a2.1 2.1 0 1 0 -4.2 0M160.9 172.8a1.9 1.9 0 1 0 3.7 0a1.9 1.9 0 1 0 -3.7 0M161.3 180.0a2.0 2.0 0 1 0 3.9 0a2.0 2.0 0 1 0 -3.9 0M164.2 5.5a1.8 1.8 0 1 0 3.6 0a1.8 1.8 0 1 0 -3.6 0M164.1 12.8a2.1 2.1 0 1 0 4.1 0a2.1 2.1 0 1 0 -4.1 0M164.6 15.7a2.0 2.0 0 1 0 3.9 0a2.0 2.0 0 1 0 -3.9 0M163.8 20.0a2.1 2.1 0 1 0 4.3 0a2.1 2.1 0 1 0 -4.3 0M164.1 27.1a2.0 2.0 0 1 0 4.0 0a2.0 2.0 0 1 0 -4.0 0M164.1 29.9a2.0 2.0 0 1 0 4.0 0a2.0 2.0 0 1 0 -4.0 0M163.6 33.7a2.1 2.1 0 1 0 4.1 0a2.1 2.1 0 1 0 -4.1 0M163.7 41.4a2.1 2.1 0 1 0 4.3 0a2.1 2.1 0 1 0 -4.3 0M164.2 47.9a2.0 2.0 0 1 0 4.1 0a2.0 2.0 0 1 0 -4.1 0M163.5 55.2a2.1 2.1 0 1 0 4.3 0a2.1 2.1 0 1 0 -4.3 0M164.0 62.9a2.0 2.0 0 1 0 4.0 0a2.0 2.0 0 1 0 -4.0 0M163.8 70.1a1.8 1.8 0 1 0 3.7 0a1.8 1.8 0 1 0 -3.7 0M163.8 73.6a2.0 2.0 0 1 0 3.9 0a2.0 2.0 0 1 0 -3.9 0M164.2 77.2a2.0 2.0 0 1 0 4.0 0a2.0 2.0 0 1 0 -4.0 0M164.2 84.0a2.0 2.0 0 1 0 4.1 0a2.0 2.0 0 1 0 -4.1 0M164.2 90.8a2.1 2.1 0 1 0 4.2 0a2.1 2.1 0 1 0 -4.2 0M164.2 98.1a2.0 2.0 0 1 0 4.0 0a2.0 2.0 0 1 0 -4.0 0M163.6 105.6a2.1 2.1 0 1 0 4.1 0a2.1 2.1 0 1 0 -4.1 0M163.8 112.3a2.0 2.0 0 1 0 3.9 0a2.0 2.0 0 1 0 -3.9 0M164.3 120.0a2.0 2.0 0 1 0 4.0 0a2.0 2.0 0 1 0 -4.0 0M164.1 127.0a1.8 1.8 0 1 0 3.6 0a1.8 1.8 0 1 0 -3.6 0M164.4 133.4a2.0 2.0 0 1 0 4.1 0a2.0 2.0 0 1 0 -4.1 0M164.2 140.7a2.1 2.1 0 1 0 4.3 0a2.1 2.1 0 1 0 -4.3 0M163.7 147.6a2.0 2.0 0 1 0 4.0 0a2.0 2.0 0 1 0 -4.0 0M164.3 155.2a2.1 2.1 0 1 0 4.2 0a2.1 2.1 0 1 0 -4.2 0M163.8 162.5a2.1 2.1 0 1 0 4.1 0a2.1 2.1 0 1 0 -4.1 0M164.0 169.6a2.0 2.0 0 1 0 3.9 0a2.0 2.0 0 1 0 -3.9 0M164.6 176.8a1.9 1.9 0 1 0 3.8 0a1.9 1.9 0 1 0 -3.8 0M163.8 179.9a2.1 2.1 0 1 0 4.2 0a2.1 2.1 0 1 0 -4.2 0M167.5 1.9a1.9 1.9 0 1 0 3.9 0a1.9 1.9 0 1 0 -3.9 0M167.4 9.3a2.1 2.1 0 1 0 4.2 0a2.1 2.1 0 1 0 -4.2 0M167.4 16.2a2.0 2.0 0 1 0 4.1 0a2.0 2.0 0 1 0 -4.1 0M167.0 23.2a2.1 2.1 0 1 0 4.2 0a2.1 2.1 0 1 0 -4.2 0M167.1 30.7a2.1 2.1 0 1 0 4.2 0a2.1 2.1 0 1 0 -4.2 0M166.8 37.6a1.9 1.9 0 1 0 3.7 0a1.9 1.9 0 1 0 -3.7 0M167.4 44.5a2.0 2.0 0 1 0 4.0 0a2.0 2.0 0 1 0 -4.0 0M166.7 51.9a1.9 1.9 0 1 0 3.7 0a1.9 1.9 0 1 0 -3.7 0M167.2 62.6a2.1 2.1 0 1 0 4.3 0a2.1 2.1 0 1 0 -4.3 0M167.4 73.1a2.0 2.0 0 1 0 4.1 0a2.0 2.0 0 1 0 -4.1 0M167.3 80.5a2.0 2.0 0 1 0 4.1 0a2.0 2.0 0 1 0 -4.1 0M167.2 84.3a2.0 2.0 0 1 0 3.9 0a2.0 2.0 0 1 0 -3.9 0M167.6 87.1a1.8 1.8 0 1 0 3.6 0a1.8 1.8 0 1 0 -3.6 0M167.4 94.8a2.1 2.1 0 1 0 4.2 0a2.1 2.1 0 1 0 -4.2 0M166.5 101.6a2.1 2.1 0 1 0 4.3 0a2.1 2.1 0 1 0 -4.3 0M167.0 108.5a1.8 1.8 0 1 0 3.7 0a1.8 1.8 0 1 0 -3.7 0M167.2 115.8a2.1 2.1 0 1 0 4.2 0a2.1 2.1 0 1 0 -4.2 0M167.2 123.0a2.0 2.0 0 1 0 4.0 0a2.0 2.0 0 1 0 -4.0 0M167.2 130.2a1.9 1.9 0 1 0 3.8 0a1.9 1.9 0 1 0 -3.8 0M167.6 136.9a1.9 1.9 0 1 0 3.8 0a1.9 1.9 0 1 0 -3.8 0M167.1 144.7a2.1 2.1 0 1 0 4.2 0a2.1 2.1 0 1 0 -4.2 0M166.6 151.7a2.1 2.1 0 1 0 4.2 0a2.1 2.1 0 1 0 -4.2 0M166.7 154.9a2.0 2.0 0 1 0 4.0 0a2.0 2.0 0 1 0 -4.0 0M167.1 159.0a2.0 2.0 0 1 0 4.0 0a2.0 2.0 0 1 0 -4.0 0M166.8 165.8a1.9 1.9 0 1 0 3.7 0a1.9 1.9 0 1 0 -3.7 0M166.8 172.8a1.8 1.8 0 1 0 3.7 0a1.8 1.8 0 1 0 -3.7 0M169.7 1.9a1.9 1.9 0 1 0 3.8 0a1.9 1.9 0 1 0 -3.8 0M169.5 12.1a2.1 2.1 0 1 0 4.2 0a2.1 2.1 0 1 0 -4.2 0M170.2 20.1a2.0 2.0 0 1 0 4.0 0a2.0 2.0 0 1 0 -4.0 0M169.5 26.3a1.9 1.9 0 1 0 3.8 0a1.9 1.9 0 1 0 -3.8 0M169.7 33.6a1.8 1.8 0 1 0 3.6 0a1.8 1.8 0 1 0 -3.6 0M169.6 37.5a2.0 2.0 0 1 0 3.9 0a2.0 2.0 0 1 0 -3.9 0M169.6 41.3a1.9 1.9 0 1 0 3.9 0a1.9 1.9 0 1 0 -3.9 0M169.7 44.8a1.9 1.9 0 1 0 3.9 0a1.9 1.9 0 1 0 -3.9 0M170.1 48.3a1.8 1.8 0 1 0 3.7 0a1.8 1.8 0 1 0 -3.7 0M170.0 52.0a2.1 2.1 0 1 0 4.2 0a2.1 2.1 0 1 0 -4.2 0M170.1 55.4a1.8 1.8 0 1 0 3.7 0a1.8 1.8 0 1 0 -3.7 0M169.7 62.0a2.0 2.0 0 1 0 4.0 0a2.0 2.0 0 1 0 -4.0 0M170.0 70.1a2.1 2.1 0 1 0 4.1 0a2.1 2.1 0 1 0 -4.1 0M170.2 76.5a2.0 2.0 0 1 0 3.9 0a2.0 2.0 0 1 0 -3.9 0M169.8 84.3a1.9 1.9 0 1 0 3.8 0a1.9 1.9 0 1 0 -3.8 0M169.6 91.1a1.9 1.9 0 1 0 3.7 0a1.9 1.9 0 1 0 -3.7 0M170.3 98.4a1.8 1.8 0 1 0 3.7 0a1.8 1.8 0 1 0 -3.7 0M170.2 105.5a1.9 1.9 0 1 0 3.8 0a1.9 1.9 0 1 0 -3.8 0M169.6 112.7a2.0 2.0 0 1 0 4.0 0a2.0 2.0 0 1 0 -4.0 0M169.7 127.1a1.9 1.9 0 1 0 3.7 0a1.9 1.9 0 1 0 -3.7 0M169.5 133.4a1.9 1.9 0 1 0 3.9 0a1.9 1.9 0 1 0 -3.9 0M169.6 148.1a1.8 1.8 0 1 0 3.7 0a1.8 1.8 0 1 0 -3.7 0M169.9 154.8a1.8 1.8 0 1 0 3.6 0a1.8 1.8 0 1 0 -3.6 0M170.1 162.7a1.9 1.9 0 1 0 3.9 0a1.9 1.9 0 1 0 -3.9 0M170.4 169.5a1.9 1.9 0 1 0 3.7 0a1.9 1.9 0 1 0 -3.7 0M169.4 176.2a2.0 2.0 0 1 0 4.1 0a2.0 2.0 0 1 0 -4.1 0M172.5 1.9a2.1 2.1 0 1 0 4.1 0a2.1 2.1 0 1 0 -4.1 0M173.0 9.3a2.1 2.1 0 1 0 4.3 0a2.1 2.1 0 1 0 -4.3 0M173.4 16.0a1.8 1.8 0 1 0 3.7 0a1.8 1.8 0 1 0 -3.7 0M172.6 19.2a2.0 2.0 0 1 0 4.0 0a2.0 2.0 0 1 0 -4.0 0M172.5 23.6a2.1 2.1 0 1 0 4.2 0a2.1 2.1 0 1 0 -4.2 0M173.2 26.8a1.9 1.9 0 1 0 3.8 0a1.9 1.9 0 1 0 -3.8 0M172.9 30.2a1.9 1.9 0 1 0 3.8 0a1.9 1.9 0 1 0 -3.8 0M172.6 37.2a2.1 2.1 0 1 0 4.1 0a2.1 2.1 0 1 0 -4.1 0M172.7 44.2a2.1 2.1 0 1 0 4.3 0a2.1 2.1 0 1 0 -4.3 0M172.9 51.8a2.1 2.1 0 1 0 4.1 0a2.1 2.1 0 1 0 -4.1 0M173.0 58.4a2.1 2.1 0 1 0 4.2 0a2.1 2.1 0 1 0 -4.2 0M173.1 65.9a1.9 1.9 0 1 0 3.9 0a1.9 1.9 0 1 0 -3.9 0M173.0 70.0a2.0 2.0 0 1 0 4.0 0a2.0 2.0 0 1 0 -4.0 0M172.9 73.0a1.9 1.9 0 1 0 3.8 0a1.9 1.9 0 1 0 -3.8 0M172.5 80.0a2.0 2.0 0 1 0 4.1 0a2.0 2.0 0 1 0 -4.1 0M172.2 87.6a2.1 2.1 0 1 0 4.1 0a2.1 2.1 0 1 0 -4.1 0M172.7 102.2a2.1 2.1 0 1 0 4.2 0a2.1 2.1 0 1 0 -4.2 0M173.1 108.8a1.9 1.9 0 1 0 3.7 0a1.9 1.9 0 1 0 -3.7 0M173.1 112.3a2.1 2.1 0 1 0 4.2 0a2.1 2.1 0 1 0 -4.2 0M172.6 116.4a1.8 1.8 0 1 0 3.6 0a1.8 1.8 0 1 0 -3.6 0M172.5 123.5a2.0 2.0 0 1 0 4.1 0a2.0 2.0 0 1 0 -4.1 0M172.7 130.4a1.9 1.9 0 1 0 3.7 0a1.9 1.9 0 1 0 -3.7 0M172.8 133.7a2.1 2.1 0 1 0 4.1 0a2.1 2.1 0 1 0 -4.1 0M173.3 137.0a1.9 1.9 0 1 0 3.9 0a1.9 1.9 0 1 0 -3.9 0M172.6 144.8a1.9 1.9 0 1 0 3.7 0a1.9 1.9 0 1 0 -3.7 0M172.2 151.2a2.1 2.1 0 1 0 4.3 0a2.1 2.1 0 1 0 -4.3 0M172.8 155.0a1.9 1.9 0 1 0 3.8 0a1.9 1.9 0 1 0 -3.8 0M172.7 159.1a1.8 1.8 0 1 0 3.6 0a1.8 1.8 0 1 0 -3.6 0M172.8 166.3a2.0 2.0 0 1 0 3.9 0a2.0 2.0 0 1 0 -3.9 0M172.6 173.0a2.0 2.0 0 1 0 4.0 0a2.0 2.0 0 1 0 -4.0 0M175.3 5.5a1.9 1.9 0 1 0 3.7 0a1.9 1.9 0 1 0 -3.7 0M175.4 12.2a1.9 1.9 0 1 0 3.9 0a1.9 1.9 0 1 0 -3.9 0M176.2 19.4a1.9 1.9 0 1 0 3.7 0a1.9 1.9 0 1 0 -3.7 0M175.3 34.3a2.0 2.0 0 1 0 4.0 0a2.0 2.0 0 1 0 -4.0 0M175.7 40.8a1.9 1.9 0 1 0 3.8 0a1.9 1.9 0 1 0 -3.8 0M175.8 48.0a2.1 2.1 0 1 0 4.2 0a2.1 2.1 0 1 0 -4.2 0M175.6 55.0a1.8 1.8 0 1 0 3.6 0a1.8 1.8 0 1 0 -3.6 0M176.1 62.0a1.9 1.9 0 1 0 3.7 0a1.9 1.9 0 1 0 -3.7 0M175.6 69.6a1.8 1.8 0 1 0 3.6 0a1.8 1.8 0 1 0 -3.6 0M175.5 76.5a1.9 1.9 0 1 0 3.7 0a1.9 1.9 0 1 0 -3.7 0M176.0 83.6a2.0 2.0 0 1 0 4.0 0a2.0 2.0 0 1 0 -4.0 0M175.5 98.3a1.9 1.9 0 1 0 3.8 0a1.9 1.9 0 1 0 -3.8 0M175.7 104.9a2.1 2.1 0 1 0 4.2 0a2.1 2.1 0 1 0 -4.2 0M175.5 112.2a2.1 2.1 0 1 0 4.2 0a2.1 2.1 0 1 0 -4.2 0M175.9 119.5a2.1 2.1 0 1 0 4.2 0a2.1 2.1 0 1 0 -4.2 0M176.1 126.8a1.9 1.9 0 1 0 3.9 0a1.9 1.9 0 1 0 -3.9 0M175.8 134.1a2.1 2.1 0 1 0 4.2 0a2.1 2.1 0 1 0 -4.2 0M175.6 140.5a2.1 2.1 0 1 0 4.2 0a2.1 2.1 0 1 0 -4.2 0M175.9 148.1a2.1 2.1 0 1 0 4.1 0a2.1 2.1 0 1 0 -4.1 0M175.8 155.1a2.0 2.0 0 1 0 3.9 0a2.0 2.0 0 1 0 -3.9 0M175.8 162.5a1.8 1.8 0 1 0 3.7 0a1.8 1.8 0 1 0 -3.7 0M176.1 170.0a1.9 1.9 0 1 0 3.8 0a1.9 1.9 0 1 0 -3.8 0M175.1 176.5a2.1 2.1 0 1 0 4.3 0a2.1 2.1 0 1 0 -4.3 0M178.6 1.4a1.9 1.9 0 1 0 3.8 0a1.9 1.9 0 1 0 -3.8 0M178.0 8.6a2.1 2.1 0 1 0 4.2 0a2.1 2.1 0 1 0 -4.2 0M178.2 16.1a2.1 2.1 0 1 0 4.1 0a2.1 2.1 0 1 0 -4.1 0M178.3 23.0a2.0 2.0 0 1 0 4.0 0a2.0 2.0 0 1 0 -4.0 0M178.7 30.7a1.9 1.9 0 1 0 3.8 0a1.9 1.9 0 1 0 -3.8 0M178.3 37.2a2.1 2.1 0 1 0 4.1 0a2.1 2.1 0 1 0 -4.1 0M178.3 44.3a1.8 1.8 0 1 0 3.6 0a1.8 1.8 0 1 0 -3.6 0M179.0 51.6a2.0 2.0 0 1 0 4.0 0a2.0 2.0 0 1 0 -4.0 0M179.1 59.4a1.8 1.8 0 1 0 3.6 0a1.8 1.8 0 1 0 -3.6 0M178.6 62.0a2.1 2.1 0 1 0 4.3 0a2.1 2.1 0 1 0 -4.3 0M178.2 66.0a2.0 2.0 0 1 0 4.0 0a2.0 2.0 0 1 0 -4.0 0M178.8 72.8a2.1 2.1 0 1 0 4.2 0a2.1 2.1 0 1 0 -4.2 0M178.1 80.4a2.1 2.1 0 1 0 4.2 0a2.1 2.1 0 1 0 -4.2 0M178.5 87.9a2.0 2.0 0 1 0 4.0 0a2.0 2.0 0 1 0 -4.0 0M179.0 94.1a1.9 1.9 0 1 0 3.8 0a1.9 1.9 0 1 0 -3.8 0M179.1 101.3a1.8 1.8 0 1 0 3.6 0a1.8 1.8 0 1 0 -3.6 0M178.2 105.4a2.0 2.0 0 1 0 4.0 0a2.0 2.0 0 1 0 -4.0 0M178.7 108.8a2.1 2.1 0 1 0 4.3 0a2.1 2.1 0 1 0 -4.3 0M178.2 115.6a2.1 2.1 0 1 0 4.2 0a2.1 2.1 0 1 0 -4.2 0M178.4 122.8a2.0 2.0 0 1 0 4.0 0a2.0 2.0 0 1 0 -4.0 0M178.6 126.9a1.9 1.9 0 1 0 3.8 0a1.9 1.9 0 1 0 -3.8 0M178.5 130.1a1.8 1.8 0 1 0 3.7 0a1.8 1.8 0 1 0 -3.7 0M178.2 144.8a1.9 1.9 0 1 0 3.8 0a1.9 1.9 0 1 0 -3.8 0M178.8 159.0a2.1 2.1 0 1 0 4.3 0a2.1 2.1 0 1 0 -4.3 0M178.3 166.1a2.1 2.1 0 1 0 4.3 0a2.1 2.1 0 1 0 -4.3 0M178.3 172.8a2.0 2.0 0 1 0 3.9 0a2.0 2.0 0 1 0 -3.9 0M178.2 180.4a1.9 1.9 0 1 0 3.8 0a1.9 1.9 0 1 0 -3.8 0"/>
</g></svg>
<rect x="73.8" y="188.5" width="117.6" height="26.6" fill="#fff"/>
<defs><linearGradient id="jg" x1="0" x2="1" y1="0" y2="0">
<stop offset="0" stop-color="#0010e0"/>
<stop offset="0.14" stop-color="#0060ff"/>
<stop offset="0.28" stop-color="#00e8ff"/>
<stop offset="0.5" stop-color="#00e000"/>
<stop offset="0.62" stop-color="#a0e800"/>
<stop offset="0.75" stop-color="#f8f000"/>
<stop offset="0.87" stop-color="#ff9000"/>
<stop offset="1" stop-color="#ff1000"/>
</linearGradient></defs>
<rect x="80.4" y="200.9" width="105.3" height="5.1" fill="url(#jg)"/>
<line x1="80.4" y1="199" x2="80.4" y2="200.9" stroke="#444" stroke-width="0.5"/>
<line x1="113.6" y1="199" x2="113.6" y2="200.9" stroke="#444" stroke-width="0.5"/>
<line x1="145.5" y1="199" x2="145.5" y2="200.9" stroke="#444" stroke-width="0.5"/>
<line x1="185.4" y1="199" x2="185.4" y2="200.9" stroke="#444" stroke-width="0.5"/>
<svg x="203" y="36" width="182.6" height="182" viewBox="0 0 182.6 182">
<g filter="url(#soft)">
<rect width="182.6" height="182" fill="#000ece"/>
<path fill="#001fda" d="M111.7 135.0a2.0 2.0 0 1 0 4.0 0a2.0 2.0 0 1 0 -4.0 0M139.6 45.3a2.1 2.1 0 1 0 4.2 0a2.1 2.1 0 1 0 -4.2 0M58.9 148.8a1.7 1.7 0 1 0 3.4 0a1.7 1.7 0 1 0 -3.4 0M30.0 46.6a2.1 2.1 0 1 0 4.3 0a2.1 2.1 0 1 0 -4.3 0M103.8 1.7a1.8 1.8 0 1 0 3.7 0a1.8 1.8 0 1 0 -3.7 0M112.0 173.7a1.9 1.9 0 1 0 3.8 0a1.9 1.9 0 1 0 -3.8 0M75.1 10.1a2.0 2.0 0 1 0 3.9 0a2.0 2.0 0 1 0 -3.9 0M143.3 64.7a1.9 1.9 0 1 0 3.8 0a1.9 1.9 0 1 0 -3.8 0M60.5 32.5a1.6 1.6 0 1 0 3.1 0a1.6 1.6 0 1 0 -3.1 0M50.5 86.8a1.8 1.8 0 1 0 3.6 0a1.8 1.8 0 1 0 -3.6 0M173.5 44.7a1.9 1.9 0 1 0 3.9 0a1.9 1.9 0 1 0 -3.9 0M180.2 94.3a1.0 1.0 0 1 0 2.0 0a1.0 1.0 0 1 0 -2.0 0M135.0 107.5a1.0 1.0 0 1 0 2.0 0a1.0 1.0 0 1 0 -2.0 0M99.0 124.8a2.1 2.1 0 1 0 4.1 0a2.1 2.1 0 1 0 -4.1 0M76.6 98.5a1.1 1.1 0 1 0 2.2 0a1.1 1.1 0 1 0 -2.2 0M40.2 149.2a1.8 1.8 0 1 0 3.6 0a1.8 1.8 0 1 0 -3.6 0M2.5 131.5a2.2 2.2 0 1 0 4.4 0a2.2 2.2 0 1 0 -4.4 0M126.8 8.9a1.3 1.3 0 1 0 2.5 0a1.3 1.3 0 1 0 -2.5 0M18.4 69.0a1.3 1.3 0 1 0 2.7 0a1.3 1.3 0 1 0 -2.7 0M69.2 23.9a1.8 1.8 0 1 0 3.6 0a1.8 1.8 0 1 0 -3.6 0M13.5 121.6a2.0 2.0 0 1 0 4.1 0a2.0 2.0 0 1 0 -4.1 0M86.1 58.8a1.7 1.7 0 1 0 3.3 0a1.7 1.7 0 1 0 -3.3 0M121.3 6.0a1.4 1.4 0 1 0 2.8 0a1.4 1.4 0 1 0 -2.8 0M135.5 57.5a1.8 1.8 0 1 0 3.7 0a1.8 1.8 0 1 0 -3.7 0M28.1 36.6a1.7 1.7 0 1 0 3.4 0a1.7 1.7 0 1 0 -3.4 0M31.8 65.8a1.9 1.9 0 1 0 3.8 0a1.9 1.9 0 1 0 -3.8 0M84.5 124.3a1.6 1.6 0 1 0 3.2 0a1.6 1.6 0 1 0 -3.2 0M154.9 39.0a1.5 1.5 0 1 0 3.1 0a1.5 1.5 0 1 0 -3.1 0M161.6 181.9a1.2 1.2 0 1 0 2.3 0a1.2 1.2 0 1 0 -2.3 0M55.6 23.6a1.6 1.6 0 1 0 3.1 0a1.6 1.6 0 1 0 -3.1 0M159.7 161.2a1.5 1.5 0 1 0 3.0 0a1.5 1.5 0 1 0 -3.0 0M55.2 136.9a2.1 2.1 0 1 0 4.2 0a2.1 2.1 0 1 0 -4.2 0M117.9 138.3a1.5 1.5 0 1 0 3.1 0a1.5 1.5 0 1 0 -3.1 0M147.3 119.3a1.9 1.9 0 1 0 3.7 0a1.9 1.9 0 1 0 -3.7 0M121.8 52.0a1.7 1.7 0 1 0 3.3 0a1.7 1.7 0 1 0 -3.3 0M133.9 5.1a1.1 1.1 0 1 0 2.1 0a1.1 1.1 0 1 0 -2.1 0M149.7 132.3a1.3 1.3 0 1 0 2.6 0a1.3 1.3 0 1 0 -2.6 0M170.0 144.6a1.4 1.4 0 1 0 2.8 0a1.4 1.4 0 1 0 -2.8 0M175.9 108.5a1.2 1.2 0 1 0 2.3 0a1.2 1.2 0 1 0 -2.3 0M119.3 165.3a1.7 1.7 0 1 0 3.5 0a1.7 1.7 0 1 0 -3.5 0M5.0 30.9a1.9 1.9 0 1 0 3.8 0a1.9 1.9 0 1 0 -3.8 0M83.9 97.1a2.0 2.0 0 1 0 3.9 0a2.0 2.0 0 1 0 -3.9 0M142.2 105.4a1.6 1.6 0 1 0 3.3 0a1.6 1.6 0 1 0 -3.3 0M144.0 66.0a1.8 1.8 0 1 0 3.6 0a1.8 1.8 0 1 0 -3.6 0M94.3 51.7a1.0 1.0 0 1 0 2.1 0a1.0 1.0 0 1 0 -2.1 0M97.5 71.6a1.8 1.8 0 1 0 3.6 0a1.8 1.8 0 1 0 -3.6 0M110.0 70.4a2.0 2.0 0 1 0 4.0 0a2.0 2.0 0 1 0 -4.0 0M12.5 173.0a1.8 1.8 0 1 0 3.5 0a1.8 1.8 0 1 0 -3.5 0M138.3 40.9a1.7 1.7 0 1 0 3.4 0a1.7 1.7 0 1 0 -3.4 0M9.8 88.2a1.4 1.4 0 1 0 2.8 0a1.4 1.4 0 1 0 -2.8 0M111.3 145.2a1.0 1.0 0 1 0 2.0 0a1.0 1.0 0 1 0 -2.0 0M147.6 146.3a1.4 1.4 0 1 0 2.9 0a1.4 1.4 0 1 0 -2.9 0M82.5 123.9a1.3 1.3 0 1 0 2.6 0a1.3 1.3 0 1 0 -2.6 0M170.8 84.8a1.1 1.1 0 1 0 2.3 0a1.1 1.1 0 1 0 -2.3 0M107.4 68.1a1.6 1.6 0 1 0 3.2 0a1.6 1.6 0 1 0 -3.2 0M174.2 172.0a1.6 1.6 0 1 0 3.2 0a1.6 1.6 0 1 0 -3.2 0M170.1 129.6a1.1 1.1 0 1 0 2.3 0a1.1 1.1 0 1 0 -2.3 0M138.5 16.1a1.4 1.4 0 1 0 2.7 0a1.4 1.4 0 1 0 -2.7 0M75.7 43.3a1.2 1.2 0 1 0 2.4 0a1.2 1.2 0 1 0 -2.4 0M63.0 147.6a2.0 2.0 0 1 0 4.0 0a2.0 2.0 0 1 0 -4.0 0M24.4 147.5a1.3 1.3 0 1 0 2.6 0a1.3 1.3 0 1 0 -2.6 0M82.6 69.7a1.1 1.1 0 1 0 2.1 0a1.1 1.1 0 1 0 -2.1 0M170.4 120.3a1.3 1.3 0 1 0 2.5 0a1.3 1.3 0 1 0 -2.5 0M65.4 112.6a1.2 1.2 0 1 0 2.4 0a1.2 1.2 0 1 0 -2.4 0M37.8 53.5a1.3 1.3 0 1 0 2.7 0a1.3 1.3 0 1 0 -2.7 0M23.8 3.2a1.9 1.9 0 1 0 3.8 0a1.9 1.9 0 1 0 -3.8 0M23.4 87.6a1.0 1.0 0 1 0 2.0 0a1.0 1.0 0 1 0 -2.0 0M8.4 91.1a1.8 1.8 0 1 0 3.7 0a1.8 1.8 0 1 0 -3.7 0M53.3 30.3a1.8 1.8 0 1 0 3.5 0a1.8 1.8 0 1 0 -3.5 0M102.0 103.2a1.1 1.1 0 1 0 2.1 0a1.1 1.1 0 1 0 -2.1 0M133.6 47.7a1.8 1.8 0 1 0 3.5 0a1.8 1.8 0 1 0 -3.5 0M126.1 128.5a1.1 1.1 0 1 0 2.1 0a1.1 1.1 0 1 0 -2.1 0M128.6 55.3a2.1 2.1 0 1 0 4.3 0a2.1 2.1 0 1 0 -4.3 0M45.2 54.4a2.1 2.1 0 1 0 4.1 0a2.1 2.1 0 1 0 -4.1 0M115.2 174.0a1.8 1.8 0 1 0 3.7 0a1.8 1.8 0 1 0 -3.7 0M59.6 139.4a1.5 1.5 0 1 0 3.0 0a1.5 1.5 0 1 0 -3.0 0M58.8 17.5a1.4 1.4 0 1 0 2.7 0a1.4 1.4 0 1 0 -2.7 0M53.1 32.8a1.9 1.9 0 1 0 3.9 0a1.9 1.9 0 1 0 -3.9 0M162.1 92.2a1.6 1.6 0 1 0 3.1 0a1.6 1.6 0 1 0 -3.1 0M22.5 30.5a1.9 1.9 0 1 0 3.7 0a1.9 1.9 0 1 0 -3.7 0M126.2 98.7a1.2 1.2 0 1 0 2.5 0a1.2 1.2 0 1 0 -2.5 0M136.6 132.5a1.6 1.6 0 1 0 3.2 0a1.6 1.6 0 1 0 -3.2 0M132.4 91.9a1.2 1.2 0 1 0 2.4 0a1.2 1.2 0 1 0 -2.4 0M151.3 7.9a1.6 1.6 0 1 0 3.1 0a1.6 1.6 0 1 0 -3.1 0M42.0 150.9a1.5 1.5 0 1 0 2.9 0a1.5 1.5 0 1 0 -2.9 0M35.5 42.9a1.9 1.9 0 1 0 3.8 0a1.9 1.9 0 1 0 -3.8 0M131.5 162.3a1.2 1.2 0 1 0 2.4 0a1.2 1.2 0 1 0 -2.4 0M29.9 72.0a1.5 1.5 0 1 0 3.0 0a1.5 1.5 0 1 0 -3.0 0M155.0 124.3a2.0 2.0 0 1 0 4.1 0a2.0 2.0 0 1 0 -4.1 0M35.8 105.9a1.2 1.2 0 1 0 2.5 0a1.2 1.2 0 1 0 -2.5 0M150.7 59.4a1.6 1.6 0 1 0 3.2 0a1.6 1.6 0 1 0 -3.2 0M76.6 80.1a1.3 1.3 0 1 0 2.6 0a1.3 1.3 0 1 0 -2.6 0M51.9 148.6a1.9 1.9 0 1 0 3.9 0a1.9 1.9 0 1 0 -3.9 0M138.4 7.6a2.1 2.1 0 1 0 4.2 0a2.1 2.1 0 1 0 -4.2 0M161.5 139.2a1.0 1.0 0 1 0 2.1 0a1.0 1.0 0 1 0 -2.1 0M75.3 112.1a2.2 2.2 0 1 0 4.3 0a2.2 2.2 0 1 0 -4.3 0M92.6 160.3a1.7 1.7 0 1 0 3.4 0a1.7 1.7 0 1 0 -3.4 0M61.0 172.0a2.2 2.2 0 1 0 4.4 0a2.2 2.2 0 1 0 -4.4 0M157.5 64.8a1.6 1.6 0 1 0 3.1 0a1.6 1.6 0 1 0 -3.1 0M174.6 127.5a1.7 1.7 0 1 0 3.4 0a1.7 1.7 0 1 0 -3.4 0M89.7 63.1a2.0 2.0 0 1 0 4.0 0a2.0 2.0 0 1 0 -4.0 0M170.1 19.7a1.5 1.5 0 1 0 3.1 0a1.5 1.5 0 1 0 -3.1 0M132.3 7.5a1.7 1.7 0 1 0 3.4 0a1.7 1.7 0 1 0 -3.4 0M126.4 8.7a1.4 1.4 0 1 0 2.7 0a1.4 1.4 0 1 0 -2.7 0M180.9 154.6a1.1 1.1 0 1 0 2.3 0a1.1 1.1 0 1 0 -2.3 0M31.0 179.1a2.1 2.1 0 1 0 4.2 0a2.1 2.1 0 1 0 -4.2 0M89.1 105.7a2.1 2.1 0 1 0 4.2 0a2.1 2.1 0 1 0 -4.2 0M62.4 154.2a1.1 1.1 0 1 0 2.1 0a1.1 1.1 0 1 0 -2.1 0M81.4 5.9a1.9 1.9 0 1 0 3.8 0a1.9 1.9 0 1 0 -3.8 0M18.5 126.2a1.3 1.3 0 1 0 2.6 0a1.3 1.3 0 1 0 -2.6 0M102.8 51.4a1.8 1.8 0 1 0 3.7 0a1.8 1.8 0 1 0 -3.7 0M-1.5 26.8a2.1 2.1 0 1 0 4.2 0a2.1 2.1 0 1 0 -4.2 0"/>
<path fill="#0035e2" d="M19.2 85.4a1.5 1.5 0 1 0 2.9 0a1.5 1.5 0 1 0 -2.9 0M17.1 45.4a1.5 1.5 0 1 0 3.0 0a1.5 1.5 0 1 0 -3.0 0M-1.6 158.6a1.9 1.9 0 1 0 3.9 0a1.9 1.9 0 1 0 -3.9 0M174.0 30.2a1.3 1.3 0 1 0 2.7 0a1.3 1.3 0 1 0 -2.7 0M174.3 98.1a1.2 1.2 0 1 0 2.4 0a1.2 1.2 0 1 0 -2.4 0M64.6 30.2a1.3 1.3 0 1 0 2.6 0a1.3 1.3 0 1 0 -2.6 0M59.3 37.7a1.8 1.8 0 1 0 3.5 0a1.8 1.8 0 1 0 -3.5 0M9.2 76.6a1.5 1.5 0 1 0 3.1 0a1.5 1.5 0 1 0 -3.1 0M173.4 94.3a1.2 1.2 0 1 0 2.5 0a1.2 1.2 0 1 0 -2.5 0M129.7 132.9a1.7 1.7 0 1 0 3.5 0a1.7 1.7 0 1 0 -3.5 0M31.2 138.1a1.8 1.8 0 1 0 3.5 0a1.8 1.8 0 1 0 -3.5 0M6.4 85.8a1.2 1.2 0 1 0 2.4 0a1.2 1.2 0 1 0 -2.4 0M161.3 20.2a1.6 1.6 0 1 0 3.2 0a1.6 1.6 0 1 0 -3.2 0M109.9 107.4a1.9 1.9 0 1 0 3.7 0a1.9 1.9 0 1 0 -3.7 0M67.6 174.9a1.7 1.7 0 1 0 3.4 0a1.7 1.7 0 1 0 -3.4 0M151.5 86.6a2.1 2.1 0 1 0 4.2 0a2.1 2.1 0 1 0 -4.2 0M84.7 56.6a1.6 1.6 0 1 0 3.1 0a1.6 1.6 0 1 0 -3.1 0M115.7 173.3a2.2 2.2 0 1 0 4.4 0a2.2 2.2 0 1 0 -4.4 0M127.1 79.7a1.7 1.7 0 1 0 3.5 0a1.7 1.7 0 1 0 -3.5 0M74.5 29.3a1.1 1.1 0 1 0 2.1 0a1.1 1.1 0 1 0 -2.1 0M106.7 104.3a1.5 1.5 0 1 0 2.9 0a1.5 1.5 0 1 0 -2.9 0M16.5 6.0a1.2 1.2 0 1 0 2.5 0a1.2 1.2 0 1 0 -2.5 0M83.3 34.9a1.1 1.1 0 1 0 2.2 0a1.1 1.1 0 1 0 -2.2 0M44.5 50.5a1.9 1.9 0 1 0 3.8 0a1.9 1.9 0 1 0 -3.8 0M121.9 85.9a1.1 1.1 0 1 0 2.3 0a1.1 1.1 0 1 0 -2.3 0M120.2 53.0a1.9 1.9 0 1 0 3.8 0a1.9 1.9 0 1 0 -3.8 0M129.9 29.7a1.2 1.2 0 1 0 2.4 0a1.2 1.2 0 1 0 -2.4 0M115.7 159.3a1.2 1.2 0 1 0 2.4 0a1.2 1.2 0 1 0 -2.4 0M91.8 73.2a1.1 1.1 0 1 0 2.2 0a1.1 1.1 0 1 0 -2.2 0M55.6 19.7a1.7 1.7 0 1 0 3.4 0a1.7 1.7 0 1 0 -3.4 0M126.0 145.4a1.3 1.3 0 1 0 2.7 0a1.3 1.3 0 1 0 -2.7 0M88.0 45.3a2.0 2.0 0 1 0 3.9 0a2.0 2.0 0 1 0 -3.9 0M57.4 55.8a1.3 1.3 0 1 0 2.6 0a1.3 1.3 0 1 0 -2.6 0M35.0 65.2a1.7 1.7 0 1 0 3.4 0a1.7 1.7 0 1 0 -3.4 0M109.1 114.8a1.5 1.5 0 1 0 3.1 0a1.5 1.5 0 1 0 -3.1 0M7.2 121.6a1.6 1.6 0 1 0 3.3 0a1.6 1.6 0 1 0 -3.3 0M153.1 124.8a2.2 2.2 0 1 0 4.3 0a2.2 2.2 0 1 0 -4.3 0M63.4 84.5a1.3 1.3 0 1 0 2.7 0a1.3 1.3 0 1 0 -2.7 0M141.4 66.7a2.0 2.0 0 1 0 4.0 0a2.0 2.0 0 1 0 -4.0 0M71.6 26.0a1.6 1.6 0 1 0 3.2 0a1.6 1.6 0 1 0 -3.2 0M66.8 1.8a2.0 2.0 0 1 0 4.0 0a2.0 2.0 0 1 0 -4.0 0M168.6 50.0a1.1 1.1 0 1 0 2.2 0a1.1 1.1 0 1 0 -2.2 0M124.0 152.6a1.6 1.6 0 1 0 3.2 0a1.6 1.6 0 1 0 -3.2 0M66.9 136.6a2.1 2.1 0 1 0 4.2 0a2.1 2.1 0 1 0 -4.2 0M76.3 96.2a1.4 1.4 0 1 0 2.7 0a1.4 1.4 0 1 0 -2.7 0M4.0 21.0a1.5 1.5 0 1 0 3.0 0a1.5 1.5 0 1 0 -3.0 0M153.2 117.4a2.1 2.1 0 1 0 4.1 0a2.1 2.1 0 1 0 -4.1 0M85.4 64.5a2.1 2.1 0 1 0 4.2 0a2.1 2.1 0 1 0 -4.2 0M97.7 70.3a1.1 1.1 0 1 0 2.2 0a1.1 1.1 0 1 0 -2.2 0M67.1 181.8a2.1 2.1 0 1 0 4.1 0a2.1 2.1 0 1 0 -4.1 0M108.3 24.8a1.1 1.1 0 1 0 2.2 0a1.1 1.1 0 1 0 -2.2 0M85.1 105.9a2.2 2.2 0 1 0 4.3 0a2.2 2.2 0 1 0 -4.3 0M138.9 76.2a2.0 2.0 0 1 0 3.9 0a2.0 2.0 0 1 0 -3.9 0M14.6 62.3a1.4 1.4 0 1 0 2.9 0a1.4 1.4 0 1 0 -2.9 0M69.1 114.4a1.8 1.8 0 1 0 3.7 0a1.8 1.8 0 1 0 -3.7 0M106.4 159.3a1.7 1.7 0 1 0 3.4 0a1.7 1.7 0 1 0 -3.4 0M130.0 111.3a1.6 1.6 0 1 0 3.3 0a1.6 1.6 0 1 0 -3.3 0M110.3 83.3a1.4 1.4 0 1 0 2.8 0a1.4 1.4 0 1 0 -2.8 0M88.5 97.6a1.7 1.7 0 1 0 3.3 0a1.7 1.7 0 1 0 -3.3 0M84.0 18.7a1.1 1.1 0 1 0 2.3 0a1.1 1.1 0 1 0 -2.3 0M159.6 178.6a1.5 1.5 0 1 0 2.9 0a1.5 1.5 0 1 0 -2.9 0M128.1 17.9a1.5 1.5 0 1 0 3.1 0a1.5 1.5 0 1 0 -3.1 0M45.0 84.4a2.0 2.0 0 1 0 3.9 0a2.0 2.0 0 1 0 -3.9 0M19.8 36.9a2.0 2.0 0 1 0 4.0 0a2.0 2.0 0 1 0 -4.0 0M9.3 2.6a1.1 1.1 0 1 0 2.3 0a1.1 1.1 0 1 0 -2.3 0M111.1 130.3a1.0 1.0 0 1 0 2.0 0a1.0 1.0 0 1 0 -2.0 0M159.4 180.1a2.2 2.2 0 1 0 4.3 0a2.2 2.2 0 1 0 -4.3 0M173.6 49.9a1.8 1.8 0 1 0 3.7 0a1.8 1.8 0 1 0 -3.7 0M127.6 78.8a1.8 1.8 0 1 0 3.5 0a1.8 1.8 0 1 0 -3.5 0M102.3 82.2a1.7 1.7 0 1 0 3.5 0a1.7 1.7 0 1 0 -3.5 0M73.0 77.6a1.1 1.1 0 1 0 2.2 0a1.1 1.1 0 1 0 -2.2 0M52.3 78.6a1.0 1.0 0 1 0 2.1 0a1.0 1.0 0 1 0 -2.1 0M111.7 154.2a1.4 1.4 0 1 0 2.9 0a1.4 1.4 0 1 0 -2.9 0M71.9 46.5a1.5 1.5 0 1 0 3.0 0a1.5 1.5 0 1 0 -3.0 0M90.2 49.8a1.1 1.1 0 1 0 2.1 0a1.1 1.1 0 1 0 -2.1 0M138.1 85.5a2.0 2.0 0 1 0 4.0 0a2.0 2.0 0 1 0 -4.0 0M131.7 133.1a1.5 1.5 0 1 0 2.9 0a1.5 1.5 0 1 0 -2.9 0"/>
<path fill="#0052eb" d="M127.2 12.0a2.0 2.0 0 1 0 4.0 0a2.0 2.0 0 1 0 -4.0 0M168.1 171.5a1.6 1.6 0 1 0 3.2 0a1.6 1.6 0 1 0 -3.2 0M135.6 145.1a1.0 1.0 0 1 0 2.1 0a1.0 1.0 0 1 0 -2.1 0M171.1 16.6a1.6 1.6 0 1 0 3.2 0a1.6 1.6 0 1 0 -3.2 0M64.1 27.0a2.1 2.1 0 1 0 4.2 0a2.1 2.1 0 1 0 -4.2 0M98.2 56.9a1.4 1.4 0 1 0 2.7 0a1.4 1.4 0 1 0 -2.7 0M143.7 114.1a2.2 2.2 0 1 0 4.4 0a2.2 2.2 0 1 0 -4.4 0M133.7 62.6a1.5 1.5 0 1 0 3.1 0a1.5 1.5 0 1 0 -3.1 0M124.4 57.8a1.3 1.3 0 1 0 2.7 0a1.3 1.3 0 1 0 -2.7 0M31.8 89.5a1.1 1.1 0 1 0 2.2 0a1.1 1.1 0 1 0 -2.2 0M64.4 128.2a2.0 2.0 0 1 0 4.0 0a2.0 2.0 0 1 0 -4.0 0M46.2 178.5a2.1 2.1 0 1 0 4.3 0a2.1 2.1 0 1 0 -4.3 0M139.7 59.3a1.6 1.6 0 1 0 3.1 0a1.6 1.6 0 1 0 -3.1 0M147.7 117.8a1.4 1.4 0 1 0 2.8 0a1.4 1.4 0 1 0 -2.8 0M64.3 155.4a1.8 1.8 0 1 0 3.7 0a1.8 1.8 0 1 0 -3.7 0M99.2 157.8a1.9 1.9 0 1 0 3.7 0a1.9 1.9 0 1 0 -3.7 0M98.7 75.6a1.5 1.5 0 1 0 2.9 0a1.5 1.5 0 1 0 -2.9 0M66.3 63.8a2.0 2.0 0 1 0 4.1 0a2.0 2.0 0 1 0 -4.1 0M156.0 125.4a2.2 2.2 0 1 0 4.3 0a2.2 2.2 0 1 0 -4.3 0M98.8 54.9a1.7 1.7 0 1 0 3.3 0a1.7 1.7 0 1 0 -3.3 0M60.0 105.7a2.0 2.0 0 1 0 4.0 0a2.0 2.0 0 1 0 -4.0 0M75.0 148.0a1.6 1.6 0 1 0 3.1 0a1.6 1.6 0 1 0 -3.1 0M174.8 110.8a2.0 2.0 0 1 0 4.0 0a2.0 2.0 0 1 0 -4.0 0M119.1 69.5a1.7 1.7 0 1 0 3.4 0a1.7 1.7 0 1 0 -3.4 0M2.0 172.0a1.6 1.6 0 1 0 3.2 0a1.6 1.6 0 1 0 -3.2 0M149.7 2.4a1.3 1.3 0 1 0 2.6 0a1.3 1.3 0 1 0 -2.6 0M26.7 180.0a1.6 1.6 0 1 0 3.2 0a1.6 1.6 0 1 0 -3.2 0M21.3 51.4a1.7 1.7 0 1 0 3.5 0a1.7 1.7 0 1 0 -3.5 0M132.1 4.8a1.4 1.4 0 1 0 2.9 0a1.4 1.4 0 1 0 -2.9 0M82.9 138.0a2.0 2.0 0 1 0 4.0 0a2.0 2.0 0 1 0 -4.0 0M125.1 78.8a1.8 1.8 0 1 0 3.6 0a1.8 1.8 0 1 0 -3.6 0M98.6 90.6a1.6 1.6 0 1 0 3.3 0a1.6 1.6 0 1 0 -3.3 0M22.7 78.6a1.8 1.8 0 1 0 3.6 0a1.8 1.8 0 1 0 -3.6 0M87.3 64.3a2.1 2.1 0 1 0 4.2 0a2.1 2.1 0 1 0 -4.2 0M23.1 53.6a2.1 2.1 0 1 0 4.2 0a2.1 2.1 0 1 0 -4.2 0M100.2 113.0a1.1 1.1 0 1 0 2.2 0a1.1 1.1 0 1 0 -2.2 0M41.4 151.5a1.6 1.6 0 1 0 3.2 0a1.6 1.6 0 1 0 -3.2 0M22.9 42.7a1.5 1.5 0 1 0 3.1 0a1.5 1.5 0 1 0 -3.1 0M23.5 113.7a2.0 2.0 0 1 0 4.0 0a2.0 2.0 0 1 0 -4.0 0M51.0 169.4a2.0 2.0 0 1 0 3.9 0a2.0 2.0 0 1 0 -3.9 0M67.3 131.5a1.8 1.8 0 1 0 3.6 0a1.8 1.8 0 1 0 -3.6 0M145.3 78.9a1.6 1.6 0 1 0 3.2 0a1.6 1.6 0 1 0 -3.2 0M88.5 170.6a1.0 1.0 0 1 0 2.0 0a1.0 1.0 0 1 0 -2.0 0M118.1 112.4a1.8 1.8 0 1 0 3.6 0a1.8 1.8 0 1 0 -3.6 0M72.8 8.2a2.1 2.1 0 1 0 4.3 0a2.1 2.1 0 1 0 -4.3 0M22.4 2.2a1.8 1.8 0 1 0 3.7 0a1.8 1.8 0 1 0 -3.7 0M86.3 141.9a2.0 2.0 0 1 0 4.0 0a2.0 2.0 0 1 0 -4.0 0M21.6 65.0a2.1 2.1 0 1 0 4.3 0a2.1 2.1 0 1 0 -4.3 0M34.8 102.4a1.9 1.9 0 1 0 3.8 0a1.9 1.9 0 1 0 -3.8 0M49.8 167.6a1.6 1.6 0 1 0 3.1 0a1.6 1.6 0 1 0 -3.1 0M2.4 123.4a1.6 1.6 0 1 0 3.2 0a1.6 1.6 0 1 0 -3.2 0M135.5 121.9a2.1 2.1 0 1 0 4.2 0a2.1 2.1 0 1 0 -4.2 0M14.6 22.0a2.2 2.2 0 1 0 4.3 0a2.2 2.2 0 1 0 -4.3 0M161.1 125.3a1.3 1.3 0 1 0 2.6 0a1.3 1.3 0 1 0 -2.6 0M16.3 53.5a2.0 2.0 0 1 0 3.9 0a2.0 2.0 0 1 0 -3.9 0M50.0 110.2a1.2 1.2 0 1 0 2.4 0a1.2 1.2 0 1 0 -2.4 0M57.7 18.6a1.9 1.9 0 1 0 3.7 0a1.9 1.9 0 1 0 -3.7 0M121.6 20.3a1.2 1.2 0 1 0 2.4 0a1.2 1.2 0 1 0 -2.4 0M147.2 35.6a1.4 1.4 0 1 0 2.9 0a1.4 1.4 0 1 0 -2.9 0M48.5 85.5a1.0 1.0 0 1 0 2.0 0a1.0 1.0 0 1 0 -2.0 0M76.9 48.5a1.4 1.4 0 1 0 2.8 0a1.4 1.4 0 1 0 -2.8 0M17.9 72.7a1.4 1.4 0 1 0 2.9 0a1.4 1.4 0 1 0 -2.9 0M159.9 141.3a1.5 1.5 0 1 0 3.1 0a1.5 1.5 0 1 0 -3.1 0M17.0 22.5a1.7 1.7 0 1 0 3.4 0a1.7 1.7 0 1 0 -3.4 0M91.8 148.8a2.0 2.0 0 1 0 4.0 0a2.0 2.0 0 1 0 -4.0 0M101.6 164.1a1.7 1.7 0 1 0 3.3 0a1.7 1.7 0 1 0 -3.3 0M27.0 39.4a1.4 1.4 0 1 0 2.8 0a1.4 1.4 0 1 0 -2.8 0M118.9 76.4a2.0 2.0 0 1 0 4.0 0a2.0 2.0 0 1 0 -4.0 0M52.1 19.6a1.5 1.5 0 1 0 3.0 0a1.5 1.5 0 1 0 -3.0 0M18.2 17.5a2.0 2.0 0 1 0 4.0 0a2.0 2.0 0 1 0 -4.0 0M11.3 76.8a1.8 1.8 0 1 0 3.6 0a1.8 1.8 0 1 0 -3.6 0M122.3 58.8a2.1 2.1 0 1 0 4.3 0a2.1 2.1 0 1 0 -4.3 0M113.7 167.2a2.1 2.1 0 1 0 4.1 0a2.1 2.1 0 1 0 -4.1 0M128.9 13.0a1.1 1.1 0 1 0 2.1 0a1.1 1.1 0 1 0 -2.1 0M144.4 115.7a1.3 1.3 0 1 0 2.7 0a1.3 1.3 0 1 0 -2.7 0M86.2 54.2a1.8 1.8 0 1 0 3.5 0a1.8 1.8 0 1 0 -3.5 0M87.5 159.0a1.7 1.7 0 1 0 3.5 0a1.7 1.7 0 1 0 -3.5 0M65.9 140.7a1.8 1.8 0 1 0 3.6 0a1.8 1.8 0 1 0 -3.6 0M115.6 41.7a2.1 2.1 0 1 0 4.2 0a2.1 2.1 0 1 0 -4.2 0M90.7 79.1a1.3 1.3 0 1 0 2.5 0a1.3 1.3 0 1 0 -2.5 0M125.1 36.6a2.1 2.1 0 1 0 4.1 0a2.1 2.1 0 1 0 -4.1 0M95.7 152.9a1.8 1.8 0 1 0 3.5 0a1.8 1.8 0 1 0 -3.5 0M65.2 179.9a1.9 1.9 0 1 0 3.8 0a1.9 1.9 0 1 0 -3.8 0M87.3 15.2a1.1 1.1 0 1 0 2.2 0a1.1 1.1 0 1 0 -2.2 0M131.9 74.1a1.4 1.4 0 1 0 2.8 0a1.4 1.4 0 1 0 -2.8 0M16.9 156.9a1.0 1.0 0 1 0 2.1 0a1.0 1.0 0 1 0 -2.1 0M57.4 6.9a1.5 1.5 0 1 0 3.0 0a1.5 1.5 0 1 0 -3.0 0M81.7 29.4a1.6 1.6 0 1 0 3.3 0a1.6 1.6 0 1 0 -3.3 0M159.5 67.4a2.1 2.1 0 1 0 4.3 0a2.1 2.1 0 1 0 -4.3 0M110.6 82.7a1.5 1.5 0 1 0 2.9 0a1.5 1.5 0 1 0 -2.9 0M140.8 55.8a1.4 1.4 0 1 0 2.8 0a1.4 1.4 0 1 0 -2.8 0M39.7 180.0a1.3 1.3 0 1 0 2.5 0a1.3 1.3 0 1 0 -2.5 0M10.0 20.0a1.9 1.9 0 1 0 3.9 0a1.9 1.9 0 1 0 -3.9 0M45.2 30.8a1.4 1.4 0 1 0 2.7 0a1.4 1.4 0 1 0 -2.7 0"/>
<path fill="#0070f0" d="M32.1 157.9a1.2 1.2 0 1 0 2.4 0a1.2 1.2 0 1 0 -2.4 0M144.4 25.3a1.2 1.2 0 1 0 2.3 0a1.2 1.2 0 1 0 -2.3 0M175.5 35.8a1.4 1.4 0 1 0 2.7 0a1.4 1.4 0 1 0 -2.7 0M86.2 57.5a1.6 1.6 0 1 0 3.1 0a1.6 1.6 0 1 0 -3.1 0M63.9 73.6a1.4 1.4 0 1 0 2.9 0a1.4 1.4 0 1 0 -2.9 0M161.9 45.7a1.1 1.1 0 1 0 2.3 0a1.1 1.1 0 1 0 -2.3 0M28.5 8.8a1.0 1.0 0 1 0 2.1 0a1.0 1.0 0 1 0 -2.1 0M142.4 19.4a1.4 1.4 0 1 0 2.9 0a1.4 1.4 0 1 0 -2.9 0M180.3 155.1a2.2 2.2 0 1 0 4.3 0a2.2 2.2 0 1 0 -4.3 0M71.7 26.7a2.0 2.0 0 1 0 4.0 0a2.0 2.0 0 1 0 -4.0 0M95.1 32.7a2.0 2.0 0 1 0 4.1 0a2.0 2.0 0 1 0 -4.1 0M116.2 134.3a1.4 1.4 0 1 0 2.8 0a1.4 1.4 0 1 0 -2.8 0M151.7 158.3a2.2 2.2 0 1 0 4.3 0a2.2 2.2 0 1 0 -4.3 0M169.6 94.0a1.4 1.4 0 1 0 2.7 0a1.4 1.4 0 1 0 -2.7 0M3.3 29.1a1.7 1.7 0 1 0 3.5 0a1.7 1.7 0 1 0 -3.5 0M26.5 69.7a2.1 2.1 0 1 0 4.3 0a2.1 2.1 0 1 0 -4.3 0M110.8 25.6a1.5 1.5 0 1 0 3.0 0a1.5 1.5 0 1 0 -3.0 0M176.2 89.8a2.2 2.2 0 1 0 4.3 0a2.2 2.2 0 1 0 -4.3 0M46.1 178.5a1.3 1.3 0 1 0 2.6 0a1.3 1.3 0 1 0 -2.6 0M85.3 6.7a1.3 1.3 0 1 0 2.6 0a1.3 1.3 0 1 0 -2.6 0M97.9 2.7a1.7 1.7 0 1 0 3.4 0a1.7 1.7 0 1 0 -3.4 0M123.8 173.5a2.0 2.0 0 1 0 4.1 0a2.0 2.0 0 1 0 -4.1 0M102.2 21.5a2.1 2.1 0 1 0 4.1 0a2.1 2.1 0 1 0 -4.1 0M90.4 82.5a2.1 2.1 0 1 0 4.1 0a2.1 2.1 0 1 0 -4.1 0M68.4 154.4a1.8 1.8 0 1 0 3.6 0a1.8 1.8 0 1 0 -3.6 0M38.8 21.1a2.0 2.0 0 1 0 4.0 0a2.0 2.0 0 1 0 -4.0 0M84.5 161.9a1.4 1.4 0 1 0 2.8 0a1.4 1.4 0 1 0 -2.8 0M157.5 158.1a1.2 1.2 0 1 0 2.4 0a1.2 1.2 0 1 0 -2.4 0M36.2 8.0a1.9 1.9 0 1 0 3.7 0a1.9 1.9 0 1 0 -3.7 0M47.5 84.1a1.9 1.9 0 1 0 3.9 0a1.9 1.9 0 1 0 -3.9 0M129.7 43.1a1.1 1.1 0 1 0 2.2 0a1.1 1.1 0 1 0 -2.2 0M141.2 8.7a1.5 1.5 0 1 0 3.1 0a1.5 1.5 0 1 0 -3.1 0M63.7 77.0a1.6 1.6 0 1 0 3.3 0a1.6 1.6 0 1 0 -3.3 0M126.4 48.7a1.7 1.7 0 1 0 3.3 0a1.7 1.7 0 1 0 -3.3 0M110.6 42.1a1.2 1.2 0 1 0 2.3 0a1.2 1.2 0 1 0 -2.3 0M80.2 41.5a1.2 1.2 0 1 0 2.4 0a1.2 1.2 0 1 0 -2.4 0M4.2 105.0a1.8 1.8 0 1 0 3.7 0a1.8 1.8 0 1 0 -3.7 0M90.0 99.3a1.5 1.5 0 1 0 3.1 0a1.5 1.5 0 1 0 -3.1 0M139.9 111.1a1.4 1.4 0 1 0 2.7 0a1.4 1.4 0 1 0 -2.7 0M112.9 116.5a1.5 1.5 0 1 0 3.0 0a1.5 1.5 0 1 0 -3.0 0M110.5 19.1a1.9 1.9 0 1 0 3.8 0a1.9 1.9 0 1 0 -3.8 0M68.0 52.9a1.8 1.8 0 1 0 3.5 0a1.8 1.8 0 1 0 -3.5 0M60.5 154.3a1.1 1.1 0 1 0 2.1 0a1.1 1.1 0 1 0 -2.1 0M174.5 100.7a2.2 2.2 0 1 0 4.4 0a2.2 2.2 0 1 0 -4.4 0M38.9 177.3a1.0 1.0 0 1 0 2.0 0a1.0 1.0 0 1 0 -2.0 0M93.2 174.0a1.6 1.6 0 1 0 3.2 0a1.6 1.6 0 1 0 -3.2 0M7.6 71.5a2.0 2.0 0 1 0 4.1 0a2.0 2.0 0 1 0 -4.1 0M74.9 131.6a2.1 2.1 0 1 0 4.2 0a2.1 2.1 0 1 0 -4.2 0M25.1 142.1a2.0 2.0 0 1 0 4.0 0a2.0 2.0 0 1 0 -4.0 0M12.5 67.2a1.5 1.5 0 1 0 3.0 0a1.5 1.5 0 1 0 -3.0 0M114.6 140.0a1.1 1.1 0 1 0 2.2 0a1.1 1.1 0 1 0 -2.2 0M123.5 6.5a2.1 2.1 0 1 0 4.1 0a2.1 2.1 0 1 0 -4.1 0M33.7 3.4a2.2 2.2 0 1 0 4.3 0a2.2 2.2 0 1 0 -4.3 0M48.1 106.1a2.2 2.2 0 1 0 4.4 0a2.2 2.2 0 1 0 -4.4 0M9.0 38.6a1.1 1.1 0 1 0 2.2 0a1.1 1.1 0 1 0 -2.2 0M24.2 63.9a1.0 1.0 0 1 0 2.0 0a1.0 1.0 0 1 0 -2.0 0M60.3 148.4a1.9 1.9 0 1 0 3.9 0a1.9 1.9 0 1 0 -3.9 0M-0.0 7.9a1.8 1.8 0 1 0 3.6 0a1.8 1.8 0 1 0 -3.6 0M117.5 4.7a1.1 1.1 0 1 0 2.3 0a1.1 1.1 0 1 0 -2.3 0M122.2 49.8a1.9 1.9 0 1 0 3.8 0a1.9 1.9 0 1 0 -3.8 0M57.4 119.7a1.6 1.6 0 1 0 3.1 0a1.6 1.6 0 1 0 -3.1 0M13.2 77.4a1.2 1.2 0 1 0 2.4 0a1.2 1.2 0 1 0 -2.4 0M23.2 89.4a2.1 2.1 0 1 0 4.2 0a2.1 2.1 0 1 0 -4.2 0M61.5 3.1a1.3 1.3 0 1 0 2.6 0a1.3 1.3 0 1 0 -2.6 0M152.7 94.0a1.8 1.8 0 1 0 3.5 0a1.8 1.8 0 1 0 -3.5 0M105.2 9.1a1.2 1.2 0 1 0 2.4 0a1.2 1.2 0 1 0 -2.4 0M60.5 181.8a1.1 1.1 0 1 0 2.2 0a1.1 1.1 0 1 0 -2.2 0M96.6 15.2a1.5 1.5 0 1 0 3.0 0a1.5 1.5 0 1 0 -3.0 0M48.7 100.3a1.0 1.0 0 1 0 2.1 0a1.0 1.0 0 1 0 -2.1 0M169.8 84.8a1.7 1.7 0 1 0 3.3 0a1.7 1.7 0 1 0 -3.3 0M134.4 46.6a1.5 1.5 0 1 0 3.0 0a1.5 1.5 0 1 0 -3.0 0M171.3 140.0a2.2 2.2 0 1 0 4.4 0a2.2 2.2 0 1 0 -4.4 0M2.6 105.1a1.8 1.8 0 1 0 3.5 0a1.8 1.8 0 1 0 -3.5 0M9.2 52.5a1.4 1.4 0 1 0 2.7 0a1.4 1.4 0 1 0 -2.7 0M27.4 175.4a1.8 1.8 0 1 0 3.6 0a1.8 1.8 0 1 0 -3.6 0M75.4 152.5a1.4 1.4 0 1 0 2.8 0a1.4 1.4 0 1 0 -2.8 0M88.4 0.2a1.9 1.9 0 1 0 3.9 0a1.9 1.9 0 1 0 -3.9 0M15.2 101.5a1.9 1.9 0 1 0 3.9 0a1.9 1.9 0 1 0 -3.9 0M82.1 79.8a1.6 1.6 0 1 0 3.1 0a1.6 1.6 0 1 0 -3.1 0M93.3 4.5a2.0 2.0 0 1 0 4.0 0a2.0 2.0 0 1 0 -4.0 0M53.3 132.6a1.5 1.5 0 1 0 2.9 0a1.5 1.5 0 1 0 -2.9 0M139.1 20.8a1.8 1.8 0 1 0 3.7 0a1.8 1.8 0 1 0 -3.7 0M38.5 73.3a1.2 1.2 0 1 0 2.4 0a1.2 1.2 0 1 0 -2.4 0M165.5 144.3a2.0 2.0 0 1 0 4.0 0a2.0 2.0 0 1 0 -4.0 0M162.4 102.0a1.9 1.9 0 1 0 3.8 0a1.9 1.9 0 1 0 -3.8 0M31.1 99.0a2.1 2.1 0 1 0 4.3 0a2.1 2.1 0 1 0 -4.3 0M133.5 127.6a2.1 2.1 0 1 0 4.3 0a2.1 2.1 0 1 0 -4.3 0M85.2 146.2a2.1 2.1 0 1 0 4.1 0a2.1 2.1 0 1 0 -4.1 0M58.9 176.4a1.2 1.2 0 1 0 2.4 0a1.2 1.2 0 1 0 -2.4 0M92.3 85.5a1.4 1.4 0 1 0 2.7 0a1.4 1.4 0 1 0 -2.7 0M12.2 68.5a1.1 1.1 0 1 0 2.2 0a1.1 1.1 0 1 0 -2.2 0M160.4 56.3a2.0 2.0 0 1 0 4.0 0a2.0 2.0 0 1 0 -4.0 0M180.0 102.6a2.0 2.0 0 1 0 4.0 0a2.0 2.0 0 1 0 -4.0 0M169.5 71.0a2.2 2.2 0 1 0 4.4 0a2.2 2.2 0 1 0 -4.4 0M22.3 136.0a1.4 1.4 0 1 0 2.9 0a1.4 1.4 0 1 0 -2.9 0M34.1 35.2a1.3 1.3 0 1 0 2.6 0a1.3 1.3 0 1 0 -2.6 0M69.4 43.9a2.0 2.0 0 1 0 4.0 0a2.0 2.0 0 1 0 -4.0 0"/>
<path d="M23.7 0.0L24.6 1.8M24.6 1.8L27.3 2.7M27.3 2.7L31.9 3.6M31.9 3.6L36.4 4.0M36.4 4.0L41.9 4.6M41.9 4.6L44.6 6.4M44.6 6.4L47.4 10.0M47.4 10.0L51.0 13.7M51.0 13.7L54.6 16.4M54.6 16.4L58.3 18.2M58.3 18.2L61.9 17.3M61.9 17.3L67.4 16.8M67.4 16.8L71.0 16.0M76.5 16.0L82.0 17.3M82.0 17.3L84.0 18.2M84.0 18.2L89.0 14.6M91.0 14.6L96.5 13.7M96.5 13.7L101.9 10.9M101.9 10.9L109.2 7.3M109.2 7.3L114.7 5.5M114.7 5.5L120.1 7.3M120.1 7.3L125.6 9.1M149.3 16.4L154.8 14.6M154.8 14.6L160.2 12.8M160.2 12.8L165.7 10.9M165.7 10.9L171.1 10.0M171.1 10.0L176.6 10.9M176.6 10.9L184.0 11.8M18.2 0.0L19.0 7.0M19.0 7.0L20.0 14.6M43.7 36.4L53.0 37.5M53.0 37.5L63.8 37.3M-1.0 78.0L3.6 76.8M3.6 76.8L10.9 74.1M10.9 74.1L16.4 71.3M16.4 71.3L21.9 65.9M21.9 65.9L25.5 58.6M25.5 58.6L26.4 53.1M26.4 53.1L31.0 50.4M31.0 50.4L36.4 49.5M36.4 49.5L42.0 47.0M27.3 82.3L32.8 79.5M32.8 79.5L36.4 76.8M36.4 76.8L41.9 77.7M52.8 77.7L58.3 75.0M58.3 75.0L63.8 71.3M63.8 71.3L69.2 69.5M56.5 62.2L61.9 58.6M61.9 58.6L67.4 56.8M67.4 56.8L72.9 54.9M72.9 54.9L80.1 56.8M80.1 56.8L85.6 60.4M85.6 60.4L92.0 62.2M69.2 82.3L76.5 80.4M76.5 80.4L83.8 81.3M83.8 81.3L92.0 83.2M92.0 83.2L98.3 80.4M98.3 80.4L105.6 77.7M105.6 77.7L111.0 75.0M111.0 75.0L116.5 73.1M91.0 67.7L98.3 65.9M98.3 65.9L105.6 64.0M105.6 64.0L112.9 62.2M112.9 62.2L120.1 64.0M131.1 74.1L134.7 78.6M140.2 83.2L143.8 78.6M143.8 78.6L147.5 75.9M162.0 75.0L165.7 77.7M165.7 77.7L169.3 81.3M169.3 81.3L173.0 83.2M173.0 83.2L176.6 80.4M176.6 80.4L180.3 75.0M180.3 75.0L184.0 73.1M162.0 54.9L167.5 53.1M167.5 53.1L174.8 51.3M174.8 51.3L180.3 49.5M180.3 49.5L184.0 49.0M-1.0 104.4L7.3 106.2M7.3 106.2L12.8 109.9M12.8 109.9L20.0 111.7M20.0 111.7L27.3 111.7M27.3 111.7L32.8 109.9M32.8 109.9L38.3 104.4M38.3 104.4L43.7 100.8M43.7 100.8L49.2 98.9M49.2 98.9L54.6 95.3M54.6 95.3L58.3 89.8M58.3 89.8L60.1 88.0M60.1 88.0L62.0 84.0M43.7 98.9L54.6 102.6M54.6 102.6L63.8 104.4M63.8 104.4L72.9 105.3M160.2 109.9L167.5 113.5M167.5 113.5L174.8 115.3M174.8 115.3L184.0 117.0M101.9 109.9L103.8 117.1M103.8 117.1L98.3 124.4M98.3 124.4L94.6 129.9M154.8 111.7L160.2 120.8M160.2 120.8L167.5 124.4M167.5 124.4L174.8 128.1M174.8 128.1L184.0 127.2M98.0 97.0L105.6 94.4M105.6 94.4L112.9 91.6M112.9 91.6L120.1 93.5M120.1 93.5L127.4 91.6M127.4 91.6L134.7 89.8M134.7 89.8L140.0 88.0M140.0 88.0L137.4 84.1M-1.0 150.6L6.2 149.5M6.2 149.5L12.4 146.4M12.4 146.4L20.6 145.4M20.6 145.4L28.9 147.5M28.9 147.5L37.1 148.5M37.1 148.5L41.3 144.4M49.5 138.2L55.7 137.2M55.7 137.2L59.8 134.1M59.8 134.1L63.9 132.0M63.9 132.0L66.0 128.0M84.0 140.0L91.0 144.4M91.0 144.4L99.3 143.3M-2.5 166.4L2.0 168.4M2.0 168.4L6.0 171.4M6.0 171.4L10.2 174.2M10.2 174.2L12.1 178.8M12.1 178.8L12.5 183.8M12.5 183.8L13.5 188.7M13.5 188.7L14.7 193.5M14.7 193.5L13.3 198.3M13.3 198.3L11.6 203.0M11.6 203.0L8.9 207.2M77.2 146.9L82.2 146.2M82.2 146.2L87.2 146.4M87.2 146.4L91.4 149.1M91.4 149.1L93.8 153.5M93.8 153.5L93.4 158.5M93.4 158.5L95.6 163.0M95.6 163.0L97.4 167.6M97.4 167.6L98.8 172.4M98.8 172.4L100.9 177.0M156.6 158.5L161.4 157.3M161.4 157.3L166.1 159.0M166.1 159.0L171.0 160.1M171.0 160.1L175.7 158.4M175.7 158.4L179.0 154.6M179.0 154.6L183.2 151.9M183.2 151.9L188.2 151.9M-4.5 17.1L0.5 16.6M0.5 16.6L4.9 18.9M4.9 18.9L9.9 19.0M9.9 19.0L14.8 20.1M14.8 20.1L19.5 21.9M19.5 21.9L23.1 25.4M23.1 25.4L27.3 28.0M27.3 28.0L30.4 31.9M147.3 116.7L150.2 112.5M150.2 112.5L151.0 107.6M151.0 107.6L152.8 102.9M152.8 102.9L156.5 99.6M156.5 99.6L160.2 96.2M160.2 96.2L165.1 95.2M165.1 95.2L169.9 96.5M169.9 96.5L174.8 97.1M174.8 97.1L179.6 95.6M41.3 61.4L41.7 66.4M41.7 66.4L40.6 71.3M40.6 71.3L37.8 75.4M37.8 75.4L37.0 80.4M37.0 80.4L38.3 85.2M38.3 85.2L40.2 89.8M40.2 89.8L43.7 93.4M119.2 100.2L120.3 105.0M120.3 105.0L119.7 110.0M119.7 110.0L121.9 114.5M121.9 114.5L124.3 118.9M124.3 118.9L128.5 121.5M128.5 121.5L131.8 125.3M131.8 125.3L136.3 127.5M136.3 127.5L140.0 130.9M140.0 130.9L144.5 132.9M144.5 132.9L148.5 136.0M6.2 145.9L8.1 150.5M8.1 150.5L12.0 153.7M12.0 153.7L16.9 154.6M16.9 154.6L21.6 153.0M21.6 153.0L26.6 153.3M26.6 153.3L31.3 155.1M83.4 168.8L82.2 173.7M82.2 173.7L79.1 177.6M79.1 177.6L78.3 182.5M78.3 182.5L80.2 187.1M80.2 187.1L81.3 192.0M81.3 192.0L84.7 195.6M84.7 195.6L89.0 198.2" fill="none" stroke="#00b0f0" stroke-width="3.5" stroke-linecap="round" stroke-linejoin="round"/>
<path d="M71.0 16.0L76.5 16.0M89.0 14.6L91.0 14.6M125.6 9.1L131.1 10.0M131.1 10.0L136.5 12.8M136.5 12.8L142.0 16.4M142.0 16.4L145.6 17.3M145.6 17.3L149.3 16.4M-1.0 95.3L5.5 93.5M5.5 93.5L10.9 91.6M10.9 91.6L16.4 89.8M16.4 89.8L20.0 88.0M20.0 88.0L21.9 84.1M21.9 84.1L27.3 82.3M41.9 77.7L47.4 78.6M47.4 78.6L52.8 77.7M120.1 64.0L124.7 65.9M124.7 65.9L127.4 69.5M127.4 69.5L131.1 74.1M134.7 78.6L137.4 84.1M137.4 84.1L140.2 83.2M147.5 75.9L152.9 74.1M152.9 74.1L158.4 73.1M158.4 73.1L162.0 75.0M72.9 105.3L80.1 106.2M80.1 106.2L85.6 107.1M85.6 107.1L92.0 108.0M92.0 108.0L98.3 108.9M98.3 108.9L105.6 109.9M105.6 109.9L112.9 110.8M112.9 110.8L120.1 110.8M120.1 110.8L127.4 109.9M127.4 109.9L134.7 108.9M134.7 108.9L138.4 106.2M138.4 106.2L142.0 105.3M142.0 105.3L145.6 107.1M145.6 107.1L151.1 108.0M151.1 108.0L154.8 107.1M154.8 107.1L160.2 109.9M41.3 144.4L43.3 140.3M43.3 140.3L49.5 138.2" fill="none" stroke="#90e000" stroke-width="3.5" stroke-linecap="round" stroke-linejoin="round"/>
<path d="M31.0 23.7L32.8 29.0M32.8 29.0L31.9 34.6M31.9 34.6L31.0 45.0M60.0 18.2L63.8 23.7M63.8 23.7L65.6 29.0M65.6 29.0L69.2 34.6M69.2 34.6L72.9 38.3M72.9 38.3L76.5 45.0M-1.0 27.3L5.5 25.5M5.5 25.5L10.9 21.9M10.9 21.9L14.6 18.2M14.6 18.2L18.2 16.4M107.4 10.9L105.6 18.2M105.6 18.2L103.8 23.7M103.8 23.7L100.1 31.0M100.1 31.0L96.5 36.4M96.5 36.4L91.0 39.2M142.0 18.2L145.6 27.3M145.6 27.3L149.3 36.4M149.3 36.4L152.9 45.0M100.1 60.4L109.2 56.8M109.2 56.8L114.7 57.7M31.0 111.7L34.6 117.1M34.6 117.1L41.9 120.8M41.9 120.8L47.4 122.6M-1.0 136.0L6.0 135.0M6.0 135.0L12.4 136.0M12.4 136.0L20.0 138.0M8.3 150.0L8.3 158.8M8.3 158.8L8.3 167.1M8.3 167.1L12.4 173.3M12.4 173.3L18.6 177.4M18.6 177.4L24.8 173.3M24.8 173.3L30.9 172.2M43.3 167.1L47.4 167.1M47.4 167.1L53.6 169.1M53.6 169.1L59.8 168.1M59.8 168.1L63.9 162.9M63.9 162.9L68.1 158.8M68.1 158.8L72.2 152.6M72.2 152.6L74.3 144.4M74.3 144.4L72.2 136.1M72.2 136.1L70.0 130.0M165.3 132.0L173.5 136.1M173.5 136.1L184.0 140.3M23.9 124.3L28.2 126.8M28.2 126.8L31.4 130.6M31.4 130.6L34.5 134.6M34.5 134.6L37.6 138.5M37.6 138.5L41.8 141.3M-0.9 133.2L3.0 136.3M3.0 136.3L5.9 140.3M5.9 140.3L9.3 144.0M9.3 144.0L13.9 146.0M38.0 34.2L43.0 34.7M43.0 34.7L47.5 32.5M47.5 32.5L52.0 30.4M52.0 30.4L56.9 29.2M56.9 29.2L61.1 26.5M61.1 26.5L66.1 26.3M66.1 26.3L70.6 24.1M149.6 89.9L153.8 87.3M153.8 87.3L156.2 82.9M156.2 82.9L160.0 79.7M160.0 79.7L164.7 77.8M164.7 77.8L169.3 75.9M169.3 75.9L174.3 75.9M174.3 75.9L178.6 73.4M178.6 73.4L182.0 69.8M182.0 69.8L184.4 65.4M184.4 65.4L186.3 60.8M186.3 60.8L186.4 55.8M100.2 78.7L99.6 83.7M99.6 83.7L100.2 88.6M100.2 88.6L99.3 93.5M99.3 93.5L101.2 98.1M101.2 98.1L102.1 103.1M102.1 103.1L100.2 107.7" fill="none" stroke="#0018d8" stroke-width="3.5" stroke-linecap="round" stroke-linejoin="round"/>
<path d="M92.0 62.2L100.1 60.4M54.6 104.4L58.3 111.7M58.3 111.7L61.9 119.0M61.9 119.0L65.6 124.4M65.6 124.4L69.2 133.0M30.9 172.2L37.1 170.2M37.1 170.2L43.3 167.1M99.3 143.3L107.5 146.4M107.5 146.4L115.8 148.5M115.8 148.5L124.0 148.5M124.0 148.5L132.3 150.6M132.3 150.6L138.4 154.7M138.4 154.7L144.6 156.8M144.6 156.8L152.9 157.8M152.9 157.8L161.1 158.8M161.1 158.8L167.3 162.9M167.3 162.9L173.5 165.0M173.5 165.0L179.7 162.9M179.7 162.9L184.0 161.9M132.3 152.6L130.2 160.9M130.2 160.9L132.3 169.1M132.3 169.1L136.4 175.3M136.4 175.3L140.5 183.0M132.6 17.4L137.6 17.8M137.6 17.8L142.6 17.5M142.6 17.5L147.1 19.6M147.1 19.6L151.4 22.2M151.4 22.2L156.3 23.1M156.3 23.1L160.4 26.0M125.5 47.3L125.7 52.3M125.7 52.3L124.1 57.1M124.1 57.1L122.5 61.8M122.5 61.8L120.5 66.4M120.5 66.4L118.3 70.9M118.3 70.9L118.6 75.9M118.6 75.9L118.4 80.9M118.4 80.9L119.2 85.8M119.2 85.8L119.9 90.7M119.9 90.7L121.8 95.4M121.8 95.4L123.0 100.2" fill="none" stroke="#0060f0" stroke-width="3.5" stroke-linecap="round" stroke-linejoin="round"/>
<path d="M23.7 0.0L24.6 1.8M24.6 1.8L27.3 2.7M27.3 2.7L31.9 3.6M31.9 3.6L36.4 4.0M36.4 4.0L41.9 4.6M41.9 4.6L44.6 6.4M44.6 6.4L47.4 10.0M47.4 10.0L51.0 13.7M51.0 13.7L54.6 16.4M54.6 16.4L58.3 18.2M58.3 18.2L61.9 17.3M61.9 17.3L67.4 16.8M82.0 17.3L84.0 18.2M96.5 13.7L101.9 10.9M101.9 10.9L109.2 7.3M109.2 7.3L114.7 5.5M114.7 5.5L120.1 7.3M120.1 7.3L125.6 9.1M149.3 16.4L154.8 14.6M154.8 14.6L160.2 12.8M160.2 12.8L165.7 10.9M165.7 10.9L171.1 10.0M171.1 10.0L176.6 10.9M176.6 10.9L184.0 11.8M69.2 82.3L76.5 80.4M76.5 80.4L83.8 81.3M83.8 81.3L92.0 83.2M92.0 83.2L98.3 80.4M98.3 80.4L105.6 77.7M105.6 77.7L111.0 75.0M111.0 75.0L116.5 73.1M91.0 67.7L98.3 65.9M98.3 65.9L105.6 64.0M105.6 64.0L112.9 62.2M112.9 62.2L120.1 64.0M131.1 74.1L134.7 78.6M140.2 83.2L143.8 78.6M143.8 78.6L147.5 75.9M162.0 75.0L165.7 77.7M165.7 77.7L169.3 81.3M169.3 81.3L173.0 83.2M173.0 83.2L176.6 80.4M176.6 80.4L180.3 75.0M180.3 75.0L184.0 73.1M-1.0 104.4L7.3 106.2M20.0 111.7L27.3 111.7M27.3 111.7L32.8 109.9M32.8 109.9L38.3 104.4M38.3 104.4L43.7 100.8M43.7 100.8L49.2 98.9M49.2 98.9L54.6 95.3M54.6 95.3L58.3 89.8M58.3 89.8L60.1 88.0M60.1 88.0L62.0 84.0M43.7 98.9L54.6 102.6M54.6 102.6L63.8 104.4M63.8 104.4L72.9 105.3M160.2 109.9L167.5 113.5M167.5 113.5L174.8 115.3M174.8 115.3L184.0 117.0M154.8 111.7L160.2 120.8M160.2 120.8L167.5 124.4M-1.0 150.6L6.2 149.5M6.2 149.5L12.4 146.4M28.9 147.5L37.1 148.5M55.7 137.2L59.8 134.1M59.8 134.1L63.9 132.0M63.9 132.0L66.0 128.0M156.6 158.5L161.4 157.3M161.4 157.3L166.1 159.0M166.1 159.0L171.0 160.1M171.0 160.1L175.7 158.4M175.7 158.4L179.0 154.6M179.0 154.6L183.2 151.9M183.2 151.9L188.2 151.9M41.3 61.4L41.7 66.4M41.7 66.4L40.6 71.3M40.6 71.3L37.8 75.4M37.8 75.4L37.0 80.4M37.0 80.4L38.3 85.2M38.3 85.2L40.2 89.8M40.2 89.8L43.7 93.4M6.2 145.9L8.1 150.5M8.1 150.5L12.0 153.7M12.0 153.7L16.9 154.6M16.9 154.6L21.6 153.0M21.6 153.0L26.6 153.3M26.6 153.3L31.3 155.1M83.4 168.8L82.2 173.7M82.2 173.7L79.1 177.6M79.1 177.6L78.3 182.5M78.3 182.5L80.2 187.1M80.2 187.1L81.3 192.0M81.3 192.0L84.7 195.6M84.7 195.6L89.0 198.2" fill="none" stroke="#10d020" stroke-width="1.9" stroke-linecap="round" stroke-linejoin="round"/>
<path d="M67.4 16.8L71.0 16.0M76.5 16.0L82.0 17.3" fill="none" stroke="#b3e300" stroke-width="1.9" stroke-linecap="round" stroke-linejoin="round"/>
<path d="M71.0 16.0L76.5 16.0M89.0 14.6L91.0 14.6M125.6 9.1L131.1 10.0M131.1 10.0L136.5 12.8M136.5 12.8L142.0 16.4M142.0 16.4L145.6 17.3M145.6 17.3L149.3 16.4M-1.0 95.3L5.5 93.5M5.5 93.5L10.9 91.6M10.9 91.6L16.4 89.8M16.4 89.8L20.0 88.0M20.0 88.0L21.9 84.1M21.9 84.1L27.3 82.3M41.9 77.7L47.4 78.6M47.4 78.6L52.8 77.7M120.1 64.0L124.7 65.9M124.7 65.9L127.4 69.5M127.4 69.5L131.1 74.1M134.7 78.6L137.4 84.1M137.4 84.1L140.2 83.2M147.5 75.9L152.9 74.1M152.9 74.1L158.4 73.1M158.4 73.1L162.0 75.0M72.9 105.3L80.1 106.2M80.1 106.2L85.6 107.1M85.6 107.1L92.0 108.0M92.0 108.0L98.3 108.9M98.3 108.9L105.6 109.9M105.6 109.9L112.9 110.8M112.9 110.8L120.1 110.8M120.1 110.8L127.4 109.9M127.4 109.9L134.7 108.9M134.7 108.9L138.4 106.2M138.4 106.2L142.0 105.3M142.0 105.3L145.6 107.1M145.6 107.1L151.1 108.0M151.1 108.0L154.8 107.1M154.8 107.1L160.2 109.9M41.3 144.4L43.3 140.3M43.3 140.3L49.5 138.2" fill="none" stroke="#ffa000" stroke-width="1.9" stroke-linecap="round" stroke-linejoin="round"/>
<path d="M84.0 18.2L89.0 14.6M91.0 14.6L96.5 13.7" fill="none" stroke="#99e100" stroke-width="1.9" stroke-linecap="round" stroke-linejoin="round"/>
<path d="M18.2 0.0L19.0 7.0M19.0 7.0L20.0 14.6M43.7 36.4L53.0 37.5M53.0 37.5L63.8 37.3M162.0 54.9L167.5 53.1M167.5 53.1L174.8 51.3M174.8 51.3L180.3 49.5M180.3 49.5L184.0 49.0M101.9 109.9L103.8 117.1M103.8 117.1L98.3 124.4M98.3 124.4L94.6 129.9M-2.5 166.4L2.0 168.4M2.0 168.4L6.0 171.4M6.0 171.4L10.2 174.2M10.2 174.2L12.1 178.8M12.1 178.8L12.5 183.8M12.5 183.8L13.5 188.7M13.5 188.7L14.7 193.5M14.7 193.5L13.3 198.3M13.3 198.3L11.6 203.0M11.6 203.0L8.9 207.2M77.2 146.9L82.2 146.2M82.2 146.2L87.2 146.4M87.2 146.4L91.4 149.1M91.4 149.1L93.8 153.5M93.8 153.5L93.4 158.5M93.4 158.5L95.6 163.0M95.6 163.0L97.4 167.6M97.4 167.6L98.8 172.4M98.8 172.4L100.9 177.0M-4.5 17.1L0.5 16.6M0.5 16.6L4.9 18.9M4.9 18.9L9.9 19.0M9.9 19.0L14.8 20.1M14.8 20.1L19.5 21.9M19.5 21.9L23.1 25.4M23.1 25.4L27.3 28.0M27.3 28.0L30.4 31.9M147.3 116.7L150.2 112.5M150.2 112.5L151.0 107.6M151.0 107.6L152.8 102.9M152.8 102.9L156.5 99.6M156.5 99.6L160.2 96.2M160.2 96.2L165.1 95.2M165.1 95.2L169.9 96.5M169.9 96.5L174.8 97.1M174.8 97.1L179.6 95.6M119.2 100.2L120.3 105.0M120.3 105.0L119.7 110.0M119.7 110.0L121.9 114.5M121.9 114.5L124.3 118.9M124.3 118.9L128.5 121.5M128.5 121.5L131.8 125.3M131.8 125.3L136.3 127.5M136.3 127.5L140.0 130.9M140.0 130.9L144.5 132.9M144.5 132.9L148.5 136.0" fill="none" stroke="#08d468" stroke-width="1.9" stroke-linecap="round" stroke-linejoin="round"/>
<path d="M31.0 23.7L32.8 29.0M32.8 29.0L31.9 34.6M31.9 34.6L31.0 45.0M-1.0 27.3L5.5 25.5M5.5 25.5L10.9 21.9M10.9 21.9L14.6 18.2M14.6 18.2L18.2 16.4M107.4 10.9L105.6 18.2M105.6 18.2L103.8 23.7M103.8 23.7L100.1 31.0M100.1 31.0L96.5 36.4M96.5 36.4L91.0 39.2M142.0 18.2L145.6 27.3M145.6 27.3L149.3 36.4M149.3 36.4L152.9 45.0M31.0 111.7L34.6 117.1M34.6 117.1L41.9 120.8M41.9 120.8L47.4 122.6M-1.0 136.0L6.0 135.0M6.0 135.0L12.4 136.0M12.4 136.0L20.0 138.0M165.3 132.0L173.5 136.1M173.5 136.1L184.0 140.3M23.9 124.3L28.2 126.8M28.2 126.8L31.4 130.6M31.4 130.6L34.5 134.6M34.5 134.6L37.6 138.5M37.6 138.5L41.8 141.3M-0.9 133.2L3.0 136.3M3.0 136.3L5.9 140.3M5.9 140.3L9.3 144.0M9.3 144.0L13.9 146.0M38.0 34.2L43.0 34.7M43.0 34.7L47.5 32.5M47.5 32.5L52.0 30.4M52.0 30.4L56.9 29.2M56.9 29.2L61.1 26.5M61.1 26.5L66.1 26.3M66.1 26.3L70.6 24.1M149.6 89.9L153.8 87.3M153.8 87.3L156.2 82.9M156.2 82.9L160.0 79.7M160.0 79.7L164.7 77.8M164.7 77.8L169.3 75.9M169.3 75.9L174.3 75.9M174.3 75.9L178.6 73.4M178.6 73.4L182.0 69.8M182.0 69.8L184.4 65.4M184.4 65.4L186.3 60.8M186.3 60.8L186.4 55.8M100.2 78.7L99.6 83.7M99.6 83.7L100.2 88.6M100.2 88.6L99.3 93.5M99.3 93.5L101.2 98.1M101.2 98.1L102.1 103.1M102.1 103.1L100.2 107.7" fill="none" stroke="#0060f0" stroke-width="1.9" stroke-linecap="round" stroke-linejoin="round"/>
<path d="M60.0 18.2L63.8 23.7M63.8 23.7L65.6 29.0M65.6 29.0L69.2 34.6M69.2 34.6L72.9 38.3M72.9 38.3L76.5 45.0M8.3 150.0L8.3 158.8M8.3 158.8L8.3 167.1M8.3 167.1L12.4 173.3M12.4 173.3L18.6 177.4M18.6 177.4L24.8 173.3M24.8 173.3L30.9 172.2M43.3 167.1L47.4 167.1M47.4 167.1L53.6 169.1M53.6 169.1L59.8 168.1M59.8 168.1L63.9 162.9M63.9 162.9L68.1 158.8M68.1 158.8L72.2 152.6M72.2 152.6L74.3 144.4M74.3 144.4L72.2 136.1M72.2 136.1L70.0 130.0" fill="none" stroke="#0070f0" stroke-width="1.9" stroke-linecap="round" stroke-linejoin="round"/>
<path d="M-1.0 78.0L3.6 76.8M3.6 76.8L10.9 74.1M10.9 74.1L16.4 71.3M16.4 71.3L21.9 65.9M21.9 65.9L25.5 58.6M25.5 58.6L26.4 53.1M26.4 53.1L31.0 50.4M31.0 50.4L36.4 49.5M36.4 49.5L42.0 47.0M56.5 62.2L61.9 58.6M72.9 54.9L80.1 56.8M80.1 56.8L85.6 60.4M85.6 60.4L92.0 62.2M98.0 97.0L105.6 94.4M105.6 94.4L112.9 91.6M112.9 91.6L120.1 93.5M120.1 93.5L127.4 91.6M127.4 91.6L134.7 89.8M134.7 89.8L140.0 88.0M140.0 88.0L137.4 84.1" fill="none" stroke="#0dd23d" stroke-width="1.9" stroke-linecap="round" stroke-linejoin="round"/>
<path d="M27.3 82.3L32.8 79.5" fill="none" stroke="#dfe700" stroke-width="1.9" stroke-linecap="round" stroke-linejoin="round"/>
<path d="M32.8 79.5L36.4 76.8M58.3 75.0L63.8 71.3M63.8 71.3L69.2 69.5" fill="none" stroke="#2ad31a" stroke-width="1.9" stroke-linecap="round" stroke-linejoin="round"/>
<path d="M36.4 76.8L41.9 77.7M52.8 77.7L58.3 75.0" fill="none" stroke="#aae200" stroke-width="1.9" stroke-linecap="round" stroke-linejoin="round"/>
<path d="M61.9 58.6L67.4 56.8M67.4 56.8L72.9 54.9" fill="none" stroke="#90e000" stroke-width="1.9" stroke-linecap="round" stroke-linejoin="round"/>
<path d="M92.0 62.2L100.1 60.4" fill="none" stroke="#01d8a9" stroke-width="1.9" stroke-linecap="round" stroke-linejoin="round"/>
<path d="M100.1 60.4L109.2 56.8M109.2 56.8L114.7 57.7" fill="none" stroke="#0078f0" stroke-width="1.9" stroke-linecap="round" stroke-linejoin="round"/>
<path d="M7.3 106.2L12.8 109.9M12.8 109.9L20.0 111.7M167.5 124.4L174.8 128.1M174.8 128.1L184.0 127.2" fill="none" stroke="#a6e200" stroke-width="1.9" stroke-linecap="round" stroke-linejoin="round"/>
<path d="M54.6 104.4L58.3 111.7M58.3 111.7L61.9 119.0M61.9 119.0L65.6 124.4M65.6 124.4L69.2 133.0M132.3 152.6L130.2 160.9M130.2 160.9L132.3 169.1M132.3 169.1L136.4 175.3M136.4 175.3L140.5 183.0" fill="none" stroke="#00d0bd" stroke-width="1.9" stroke-linecap="round" stroke-linejoin="round"/>
<path d="M12.4 146.4L20.6 145.4M20.6 145.4L28.9 147.5M37.1 148.5L41.3 144.4M49.5 138.2L55.7 137.2" fill="none" stroke="#a2e200" stroke-width="1.9" stroke-linecap="round" stroke-linejoin="round"/>
<path d="M30.9 172.2L37.1 170.2M37.1 170.2L43.3 167.1" fill="none" stroke="#02d7a2" stroke-width="1.9" stroke-linecap="round" stroke-linejoin="round"/>
<path d="M84.0 140.0L91.0 144.4M91.0 144.4L99.3 143.3" fill="none" stroke="#6adb0a" stroke-width="1.9" stroke-linecap="round" stroke-linejoin="round"/>
<path d="M99.3 143.3L107.5 146.4M107.5 146.4L115.8 148.5M115.8 148.5L124.0 148.5M124.0 148.5L132.3 150.6M132.3 150.6L138.4 154.7M138.4 154.7L144.6 156.8M144.6 156.8L152.9 157.8M152.9 157.8L161.1 158.8M161.1 158.8L167.3 162.9M167.3 162.9L173.5 165.0M173.5 165.0L179.7 162.9M179.7 162.9L184.0 161.9" fill="none" stroke="#03d693" stroke-width="1.9" stroke-linecap="round" stroke-linejoin="round"/>
<path d="M132.6 17.4L137.6 17.8M137.6 17.8L142.6 17.5M142.6 17.5L147.1 19.6M147.1 19.6L151.4 22.2M151.4 22.2L156.3 23.1M156.3 23.1L160.4 26.0M125.5 47.3L125.7 52.3M125.7 52.3L124.1 57.1M124.1 57.1L122.5 61.8M122.5 61.8L120.5 66.4M120.5 66.4L118.3 70.9M118.3 70.9L118.6 75.9M118.6 75.9L118.4 80.9M118.4 80.9L119.2 85.8M119.2 85.8L119.9 90.7M119.9 90.7L121.8 95.4M121.8 95.4L123.0 100.2" fill="none" stroke="#00d8b0" stroke-width="1.9" stroke-linecap="round" stroke-linejoin="round"/>
<path d="M131.1 10.0L136.5 12.8M136.5 12.8L142.0 16.4M142.0 16.4L145.6 17.3M-1.0 95.3L5.5 93.5M5.5 93.5L10.9 91.6M10.9 91.6L16.4 89.8M16.4 89.8L20.0 88.0M20.0 88.0L21.9 84.1M21.9 84.1L27.3 82.3M124.7 65.9L127.4 69.5M152.9 74.1L158.4 73.1M80.1 106.2L85.6 107.1M85.6 107.1L92.0 108.0M92.0 108.0L98.3 108.9M98.3 108.9L105.6 109.9M105.6 109.9L112.9 110.8M112.9 110.8L120.1 110.8M120.1 110.8L127.4 109.9M127.4 109.9L134.7 108.9M134.7 108.9L138.4 106.2M138.4 106.2L142.0 105.3M142.0 105.3L145.6 107.1M145.6 107.1L151.1 108.0M151.1 108.0L154.8 107.1" fill="none" stroke="#d01000" stroke-width="1.6" stroke-linecap="round" stroke-linejoin="round"/>
<path fill="#d0d0d0" d="M54.7 42.3a2.6 2.6 0 1 0 5.2 0a2.6 2.6 0 1 0 -5.2 0M31.9 168.1a2.5 2.5 0 1 0 5.1 0a2.5 2.5 0 1 0 -5.1 0M182.2 -0.3a1.8 1.8 0 1 0 3.6 0a1.8 1.8 0 1 0 -3.6 0M45.8 117.3a2.2 2.2 0 1 0 4.4 0a2.2 2.2 0 1 0 -4.4 0M107.0 34.8a2.8 2.8 0 1 0 5.6 0a2.8 2.8 0 1 0 -5.6 0M118.4 50.2a3.1 3.1 0 1 0 6.1 0a3.1 3.1 0 1 0 -6.1 0M85.1 89.2a2.6 2.6 0 1 0 5.2 0a2.6 2.6 0 1 0 -5.2 0M39.5 130.6a2.1 2.1 0 1 0 4.2 0a2.1 2.1 0 1 0 -4.2 0M123.2 23.4a1.9 1.9 0 1 0 3.9 0a1.9 1.9 0 1 0 -3.9 0M180.9 94.7a2.8 2.8 0 1 0 5.6 0a2.8 2.8 0 1 0 -5.6 0M38.9 74.9a2.1 2.1 0 1 0 4.2 0a2.1 2.1 0 1 0 -4.2 0M54.2 145.8a2.1 2.1 0 1 0 4.2 0a2.1 2.1 0 1 0 -4.2 0M14.5 102.1a2.1 2.1 0 1 0 4.3 0a2.1 2.1 0 1 0 -4.3 0M36.7 58.3a2.0 2.0 0 1 0 4.1 0a2.0 2.0 0 1 0 -4.1 0M94.2 70.6a1.9 1.9 0 1 0 3.8 0a1.9 1.9 0 1 0 -3.8 0M84.4 135.8a3.1 3.1 0 1 0 6.2 0a3.1 3.1 0 1 0 -6.2 0M104.5 117.6a2.5 2.5 0 1 0 4.9 0a2.5 2.5 0 1 0 -4.9 0M164.1 167.4a2.1 2.1 0 1 0 4.3 0a2.1 2.1 0 1 0 -4.3 0M176.2 100.0a3.1 3.1 0 1 0 6.2 0a3.1 3.1 0 1 0 -6.2 0M121.8 85.0a1.9 1.9 0 1 0 3.7 0a1.9 1.9 0 1 0 -3.7 0M102.8 159.4a2.4 2.4 0 1 0 4.8 0a2.4 2.4 0 1 0 -4.8 0M101.1 68.1a2.2 2.2 0 1 0 4.4 0a2.2 2.2 0 1 0 -4.4 0M138.0 58.7a1.9 1.9 0 1 0 3.8 0a1.9 1.9 0 1 0 -3.8 0M177.2 13.8a2.0 2.0 0 1 0 4.0 0a2.0 2.0 0 1 0 -4.0 0M126.6 140.7a2.0 2.0 0 1 0 4.0 0a2.0 2.0 0 1 0 -4.0 0M164.3 1.9a2.8 2.8 0 1 0 5.7 0a2.8 2.8 0 1 0 -5.7 0M126.4 35.3a2.3 2.3 0 1 0 4.6 0a2.3 2.3 0 1 0 -4.6 0M80.5 132.0a2.2 2.2 0 1 0 4.4 0a2.2 2.2 0 1 0 -4.4 0M107.3 41.0a1.9 1.9 0 1 0 3.7 0a1.9 1.9 0 1 0 -3.7 0M78.5 11.7a3.0 3.0 0 1 0 6.0 0a3.0 3.0 0 1 0 -6.0 0M162.9 91.8a2.4 2.4 0 1 0 4.9 0a2.4 2.4 0 1 0 -4.9 0M72.8 182.9a2.6 2.6 0 1 0 5.1 0a2.6 2.6 0 1 0 -5.1 0M83.7 173.5a3.1 3.1 0 1 0 6.1 0a3.1 3.1 0 1 0 -6.1 0M-1.6 123.1a2.7 2.7 0 1 0 5.5 0a2.7 2.7 0 1 0 -5.5 0M10.1 48.3a1.9 1.9 0 1 0 3.8 0a1.9 1.9 0 1 0 -3.8 0M8.2 123.3a2.5 2.5 0 1 0 4.9 0a2.5 2.5 0 1 0 -4.9 0M122.1 144.5a2.4 2.4 0 1 0 4.9 0a2.4 2.4 0 1 0 -4.9 0M146.1 4.9a3.0 3.0 0 1 0 5.9 0a3.0 3.0 0 1 0 -5.9 0M83.4 165.7a2.9 2.9 0 1 0 5.8 0a2.9 2.9 0 1 0 -5.8 0M39.8 83.8a1.8 1.8 0 1 0 3.7 0a1.8 1.8 0 1 0 -3.7 0M61.3 4.6a1.9 1.9 0 1 0 3.9 0a1.9 1.9 0 1 0 -3.9 0M23.5 69.2a2.9 2.9 0 1 0 5.9 0a2.9 2.9 0 1 0 -5.9 0M4.3 179.4a3.0 3.0 0 1 0 6.1 0a3.0 3.0 0 1 0 -6.1 0M16.2 50.5a3.1 3.1 0 1 0 6.2 0a3.1 3.1 0 1 0 -6.2 0M40.2 178.9a3.0 3.0 0 1 0 6.0 0a3.0 3.0 0 1 0 -6.0 0M16.3 162.8a2.2 2.2 0 1 0 4.4 0a2.2 2.2 0 1 0 -4.4 0M78.2 -1.2a2.0 2.0 0 1 0 4.0 0a2.0 2.0 0 1 0 -4.0 0M23.0 163.1a2.1 2.1 0 1 0 4.3 0a2.1 2.1 0 1 0 -4.3 0M72.1 96.1a2.9 2.9 0 1 0 5.9 0a2.9 2.9 0 1 0 -5.9 0M178.7 112.7a2.8 2.8 0 1 0 5.6 0a2.8 2.8 0 1 0 -5.6 0M130.0 82.5a2.2 2.2 0 1 0 4.5 0a2.2 2.2 0 1 0 -4.5 0M168.8 33.2a2.7 2.7 0 1 0 5.4 0a2.7 2.7 0 1 0 -5.4 0M-4.3 184.9a2.8 2.8 0 1 0 5.6 0a2.8 2.8 0 1 0 -5.6 0M105.2 81.4a2.5 2.5 0 1 0 5.0 0a2.5 2.5 0 1 0 -5.0 0M44.8 134.1a2.3 2.3 0 1 0 4.5 0a2.3 2.3 0 1 0 -4.5 0M179.5 103.6a2.0 2.0 0 1 0 4.1 0a2.0 2.0 0 1 0 -4.1 0M160.5 -0.6a2.2 2.2 0 1 0 4.4 0a2.2 2.2 0 1 0 -4.4 0M178.1 60.2a2.8 2.8 0 1 0 5.6 0a2.8 2.8 0 1 0 -5.6 0M147.5 130.7a2.5 2.5 0 1 0 4.9 0a2.5 2.5 0 1 0 -4.9 0M104.9 25.5a2.8 2.8 0 1 0 5.7 0a2.8 2.8 0 1 0 -5.7 0M146.8 62.3a1.8 1.8 0 1 0 3.6 0a1.8 1.8 0 1 0 -3.6 0M48.7 20.7a3.0 3.0 0 1 0 5.9 0a3.0 3.0 0 1 0 -5.9 0M102.2 134.0a2.7 2.7 0 1 0 5.4 0a2.7 2.7 0 1 0 -5.4 0M153.7 151.4a2.2 2.2 0 1 0 4.4 0a2.2 2.2 0 1 0 -4.4 0M160.8 31.2a2.6 2.6 0 1 0 5.1 0a2.6 2.6 0 1 0 -5.1 0M52.7 117.9a1.9 1.9 0 1 0 3.7 0a1.9 1.9 0 1 0 -3.7 0M57.1 32.0a2.4 2.4 0 1 0 4.8 0a2.4 2.4 0 1 0 -4.8 0M17.3 27.7a2.6 2.6 0 1 0 5.2 0a2.6 2.6 0 1 0 -5.2 0M140.4 99.8a2.3 2.3 0 1 0 4.5 0a2.3 2.3 0 1 0 -4.5 0M169.0 37.5a1.9 1.9 0 1 0 3.7 0a1.9 1.9 0 1 0 -3.7 0M89.2 163.8a2.8 2.8 0 1 0 5.6 0a2.8 2.8 0 1 0 -5.6 0M50.7 -2.6a2.6 2.6 0 1 0 5.2 0a2.6 2.6 0 1 0 -5.2 0M112.5 118.8a1.8 1.8 0 1 0 3.7 0a1.8 1.8 0 1 0 -3.7 0M150.2 133.8a3.0 3.0 0 1 0 6.0 0a3.0 3.0 0 1 0 -6.0 0M114.6 53.7a3.0 3.0 0 1 0 6.0 0a3.0 3.0 0 1 0 -6.0 0M178.8 145.5a2.7 2.7 0 1 0 5.4 0a2.7 2.7 0 1 0 -5.4 0M155.3 129.5a2.7 2.7 0 1 0 5.3 0a2.7 2.7 0 1 0 -5.3 0M98.5 2.1a2.7 2.7 0 1 0 5.4 0a2.7 2.7 0 1 0 -5.4 0M126.8 129.9a2.3 2.3 0 1 0 4.6 0a2.3 2.3 0 1 0 -4.6 0M154.0 104.4a3.0 3.0 0 1 0 6.0 0a3.0 3.0 0 1 0 -6.0 0M17.8 105.3a2.7 2.7 0 1 0 5.4 0a2.7 2.7 0 1 0 -5.4 0M109.4 77.8a2.5 2.5 0 1 0 4.9 0a2.5 2.5 0 1 0 -4.9 0M1.5 159.9a3.0 3.0 0 1 0 5.9 0a3.0 3.0 0 1 0 -5.9 0M9.6 33.6a2.3 2.3 0 1 0 4.5 0a2.3 2.3 0 1 0 -4.5 0M12.8 106.8a3.0 3.0 0 1 0 6.0 0a3.0 3.0 0 1 0 -6.0 0M107.7 176.0a1.9 1.9 0 1 0 3.7 0a1.9 1.9 0 1 0 -3.7 0M168.3 138.8a2.9 2.9 0 1 0 5.9 0a2.9 2.9 0 1 0 -5.9 0M124.7 31.2a3.0 3.0 0 1 0 6.1 0a3.0 3.0 0 1 0 -6.1 0M144.9 69.4a2.4 2.4 0 1 0 4.8 0a2.4 2.4 0 1 0 -4.8 0M157.6 134.3a2.0 2.0 0 1 0 4.0 0a2.0 2.0 0 1 0 -4.0 0M68.9 4.2a2.0 2.0 0 1 0 3.9 0a2.0 2.0 0 1 0 -3.9 0M71.3 155.9a2.8 2.8 0 1 0 5.5 0a2.8 2.8 0 1 0 -5.5 0M122.1 136.9a2.7 2.7 0 1 0 5.4 0a2.7 2.7 0 1 0 -5.4 0M154.5 49.4a3.1 3.1 0 1 0 6.2 0a3.1 3.1 0 1 0 -6.2 0M174.8 64.0a2.4 2.4 0 1 0 4.8 0a2.4 2.4 0 1 0 -4.8 0M63.4 86.5a2.0 2.0 0 1 0 4.0 0a2.0 2.0 0 1 0 -4.0 0M48.7 162.8a2.8 2.8 0 1 0 5.7 0a2.8 2.8 0 1 0 -5.7 0M27.5 184.8a2.2 2.2 0 1 0 4.4 0a2.2 2.2 0 1 0 -4.4 0M167.4 84.5a2.4 2.4 0 1 0 4.7 0a2.4 2.4 0 1 0 -4.7 0M87.0 24.9a3.0 3.0 0 1 0 6.1 0a3.0 3.0 0 1 0 -6.1 0M147.3 162.3a2.8 2.8 0 1 0 5.6 0a2.8 2.8 0 1 0 -5.6 0M118.8 0.0a2.7 2.7 0 1 0 5.4 0a2.7 2.7 0 1 0 -5.4 0M129.5 51.3a1.8 1.8 0 1 0 3.7 0a1.8 1.8 0 1 0 -3.7 0M89.9 46.2a3.1 3.1 0 1 0 6.2 0a3.1 3.1 0 1 0 -6.2 0M121.0 12.3a2.4 2.4 0 1 0 4.9 0a2.4 2.4 0 1 0 -4.9 0M105.3 4.6a2.7 2.7 0 1 0 5.4 0a2.7 2.7 0 1 0 -5.4 0M82.0 116.3a2.9 2.9 0 1 0 5.7 0a2.9 2.9 0 1 0 -5.7 0M9.2 53.5a2.8 2.8 0 1 0 5.5 0a2.8 2.8 0 1 0 -5.5 0M161.4 104.4a2.1 2.1 0 1 0 4.2 0a2.1 2.1 0 1 0 -4.2 0M182.3 101.3a2.2 2.2 0 1 0 4.5 0a2.2 2.2 0 1 0 -4.5 0M119.4 124.1a2.6 2.6 0 1 0 5.3 0a2.6 2.6 0 1 0 -5.3 0M100.3 159.0a1.8 1.8 0 1 0 3.6 0a1.8 1.8 0 1 0 -3.6 0M17.0 73.4a3.0 3.0 0 1 0 6.0 0a3.0 3.0 0 1 0 -6.0 0M94.8 152.1a3.0 3.0 0 1 0 5.9 0a3.0 3.0 0 1 0 -5.9 0M79.9 73.7a2.9 2.9 0 1 0 5.8 0a2.9 2.9 0 1 0 -5.8 0M-3.1 108.0a2.2 2.2 0 1 0 4.4 0a2.2 2.2 0 1 0 -4.4 0M154.9 27.7a2.5 2.5 0 1 0 4.9 0a2.5 2.5 0 1 0 -4.9 0M117.4 46.9a2.5 2.5 0 1 0 5.0 0a2.5 2.5 0 1 0 -5.0 0M62.0 155.5a2.2 2.2 0 1 0 4.4 0a2.2 2.2 0 1 0 -4.4 0M128.8 146.7a2.2 2.2 0 1 0 4.5 0a2.2 2.2 0 1 0 -4.5 0M126.3 54.7a2.9 2.9 0 1 0 5.8 0a2.9 2.9 0 1 0 -5.8 0M60.4 97.8a2.2 2.2 0 1 0 4.4 0a2.2 2.2 0 1 0 -4.4 0M173.7 18.4a1.9 1.9 0 1 0 3.8 0a1.9 1.9 0 1 0 -3.8 0M141.6 3.4a2.4 2.4 0 1 0 4.9 0a2.4 2.4 0 1 0 -4.9 0M5.0 175.8a2.3 2.3 0 1 0 4.6 0a2.3 2.3 0 1 0 -4.6 0M143.2 52.9a2.7 2.7 0 1 0 5.5 0a2.7 2.7 0 1 0 -5.5 0M20.9 18.2a2.7 2.7 0 1 0 5.4 0a2.7 2.7 0 1 0 -5.4 0M32.8 43.4a2.6 2.6 0 1 0 5.1 0a2.6 2.6 0 1 0 -5.1 0M162.9 -2.6a2.4 2.4 0 1 0 4.7 0a2.4 2.4 0 1 0 -4.7 0M133.3 68.4a3.1 3.1 0 1 0 6.2 0a3.1 3.1 0 1 0 -6.2 0M48.2 59.5a2.4 2.4 0 1 0 4.7 0a2.4 2.4 0 1 0 -4.7 0M111.5 71.4a1.8 1.8 0 1 0 3.7 0a1.8 1.8 0 1 0 -3.7 0M66.8 165.5a2.7 2.7 0 1 0 5.4 0a2.7 2.7 0 1 0 -5.4 0M149.9 99.4a2.5 2.5 0 1 0 5.1 0a2.5 2.5 0 1 0 -5.1 0M105.9 99.0a2.1 2.1 0 1 0 4.2 0a2.1 2.1 0 1 0 -4.2 0M113.2 106.6a1.9 1.9 0 1 0 3.8 0a1.9 1.9 0 1 0 -3.8 0M145.5 -2.2a2.8 2.8 0 1 0 5.6 0a2.8 2.8 0 1 0 -5.6 0M33.9 94.8a1.9 1.9 0 1 0 3.9 0a1.9 1.9 0 1 0 -3.9 0M15.3 78.4a2.8 2.8 0 1 0 5.6 0a2.8 2.8 0 1 0 -5.6 0M115.4 151.0a2.1 2.1 0 1 0 4.2 0a2.1 2.1 0 1 0 -4.2 0M14.3 181.7a2.0 2.0 0 1 0 4.0 0a2.0 2.0 0 1 0 -4.0 0M88.5 97.7a2.7 2.7 0 1 0 5.5 0a2.7 2.7 0 1 0 -5.5 0M63.5 90.2a1.9 1.9 0 1 0 3.7 0a1.9 1.9 0 1 0 -3.7 0M82.4 10.7a3.1 3.1 0 1 0 6.1 0a3.1 3.1 0 1 0 -6.1 0M168.2 110.1a2.9 2.9 0 1 0 5.8 0a2.9 2.9 0 1 0 -5.8 0M131.5 101.2a2.2 2.2 0 1 0 4.4 0a2.2 2.2 0 1 0 -4.4 0M174.8 110.4a2.5 2.5 0 1 0 5.1 0a2.5 2.5 0 1 0 -5.1 0M154.7 0.6a2.7 2.7 0 1 0 5.3 0a2.7 2.7 0 1 0 -5.3 0M155.4 87.8a1.9 1.9 0 1 0 3.7 0a1.9 1.9 0 1 0 -3.7 0M73.0 128.1a1.8 1.8 0 1 0 3.7 0a1.8 1.8 0 1 0 -3.7 0M124.0 14.0a3.0 3.0 0 1 0 6.0 0a3.0 3.0 0 1 0 -6.0 0M138.8 148.9a2.2 2.2 0 1 0 4.3 0a2.2 2.2 0 1 0 -4.3 0M110.5 80.8a2.0 2.0 0 1 0 4.1 0a2.0 2.0 0 1 0 -4.1 0M53.6 68.8a1.9 1.9 0 1 0 3.9 0a1.9 1.9 0 1 0 -3.9 0M115.8 118.3a2.2 2.2 0 1 0 4.4 0a2.2 2.2 0 1 0 -4.4 0M125.9 21.1a2.1 2.1 0 1 0 4.2 0a2.1 2.1 0 1 0 -4.2 0M118.7 24.2a3.0 3.0 0 1 0 5.9 0a3.0 3.0 0 1 0 -5.9 0M49.9 88.8a2.4 2.4 0 1 0 4.7 0a2.4 2.4 0 1 0 -4.7 0M91.7 25.5a2.5 2.5 0 1 0 5.0 0a2.5 2.5 0 1 0 -5.0 0M92.8 116.4a2.4 2.4 0 1 0 4.9 0a2.4 2.4 0 1 0 -4.9 0M138.4 136.3a2.3 2.3 0 1 0 4.5 0a2.3 2.3 0 1 0 -4.5 0M140.6 48.9a2.7 2.7 0 1 0 5.4 0a2.7 2.7 0 1 0 -5.4 0M9.8 102.2a2.9 2.9 0 1 0 5.9 0a2.9 2.9 0 1 0 -5.9 0M16.0 32.1a2.4 2.4 0 1 0 4.8 0a2.4 2.4 0 1 0 -4.8 0M179.2 180.5a2.2 2.2 0 1 0 4.4 0a2.2 2.2 0 1 0 -4.4 0M138.0 39.4a3.1 3.1 0 1 0 6.1 0a3.1 3.1 0 1 0 -6.1 0M142.3 114.9a2.6 2.6 0 1 0 5.3 0a2.6 2.6 0 1 0 -5.3 0M140.4 12.3a2.5 2.5 0 1 0 4.9 0a2.5 2.5 0 1 0 -4.9 0M177.8 41.7a2.0 2.0 0 1 0 3.9 0a2.0 2.0 0 1 0 -3.9 0M80.6 27.0a2.8 2.8 0 1 0 5.7 0a2.8 2.8 0 1 0 -5.7 0M81.5 102.0a2.9 2.9 0 1 0 5.8 0a2.9 2.9 0 1 0 -5.8 0M136.2 122.7a2.6 2.6 0 1 0 5.2 0a2.6 2.6 0 1 0 -5.2 0M55.5 11.4a3.0 3.0 0 1 0 6.0 0a3.0 3.0 0 1 0 -6.0 0M21.5 7.0a2.5 2.5 0 1 0 5.0 0a2.5 2.5 0 1 0 -5.0 0M74.6 10.8a2.8 2.8 0 1 0 5.7 0a2.8 2.8 0 1 0 -5.7 0M154.0 -2.9a1.9 1.9 0 1 0 3.8 0a1.9 1.9 0 1 0 -3.8 0M79.2 157.1a2.5 2.5 0 1 0 4.9 0a2.5 2.5 0 1 0 -4.9 0M0.3 63.3a2.1 2.1 0 1 0 4.1 0a2.1 2.1 0 1 0 -4.1 0M92.9 -0.2a2.4 2.4 0 1 0 4.8 0a2.4 2.4 0 1 0 -4.8 0M36.4 175.4a2.2 2.2 0 1 0 4.5 0a2.2 2.2 0 1 0 -4.5 0M87.3 33.8a2.5 2.5 0 1 0 5.1 0a2.5 2.5 0 1 0 -5.1 0M99.0 153.7a2.0 2.0 0 1 0 3.9 0a2.0 2.0 0 1 0 -3.9 0M128.5 97.3a2.6 2.6 0 1 0 5.1 0a2.6 2.6 0 1 0 -5.1 0M30.3 164.1a2.2 2.2 0 1 0 4.4 0a2.2 2.2 0 1 0 -4.4 0M62.4 9.4a1.9 1.9 0 1 0 3.8 0a1.9 1.9 0 1 0 -3.8 0M165.1 63.6a2.1 2.1 0 1 0 4.1 0a2.1 2.1 0 1 0 -4.1 0M88.7 20.7a2.7 2.7 0 1 0 5.3 0a2.7 2.7 0 1 0 -5.3 0M73.8 135.2a2.4 2.4 0 1 0 4.8 0a2.4 2.4 0 1 0 -4.8 0M164.1 107.7a2.6 2.6 0 1 0 5.1 0a2.6 2.6 0 1 0 -5.1 0M107.3 44.2a2.6 2.6 0 1 0 5.2 0a2.6 2.6 0 1 0 -5.2 0M19.9 131.3a2.3 2.3 0 1 0 4.7 0a2.3 2.3 0 1 0 -4.7 0M116.1 128.4a2.6 2.6 0 1 0 5.2 0a2.6 2.6 0 1 0 -5.2 0M1.5 100.6a2.7 2.7 0 1 0 5.4 0a2.7 2.7 0 1 0 -5.4 0M164.8 58.3a2.1 2.1 0 1 0 4.2 0a2.1 2.1 0 1 0 -4.2 0M149.1 -0.7a2.7 2.7 0 1 0 5.4 0a2.7 2.7 0 1 0 -5.4 0M150.5 55.3a2.2 2.2 0 1 0 4.5 0a2.2 2.2 0 1 0 -4.5 0M92.9 74.1a1.9 1.9 0 1 0 3.7 0a1.9 1.9 0 1 0 -3.7 0M134.6 22.2a2.8 2.8 0 1 0 5.5 0a2.8 2.8 0 1 0 -5.5 0M127.6 79.2a2.0 2.0 0 1 0 4.0 0a2.0 2.0 0 1 0 -4.0 0M125.9 153.1a1.9 1.9 0 1 0 3.7 0a1.9 1.9 0 1 0 -3.7 0M31.6 21.0a2.2 2.2 0 1 0 4.3 0a2.2 2.2 0 1 0 -4.3 0M154.4 3.4a1.8 1.8 0 1 0 3.6 0a1.8 1.8 0 1 0 -3.6 0M91.0 31.8a2.1 2.1 0 1 0 4.1 0a2.1 2.1 0 1 0 -4.1 0M20.8 178.2a2.2 2.2 0 1 0 4.4 0a2.2 2.2 0 1 0 -4.4 0M16.9 119.3a2.5 2.5 0 1 0 4.9 0a2.5 2.5 0 1 0 -4.9 0M92.4 8.7a2.8 2.8 0 1 0 5.5 0a2.8 2.8 0 1 0 -5.5 0M28.5 61.2a2.0 2.0 0 1 0 4.0 0a2.0 2.0 0 1 0 -4.0 0M43.7 13.4a2.7 2.7 0 1 0 5.3 0a2.7 2.7 0 1 0 -5.3 0M80.7 92.7a2.4 2.4 0 1 0 4.8 0a2.4 2.4 0 1 0 -4.8 0M35.6 7.8a3.1 3.1 0 1 0 6.1 0a3.1 3.1 0 1 0 -6.1 0M139.4 70.6a2.8 2.8 0 1 0 5.6 0a2.8 2.8 0 1 0 -5.6 0M73.6 92.8a1.9 1.9 0 1 0 3.8 0a1.9 1.9 0 1 0 -3.8 0M53.2 58.5a2.5 2.5 0 1 0 5.1 0a2.5 2.5 0 1 0 -5.1 0M174.4 25.8a2.8 2.8 0 1 0 5.6 0a2.8 2.8 0 1 0 -5.6 0M0.2 180.6a2.5 2.5 0 1 0 5.0 0a2.5 2.5 0 1 0 -5.0 0M43.1 146.4a2.6 2.6 0 1 0 5.2 0a2.6 2.6 0 1 0 -5.2 0M160.6 27.3a2.9 2.9 0 1 0 5.8 0a2.9 2.9 0 1 0 -5.8 0M62.3 66.7a2.5 2.5 0 1 0 5.0 0a2.5 2.5 0 1 0 -5.0 0M29.0 105.4a1.9 1.9 0 1 0 3.8 0a1.9 1.9 0 1 0 -3.8 0M33.1 120.2a2.1 2.1 0 1 0 4.2 0a2.1 2.1 0 1 0 -4.2 0M3.6 128.9a2.9 2.9 0 1 0 5.8 0a2.9 2.9 0 1 0 -5.8 0M88.3 92.0a2.8 2.8 0 1 0 5.6 0a2.8 2.8 0 1 0 -5.6 0M10.8 141.5a2.6 2.6 0 1 0 5.3 0a2.6 2.6 0 1 0 -5.3 0M52.2 50.9a2.1 2.1 0 1 0 4.2 0a2.1 2.1 0 1 0 -4.2 0M163.1 181.7a2.6 2.6 0 1 0 5.2 0a2.6 2.6 0 1 0 -5.2 0M20.6 102.1a2.2 2.2 0 1 0 4.4 0a2.2 2.2 0 1 0 -4.4 0M67.9 27.8a2.3 2.3 0 1 0 4.7 0a2.3 2.3 0 1 0 -4.7 0M65.5 136.1a2.0 2.0 0 1 0 3.9 0a2.0 2.0 0 1 0 -3.9 0M36.3 40.8a2.7 2.7 0 1 0 5.3 0a2.7 2.7 0 1 0 -5.3 0M55.1 52.2a3.0 3.0 0 1 0 6.1 0a3.0 3.0 0 1 0 -6.1 0M38.7 99.1a2.3 2.3 0 1 0 4.6 0a2.3 2.3 0 1 0 -4.6 0M31.8 151.5a2.3 2.3 0 1 0 4.6 0a2.3 2.3 0 1 0 -4.6 0M168.8 22.2a2.4 2.4 0 1 0 4.8 0a2.4 2.4 0 1 0 -4.8 0M14.1 -2.5a2.2 2.2 0 1 0 4.4 0a2.2 2.2 0 1 0 -4.4 0M178.8 38.4a2.0 2.0 0 1 0 3.9 0a2.0 2.0 0 1 0 -3.9 0M24.2 75.0a2.8 2.8 0 1 0 5.7 0a2.8 2.8 0 1 0 -5.7 0M39.7 17.7a2.9 2.9 0 1 0 5.8 0a2.9 2.9 0 1 0 -5.8 0M74.6 139.8a2.9 2.9 0 1 0 5.8 0a2.9 2.9 0 1 0 -5.8 0M172.1 36.5a2.6 2.6 0 1 0 5.1 0a2.6 2.6 0 1 0 -5.1 0M53.1 8.0a3.1 3.1 0 1 0 6.2 0a3.1 3.1 0 1 0 -6.2 0M109.1 157.2a3.0 3.0 0 1 0 6.0 0a3.0 3.0 0 1 0 -6.0 0M39.2 31.0a2.2 2.2 0 1 0 4.5 0a2.2 2.2 0 1 0 -4.5 0M71.6 9.0a1.9 1.9 0 1 0 3.8 0a1.9 1.9 0 1 0 -3.8 0M2.8 123.6a1.8 1.8 0 1 0 3.6 0a1.8 1.8 0 1 0 -3.6 0M118.1 157.7a2.3 2.3 0 1 0 4.6 0a2.3 2.3 0 1 0 -4.6 0M132.9 134.6a2.6 2.6 0 1 0 5.2 0a2.6 2.6 0 1 0 -5.2 0M156.8 67.6a2.9 2.9 0 1 0 5.7 0a2.9 2.9 0 1 0 -5.7 0M154.7 62.4a2.1 2.1 0 1 0 4.2 0a2.1 2.1 0 1 0 -4.2 0M160.7 184.5a2.3 2.3 0 1 0 4.6 0a2.3 2.3 0 1 0 -4.6 0M164.6 32.7a2.2 2.2 0 1 0 4.5 0a2.2 2.2 0 1 0 -4.5 0M129.9 21.8a1.8 1.8 0 1 0 3.6 0a1.8 1.8 0 1 0 -3.6 0M138.7 139.3a1.9 1.9 0 1 0 3.8 0a1.9 1.9 0 1 0 -3.8 0M43.1 71.4a2.3 2.3 0 1 0 4.7 0a2.3 2.3 0 1 0 -4.7 0M60.1 160.3a2.5 2.5 0 1 0 5.0 0a2.5 2.5 0 1 0 -5.0 0M94.9 20.2a2.9 2.9 0 1 0 5.9 0a2.9 2.9 0 1 0 -5.9 0M77.9 37.1a1.9 1.9 0 1 0 3.9 0a1.9 1.9 0 1 0 -3.9 0M52.2 74.2a2.0 2.0 0 1 0 4.1 0a2.0 2.0 0 1 0 -4.1 0M6.8 131.6a2.8 2.8 0 1 0 5.6 0a2.8 2.8 0 1 0 -5.6 0M45.8 67.0a2.4 2.4 0 1 0 4.8 0a2.4 2.4 0 1 0 -4.8 0M68.3 31.0a2.2 2.2 0 1 0 4.5 0a2.2 2.2 0 1 0 -4.5 0M88.3 177.9a2.6 2.6 0 1 0 5.2 0a2.6 2.6 0 1 0 -5.2 0M94.2 50.6a1.8 1.8 0 1 0 3.7 0a1.8 1.8 0 1 0 -3.7 0M159.4 36.6a2.2 2.2 0 1 0 4.4 0a2.2 2.2 0 1 0 -4.4 0M46.5 129.9a2.7 2.7 0 1 0 5.3 0a2.7 2.7 0 1 0 -5.3 0M114.1 145.4a2.0 2.0 0 1 0 3.9 0a2.0 2.0 0 1 0 -3.9 0M49.1 140.5a2.2 2.2 0 1 0 4.5 0a2.2 2.2 0 1 0 -4.5 0M21.8 128.3a2.4 2.4 0 1 0 4.8 0a2.4 2.4 0 1 0 -4.8 0M148.3 83.9a2.9 2.9 0 1 0 5.8 0a2.9 2.9 0 1 0 -5.8 0M61.7 45.6a2.0 2.0 0 1 0 4.1 0a2.0 2.0 0 1 0 -4.1 0M125.6 64.5a2.2 2.2 0 1 0 4.4 0a2.2 2.2 0 1 0 -4.4 0M175.8 35.4a2.7 2.7 0 1 0 5.3 0a2.7 2.7 0 1 0 -5.3 0M154.3 179.2a2.2 2.2 0 1 0 4.4 0a2.2 2.2 0 1 0 -4.4 0M136.9 102.0a2.5 2.5 0 1 0 5.0 0a2.5 2.5 0 1 0 -5.0 0M2.6 53.8a2.9 2.9 0 1 0 5.8 0a2.9 2.9 0 1 0 -5.8 0M72.9 152.9a2.2 2.2 0 1 0 4.4 0a2.2 2.2 0 1 0 -4.4 0M69.3 182.0a2.7 2.7 0 1 0 5.5 0a2.7 2.7 0 1 0 -5.5 0M45.0 75.6a1.8 1.8 0 1 0 3.6 0a1.8 1.8 0 1 0 -3.6 0M20.3 184.7a3.0 3.0 0 1 0 6.0 0a3.0 3.0 0 1 0 -6.0 0M45.7 161.7a2.5 2.5 0 1 0 5.1 0a2.5 2.5 0 1 0 -5.1 0M50.3 46.7a2.5 2.5 0 1 0 4.9 0a2.5 2.5 0 1 0 -4.9 0M119.9 172.0a3.0 3.0 0 1 0 5.9 0a3.0 3.0 0 1 0 -5.9 0M94.7 181.8a2.4 2.4 0 1 0 4.8 0a2.4 2.4 0 1 0 -4.8 0M19.6 135.7a2.9 2.9 0 1 0 5.8 0a2.9 2.9 0 1 0 -5.8 0M66.0 172.4a2.6 2.6 0 1 0 5.2 0a2.6 2.6 0 1 0 -5.2 0M169.7 123.8a1.8 1.8 0 1 0 3.7 0a1.8 1.8 0 1 0 -3.7 0M9.3 138.9a2.0 2.0 0 1 0 4.0 0a2.0 2.0 0 1 0 -4.0 0M42.6 23.7a2.6 2.6 0 1 0 5.2 0a2.6 2.6 0 1 0 -5.2 0M33.7 175.8a2.1 2.1 0 1 0 4.1 0a2.1 2.1 0 1 0 -4.1 0M36.3 157.8a2.3 2.3 0 1 0 4.6 0a2.3 2.3 0 1 0 -4.6 0M110.8 103.8a3.0 3.0 0 1 0 5.9 0a3.0 3.0 0 1 0 -5.9 0M2.6 58.9a2.7 2.7 0 1 0 5.5 0a2.7 2.7 0 1 0 -5.5 0M171.3 13.8a2.5 2.5 0 1 0 4.9 0a2.5 2.5 0 1 0 -4.9 0M95.5 114.2a2.9 2.9 0 1 0 5.9 0a2.9 2.9 0 1 0 -5.9 0M57.0 120.1a2.2 2.2 0 1 0 4.4 0a2.2 2.2 0 1 0 -4.4 0M104.4 103.8a2.6 2.6 0 1 0 5.2 0a2.6 2.6 0 1 0 -5.2 0M14.5 98.8a2.3 2.3 0 1 0 4.7 0a2.3 2.3 0 1 0 -4.7 0M111.2 32.3a1.8 1.8 0 1 0 3.7 0a1.8 1.8 0 1 0 -3.7 0M154.2 32.0a2.6 2.6 0 1 0 5.2 0a2.6 2.6 0 1 0 -5.2 0M104.1 35.7a2.2 2.2 0 1 0 4.5 0a2.2 2.2 0 1 0 -4.5 0M79.7 40.2a2.5 2.5 0 1 0 4.9 0a2.5 2.5 0 1 0 -4.9 0M91.0 184.5a1.9 1.9 0 1 0 3.9 0a1.9 1.9 0 1 0 -3.9 0M12.1 121.1a2.7 2.7 0 1 0 5.3 0a2.7 2.7 0 1 0 -5.3 0M52.9 131.3a2.2 2.2 0 1 0 4.5 0a2.2 2.2 0 1 0 -4.5 0M145.9 58.0a2.2 2.2 0 1 0 4.3 0a2.2 2.2 0 1 0 -4.3 0M63.5 144.4a2.1 2.1 0 1 0 4.3 0a2.1 2.1 0 1 0 -4.3 0M169.9 61.5a2.2 2.2 0 1 0 4.4 0a2.2 2.2 0 1 0 -4.4 0M172.9 141.5a2.9 2.9 0 1 0 5.7 0a2.9 2.9 0 1 0 -5.7 0M28.6 169.1a2.3 2.3 0 1 0 4.6 0a2.3 2.3 0 1 0 -4.6 0M157.5 141.4a1.9 1.9 0 1 0 3.7 0a1.9 1.9 0 1 0 -3.7 0M27.6 120.3a2.0 2.0 0 1 0 4.0 0a2.0 2.0 0 1 0 -4.0 0M64.6 117.6a2.3 2.3 0 1 0 4.5 0a2.3 2.3 0 1 0 -4.5 0M54.4 156.7a2.9 2.9 0 1 0 5.8 0a2.9 2.9 0 1 0 -5.8 0M175.9 105.6a2.5 2.5 0 1 0 5.0 0a2.5 2.5 0 1 0 -5.0 0M136.0 49.6a2.2 2.2 0 1 0 4.4 0a2.2 2.2 0 1 0 -4.4 0M147.5 148.9a3.0 3.0 0 1 0 6.1 0a3.0 3.0 0 1 0 -6.1 0M158.9 46.2a2.4 2.4 0 1 0 4.8 0a2.4 2.4 0 1 0 -4.8 0M137.2 152.3a1.9 1.9 0 1 0 3.8 0a1.9 1.9 0 1 0 -3.8 0M178.0 135.0a2.8 2.8 0 1 0 5.6 0a2.8 2.8 0 1 0 -5.6 0M10.0 57.9a3.0 3.0 0 1 0 6.1 0a3.0 3.0 0 1 0 -6.1 0M110.1 168.0a2.1 2.1 0 1 0 4.2 0a2.1 2.1 0 1 0 -4.2 0M67.9 19.5a1.9 1.9 0 1 0 3.7 0a1.9 1.9 0 1 0 -3.7 0M139.0 125.7a2.5 2.5 0 1 0 4.9 0a2.5 2.5 0 1 0 -4.9 0M64.6 37.5a2.9 2.9 0 1 0 5.8 0a2.9 2.9 0 1 0 -5.8 0M96.3 99.3a1.9 1.9 0 1 0 3.9 0a1.9 1.9 0 1 0 -3.9 0M90.4 -2.4a2.0 2.0 0 1 0 3.9 0a2.0 2.0 0 1 0 -3.9 0M136.7 44.6a2.7 2.7 0 1 0 5.4 0a2.7 2.7 0 1 0 -5.4 0M170.2 88.6a2.1 2.1 0 1 0 4.2 0a2.1 2.1 0 1 0 -4.2 0M140.8 63.0a2.7 2.7 0 1 0 5.3 0a2.7 2.7 0 1 0 -5.3 0M137.9 27.3a1.9 1.9 0 1 0 3.7 0a1.9 1.9 0 1 0 -3.7 0M182.4 166.9a2.0 2.0 0 1 0 4.0 0a2.0 2.0 0 1 0 -4.0 0M56.1 148.7a2.0 2.0 0 1 0 3.9 0a2.0 2.0 0 1 0 -3.9 0M-4.3 142.4a2.5 2.5 0 1 0 4.9 0a2.5 2.5 0 1 0 -4.9 0M47.2 150.8a3.1 3.1 0 1 0 6.1 0a3.1 3.1 0 1 0 -6.1 0M34.3 163.7a3.0 3.0 0 1 0 6.0 0a3.0 3.0 0 1 0 -6.0 0M88.3 72.0a2.7 2.7 0 1 0 5.3 0a2.7 2.7 0 1 0 -5.3 0M33.3 31.5a2.8 2.8 0 1 0 5.6 0a2.8 2.8 0 1 0 -5.6 0M63.3 110.8a3.0 3.0 0 1 0 5.9 0a3.0 3.0 0 1 0 -5.9 0M151.9 121.7a1.9 1.9 0 1 0 3.7 0a1.9 1.9 0 1 0 -3.7 0M103.5 166.4a2.2 2.2 0 1 0 4.3 0a2.2 2.2 0 1 0 -4.3 0M132.2 161.0a2.5 2.5 0 1 0 5.1 0a2.5 2.5 0 1 0 -5.1 0M80.6 184.6a2.3 2.3 0 1 0 4.6 0a2.3 2.3 0 1 0 -4.6 0M29.5 58.5a2.5 2.5 0 1 0 5.0 0a2.5 2.5 0 1 0 -5.0 0M59.0 42.4a2.4 2.4 0 1 0 4.7 0a2.4 2.4 0 1 0 -4.7 0M129.3 6.4a2.9 2.9 0 1 0 5.9 0a2.9 2.9 0 1 0 -5.9 0M157.0 41.5a2.2 2.2 0 1 0 4.4 0a2.2 2.2 0 1 0 -4.4 0M163.4 45.8a2.4 2.4 0 1 0 4.8 0a2.4 2.4 0 1 0 -4.8 0M65.3 146.9a2.2 2.2 0 1 0 4.4 0a2.2 2.2 0 1 0 -4.4 0M131.1 63.3a2.6 2.6 0 1 0 5.2 0a2.6 2.6 0 1 0 -5.2 0M151.5 7.5a2.9 2.9 0 1 0 5.8 0a2.9 2.9 0 1 0 -5.8 0M63.2 79.6a2.7 2.7 0 1 0 5.4 0a2.7 2.7 0 1 0 -5.4 0M137.9 -0.4a2.3 2.3 0 1 0 4.7 0a2.3 2.3 0 1 0 -4.7 0M107.4 150.0a2.0 2.0 0 1 0 4.1 0a2.0 2.0 0 1 0 -4.1 0M131.8 94.7a2.8 2.8 0 1 0 5.7 0a2.8 2.8 0 1 0 -5.7 0M-4.0 120.8a2.6 2.6 0 1 0 5.2 0a2.6 2.6 0 1 0 -5.2 0M100.7 163.3a2.7 2.7 0 1 0 5.4 0a2.7 2.7 0 1 0 -5.4 0M95.8 146.3a1.9 1.9 0 1 0 3.9 0a1.9 1.9 0 1 0 -3.9 0M50.3 83.9a2.3 2.3 0 1 0 4.6 0a2.3 2.3 0 1 0 -4.6 0M101.7 73.5a1.9 1.9 0 1 0 3.7 0a1.9 1.9 0 1 0 -3.7 0M85.8 104.5a2.6 2.6 0 1 0 5.3 0a2.6 2.6 0 1 0 -5.3 0M64.9 3.1a2.7 2.7 0 1 0 5.4 0a2.7 2.7 0 1 0 -5.4 0M158.1 114.5a2.9 2.9 0 1 0 5.8 0a2.9 2.9 0 1 0 -5.8 0M83.5 56.4a2.8 2.8 0 1 0 5.5 0a2.8 2.8 0 1 0 -5.5 0M20.0 32.2a3.0 3.0 0 1 0 6.1 0a3.0 3.0 0 1 0 -6.1 0M142.8 139.1a2.1 2.1 0 1 0 4.1 0a2.1 2.1 0 1 0 -4.1 0M118.6 177.4a2.5 2.5 0 1 0 5.1 0a2.5 2.5 0 1 0 -5.1 0M48.0 62.2a1.9 1.9 0 1 0 3.7 0a1.9 1.9 0 1 0 -3.7 0M90.6 105.5a2.0 2.0 0 1 0 4.0 0a2.0 2.0 0 1 0 -4.0 0M116.6 142.1a2.5 2.5 0 1 0 5.0 0a2.5 2.5 0 1 0 -5.0 0M25.6 49.4a1.9 1.9 0 1 0 3.7 0a1.9 1.9 0 1 0 -3.7 0M14.5 127.2a2.5 2.5 0 1 0 4.9 0a2.5 2.5 0 1 0 -4.9 0M47.0 113.8a2.9 2.9 0 1 0 5.7 0a2.9 2.9 0 1 0 -5.7 0M84.1 169.2a1.8 1.8 0 1 0 3.6 0a1.8 1.8 0 1 0 -3.6 0M130.6 -0.0a2.3 2.3 0 1 0 4.6 0a2.3 2.3 0 1 0 -4.6 0M45.0 43.9a2.8 2.8 0 1 0 5.6 0a2.8 2.8 0 1 0 -5.6 0M80.6 20.9a1.9 1.9 0 1 0 3.8 0a1.9 1.9 0 1 0 -3.8 0M132.7 114.0a2.0 2.0 0 1 0 4.0 0a2.0 2.0 0 1 0 -4.0 0M160.3 150.5a2.1 2.1 0 1 0 4.3 0a2.1 2.1 0 1 0 -4.3 0M150.9 166.7a2.5 2.5 0 1 0 5.0 0a2.5 2.5 0 1 0 -5.0 0M150.5 181.7a2.4 2.4 0 1 0 4.9 0a2.4 2.4 0 1 0 -4.9 0M145.4 140.2a2.8 2.8 0 1 0 5.6 0a2.8 2.8 0 1 0 -5.6 0M124.1 156.7a3.0 3.0 0 1 0 6.0 0a3.0 3.0 0 1 0 -6.0 0M134.4 157.7a2.4 2.4 0 1 0 4.8 0a2.4 2.4 0 1 0 -4.8 0M90.0 55.4a2.9 2.9 0 1 0 5.8 0a2.9 2.9 0 1 0 -5.8 0M40.8 110.4a2.8 2.8 0 1 0 5.6 0a2.8 2.8 0 1 0 -5.6 0M59.0 -0.2a3.0 3.0 0 1 0 6.1 0a3.0 3.0 0 1 0 -6.1 0M78.1 3.3a2.9 2.9 0 1 0 5.8 0a2.9 2.9 0 1 0 -5.8 0M113.5 -0.7a3.0 3.0 0 1 0 6.1 0a3.0 3.0 0 1 0 -6.1 0M137.4 162.2a2.7 2.7 0 1 0 5.5 0a2.7 2.7 0 1 0 -5.5 0M81.1 36.4a2.5 2.5 0 1 0 4.9 0a2.5 2.5 0 1 0 -4.9 0M13.8 37.4a2.7 2.7 0 1 0 5.3 0a2.7 2.7 0 1 0 -5.3 0M58.1 108.3a2.0 2.0 0 1 0 4.1 0a2.0 2.0 0 1 0 -4.1 0M13.8 46.3a2.9 2.9 0 1 0 5.8 0a2.9 2.9 0 1 0 -5.8 0M24.8 160.9a2.0 2.0 0 1 0 4.0 0a2.0 2.0 0 1 0 -4.0 0M107.3 54.2a1.8 1.8 0 1 0 3.6 0a1.8 1.8 0 1 0 -3.6 0M120.1 56.2a1.9 1.9 0 1 0 3.7 0a1.9 1.9 0 1 0 -3.7 0M28.9 174.8a2.0 2.0 0 1 0 3.9 0a2.0 2.0 0 1 0 -3.9 0M149.2 27.1a1.9 1.9 0 1 0 3.8 0a1.9 1.9 0 1 0 -3.8 0M24.9 100.4a2.6 2.6 0 1 0 5.1 0a2.6 2.6 0 1 0 -5.1 0M144.6 23.0a2.0 2.0 0 1 0 4.0 0a2.0 2.0 0 1 0 -4.0 0M154.2 68.5a2.1 2.1 0 1 0 4.3 0a2.1 2.1 0 1 0 -4.3 0M160.8 128.5a2.3 2.3 0 1 0 4.7 0a2.3 2.3 0 1 0 -4.7 0M21.0 93.4a2.3 2.3 0 1 0 4.6 0a2.3 2.3 0 1 0 -4.6 0M113.0 181.9a2.9 2.9 0 1 0 5.8 0a2.9 2.9 0 1 0 -5.8 0M144.5 87.4a2.8 2.8 0 1 0 5.5 0a2.8 2.8 0 1 0 -5.5 0M-1.4 39.1a2.4 2.4 0 1 0 4.8 0a2.4 2.4 0 1 0 -4.8 0M107.5 171.7a2.8 2.8 0 1 0 5.7 0a2.8 2.8 0 1 0 -5.7 0M43.3 171.0a2.0 2.0 0 1 0 3.9 0a2.0 2.0 0 1 0 -3.9 0M35.2 114.0a2.1 2.1 0 1 0 4.2 0a2.1 2.1 0 1 0 -4.2 0M170.4 47.0a2.5 2.5 0 1 0 5.0 0a2.5 2.5 0 1 0 -5.0 0M99.9 36.5a3.0 3.0 0 1 0 6.1 0a3.0 3.0 0 1 0 -6.1 0M147.6 13.4a2.1 2.1 0 1 0 4.1 0a2.1 2.1 0 1 0 -4.1 0M81.4 33.1a1.9 1.9 0 1 0 3.7 0a1.9 1.9 0 1 0 -3.7 0M-0.8 90.5a3.0 3.0 0 1 0 6.1 0a3.0 3.0 0 1 0 -6.1 0M131.0 85.5a2.1 2.1 0 1 0 4.3 0a2.1 2.1 0 1 0 -4.3 0M101.2 183.0a2.1 2.1 0 1 0 4.1 0a2.1 2.1 0 1 0 -4.1 0M80.0 123.7a2.3 2.3 0 1 0 4.6 0a2.3 2.3 0 1 0 -4.6 0M47.7 107.7a2.6 2.6 0 1 0 5.1 0a2.6 2.6 0 1 0 -5.1 0M100.3 138.6a2.1 2.1 0 1 0 4.1 0a2.1 2.1 0 1 0 -4.1 0M105.2 114.1a2.6 2.6 0 1 0 5.1 0a2.6 2.6 0 1 0 -5.1 0M-2.8 32.7a2.2 2.2 0 1 0 4.5 0a2.2 2.2 0 1 0 -4.5 0M128.9 183.4a2.3 2.3 0 1 0 4.7 0a2.3 2.3 0 1 0 -4.7 0M141.9 110.8a1.9 1.9 0 1 0 3.8 0a1.9 1.9 0 1 0 -3.8 0M160.8 85.2a1.9 1.9 0 1 0 3.7 0a1.9 1.9 0 1 0 -3.7 0M33.5 58.5a2.1 2.1 0 1 0 4.2 0a2.1 2.1 0 1 0 -4.2 0M127.5 143.5a2.0 2.0 0 1 0 4.1 0a2.0 2.0 0 1 0 -4.1 0M16.1 63.1a2.3 2.3 0 1 0 4.7 0a2.3 2.3 0 1 0 -4.7 0M74.1 122.9a2.0 2.0 0 1 0 3.9 0a2.0 2.0 0 1 0 -3.9 0M162.8 17.4a2.0 2.0 0 1 0 4.1 0a2.0 2.0 0 1 0 -4.1 0M128.6 60.4a3.0 3.0 0 1 0 6.0 0a3.0 3.0 0 1 0 -6.0 0M130.7 142.3a2.6 2.6 0 1 0 5.1 0a2.6 2.6 0 1 0 -5.1 0M177.1 30.9a2.5 2.5 0 1 0 5.1 0a2.5 2.5 0 1 0 -5.1 0M63.6 49.8a1.8 1.8 0 1 0 3.7 0a1.8 1.8 0 1 0 -3.7 0M85.7 47.4a2.4 2.4 0 1 0 4.7 0a2.4 2.4 0 1 0 -4.7 0M133.9 8.8a2.7 2.7 0 1 0 5.5 0a2.7 2.7 0 1 0 -5.5 0M3.3 14.9a2.5 2.5 0 1 0 5.1 0a2.5 2.5 0 1 0 -5.1 0M80.7 142.7a2.1 2.1 0 1 0 4.3 0a2.1 2.1 0 1 0 -4.3 0M13.3 75.5a2.6 2.6 0 1 0 5.3 0a2.6 2.6 0 1 0 -5.3 0M103.3 175.2a2.0 2.0 0 1 0 4.0 0a2.0 2.0 0 1 0 -4.0 0M-2.0 66.8a2.5 2.5 0 1 0 4.9 0a2.5 2.5 0 1 0 -4.9 0M10.4 81.7a1.9 1.9 0 1 0 3.8 0a1.9 1.9 0 1 0 -3.8 0M11.6 93.6a1.9 1.9 0 1 0 3.7 0a1.9 1.9 0 1 0 -3.7 0M96.6 39.1a3.1 3.1 0 1 0 6.2 0a3.1 3.1 0 1 0 -6.2 0M76.2 88.6a2.3 2.3 0 1 0 4.6 0a2.3 2.3 0 1 0 -4.6 0M105.0 122.2a2.5 2.5 0 1 0 5.0 0a2.5 2.5 0 1 0 -5.0 0M39.7 13.8a2.5 2.5 0 1 0 5.1 0a2.5 2.5 0 1 0 -5.1 0M-1.9 160.4a2.7 2.7 0 1 0 5.4 0a2.7 2.7 0 1 0 -5.4 0M105.6 71.8a2.5 2.5 0 1 0 4.9 0a2.5 2.5 0 1 0 -4.9 0M-1.2 11.6a2.9 2.9 0 1 0 5.8 0a2.9 2.9 0 1 0 -5.8 0M168.6 54.8a2.2 2.2 0 1 0 4.3 0a2.2 2.2 0 1 0 -4.3 0M82.8 155.9a2.3 2.3 0 1 0 4.6 0a2.3 2.3 0 1 0 -4.6 0M164.2 88.9a2.2 2.2 0 1 0 4.3 0a2.2 2.2 0 1 0 -4.3 0M166.7 181.3a2.9 2.9 0 1 0 5.8 0a2.9 2.9 0 1 0 -5.8 0M176.8 46.0a1.8 1.8 0 1 0 3.6 0a1.8 1.8 0 1 0 -3.6 0M62.8 177.5a2.2 2.2 0 1 0 4.5 0a2.2 2.2 0 1 0 -4.5 0M24.3 17.0a2.1 2.1 0 1 0 4.3 0a2.1 2.1 0 1 0 -4.3 0M84.8 30.8a2.4 2.4 0 1 0 4.7 0a2.4 2.4 0 1 0 -4.7 0M46.4 7.2a2.7 2.7 0 1 0 5.3 0a2.7 2.7 0 1 0 -5.3 0M109.4 130.8a1.9 1.9 0 1 0 3.7 0a1.9 1.9 0 1 0 -3.7 0M132.8 138.4a3.1 3.1 0 1 0 6.1 0a3.1 3.1 0 1 0 -6.1 0M160.9 41.0a2.1 2.1 0 1 0 4.2 0a2.1 2.1 0 1 0 -4.2 0M87.5 184.1a2.3 2.3 0 1 0 4.6 0a2.3 2.3 0 1 0 -4.6 0M183.2 38.1a1.8 1.8 0 1 0 3.7 0a1.8 1.8 0 1 0 -3.7 0M145.7 9.8a2.2 2.2 0 1 0 4.3 0a2.2 2.2 0 1 0 -4.3 0M13.9 159.7a2.1 2.1 0 1 0 4.2 0a2.1 2.1 0 1 0 -4.2 0M148.5 77.5a1.9 1.9 0 1 0 3.9 0a1.9 1.9 0 1 0 -3.9 0M-2.3 71.4a2.5 2.5 0 1 0 5.0 0a2.5 2.5 0 1 0 -5.0 0M40.9 58.0a2.3 2.3 0 1 0 4.7 0a2.3 2.3 0 1 0 -4.7 0M104.3 89.3a2.8 2.8 0 1 0 5.7 0a2.8 2.8 0 1 0 -5.7 0M80.7 52.2a3.0 3.0 0 1 0 6.1 0a3.0 3.0 0 1 0 -6.1 0M126.1 179.4a1.9 1.9 0 1 0 3.9 0a1.9 1.9 0 1 0 -3.9 0M113.3 22.8a2.5 2.5 0 1 0 5.0 0a2.5 2.5 0 1 0 -5.0 0M100.8 169.3a2.8 2.8 0 1 0 5.5 0a2.8 2.8 0 1 0 -5.5 0M151.5 52.1a2.3 2.3 0 1 0 4.7 0a2.3 2.3 0 1 0 -4.7 0M173.2 151.3a2.9 2.9 0 1 0 5.7 0a2.9 2.9 0 1 0 -5.7 0M14.7 81.8a1.8 1.8 0 1 0 3.6 0a1.8 1.8 0 1 0 -3.6 0M134.5 55.9a2.1 2.1 0 1 0 4.1 0a2.1 2.1 0 1 0 -4.1 0M87.2 10.5a3.0 3.0 0 1 0 6.0 0a3.0 3.0 0 1 0 -6.0 0M175.6 146.8a2.7 2.7 0 1 0 5.4 0a2.7 2.7 0 1 0 -5.4 0M81.6 151.7a2.0 2.0 0 1 0 4.0 0a2.0 2.0 0 1 0 -4.0 0M144.3 38.6a2.6 2.6 0 1 0 5.1 0a2.6 2.6 0 1 0 -5.1 0M129.2 25.8a2.9 2.9 0 1 0 5.8 0a2.9 2.9 0 1 0 -5.8 0M-4.7 116.6a2.4 2.4 0 1 0 4.9 0a2.4 2.4 0 1 0 -4.9 0M179.8 85.5a2.8 2.8 0 1 0 5.6 0a2.8 2.8 0 1 0 -5.6 0M-1.8 145.0a2.9 2.9 0 1 0 5.8 0a2.9 2.9 0 1 0 -5.8 0M157.0 76.4a2.0 2.0 0 1 0 4.0 0a2.0 2.0 0 1 0 -4.0 0M183.1 34.2a2.4 2.4 0 1 0 4.7 0a2.4 2.4 0 1 0 -4.7 0M41.0 43.6a2.6 2.6 0 1 0 5.1 0a2.6 2.6 0 1 0 -5.1 0M91.4 102.0a2.0 2.0 0 1 0 4.0 0a2.0 2.0 0 1 0 -4.0 0M137.5 116.5a3.1 3.1 0 1 0 6.1 0a3.1 3.1 0 1 0 -6.1 0M-4.4 101.1a2.1 2.1 0 1 0 4.1 0a2.1 2.1 0 1 0 -4.1 0M37.8 151.8a1.8 1.8 0 1 0 3.7 0a1.8 1.8 0 1 0 -3.7 0M47.8 171.7a3.1 3.1 0 1 0 6.2 0a3.1 3.1 0 1 0 -6.2 0M145.0 143.7a2.6 2.6 0 1 0 5.1 0a2.6 2.6 0 1 0 -5.1 0M175.8 93.2a2.1 2.1 0 1 0 4.2 0a2.1 2.1 0 1 0 -4.2 0M178.3 21.8a2.6 2.6 0 1 0 5.2 0a2.6 2.6 0 1 0 -5.2 0M28.1 97.5a2.0 2.0 0 1 0 3.9 0a2.0 2.0 0 1 0 -3.9 0M29.6 179.2a2.1 2.1 0 1 0 4.2 0a2.1 2.1 0 1 0 -4.2 0M66.7 43.3a1.8 1.8 0 1 0 3.7 0a1.8 1.8 0 1 0 -3.7 0M85.3 112.2a2.8 2.8 0 1 0 5.6 0a2.8 2.8 0 1 0 -5.6 0M133.3 42.9a2.2 2.2 0 1 0 4.4 0a2.2 2.2 0 1 0 -4.4 0M132.9 164.0a1.9 1.9 0 1 0 3.9 0a1.9 1.9 0 1 0 -3.9 0M35.8 51.7a2.2 2.2 0 1 0 4.4 0a2.2 2.2 0 1 0 -4.4 0M160.2 8.2a2.8 2.8 0 1 0 5.6 0a2.8 2.8 0 1 0 -5.6 0M7.3 14.1a2.6 2.6 0 1 0 5.2 0a2.6 2.6 0 1 0 -5.2 0M35.9 16.1a1.9 1.9 0 1 0 3.8 0a1.9 1.9 0 1 0 -3.8 0M16.0 41.8a2.8 2.8 0 1 0 5.5 0a2.8 2.8 0 1 0 -5.5 0M53.5 26.2a1.9 1.9 0 1 0 3.7 0a1.9 1.9 0 1 0 -3.7 0M47.5 16.0a1.8 1.8 0 1 0 3.7 0a1.8 1.8 0 1 0 -3.7 0M65.7 153.4a1.8 1.8 0 1 0 3.7 0a1.8 1.8 0 1 0 -3.7 0M21.0 139.6a2.7 2.7 0 1 0 5.3 0a2.7 2.7 0 1 0 -5.3 0M20.8 169.0a2.1 2.1 0 1 0 4.2 0a2.1 2.1 0 1 0 -4.2 0M50.9 176.4a2.7 2.7 0 1 0 5.4 0a2.7 2.7 0 1 0 -5.4 0M107.9 51.4a2.5 2.5 0 1 0 5.1 0a2.5 2.5 0 1 0 -5.1 0M67.6 11.9a1.9 1.9 0 1 0 3.7 0a1.9 1.9 0 1 0 -3.7 0M42.2 182.6a2.2 2.2 0 1 0 4.5 0a2.2 2.2 0 1 0 -4.5 0M121.2 33.9a2.9 2.9 0 1 0 5.8 0a2.9 2.9 0 1 0 -5.8 0M147.2 126.4a2.7 2.7 0 1 0 5.3 0a2.7 2.7 0 1 0 -5.3 0M34.8 154.5a2.8 2.8 0 1 0 5.7 0a2.8 2.8 0 1 0 -5.7 0M37.4 111.7a2.7 2.7 0 1 0 5.3 0a2.7 2.7 0 1 0 -5.3 0M173.3 42.5a2.1 2.1 0 1 0 4.2 0a2.1 2.1 0 1 0 -4.2 0M69.3 159.3a2.6 2.6 0 1 0 5.3 0a2.6 2.6 0 1 0 -5.3 0M134.1 170.1a2.1 2.1 0 1 0 4.2 0a2.1 2.1 0 1 0 -4.2 0M60.5 30.1a2.3 2.3 0 1 0 4.5 0a2.3 2.3 0 1 0 -4.5 0M113.6 170.1a1.9 1.9 0 1 0 3.9 0a1.9 1.9 0 1 0 -3.9 0M152.4 124.4a2.4 2.4 0 1 0 4.7 0a2.4 2.4 0 1 0 -4.7 0M94.5 102.2a2.1 2.1 0 1 0 4.1 0a2.1 2.1 0 1 0 -4.1 0M117.4 28.9a1.8 1.8 0 1 0 3.6 0a1.8 1.8 0 1 0 -3.6 0M14.2 93.4a2.1 2.1 0 1 0 4.2 0a2.1 2.1 0 1 0 -4.2 0M125.1 103.1a2.1 2.1 0 1 0 4.3 0a2.1 2.1 0 1 0 -4.3 0M130.9 131.9a2.1 2.1 0 1 0 4.2 0a2.1 2.1 0 1 0 -4.2 0M13.4 24.7a2.7 2.7 0 1 0 5.4 0a2.7 2.7 0 1 0 -5.4 0M92.2 173.9a1.9 1.9 0 1 0 3.9 0a1.9 1.9 0 1 0 -3.9 0M142.3 146.5a2.0 2.0 0 1 0 4.1 0a2.0 2.0 0 1 0 -4.1 0M88.1 128.2a2.6 2.6 0 1 0 5.1 0a2.6 2.6 0 1 0 -5.1 0M174.4 67.8a2.3 2.3 0 1 0 4.6 0a2.3 2.3 0 1 0 -4.6 0M39.2 51.9a2.3 2.3 0 1 0 4.6 0a2.3 2.3 0 1 0 -4.6 0M62.2 139.8a2.1 2.1 0 1 0 4.3 0a2.1 2.1 0 1 0 -4.3 0M31.5 7.5a3.0 3.0 0 1 0 6.0 0a3.0 3.0 0 1 0 -6.0 0M32.0 155.2a2.3 2.3 0 1 0 4.5 0a2.3 2.3 0 1 0 -4.5 0M119.7 119.3a2.0 2.0 0 1 0 4.0 0a2.0 2.0 0 1 0 -4.0 0M158.0 52.4a2.0 2.0 0 1 0 4.1 0a2.0 2.0 0 1 0 -4.1 0M108.0 1.2a2.6 2.6 0 1 0 5.2 0a2.6 2.6 0 1 0 -5.2 0M3.4 73.0a2.5 2.5 0 1 0 4.9 0a2.5 2.5 0 1 0 -4.9 0M100.8 122.5a2.9 2.9 0 1 0 5.8 0a2.9 2.9 0 1 0 -5.8 0M72.5 179.5a2.2 2.2 0 1 0 4.3 0a2.2 2.2 0 1 0 -4.3 0M138.5 167.2a2.1 2.1 0 1 0 4.1 0a2.1 2.1 0 1 0 -4.1 0M7.8 10.8a2.1 2.1 0 1 0 4.2 0a2.1 2.1 0 1 0 -4.2 0M72.7 4.4a1.9 1.9 0 1 0 3.9 0a1.9 1.9 0 1 0 -3.9 0M52.6 180.9a2.2 2.2 0 1 0 4.5 0a2.2 2.2 0 1 0 -4.5 0M155.6 90.9a2.5 2.5 0 1 0 5.0 0a2.5 2.5 0 1 0 -5.0 0M-0.5 0.3a2.0 2.0 0 1 0 4.1 0a2.0 2.0 0 1 0 -4.1 0M154.1 39.9a2.1 2.1 0 1 0 4.2 0a2.1 2.1 0 1 0 -4.2 0M105.1 179.4a2.4 2.4 0 1 0 4.7 0a2.4 2.4 0 1 0 -4.7 0M149.1 171.4a2.4 2.4 0 1 0 4.7 0a2.4 2.4 0 1 0 -4.7 0M34.0 37.0a2.4 2.4 0 1 0 4.8 0a2.4 2.4 0 1 0 -4.8 0M146.4 94.3a2.9 2.9 0 1 0 5.8 0a2.9 2.9 0 1 0 -5.8 0M95.4 27.2a2.7 2.7 0 1 0 5.5 0a2.7 2.7 0 1 0 -5.5 0M-2.6 128.4a2.2 2.2 0 1 0 4.4 0a2.2 2.2 0 1 0 -4.4 0M74.5 110.4a2.7 2.7 0 1 0 5.4 0a2.7 2.7 0 1 0 -5.4 0M26.3 57.5a2.3 2.3 0 1 0 4.5 0a2.3 2.3 0 1 0 -4.5 0M108.4 88.5a2.5 2.5 0 1 0 5.1 0a2.5 2.5 0 1 0 -5.1 0M57.6 83.3a2.1 2.1 0 1 0 4.2 0a2.1 2.1 0 1 0 -4.2 0M106.3 159.7a2.3 2.3 0 1 0 4.5 0a2.3 2.3 0 1 0 -4.5 0M14.1 87.1a2.2 2.2 0 1 0 4.3 0a2.2 2.2 0 1 0 -4.3 0M155.3 162.2a2.3 2.3 0 1 0 4.7 0a2.3 2.3 0 1 0 -4.7 0M68.0 62.4a2.7 2.7 0 1 0 5.4 0a2.7 2.7 0 1 0 -5.4 0M78.1 130.6a1.9 1.9 0 1 0 3.7 0a1.9 1.9 0 1 0 -3.7 0M115.4 133.7a3.0 3.0 0 1 0 6.1 0a3.0 3.0 0 1 0 -6.1 0M111.6 18.5a1.8 1.8 0 1 0 3.7 0a1.8 1.8 0 1 0 -3.7 0M166.7 104.1a1.9 1.9 0 1 0 3.7 0a1.9 1.9 0 1 0 -3.7 0M51.1 149.4a2.3 2.3 0 1 0 4.7 0a2.3 2.3 0 1 0 -4.7 0M44.8 55.9a2.9 2.9 0 1 0 5.8 0a2.9 2.9 0 1 0 -5.8 0M88.9 136.4a2.4 2.4 0 1 0 4.9 0a2.4 2.4 0 1 0 -4.9 0M137.9 75.6a1.9 1.9 0 1 0 3.8 0a1.9 1.9 0 1 0 -3.8 0M161.9 22.0a2.5 2.5 0 1 0 5.0 0a2.5 2.5 0 1 0 -5.0 0M6.9 79.5a2.6 2.6 0 1 0 5.3 0a2.6 2.6 0 1 0 -5.3 0M20.7 77.0a3.0 3.0 0 1 0 5.9 0a3.0 3.0 0 1 0 -5.9 0M180.8 80.7a2.9 2.9 0 1 0 5.9 0a2.9 2.9 0 1 0 -5.9 0M4.8 6.8a1.9 1.9 0 1 0 3.8 0a1.9 1.9 0 1 0 -3.8 0M169.1 16.6a2.7 2.7 0 1 0 5.3 0a2.7 2.7 0 1 0 -5.3 0M127.6 113.3a2.9 2.9 0 1 0 5.7 0a2.9 2.9 0 1 0 -5.7 0M61.5 173.2a2.1 2.1 0 1 0 4.3 0a2.1 2.1 0 1 0 -4.3 0M132.4 120.5a3.0 3.0 0 1 0 6.1 0a3.0 3.0 0 1 0 -6.1 0M182.6 5.6a3.0 3.0 0 1 0 6.0 0a3.0 3.0 0 1 0 -6.0 0M9.3 64.3a2.3 2.3 0 1 0 4.6 0a2.3 2.3 0 1 0 -4.6 0M116.3 167.5a1.8 1.8 0 1 0 3.6 0a1.8 1.8 0 1 0 -3.6 0M44.9 153.6a2.7 2.7 0 1 0 5.3 0a2.7 2.7 0 1 0 -5.3 0M153.8 95.2a1.8 1.8 0 1 0 3.7 0a1.8 1.8 0 1 0 -3.7 0M27.3 85.1a2.7 2.7 0 1 0 5.3 0a2.7 2.7 0 1 0 -5.3 0M79.7 96.1a2.3 2.3 0 1 0 4.5 0a2.3 2.3 0 1 0 -4.5 0M161.1 136.8a1.9 1.9 0 1 0 3.7 0a1.9 1.9 0 1 0 -3.7 0M136.7 54.0a2.6 2.6 0 1 0 5.2 0a2.6 2.6 0 1 0 -5.2 0M73.7 174.6a2.2 2.2 0 1 0 4.4 0a2.2 2.2 0 1 0 -4.4 0M112.9 176.8a2.6 2.6 0 1 0 5.1 0a2.6 2.6 0 1 0 -5.1 0M89.7 170.1a2.4 2.4 0 1 0 4.7 0a2.4 2.4 0 1 0 -4.7 0M72.5 102.3a2.5 2.5 0 1 0 5.0 0a2.5 2.5 0 1 0 -5.0 0M112.9 13.4a3.0 3.0 0 1 0 6.0 0a3.0 3.0 0 1 0 -6.0 0M60.8 148.4a1.9 1.9 0 1 0 3.7 0a1.9 1.9 0 1 0 -3.7 0M149.6 138.4a2.3 2.3 0 1 0 4.6 0a2.3 2.3 0 1 0 -4.6 0M-3.8 54.4a2.9 2.9 0 1 0 5.8 0a2.9 2.9 0 1 0 -5.8 0M142.3 154.5a1.8 1.8 0 1 0 3.7 0a1.8 1.8 0 1 0 -3.7 0M30.1 126.7a2.2 2.2 0 1 0 4.3 0a2.2 2.2 0 1 0 -4.3 0M32.2 15.9a1.8 1.8 0 1 0 3.7 0a1.8 1.8 0 1 0 -3.7 0M27.8 163.2a1.9 1.9 0 1 0 3.9 0a1.9 1.9 0 1 0 -3.9 0M38.8 115.5a2.0 2.0 0 1 0 4.0 0a2.0 2.0 0 1 0 -4.0 0M57.1 143.6a2.4 2.4 0 1 0 4.7 0a2.4 2.4 0 1 0 -4.7 0M131.8 72.9a2.2 2.2 0 1 0 4.4 0a2.2 2.2 0 1 0 -4.4 0M166.6 116.4a1.9 1.9 0 1 0 3.9 0a1.9 1.9 0 1 0 -3.9 0M53.4 34.5a1.9 1.9 0 1 0 3.8 0a1.9 1.9 0 1 0 -3.8 0M100.3 -2.1a2.5 2.5 0 1 0 5.0 0a2.5 2.5 0 1 0 -5.0 0M176.4 5.8a2.2 2.2 0 1 0 4.3 0a2.2 2.2 0 1 0 -4.3 0M138.5 32.2a2.5 2.5 0 1 0 5.0 0a2.5 2.5 0 1 0 -5.0 0M50.4 92.4a2.0 2.0 0 1 0 4.0 0a2.0 2.0 0 1 0 -4.0 0M13.1 156.9a2.1 2.1 0 1 0 4.3 0a2.1 2.1 0 1 0 -4.3 0M147.4 80.3a1.8 1.8 0 1 0 3.6 0a1.8 1.8 0 1 0 -3.6 0M172.4 169.8a2.1 2.1 0 1 0 4.3 0a2.1 2.1 0 1 0 -4.3 0M88.9 79.5a2.5 2.5 0 1 0 5.0 0a2.5 2.5 0 1 0 -5.0 0M-5.4 1.2a2.8 2.8 0 1 0 5.7 0a2.8 2.8 0 1 0 -5.7 0M22.2 43.7a2.4 2.4 0 1 0 4.9 0a2.4 2.4 0 1 0 -4.9 0M58.9 179.8a2.8 2.8 0 1 0 5.6 0a2.8 2.8 0 1 0 -5.6 0M91.8 179.3a2.8 2.8 0 1 0 5.6 0a2.8 2.8 0 1 0 -5.6 0M85.2 1.0a2.9 2.9 0 1 0 5.8 0a2.9 2.9 0 1 0 -5.8 0M4.6 45.6a2.4 2.4 0 1 0 4.8 0a2.4 2.4 0 1 0 -4.8 0M78.5 84.8a2.5 2.5 0 1 0 4.9 0a2.5 2.5 0 1 0 -4.9 0M20.5 158.5a2.9 2.9 0 1 0 5.8 0a2.9 2.9 0 1 0 -5.8 0M10.9 117.6a1.9 1.9 0 1 0 3.8 0a1.9 1.9 0 1 0 -3.8 0M22.7 39.8a2.5 2.5 0 1 0 5.0 0a2.5 2.5 0 1 0 -5.0 0M12.9 164.6a2.5 2.5 0 1 0 4.9 0a2.5 2.5 0 1 0 -4.9 0M102.6 125.5a2.0 2.0 0 1 0 3.9 0a2.0 2.0 0 1 0 -3.9 0M52.2 81.3a3.0 3.0 0 1 0 6.0 0a3.0 3.0 0 1 0 -6.0 0M153.7 138.9a1.8 1.8 0 1 0 3.7 0a1.8 1.8 0 1 0 -3.7 0M4.6 34.9a2.6 2.6 0 1 0 5.3 0a2.6 2.6 0 1 0 -5.3 0M15.9 173.4a2.1 2.1 0 1 0 4.1 0a2.1 2.1 0 1 0 -4.1 0M76.4 52.4a3.1 3.1 0 1 0 6.1 0a3.1 3.1 0 1 0 -6.1 0M25.1 176.6a2.5 2.5 0 1 0 4.9 0a2.5 2.5 0 1 0 -4.9 0M157.0 124.8a2.8 2.8 0 1 0 5.5 0a2.8 2.8 0 1 0 -5.5 0M76.1 69.0a3.1 3.1 0 1 0 6.1 0a3.1 3.1 0 1 0 -6.1 0M28.5 137.2a2.8 2.8 0 1 0 5.6 0a2.8 2.8 0 1 0 -5.6 0M154.6 143.9a2.2 2.2 0 1 0 4.3 0a2.2 2.2 0 1 0 -4.3 0M101.9 98.0a2.6 2.6 0 1 0 5.1 0a2.6 2.6 0 1 0 -5.1 0M164.9 176.4a2.1 2.1 0 1 0 4.2 0a2.1 2.1 0 1 0 -4.2 0M130.8 181.0a2.7 2.7 0 1 0 5.4 0a2.7 2.7 0 1 0 -5.4 0M-4.0 44.1a2.6 2.6 0 1 0 5.2 0a2.6 2.6 0 1 0 -5.2 0M161.3 168.8a1.9 1.9 0 1 0 3.8 0a1.9 1.9 0 1 0 -3.8 0M141.4 177.7a2.2 2.2 0 1 0 4.4 0a2.2 2.2 0 1 0 -4.4 0M150.9 91.8a2.5 2.5 0 1 0 5.0 0a2.5 2.5 0 1 0 -5.0 0M73.4 30.7a2.4 2.4 0 1 0 4.8 0a2.4 2.4 0 1 0 -4.8 0M148.7 69.3a2.5 2.5 0 1 0 5.0 0a2.5 2.5 0 1 0 -5.0 0M110.3 22.9a2.3 2.3 0 1 0 4.6 0a2.3 2.3 0 1 0 -4.6 0M22.4 143.8a2.3 2.3 0 1 0 4.6 0a2.3 2.3 0 1 0 -4.6 0M124.4 1.8a2.8 2.8 0 1 0 5.7 0a2.8 2.8 0 1 0 -5.7 0M146.0 100.2a2.6 2.6 0 1 0 5.3 0a2.6 2.6 0 1 0 -5.3 0M73.2 78.0a1.9 1.9 0 1 0 3.8 0a1.9 1.9 0 1 0 -3.8 0M120.2 43.0a3.1 3.1 0 1 0 6.2 0a3.1 3.1 0 1 0 -6.2 0M73.5 60.4a2.1 2.1 0 1 0 4.1 0a2.1 2.1 0 1 0 -4.1 0M129.6 45.1a2.8 2.8 0 1 0 5.6 0a2.8 2.8 0 1 0 -5.6 0M23.0 88.1a3.0 3.0 0 1 0 6.0 0a3.0 3.0 0 1 0 -6.0 0M34.5 123.8a2.5 2.5 0 1 0 5.0 0a2.5 2.5 0 1 0 -5.0 0M80.1 66.9a2.1 2.1 0 1 0 4.1 0a2.1 2.1 0 1 0 -4.1 0M166.3 -1.5a2.8 2.8 0 1 0 5.7 0a2.8 2.8 0 1 0 -5.7 0M20.7 10.3a1.8 1.8 0 1 0 3.7 0a1.8 1.8 0 1 0 -3.7 0M23.2 166.5a2.6 2.6 0 1 0 5.3 0a2.6 2.6 0 1 0 -5.3 0M93.1 134.3a2.6 2.6 0 1 0 5.2 0a2.6 2.6 0 1 0 -5.2 0M39.3 21.5a1.8 1.8 0 1 0 3.6 0a1.8 1.8 0 1 0 -3.6 0M21.5 114.9a3.0 3.0 0 1 0 6.0 0a3.0 3.0 0 1 0 -6.0 0M2.4 112.9a2.2 2.2 0 1 0 4.3 0a2.2 2.2 0 1 0 -4.3 0M-1.7 20.4a1.8 1.8 0 1 0 3.7 0a1.8 1.8 0 1 0 -3.7 0M57.1 46.7a2.0 2.0 0 1 0 4.0 0a2.0 2.0 0 1 0 -4.0 0M168.4 119.1a3.1 3.1 0 1 0 6.1 0a3.1 3.1 0 1 0 -6.1 0M105.6 130.4a1.9 1.9 0 1 0 3.8 0a1.9 1.9 0 1 0 -3.8 0M97.4 43.4a2.2 2.2 0 1 0 4.4 0a2.2 2.2 0 1 0 -4.4 0M87.7 85.2a2.2 2.2 0 1 0 4.4 0a2.2 2.2 0 1 0 -4.4 0M84.3 124.3a1.8 1.8 0 1 0 3.6 0a1.8 1.8 0 1 0 -3.6 0M11.5 44.2a2.4 2.4 0 1 0 4.7 0a2.4 2.4 0 1 0 -4.7 0M4.2 86.8a1.8 1.8 0 1 0 3.7 0a1.8 1.8 0 1 0 -3.7 0M27.3 10.9a1.9 1.9 0 1 0 3.7 0a1.9 1.9 0 1 0 -3.7 0M154.7 11.6a1.9 1.9 0 1 0 3.9 0a1.9 1.9 0 1 0 -3.9 0M2.8 83.5a2.4 2.4 0 1 0 4.9 0a2.4 2.4 0 1 0 -4.9 0M92.5 4.3a3.1 3.1 0 1 0 6.2 0a3.1 3.1 0 1 0 -6.2 0M119.5 166.6a2.3 2.3 0 1 0 4.7 0a2.3 2.3 0 1 0 -4.7 0M178.9 63.7a1.9 1.9 0 1 0 3.9 0a1.9 1.9 0 1 0 -3.9 0M123.5 113.8a2.2 2.2 0 1 0 4.4 0a2.2 2.2 0 1 0 -4.4 0M81.6 64.5a2.0 2.0 0 1 0 3.9 0a2.0 2.0 0 1 0 -3.9 0M137.3 109.9a2.2 2.2 0 1 0 4.4 0a2.2 2.2 0 1 0 -4.4 0M84.9 75.4a2.2 2.2 0 1 0 4.4 0a2.2 2.2 0 1 0 -4.4 0M82.1 6.7a2.4 2.4 0 1 0 4.7 0a2.4 2.4 0 1 0 -4.7 0M55.2 160.9a2.9 2.9 0 1 0 5.9 0a2.9 2.9 0 1 0 -5.9 0M6.6 62.0a2.3 2.3 0 1 0 4.5 0a2.3 2.3 0 1 0 -4.5 0M63.3 -2.3a2.3 2.3 0 1 0 4.7 0a2.3 2.3 0 1 0 -4.7 0M41.4 2.3a2.9 2.9 0 1 0 5.8 0a2.9 2.9 0 1 0 -5.8 0M155.3 184.5a2.8 2.8 0 1 0 5.6 0a2.8 2.8 0 1 0 -5.6 0M92.8 141.2a2.0 2.0 0 1 0 4.0 0a2.0 2.0 0 1 0 -4.0 0M85.0 19.1a2.6 2.6 0 1 0 5.1 0a2.6 2.6 0 1 0 -5.1 0M93.1 92.1a2.8 2.8 0 1 0 5.6 0a2.8 2.8 0 1 0 -5.6 0M73.5 27.2a2.1 2.1 0 1 0 4.3 0a2.1 2.1 0 1 0 -4.3 0M14.5 150.3a2.3 2.3 0 1 0 4.7 0a2.3 2.3 0 1 0 -4.7 0M17.5 181.0a2.0 2.0 0 1 0 4.1 0a2.0 2.0 0 1 0 -4.1 0M165.7 119.3a2.3 2.3 0 1 0 4.6 0a2.3 2.3 0 1 0 -4.6 0M134.2 29.4a2.2 2.2 0 1 0 4.3 0a2.2 2.2 0 1 0 -4.3 0M80.0 128.4a2.2 2.2 0 1 0 4.4 0a2.2 2.2 0 1 0 -4.4 0M49.3 71.5a2.9 2.9 0 1 0 5.8 0a2.9 2.9 0 1 0 -5.8 0M127.5 173.8a1.9 1.9 0 1 0 3.7 0a1.9 1.9 0 1 0 -3.7 0M49.6 65.0a2.2 2.2 0 1 0 4.5 0a2.2 2.2 0 1 0 -4.5 0M39.6 26.7a2.9 2.9 0 1 0 5.9 0a2.9 2.9 0 1 0 -5.9 0M133.3 116.6a2.0 2.0 0 1 0 3.9 0a2.0 2.0 0 1 0 -3.9 0M13.3 60.3a2.3 2.3 0 1 0 4.7 0a2.3 2.3 0 1 0 -4.7 0M60.3 129.6a1.9 1.9 0 1 0 3.8 0a1.9 1.9 0 1 0 -3.8 0M-2.2 83.5a2.8 2.8 0 1 0 5.6 0a2.8 2.8 0 1 0 -5.6 0M92.4 42.9a2.9 2.9 0 1 0 5.7 0a2.9 2.9 0 1 0 -5.7 0M142.6 66.5a2.9 2.9 0 1 0 5.7 0a2.9 2.9 0 1 0 -5.7 0M33.9 -2.6a2.6 2.6 0 1 0 5.2 0a2.6 2.6 0 1 0 -5.2 0M142.1 127.3a2.5 2.5 0 1 0 4.9 0a2.5 2.5 0 1 0 -4.9 0M13.2 114.0a1.9 1.9 0 1 0 3.9 0a1.9 1.9 0 1 0 -3.9 0M47.4 158.4a3.1 3.1 0 1 0 6.1 0a3.1 3.1 0 1 0 -6.1 0M124.5 57.4a2.1 2.1 0 1 0 4.1 0a2.1 2.1 0 1 0 -4.1 0M124.5 42.3a2.6 2.6 0 1 0 5.3 0a2.6 2.6 0 1 0 -5.3 0M180.4 18.3a3.1 3.1 0 1 0 6.2 0a3.1 3.1 0 1 0 -6.2 0M88.0 29.9a2.4 2.4 0 1 0 4.7 0a2.4 2.4 0 1 0 -4.7 0M14.4 168.2a3.0 3.0 0 1 0 6.0 0a3.0 3.0 0 1 0 -6.0 0M120.6 133.1a2.5 2.5 0 1 0 5.1 0a2.5 2.5 0 1 0 -5.1 0M65.0 22.8a2.2 2.2 0 1 0 4.4 0a2.2 2.2 0 1 0 -4.4 0M156.9 145.9a3.0 3.0 0 1 0 5.9 0a3.0 3.0 0 1 0 -5.9 0M48.9 2.2a2.9 2.9 0 1 0 5.8 0a2.9 2.9 0 1 0 -5.8 0M33.8 55.7a2.0 2.0 0 1 0 4.1 0a2.0 2.0 0 1 0 -4.1 0M162.6 152.9a2.8 2.8 0 1 0 5.6 0a2.8 2.8 0 1 0 -5.6 0M41.7 152.3a2.3 2.3 0 1 0 4.6 0a2.3 2.3 0 1 0 -4.6 0M166.4 142.2a2.3 2.3 0 1 0 4.6 0a2.3 2.3 0 1 0 -4.6 0M58.4 69.1a2.1 2.1 0 1 0 4.2 0a2.1 2.1 0 1 0 -4.2 0M75.6 22.3a1.8 1.8 0 1 0 3.6 0a1.8 1.8 0 1 0 -3.6 0M116.5 162.2a2.1 2.1 0 1 0 4.2 0a2.1 2.1 0 1 0 -4.2 0M83.9 181.4a2.8 2.8 0 1 0 5.5 0a2.8 2.8 0 1 0 -5.5 0M86.3 154.0a3.0 3.0 0 1 0 6.0 0a3.0 3.0 0 1 0 -6.0 0M89.5 2.6a2.7 2.7 0 1 0 5.4 0a2.7 2.7 0 1 0 -5.4 0M10.6 6.1a1.9 1.9 0 1 0 3.8 0a1.9 1.9 0 1 0 -3.8 0M47.0 24.0a1.8 1.8 0 1 0 3.7 0a1.8 1.8 0 1 0 -3.7 0M17.1 91.7a2.9 2.9 0 1 0 5.8 0a2.9 2.9 0 1 0 -5.8 0M172.3 22.0a1.9 1.9 0 1 0 3.8 0a1.9 1.9 0 1 0 -3.8 0M98.9 71.8a2.4 2.4 0 1 0 4.9 0a2.4 2.4 0 1 0 -4.9 0M45.0 184.6a2.4 2.4 0 1 0 4.7 0a2.4 2.4 0 1 0 -4.7 0M63.0 101.9a1.8 1.8 0 1 0 3.6 0a1.8 1.8 0 1 0 -3.6 0M174.3 60.0a2.3 2.3 0 1 0 4.7 0a2.3 2.3 0 1 0 -4.7 0M139.7 52.3a2.4 2.4 0 1 0 4.7 0a2.4 2.4 0 1 0 -4.7 0M71.9 24.3a2.4 2.4 0 1 0 4.8 0a2.4 2.4 0 1 0 -4.8 0M105.6 -0.5a2.1 2.1 0 1 0 4.1 0a2.1 2.1 0 1 0 -4.1 0M-2.6 154.4a1.9 1.9 0 1 0 3.7 0a1.9 1.9 0 1 0 -3.7 0M41.9 51.1a3.1 3.1 0 1 0 6.2 0a3.1 3.1 0 1 0 -6.2 0M80.9 180.4a2.4 2.4 0 1 0 4.8 0a2.4 2.4 0 1 0 -4.8 0M117.7 42.2a2.0 2.0 0 1 0 3.9 0a2.0 2.0 0 1 0 -3.9 0M50.8 41.2a2.8 2.8 0 1 0 5.7 0a2.8 2.8 0 1 0 -5.7 0M173.5 99.5a1.9 1.9 0 1 0 3.7 0a1.9 1.9 0 1 0 -3.7 0M113.9 67.6a2.5 2.5 0 1 0 5.1 0a2.5 2.5 0 1 0 -5.1 0M29.8 142.5a2.7 2.7 0 1 0 5.3 0a2.7 2.7 0 1 0 -5.3 0M29.2 76.6a2.6 2.6 0 1 0 5.3 0a2.6 2.6 0 1 0 -5.3 0M163.1 67.8a2.5 2.5 0 1 0 5.1 0a2.5 2.5 0 1 0 -5.1 0M45.6 84.4a2.9 2.9 0 1 0 5.9 0a2.9 2.9 0 1 0 -5.9 0M86.2 101.1a2.6 2.6 0 1 0 5.2 0a2.6 2.6 0 1 0 -5.2 0M62.8 13.5a2.6 2.6 0 1 0 5.2 0a2.6 2.6 0 1 0 -5.2 0M72.2 120.5a1.9 1.9 0 1 0 3.9 0a1.9 1.9 0 1 0 -3.9 0M172.9 30.4a2.4 2.4 0 1 0 4.7 0a2.4 2.4 0 1 0 -4.7 0M69.8 107.7a1.9 1.9 0 1 0 3.8 0a1.9 1.9 0 1 0 -3.8 0M55.1 -2.7a2.2 2.2 0 1 0 4.4 0a2.2 2.2 0 1 0 -4.4 0M33.8 69.4a2.7 2.7 0 1 0 5.4 0a2.7 2.7 0 1 0 -5.4 0M27.5 89.8a2.4 2.4 0 1 0 4.8 0a2.4 2.4 0 1 0 -4.8 0M163.0 49.4a2.1 2.1 0 1 0 4.2 0a2.1 2.1 0 1 0 -4.2 0M183.7 183.7a1.8 1.8 0 1 0 3.7 0a1.8 1.8 0 1 0 -3.7 0M108.0 101.5a1.9 1.9 0 1 0 3.8 0a1.9 1.9 0 1 0 -3.8 0M22.1 107.2a2.2 2.2 0 1 0 4.4 0a2.2 2.2 0 1 0 -4.4 0M121.9 20.1a1.8 1.8 0 1 0 3.6 0a1.8 1.8 0 1 0 -3.6 0M16.1 132.2a2.0 2.0 0 1 0 4.1 0a2.0 2.0 0 1 0 -4.1 0M60.7 49.5a1.9 1.9 0 1 0 3.8 0a1.9 1.9 0 1 0 -3.8 0M171.4 -2.3a2.4 2.4 0 1 0 4.8 0a2.4 2.4 0 1 0 -4.8 0M23.4 133.0a2.2 2.2 0 1 0 4.3 0a2.2 2.2 0 1 0 -4.3 0M175.8 123.8a2.8 2.8 0 1 0 5.7 0a2.8 2.8 0 1 0 -5.7 0M181.8 23.7a2.8 2.8 0 1 0 5.5 0a2.8 2.8 0 1 0 -5.5 0M169.5 129.8a1.8 1.8 0 1 0 3.6 0a1.8 1.8 0 1 0 -3.6 0M24.3 11.2a2.2 2.2 0 1 0 4.5 0a2.2 2.2 0 1 0 -4.5 0M54.6 78.4a2.0 2.0 0 1 0 4.0 0a2.0 2.0 0 1 0 -4.0 0M53.4 110.7a2.0 2.0 0 1 0 3.9 0a2.0 2.0 0 1 0 -3.9 0M130.1 31.6a2.0 2.0 0 1 0 3.9 0a2.0 2.0 0 1 0 -3.9 0M137.8 175.2a1.8 1.8 0 1 0 3.7 0a1.8 1.8 0 1 0 -3.7 0M90.9 113.6a2.0 2.0 0 1 0 4.1 0a2.0 2.0 0 1 0 -4.1 0M173.4 84.6a2.5 2.5 0 1 0 4.9 0a2.5 2.5 0 1 0 -4.9 0M168.1 184.5a2.4 2.4 0 1 0 4.8 0a2.4 2.4 0 1 0 -4.8 0M71.2 28.1a1.9 1.9 0 1 0 3.9 0a1.9 1.9 0 1 0 -3.9 0M115.5 105.3a1.9 1.9 0 1 0 3.7 0a1.9 1.9 0 1 0 -3.7 0M66.8 138.5a2.7 2.7 0 1 0 5.4 0a2.7 2.7 0 1 0 -5.4 0M153.2 147.0a2.0 2.0 0 1 0 3.9 0a2.0 2.0 0 1 0 -3.9 0M108.3 -2.5a2.7 2.7 0 1 0 5.4 0a2.7 2.7 0 1 0 -5.4 0M134.4 103.2a2.0 2.0 0 1 0 3.9 0a2.0 2.0 0 1 0 -3.9 0M71.0 73.8a2.5 2.5 0 1 0 5.0 0a2.5 2.5 0 1 0 -5.0 0M177.1 83.3a2.6 2.6 0 1 0 5.1 0a2.6 2.6 0 1 0 -5.1 0M8.4 85.8a2.0 2.0 0 1 0 4.0 0a2.0 2.0 0 1 0 -4.0 0M124.2 96.8a2.6 2.6 0 1 0 5.2 0a2.6 2.6 0 1 0 -5.2 0M61.4 135.3a2.8 2.8 0 1 0 5.5 0a2.8 2.8 0 1 0 -5.5 0M108.7 115.5a2.2 2.2 0 1 0 4.4 0a2.2 2.2 0 1 0 -4.4 0M160.9 82.6a2.4 2.4 0 1 0 4.8 0a2.4 2.4 0 1 0 -4.8 0M0.8 35.2a2.7 2.7 0 1 0 5.3 0a2.7 2.7 0 1 0 -5.3 0M182.8 146.5a2.1 2.1 0 1 0 4.1 0a2.1 2.1 0 1 0 -4.1 0M98.7 46.6a2.4 2.4 0 1 0 4.8 0a2.4 2.4 0 1 0 -4.8 0M70.4 113.3a2.8 2.8 0 1 0 5.7 0a2.8 2.8 0 1 0 -5.7 0M-4.6 48.7a2.9 2.9 0 1 0 5.7 0a2.9 2.9 0 1 0 -5.7 0M148.3 65.9a1.9 1.9 0 1 0 3.8 0a1.9 1.9 0 1 0 -3.8 0M106.3 142.7a2.8 2.8 0 1 0 5.6 0a2.8 2.8 0 1 0 -5.6 0M34.2 90.9a1.8 1.8 0 1 0 3.6 0a1.8 1.8 0 1 0 -3.6 0M173.3 119.9a3.0 3.0 0 1 0 6.1 0a3.0 3.0 0 1 0 -6.1 0M182.5 28.3a2.5 2.5 0 1 0 4.9 0a2.5 2.5 0 1 0 -4.9 0M156.9 17.2a2.7 2.7 0 1 0 5.5 0a2.7 2.7 0 1 0 -5.5 0M0.7 153.3a2.5 2.5 0 1 0 5.0 0a2.5 2.5 0 1 0 -5.0 0M148.8 154.3a2.8 2.8 0 1 0 5.7 0a2.8 2.8 0 1 0 -5.7 0M5.8 30.5a2.8 2.8 0 1 0 5.7 0a2.8 2.8 0 1 0 -5.7 0M174.4 54.7a2.9 2.9 0 1 0 5.8 0a2.9 2.9 0 1 0 -5.8 0M87.5 6.6a2.3 2.3 0 1 0 4.6 0a2.3 2.3 0 1 0 -4.6 0M119.8 16.9a2.0 2.0 0 1 0 4.0 0a2.0 2.0 0 1 0 -4.0 0M135.6 141.9a2.4 2.4 0 1 0 4.8 0a2.4 2.4 0 1 0 -4.8 0M103.9 41.3a2.1 2.1 0 1 0 4.3 0a2.1 2.1 0 1 0 -4.3 0M165.8 27.0a2.8 2.8 0 1 0 5.7 0a2.8 2.8 0 1 0 -5.7 0M83.9 41.8a2.8 2.8 0 1 0 5.7 0a2.8 2.8 0 1 0 -5.7 0M43.2 118.5a2.1 2.1 0 1 0 4.1 0a2.1 2.1 0 1 0 -4.1 0M142.9 44.9a2.7 2.7 0 1 0 5.4 0a2.7 2.7 0 1 0 -5.4 0M72.1 68.5a2.2 2.2 0 1 0 4.4 0a2.2 2.2 0 1 0 -4.4 0M119.6 81.3a2.2 2.2 0 1 0 4.3 0a2.2 2.2 0 1 0 -4.3 0M60.0 126.8a2.0 2.0 0 1 0 4.0 0a2.0 2.0 0 1 0 -4.0 0M37.0 23.6a2.1 2.1 0 1 0 4.1 0a2.1 2.1 0 1 0 -4.1 0M-5.3 124.8a2.9 2.9 0 1 0 5.9 0a2.9 2.9 0 1 0 -5.9 0M13.8 130.4a1.9 1.9 0 1 0 3.7 0a1.9 1.9 0 1 0 -3.7 0M139.0 90.5a2.2 2.2 0 1 0 4.4 0a2.2 2.2 0 1 0 -4.4 0M84.9 96.7a2.2 2.2 0 1 0 4.3 0a2.2 2.2 0 1 0 -4.3 0M-4.6 181.4a2.5 2.5 0 1 0 5.0 0a2.5 2.5 0 1 0 -5.0 0M167.1 43.1a2.2 2.2 0 1 0 4.5 0a2.2 2.2 0 1 0 -4.5 0M48.1 51.8a2.0 2.0 0 1 0 4.0 0a2.0 2.0 0 1 0 -4.0 0M84.2 36.1a2.8 2.8 0 1 0 5.6 0a2.8 2.8 0 1 0 -5.6 0M128.2 117.7a2.3 2.3 0 1 0 4.6 0a2.3 2.3 0 1 0 -4.6 0M55.1 72.6a1.9 1.9 0 1 0 3.7 0a1.9 1.9 0 1 0 -3.7 0M166.9 48.2a2.1 2.1 0 1 0 4.3 0a2.1 2.1 0 1 0 -4.3 0M111.8 153.0a2.1 2.1 0 1 0 4.2 0a2.1 2.1 0 1 0 -4.2 0M100.3 82.0a2.2 2.2 0 1 0 4.4 0a2.2 2.2 0 1 0 -4.4 0M125.2 134.1a1.9 1.9 0 1 0 3.9 0a1.9 1.9 0 1 0 -3.9 0M61.9 169.8a2.8 2.8 0 1 0 5.7 0a2.8 2.8 0 1 0 -5.7 0M160.9 177.0a2.3 2.3 0 1 0 4.7 0a2.3 2.3 0 1 0 -4.7 0M170.2 67.8a2.8 2.8 0 1 0 5.6 0a2.8 2.8 0 1 0 -5.6 0M66.9 99.9a2.2 2.2 0 1 0 4.3 0a2.2 2.2 0 1 0 -4.3 0M-5.6 172.6a3.0 3.0 0 1 0 6.1 0a3.0 3.0 0 1 0 -6.1 0M159.1 164.6a3.0 3.0 0 1 0 6.0 0a3.0 3.0 0 1 0 -6.0 0M162.0 146.2a2.9 2.9 0 1 0 5.9 0a2.9 2.9 0 1 0 -5.9 0M133.3 3.3a2.4 2.4 0 1 0 4.8 0a2.4 2.4 0 1 0 -4.8 0M168.1 153.9a2.0 2.0 0 1 0 4.1 0a2.0 2.0 0 1 0 -4.1 0M123.2 141.5a2.0 2.0 0 1 0 4.1 0a2.0 2.0 0 1 0 -4.1 0M36.8 44.4a2.2 2.2 0 1 0 4.4 0a2.2 2.2 0 1 0 -4.4 0M55.4 141.3a1.9 1.9 0 1 0 3.8 0a1.9 1.9 0 1 0 -3.8 0M33.8 160.1a1.9 1.9 0 1 0 3.8 0a1.9 1.9 0 1 0 -3.8 0M110.7 138.4a2.5 2.5 0 1 0 5.1 0a2.5 2.5 0 1 0 -5.1 0M107.0 106.7a2.6 2.6 0 1 0 5.2 0a2.6 2.6 0 1 0 -5.2 0M179.4 0.0a1.9 1.9 0 1 0 3.8 0a1.9 1.9 0 1 0 -3.8 0M107.2 21.2a2.2 2.2 0 1 0 4.3 0a2.2 2.2 0 1 0 -4.3 0M65.8 51.1a3.0 3.0 0 1 0 5.9 0a3.0 3.0 0 1 0 -5.9 0M95.4 74.6a1.9 1.9 0 1 0 3.8 0a1.9 1.9 0 1 0 -3.8 0M0.1 46.2a2.7 2.7 0 1 0 5.4 0a2.7 2.7 0 1 0 -5.4 0M41.4 115.4a2.8 2.8 0 1 0 5.5 0a2.8 2.8 0 1 0 -5.5 0M120.2 3.5a2.3 2.3 0 1 0 4.5 0a2.3 2.3 0 1 0 -4.5 0M78.0 28.8a2.2 2.2 0 1 0 4.5 0a2.2 2.2 0 1 0 -4.5 0M65.3 9.3a2.2 2.2 0 1 0 4.3 0a2.2 2.2 0 1 0 -4.3 0M129.6 138.1a2.4 2.4 0 1 0 4.9 0a2.4 2.4 0 1 0 -4.9 0M81.6 161.9a2.3 2.3 0 1 0 4.6 0a2.3 2.3 0 1 0 -4.6 0M-4.0 86.9a2.9 2.9 0 1 0 5.8 0a2.9 2.9 0 1 0 -5.8 0M107.2 165.5a1.9 1.9 0 1 0 3.8 0a1.9 1.9 0 1 0 -3.8 0M103.6 155.9a1.9 1.9 0 1 0 3.8 0a1.9 1.9 0 1 0 -3.8 0M49.3 146.1a2.1 2.1 0 1 0 4.3 0a2.1 2.1 0 1 0 -4.3 0M38.3 106.8a2.9 2.9 0 1 0 5.8 0a2.9 2.9 0 1 0 -5.8 0M113.4 142.0a1.9 1.9 0 1 0 3.9 0a1.9 1.9 0 1 0 -3.9 0M146.2 46.6a1.9 1.9 0 1 0 3.8 0a1.9 1.9 0 1 0 -3.8 0M166.5 146.7a2.9 2.9 0 1 0 5.8 0a2.9 2.9 0 1 0 -5.8 0M94.9 119.4a2.1 2.1 0 1 0 4.1 0a2.1 2.1 0 1 0 -4.1 0M18.5 -0.0a2.0 2.0 0 1 0 4.1 0a2.0 2.0 0 1 0 -4.1 0M177.4 170.6a2.5 2.5 0 1 0 5.1 0a2.5 2.5 0 1 0 -5.1 0M74.1 63.4a2.2 2.2 0 1 0 4.5 0a2.2 2.2 0 1 0 -4.5 0M25.7 63.8a2.6 2.6 0 1 0 5.1 0a2.6 2.6 0 1 0 -5.1 0M2.0 21.3a1.8 1.8 0 1 0 3.7 0a1.8 1.8 0 1 0 -3.7 0M-0.5 115.6a2.5 2.5 0 1 0 5.1 0a2.5 2.5 0 1 0 -5.1 0M178.5 175.0a2.5 2.5 0 1 0 4.9 0a2.5 2.5 0 1 0 -4.9 0M22.5 150.0a2.0 2.0 0 1 0 3.9 0a2.0 2.0 0 1 0 -3.9 0M74.6 0.5a2.9 2.9 0 1 0 5.8 0a2.9 2.9 0 1 0 -5.8 0M112.5 50.8a2.1 2.1 0 1 0 4.2 0a2.1 2.1 0 1 0 -4.2 0M48.9 26.1a2.9 2.9 0 1 0 5.8 0a2.9 2.9 0 1 0 -5.8 0M182.4 89.0a2.4 2.4 0 1 0 4.9 0a2.4 2.4 0 1 0 -4.9 0M97.4 7.8a3.1 3.1 0 1 0 6.1 0a3.1 3.1 0 1 0 -6.1 0M152.1 19.6a2.5 2.5 0 1 0 4.9 0a2.5 2.5 0 1 0 -4.9 0M171.1 156.5a2.0 2.0 0 1 0 4.0 0a2.0 2.0 0 1 0 -4.0 0M2.6 66.7a2.3 2.3 0 1 0 4.6 0a2.3 2.3 0 1 0 -4.6 0M80.3 148.8a2.2 2.2 0 1 0 4.5 0a2.2 2.2 0 1 0 -4.5 0M156.6 171.7a2.5 2.5 0 1 0 5.0 0a2.5 2.5 0 1 0 -5.0 0M63.3 42.5a2.3 2.3 0 1 0 4.6 0a2.3 2.3 0 1 0 -4.6 0M93.3 86.7a2.1 2.1 0 1 0 4.3 0a2.1 2.1 0 1 0 -4.3 0M81.0 89.6a1.8 1.8 0 1 0 3.7 0a1.8 1.8 0 1 0 -3.7 0M116.4 96.0a2.3 2.3 0 1 0 4.6 0a2.3 2.3 0 1 0 -4.6 0M129.2 68.9a2.9 2.9 0 1 0 5.8 0a2.9 2.9 0 1 0 -5.8 0M69.2 66.1a2.8 2.8 0 1 0 5.6 0a2.8 2.8 0 1 0 -5.6 0M170.1 104.7a2.8 2.8 0 1 0 5.7 0a2.8 2.8 0 1 0 -5.7 0M86.8 124.6a2.1 2.1 0 1 0 4.2 0a2.1 2.1 0 1 0 -4.2 0M172.4 90.2a2.9 2.9 0 1 0 5.8 0a2.9 2.9 0 1 0 -5.8 0M110.4 37.2a2.9 2.9 0 1 0 5.9 0a2.9 2.9 0 1 0 -5.9 0M120.6 29.5a1.8 1.8 0 1 0 3.6 0a1.8 1.8 0 1 0 -3.6 0M98.5 16.5a2.1 2.1 0 1 0 4.3 0a2.1 2.1 0 1 0 -4.3 0M41.5 161.2a2.2 2.2 0 1 0 4.4 0a2.2 2.2 0 1 0 -4.4 0M140.0 152.4a2.3 2.3 0 1 0 4.5 0a2.3 2.3 0 1 0 -4.5 0M166.5 122.1a1.9 1.9 0 1 0 3.9 0a1.9 1.9 0 1 0 -3.9 0M179.6 35.2a2.4 2.4 0 1 0 4.9 0a2.4 2.4 0 1 0 -4.9 0M69.6 123.1a2.4 2.4 0 1 0 4.8 0a2.4 2.4 0 1 0 -4.8 0M124.6 26.8a2.6 2.6 0 1 0 5.1 0a2.6 2.6 0 1 0 -5.1 0M171.8 179.4a2.7 2.7 0 1 0 5.5 0a2.7 2.7 0 1 0 -5.5 0M76.1 93.8a2.9 2.9 0 1 0 5.9 0a2.9 2.9 0 1 0 -5.9 0M69.2 119.5a2.3 2.3 0 1 0 4.6 0a2.3 2.3 0 1 0 -4.6 0M142.2 164.9a2.5 2.5 0 1 0 5.0 0a2.5 2.5 0 1 0 -5.0 0M35.7 131.5a2.0 2.0 0 1 0 4.0 0a2.0 2.0 0 1 0 -4.0 0M178.3 18.1a1.9 1.9 0 1 0 3.8 0a1.9 1.9 0 1 0 -3.8 0M82.2 3.5a2.5 2.5 0 1 0 4.9 0a2.5 2.5 0 1 0 -4.9 0M-0.5 4.1a2.9 2.9 0 1 0 5.9 0a2.9 2.9 0 1 0 -5.9 0M46.7 49.1a1.9 1.9 0 1 0 3.7 0a1.9 1.9 0 1 0 -3.7 0M25.4 92.2a2.3 2.3 0 1 0 4.6 0a2.3 2.3 0 1 0 -4.6 0M93.5 77.6a2.0 2.0 0 1 0 3.9 0a2.0 2.0 0 1 0 -3.9 0M97.4 -1.9a2.1 2.1 0 1 0 4.2 0a2.1 2.1 0 1 0 -4.2 0M102.1 53.8a2.3 2.3 0 1 0 4.6 0a2.3 2.3 0 1 0 -4.6 0M78.5 101.7a2.4 2.4 0 1 0 4.8 0a2.4 2.4 0 1 0 -4.8 0M126.8 39.5a3.1 3.1 0 1 0 6.2 0a3.1 3.1 0 1 0 -6.2 0M104.1 182.6a2.6 2.6 0 1 0 5.2 0a2.6 2.6 0 1 0 -5.2 0M148.7 174.4a2.0 2.0 0 1 0 3.9 0a2.0 2.0 0 1 0 -3.9 0M65.0 141.7a1.9 1.9 0 1 0 3.9 0a1.9 1.9 0 1 0 -3.9 0M28.1 165.9a2.0 2.0 0 1 0 4.1 0a2.0 2.0 0 1 0 -4.1 0M178.8 79.6a1.9 1.9 0 1 0 3.8 0a1.9 1.9 0 1 0 -3.8 0M178.1 67.6a2.1 2.1 0 1 0 4.3 0a2.1 2.1 0 1 0 -4.3 0M80.1 44.6a2.5 2.5 0 1 0 5.0 0a2.5 2.5 0 1 0 -5.0 0M117.9 36.7a3.1 3.1 0 1 0 6.2 0a3.1 3.1 0 1 0 -6.2 0M47.7 124.7a2.8 2.8 0 1 0 5.6 0a2.8 2.8 0 1 0 -5.6 0M178.2 53.9a2.4 2.4 0 1 0 4.9 0a2.4 2.4 0 1 0 -4.9 0M39.6 134.7a2.3 2.3 0 1 0 4.6 0a2.3 2.3 0 1 0 -4.6 0M53.9 48.7a1.9 1.9 0 1 0 3.7 0a1.9 1.9 0 1 0 -3.7 0M42.6 62.0a2.7 2.7 0 1 0 5.3 0a2.7 2.7 0 1 0 -5.3 0M122.1 106.7a1.9 1.9 0 1 0 3.7 0a1.9 1.9 0 1 0 -3.7 0M164.5 37.4a2.2 2.2 0 1 0 4.5 0a2.2 2.2 0 1 0 -4.5 0M54.3 120.5a1.9 1.9 0 1 0 3.7 0a1.9 1.9 0 1 0 -3.7 0M75.9 153.7a2.6 2.6 0 1 0 5.1 0a2.6 2.6 0 1 0 -5.1 0M14.8 56.5a2.4 2.4 0 1 0 4.8 0a2.4 2.4 0 1 0 -4.8 0M152.3 173.7a2.0 2.0 0 1 0 4.1 0a2.0 2.0 0 1 0 -4.1 0M127.8 102.2a2.4 2.4 0 1 0 4.8 0a2.4 2.4 0 1 0 -4.8 0M-3.0 157.1a1.9 1.9 0 1 0 3.7 0a1.9 1.9 0 1 0 -3.7 0M-3.4 62.4a2.2 2.2 0 1 0 4.4 0a2.2 2.2 0 1 0 -4.4 0M23.8 182.6a2.2 2.2 0 1 0 4.4 0a2.2 2.2 0 1 0 -4.4 0M1.2 119.5a2.4 2.4 0 1 0 4.7 0a2.4 2.4 0 1 0 -4.7 0M104.6 149.2a1.8 1.8 0 1 0 3.6 0a1.8 1.8 0 1 0 -3.6 0M22.4 47.4a2.8 2.8 0 1 0 5.6 0a2.8 2.8 0 1 0 -5.6 0M92.0 119.5a2.2 2.2 0 1 0 4.4 0a2.2 2.2 0 1 0 -4.4 0M150.8 115.7a1.9 1.9 0 1 0 3.8 0a1.9 1.9 0 1 0 -3.8 0M116.4 171.9a1.8 1.8 0 1 0 3.7 0a1.8 1.8 0 1 0 -3.7 0M147.6 104.6a2.0 2.0 0 1 0 4.1 0a2.0 2.0 0 1 0 -4.1 0M104.6 137.2a2.5 2.5 0 1 0 5.0 0a2.5 2.5 0 1 0 -5.0 0M113.2 164.9a2.3 2.3 0 1 0 4.6 0a2.3 2.3 0 1 0 -4.6 0M117.6 58.2a2.1 2.1 0 1 0 4.1 0a2.1 2.1 0 1 0 -4.1 0M158.5 -2.5a1.8 1.8 0 1 0 3.6 0a1.8 1.8 0 1 0 -3.6 0M2.6 39.7a1.9 1.9 0 1 0 3.8 0a1.9 1.9 0 1 0 -3.8 0M139.5 56.2a2.5 2.5 0 1 0 4.9 0a2.5 2.5 0 1 0 -4.9 0M60.6 151.6a2.4 2.4 0 1 0 4.8 0a2.4 2.4 0 1 0 -4.8 0M101.3 44.7a2.7 2.7 0 1 0 5.5 0a2.7 2.7 0 1 0 -5.5 0M76.2 170.7a3.0 3.0 0 1 0 6.0 0a3.0 3.0 0 1 0 -6.0 0M30.9 47.4a2.4 2.4 0 1 0 4.7 0a2.4 2.4 0 1 0 -4.7 0M64.4 99.0a2.0 2.0 0 1 0 4.1 0a2.0 2.0 0 1 0 -4.1 0M24.8 123.1a2.1 2.1 0 1 0 4.1 0a2.1 2.1 0 1 0 -4.1 0M96.4 163.5a2.4 2.4 0 1 0 4.8 0a2.4 2.4 0 1 0 -4.8 0M143.6 14.5a1.9 1.9 0 1 0 3.8 0a1.9 1.9 0 1 0 -3.8 0M64.0 94.7a3.0 3.0 0 1 0 5.9 0a3.0 3.0 0 1 0 -5.9 0M61.0 81.5a1.8 1.8 0 1 0 3.7 0a1.8 1.8 0 1 0 -3.7 0M93.1 147.8a2.1 2.1 0 1 0 4.2 0a2.1 2.1 0 1 0 -4.2 0M123.4 162.1a2.6 2.6 0 1 0 5.2 0a2.6 2.6 0 1 0 -5.2 0M73.2 116.1a2.7 2.7 0 1 0 5.4 0a2.7 2.7 0 1 0 -5.4 0M173.9 -0.3a2.7 2.7 0 1 0 5.3 0a2.7 2.7 0 1 0 -5.3 0M8.1 3.1a2.6 2.6 0 1 0 5.1 0a2.6 2.6 0 1 0 -5.1 0M169.5 142.4a2.7 2.7 0 1 0 5.3 0a2.7 2.7 0 1 0 -5.3 0M73.3 131.8a2.0 2.0 0 1 0 4.1 0a2.0 2.0 0 1 0 -4.1 0M28.5 72.6a2.9 2.9 0 1 0 5.8 0a2.9 2.9 0 1 0 -5.8 0M136.8 5.3a2.6 2.6 0 1 0 5.1 0a2.6 2.6 0 1 0 -5.1 0M181.7 175.3a2.1 2.1 0 1 0 4.2 0a2.1 2.1 0 1 0 -4.2 0M7.3 112.5a2.7 2.7 0 1 0 5.5 0a2.7 2.7 0 1 0 -5.5 0M24.3 103.9a2.1 2.1 0 1 0 4.3 0a2.1 2.1 0 1 0 -4.3 0M161.7 100.9a2.1 2.1 0 1 0 4.2 0a2.1 2.1 0 1 0 -4.2 0M109.6 162.4a1.9 1.9 0 1 0 3.9 0a1.9 1.9 0 1 0 -3.9 0M113.0 27.6a2.7 2.7 0 1 0 5.5 0a2.7 2.7 0 1 0 -5.5 0M95.6 30.1a1.8 1.8 0 1 0 3.6 0a1.8 1.8 0 1 0 -3.6 0M133.7 147.9a1.9 1.9 0 1 0 3.8 0a1.9 1.9 0 1 0 -3.8 0M40.7 157.5a2.4 2.4 0 1 0 4.8 0a2.4 2.4 0 1 0 -4.8 0M167.2 19.2a1.9 1.9 0 1 0 3.8 0a1.9 1.9 0 1 0 -3.8 0M175.9 184.7a2.6 2.6 0 1 0 5.2 0a2.6 2.6 0 1 0 -5.2 0M125.4 60.6a2.1 2.1 0 1 0 4.1 0a2.1 2.1 0 1 0 -4.1 0M121.3 73.0a2.1 2.1 0 1 0 4.3 0a2.1 2.1 0 1 0 -4.3 0M107.6 69.1a2.2 2.2 0 1 0 4.4 0a2.2 2.2 0 1 0 -4.4 0M85.1 23.1a1.9 1.9 0 1 0 3.7 0a1.9 1.9 0 1 0 -3.7 0M6.6 49.2a1.8 1.8 0 1 0 3.6 0a1.8 1.8 0 1 0 -3.6 0M124.3 184.9a2.3 2.3 0 1 0 4.6 0a2.3 2.3 0 1 0 -4.6 0M81.4 -0.0a2.5 2.5 0 1 0 5.1 0a2.5 2.5 0 1 0 -5.1 0M77.0 42.9a2.3 2.3 0 1 0 4.6 0a2.3 2.3 0 1 0 -4.6 0M77.1 165.5a2.8 2.8 0 1 0 5.5 0a2.8 2.8 0 1 0 -5.5 0M27.6 20.7a2.3 2.3 0 1 0 4.7 0a2.3 2.3 0 1 0 -4.7 0M44.6 143.4a2.6 2.6 0 1 0 5.2 0a2.6 2.6 0 1 0 -5.2 0M114.1 115.6a2.2 2.2 0 1 0 4.4 0a2.2 2.2 0 1 0 -4.4 0M71.4 34.7a2.1 2.1 0 1 0 4.3 0a2.1 2.1 0 1 0 -4.3 0M6.2 69.9a1.9 1.9 0 1 0 3.8 0a1.9 1.9 0 1 0 -3.8 0M50.5 179.6a1.9 1.9 0 1 0 3.7 0a1.9 1.9 0 1 0 -3.7 0M28.3 54.3a2.1 2.1 0 1 0 4.2 0a2.1 2.1 0 1 0 -4.2 0M58.3 6.1a1.9 1.9 0 1 0 3.7 0a1.9 1.9 0 1 0 -3.7 0M122.6 175.0a2.6 2.6 0 1 0 5.2 0a2.6 2.6 0 1 0 -5.2 0M170.6 44.1a2.0 2.0 0 1 0 3.9 0a2.0 2.0 0 1 0 -3.9 0M99.1 130.0a2.4 2.4 0 1 0 4.8 0a2.4 2.4 0 1 0 -4.8 0M14.4 28.7a1.8 1.8 0 1 0 3.6 0a1.8 1.8 0 1 0 -3.6 0M170.7 71.6a2.1 2.1 0 1 0 4.2 0a2.1 2.1 0 1 0 -4.2 0M140.3 -2.8a2.9 2.9 0 1 0 5.9 0a2.9 2.9 0 1 0 -5.9 0M116.5 122.4a2.0 2.0 0 1 0 4.0 0a2.0 2.0 0 1 0 -4.0 0M113.9 48.2a2.8 2.8 0 1 0 5.7 0a2.8 2.8 0 1 0 -5.7 0M-1.2 98.6a2.6 2.6 0 1 0 5.1 0a2.6 2.6 0 1 0 -5.1 0M105.2 153.6a1.8 1.8 0 1 0 3.6 0a1.8 1.8 0 1 0 -3.6 0M170.1 1.3a1.9 1.9 0 1 0 3.8 0a1.9 1.9 0 1 0 -3.8 0M6.0 119.1a2.9 2.9 0 1 0 5.7 0a2.9 2.9 0 1 0 -5.7 0M108.2 184.5a2.9 2.9 0 1 0 5.8 0a2.9 2.9 0 1 0 -5.8 0M94.5 56.7a2.7 2.7 0 1 0 5.4 0a2.7 2.7 0 1 0 -5.4 0M45.0 29.2a2.5 2.5 0 1 0 5.0 0a2.5 2.5 0 1 0 -5.0 0M119.4 153.0a3.0 3.0 0 1 0 6.1 0a3.0 3.0 0 1 0 -6.1 0M98.7 141.4a2.1 2.1 0 1 0 4.3 0a2.1 2.1 0 1 0 -4.3 0M44.0 156.6a2.3 2.3 0 1 0 4.5 0a2.3 2.3 0 1 0 -4.5 0M57.1 95.0a2.8 2.8 0 1 0 5.5 0a2.8 2.8 0 1 0 -5.5 0M109.2 120.8a2.6 2.6 0 1 0 5.3 0a2.6 2.6 0 1 0 -5.3 0M153.8 155.0a2.1 2.1 0 1 0 4.2 0a2.1 2.1 0 1 0 -4.2 0M53.2 4.2a2.2 2.2 0 1 0 4.5 0a2.2 2.2 0 1 0 -4.5 0M55.3 184.6a2.5 2.5 0 1 0 5.0 0a2.5 2.5 0 1 0 -5.0 0M51.5 127.0a2.2 2.2 0 1 0 4.4 0a2.2 2.2 0 1 0 -4.4 0M70.0 171.9a3.0 3.0 0 1 0 6.0 0a3.0 3.0 0 1 0 -6.0 0M52.2 12.9a2.2 2.2 0 1 0 4.3 0a2.2 2.2 0 1 0 -4.3 0M2.1 50.2a2.0 2.0 0 1 0 4.0 0a2.0 2.0 0 1 0 -4.0 0M37.7 11.3a2.0 2.0 0 1 0 4.0 0a2.0 2.0 0 1 0 -4.0 0M43.9 40.3a2.8 2.8 0 1 0 5.5 0a2.8 2.8 0 1 0 -5.5 0M153.1 44.0a2.7 2.7 0 1 0 5.3 0a2.7 2.7 0 1 0 -5.3 0M66.6 76.8a2.0 2.0 0 1 0 4.0 0a2.0 2.0 0 1 0 -4.0 0M19.9 45.5a1.9 1.9 0 1 0 3.7 0a1.9 1.9 0 1 0 -3.7 0M165.2 72.1a2.2 2.2 0 1 0 4.4 0a2.2 2.2 0 1 0 -4.4 0M174.7 174.3a2.1 2.1 0 1 0 4.2 0a2.1 2.1 0 1 0 -4.2 0M23.5 35.9a2.6 2.6 0 1 0 5.3 0a2.6 2.6 0 1 0 -5.3 0M183.2 163.7a1.9 1.9 0 1 0 3.7 0a1.9 1.9 0 1 0 -3.7 0M71.3 87.8a2.3 2.3 0 1 0 4.6 0a2.3 2.3 0 1 0 -4.6 0M50.0 33.1a2.4 2.4 0 1 0 4.8 0a2.4 2.4 0 1 0 -4.8 0M120.3 160.6a2.3 2.3 0 1 0 4.6 0a2.3 2.3 0 1 0 -4.6 0M-4.0 176.5a2.8 2.8 0 1 0 5.5 0a2.8 2.8 0 1 0 -5.5 0M19.1 125.2a1.8 1.8 0 1 0 3.6 0a1.8 1.8 0 1 0 -3.6 0M45.3 90.4a2.8 2.8 0 1 0 5.5 0a2.8 2.8 0 1 0 -5.5 0M9.6 -0.3a2.3 2.3 0 1 0 4.6 0a2.3 2.3 0 1 0 -4.6 0M24.6 141.0a2.7 2.7 0 1 0 5.4 0a2.7 2.7 0 1 0 -5.4 0M170.6 4.7a2.4 2.4 0 1 0 4.9 0a2.4 2.4 0 1 0 -4.9 0M146.2 182.0a1.9 1.9 0 1 0 3.9 0a1.9 1.9 0 1 0 -3.9 0M121.4 70.0a2.2 2.2 0 1 0 4.5 0a2.2 2.2 0 1 0 -4.5 0M147.1 178.7a2.3 2.3 0 1 0 4.7 0a2.3 2.3 0 1 0 -4.7 0M123.2 122.9a1.8 1.8 0 1 0 3.7 0a1.8 1.8 0 1 0 -3.7 0M18.6 156.3a2.1 2.1 0 1 0 4.2 0a2.1 2.1 0 1 0 -4.2 0M125.5 88.0a2.8 2.8 0 1 0 5.7 0a2.8 2.8 0 1 0 -5.7 0M85.3 -2.9a2.1 2.1 0 1 0 4.2 0a2.1 2.1 0 1 0 -4.2 0M66.6 -2.7a2.0 2.0 0 1 0 3.9 0a2.0 2.0 0 1 0 -3.9 0M104.0 107.0a2.3 2.3 0 1 0 4.6 0a2.3 2.3 0 1 0 -4.6 0M30.0 101.4a1.9 1.9 0 1 0 3.9 0a1.9 1.9 0 1 0 -3.9 0M159.4 131.2a2.2 2.2 0 1 0 4.5 0a2.2 2.2 0 1 0 -4.5 0M166.0 101.1a2.3 2.3 0 1 0 4.7 0a2.3 2.3 0 1 0 -4.7 0M45.0 108.8a2.2 2.2 0 1 0 4.3 0a2.2 2.2 0 1 0 -4.3 0M65.9 177.3a1.9 1.9 0 1 0 3.9 0a1.9 1.9 0 1 0 -3.9 0M182.9 180.5a2.1 2.1 0 1 0 4.2 0a2.1 2.1 0 1 0 -4.2 0M50.7 53.0a1.9 1.9 0 1 0 3.7 0a1.9 1.9 0 1 0 -3.7 0M27.0 6.5a2.6 2.6 0 1 0 5.2 0a2.6 2.6 0 1 0 -5.2 0M53.8 165.2a2.7 2.7 0 1 0 5.4 0a2.7 2.7 0 1 0 -5.4 0M170.4 92.3a2.0 2.0 0 1 0 4.1 0a2.0 2.0 0 1 0 -4.1 0M140.0 143.7a2.8 2.8 0 1 0 5.6 0a2.8 2.8 0 1 0 -5.6 0M113.0 85.0a2.6 2.6 0 1 0 5.2 0a2.6 2.6 0 1 0 -5.2 0M165.8 15.8a2.4 2.4 0 1 0 4.9 0a2.4 2.4 0 1 0 -4.9 0M78.2 24.6a1.8 1.8 0 1 0 3.7 0a1.8 1.8 0 1 0 -3.7 0M19.1 161.9a2.7 2.7 0 1 0 5.4 0a2.7 2.7 0 1 0 -5.4 0M145.6 50.1a2.4 2.4 0 1 0 4.9 0a2.4 2.4 0 1 0 -4.9 0M141.6 119.6a2.7 2.7 0 1 0 5.5 0a2.7 2.7 0 1 0 -5.5 0M78.3 133.5a2.0 2.0 0 1 0 4.1 0a2.0 2.0 0 1 0 -4.1 0M27.1 159.0a2.5 2.5 0 1 0 5.0 0a2.5 2.5 0 1 0 -5.0 0M107.8 48.2a2.1 2.1 0 1 0 4.1 0a2.1 2.1 0 1 0 -4.1 0M56.1 125.3a2.5 2.5 0 1 0 5.1 0a2.5 2.5 0 1 0 -5.1 0M179.6 3.8a2.6 2.6 0 1 0 5.2 0a2.6 2.6 0 1 0 -5.2 0M182.3 76.9a2.6 2.6 0 1 0 5.3 0a2.6 2.6 0 1 0 -5.3 0M65.7 114.1a2.6 2.6 0 1 0 5.3 0a2.6 2.6 0 1 0 -5.3 0M25.7 23.1a1.9 1.9 0 1 0 3.8 0a1.9 1.9 0 1 0 -3.8 0M123.6 82.3a2.5 2.5 0 1 0 5.1 0a2.5 2.5 0 1 0 -5.1 0M120.2 78.1a2.4 2.4 0 1 0 4.9 0a2.4 2.4 0 1 0 -4.9 0M176.9 131.0a2.7 2.7 0 1 0 5.4 0a2.7 2.7 0 1 0 -5.4 0M53.6 123.3a2.1 2.1 0 1 0 4.3 0a2.1 2.1 0 1 0 -4.3 0M132.9 51.7a2.3 2.3 0 1 0 4.5 0a2.3 2.3 0 1 0 -4.5 0M114.4 124.3a1.8 1.8 0 1 0 3.7 0a1.8 1.8 0 1 0 -3.7 0M11.8 29.6a1.9 1.9 0 1 0 3.8 0a1.9 1.9 0 1 0 -3.8 0M183.2 44.5a2.0 2.0 0 1 0 4.1 0a2.0 2.0 0 1 0 -4.1 0M-3.3 163.8a2.9 2.9 0 1 0 5.8 0a2.9 2.9 0 1 0 -5.8 0M38.5 149.4a2.6 2.6 0 1 0 5.3 0a2.6 2.6 0 1 0 -5.3 0M155.9 58.2a2.0 2.0 0 1 0 4.0 0a2.0 2.0 0 1 0 -4.0 0M87.5 44.3a2.3 2.3 0 1 0 4.6 0a2.3 2.3 0 1 0 -4.6 0M-5.2 73.7a2.3 2.3 0 1 0 4.6 0a2.3 2.3 0 1 0 -4.6 0M106.6 126.5a2.1 2.1 0 1 0 4.2 0a2.1 2.1 0 1 0 -4.2 0M141.9 58.4a2.7 2.7 0 1 0 5.4 0a2.7 2.7 0 1 0 -5.4 0M77.4 144.2a1.9 1.9 0 1 0 3.8 0a1.9 1.9 0 1 0 -3.8 0M181.3 169.1a1.9 1.9 0 1 0 3.8 0a1.9 1.9 0 1 0 -3.8 0M114.2 41.5a2.3 2.3 0 1 0 4.6 0a2.3 2.3 0 1 0 -4.6 0M129.1 48.2a2.3 2.3 0 1 0 4.7 0a2.3 2.3 0 1 0 -4.7 0M27.2 144.3a2.3 2.3 0 1 0 4.6 0a2.3 2.3 0 1 0 -4.6 0M123.5 100.9a1.9 1.9 0 1 0 3.9 0a1.9 1.9 0 1 0 -3.9 0M109.5 177.4a2.3 2.3 0 1 0 4.5 0a2.3 2.3 0 1 0 -4.5 0M121.3 103.4a2.1 2.1 0 1 0 4.2 0a2.1 2.1 0 1 0 -4.2 0M88.4 76.1a2.3 2.3 0 1 0 4.6 0a2.3 2.3 0 1 0 -4.6 0M40.4 126.9a2.4 2.4 0 1 0 4.9 0a2.4 2.4 0 1 0 -4.9 0M27.5 40.5a1.8 1.8 0 1 0 3.6 0a1.8 1.8 0 1 0 -3.6 0M0.9 109.7a2.6 2.6 0 1 0 5.3 0a2.6 2.6 0 1 0 -5.3 0M113.7 81.5a2.2 2.2 0 1 0 4.4 0a2.2 2.2 0 1 0 -4.4 0M74.8 39.6a2.2 2.2 0 1 0 4.4 0a2.2 2.2 0 1 0 -4.4 0M172.0 161.9a2.0 2.0 0 1 0 4.0 0a2.0 2.0 0 1 0 -4.0 0M110.6 53.4a2.4 2.4 0 1 0 4.9 0a2.4 2.4 0 1 0 -4.9 0M50.0 56.7a2.8 2.8 0 1 0 5.6 0a2.8 2.8 0 1 0 -5.6 0M180.0 7.9a2.4 2.4 0 1 0 4.9 0a2.4 2.4 0 1 0 -4.9 0M104.8 29.3a3.1 3.1 0 1 0 6.2 0a3.1 3.1 0 1 0 -6.2 0M156.2 36.0a1.9 1.9 0 1 0 3.9 0a1.9 1.9 0 1 0 -3.9 0M135.1 -2.5a2.1 2.1 0 1 0 4.2 0a2.1 2.1 0 1 0 -4.2 0M39.4 39.0a2.7 2.7 0 1 0 5.4 0a2.7 2.7 0 1 0 -5.4 0M108.6 15.7a2.9 2.9 0 1 0 5.8 0a2.9 2.9 0 1 0 -5.8 0M146.9 54.9a2.1 2.1 0 1 0 4.3 0a2.1 2.1 0 1 0 -4.3 0M57.6 137.1a1.9 1.9 0 1 0 3.8 0a1.9 1.9 0 1 0 -3.8 0M98.7 181.6a2.1 2.1 0 1 0 4.2 0a2.1 2.1 0 1 0 -4.2 0M50.0 7.9a2.4 2.4 0 1 0 4.8 0a2.4 2.4 0 1 0 -4.8 0M-3.9 147.3a2.1 2.1 0 1 0 4.1 0a2.1 2.1 0 1 0 -4.1 0M77.8 47.4a2.5 2.5 0 1 0 5.0 0a2.5 2.5 0 1 0 -5.0 0M35.0 102.1a2.1 2.1 0 1 0 4.1 0a2.1 2.1 0 1 0 -4.1 0M84.9 64.5a2.2 2.2 0 1 0 4.3 0a2.2 2.2 0 1 0 -4.3 0M80.8 166.1a2.0 2.0 0 1 0 4.0 0a2.0 2.0 0 1 0 -4.0 0M149.1 123.4a2.1 2.1 0 1 0 4.1 0a2.1 2.1 0 1 0 -4.1 0M76.6 160.8a2.0 2.0 0 1 0 4.0 0a2.0 2.0 0 1 0 -4.0 0M142.1 94.6a3.0 3.0 0 1 0 6.1 0a3.0 3.0 0 1 0 -6.1 0M128.1 17.0a2.1 2.1 0 1 0 4.2 0a2.1 2.1 0 1 0 -4.2 0M58.9 183.8a2.5 2.5 0 1 0 5.0 0a2.5 2.5 0 1 0 -5.0 0M10.2 167.7a2.2 2.2 0 1 0 4.4 0a2.2 2.2 0 1 0 -4.4 0M69.7 176.6a2.7 2.7 0 1 0 5.3 0a2.7 2.7 0 1 0 -5.3 0M145.3 174.1a2.0 2.0 0 1 0 4.0 0a2.0 2.0 0 1 0 -4.0 0M38.1 161.0a2.1 2.1 0 1 0 4.2 0a2.1 2.1 0 1 0 -4.2 0M6.0 66.9a2.1 2.1 0 1 0 4.3 0a2.1 2.1 0 1 0 -4.3 0M67.4 161.5a2.1 2.1 0 1 0 4.1 0a2.1 2.1 0 1 0 -4.1 0M0.8 132.2a2.6 2.6 0 1 0 5.2 0a2.6 2.6 0 1 0 -5.2 0M119.8 183.8a3.0 3.0 0 1 0 6.0 0a3.0 3.0 0 1 0 -6.0 0M150.6 36.6a2.8 2.8 0 1 0 5.5 0a2.8 2.8 0 1 0 -5.5 0M123.0 76.2a2.9 2.9 0 1 0 5.8 0a2.9 2.9 0 1 0 -5.8 0M174.3 134.6a2.1 2.1 0 1 0 4.1 0a2.1 2.1 0 1 0 -4.1 0M-3.3 92.3a2.4 2.4 0 1 0 4.7 0a2.4 2.4 0 1 0 -4.7 0M6.9 184.4a2.3 2.3 0 1 0 4.7 0a2.3 2.3 0 1 0 -4.7 0M140.1 26.2a2.0 2.0 0 1 0 4.0 0a2.0 2.0 0 1 0 -4.0 0M74.9 72.1a2.3 2.3 0 1 0 4.6 0a2.3 2.3 0 1 0 -4.6 0M19.0 60.7a1.9 1.9 0 1 0 3.9 0a1.9 1.9 0 1 0 -3.9 0M20.4 2.5a2.0 2.0 0 1 0 4.1 0a2.0 2.0 0 1 0 -4.1 0M52.9 1.0a2.7 2.7 0 1 0 5.3 0a2.7 2.7 0 1 0 -5.3 0M73.0 48.7a2.8 2.8 0 1 0 5.5 0a2.8 2.8 0 1 0 -5.5 0M153.8 55.7a2.0 2.0 0 1 0 4.1 0a2.0 2.0 0 1 0 -4.1 0M26.8 37.4a2.1 2.1 0 1 0 4.3 0a2.1 2.1 0 1 0 -4.3 0M167.9 169.5a2.9 2.9 0 1 0 5.8 0a2.9 2.9 0 1 0 -5.8 0M135.6 94.2a2.9 2.9 0 1 0 5.7 0a2.9 2.9 0 1 0 -5.7 0M114.0 154.9a2.9 2.9 0 1 0 5.9 0a2.9 2.9 0 1 0 -5.9 0M165.4 170.6a2.0 2.0 0 1 0 4.0 0a2.0 2.0 0 1 0 -4.0 0M143.4 34.8a2.0 2.0 0 1 0 4.1 0a2.0 2.0 0 1 0 -4.1 0M92.0 89.2a2.0 2.0 0 1 0 4.1 0a2.0 2.0 0 1 0 -4.1 0M129.2 3.3a1.9 1.9 0 1 0 3.9 0a1.9 1.9 0 1 0 -3.9 0M40.4 81.0a2.8 2.8 0 1 0 5.6 0a2.8 2.8 0 1 0 -5.6 0M68.9 90.5a2.7 2.7 0 1 0 5.4 0a2.7 2.7 0 1 0 -5.4 0M76.8 65.3a2.7 2.7 0 1 0 5.4 0a2.7 2.7 0 1 0 -5.4 0M114.9 137.3a2.2 2.2 0 1 0 4.4 0a2.2 2.2 0 1 0 -4.4 0M182.1 157.9a2.7 2.7 0 1 0 5.4 0a2.7 2.7 0 1 0 -5.4 0M112.6 173.3a2.3 2.3 0 1 0 4.5 0a2.3 2.3 0 1 0 -4.5 0M136.6 78.8a2.1 2.1 0 1 0 4.3 0a2.1 2.1 0 1 0 -4.3 0M34.6 109.6a1.9 1.9 0 1 0 3.8 0a1.9 1.9 0 1 0 -3.8 0M148.7 50.8a2.2 2.2 0 1 0 4.4 0a2.2 2.2 0 1 0 -4.4 0M121.8 178.9a1.8 1.8 0 1 0 3.6 0a1.8 1.8 0 1 0 -3.6 0M37.7 0.4a2.0 2.0 0 1 0 4.1 0a2.0 2.0 0 1 0 -4.1 0M176.1 179.2a2.4 2.4 0 1 0 4.8 0a2.4 2.4 0 1 0 -4.8 0M92.3 11.8a1.9 1.9 0 1 0 3.8 0a1.9 1.9 0 1 0 -3.8 0M122.6 16.8a2.1 2.1 0 1 0 4.3 0a2.1 2.1 0 1 0 -4.3 0M41.9 85.2a2.6 2.6 0 1 0 5.2 0a2.6 2.6 0 1 0 -5.2 0M59.8 77.0a2.6 2.6 0 1 0 5.2 0a2.6 2.6 0 1 0 -5.2 0M181.4 31.2a2.3 2.3 0 1 0 4.6 0a2.3 2.3 0 1 0 -4.6 0M29.5 117.7a2.2 2.2 0 1 0 4.3 0a2.2 2.2 0 1 0 -4.3 0M33.6 73.5a2.0 2.0 0 1 0 3.9 0a2.0 2.0 0 1 0 -3.9 0M51.1 143.2a2.4 2.4 0 1 0 4.7 0a2.4 2.4 0 1 0 -4.7 0M51.7 166.4a1.9 1.9 0 1 0 3.8 0a1.9 1.9 0 1 0 -3.8 0M64.6 184.7a2.6 2.6 0 1 0 5.2 0a2.6 2.6 0 1 0 -5.2 0M22.4 97.3a1.9 1.9 0 1 0 3.9 0a1.9 1.9 0 1 0 -3.9 0M154.8 175.3a2.1 2.1 0 1 0 4.2 0a2.1 2.1 0 1 0 -4.2 0M71.6 164.9a2.0 2.0 0 1 0 3.9 0a2.0 2.0 0 1 0 -3.9 0M98.7 51.0a2.5 2.5 0 1 0 5.0 0a2.5 2.5 0 1 0 -5.0 0M134.1 32.6a2.2 2.2 0 1 0 4.4 0a2.2 2.2 0 1 0 -4.4 0M129.9 -2.9a2.2 2.2 0 1 0 4.4 0a2.2 2.2 0 1 0 -4.4 0M10.3 68.2a2.5 2.5 0 1 0 5.0 0a2.5 2.5 0 1 0 -5.0 0M-0.9 30.4a2.7 2.7 0 1 0 5.3 0a2.7 2.7 0 1 0 -5.3 0M136.1 36.2a2.7 2.7 0 1 0 5.5 0a2.7 2.7 0 1 0 -5.5 0M124.4 125.2a2.4 2.4 0 1 0 4.8 0a2.4 2.4 0 1 0 -4.8 0M76.7 122.9a2.3 2.3 0 1 0 4.7 0a2.3 2.3 0 1 0 -4.7 0M13.2 31.8a2.2 2.2 0 1 0 4.4 0a2.2 2.2 0 1 0 -4.4 0M14.5 140.8a1.9 1.9 0 1 0 3.7 0a1.9 1.9 0 1 0 -3.7 0"/>
</g></svg>
<rect x="440.5" y="34" width="195" height="184" fill="none" stroke="#d4d4d4" stroke-width="1"/>
<line x1="440.5" y1="218" x2="442.5" y2="218" stroke="#888" stroke-width="0.6"/>
<line x1="440.5" y1="156.667" x2="442.5" y2="156.667" stroke="#888" stroke-width="0.6"/>
<line x1="440.5" y1="95.3333" x2="442.5" y2="95.3333" stroke="#888" stroke-width="0.6"/>
<line x1="440.5" y1="34" x2="442.5" y2="34" stroke="#888" stroke-width="0.6"/>
<line x1="633.5" y1="218" x2="635.5" y2="218" stroke="#888" stroke-width="0.6"/>
<line x1="633.5" y1="162.4" x2="635.5" y2="162.4" stroke="#888" stroke-width="0.6"/>
<line x1="633.5" y1="106.8" x2="635.5" y2="106.8" stroke="#888" stroke-width="0.6"/>
<line x1="633.5" y1="51.2" x2="635.5" y2="51.2" stroke="#888" stroke-width="0.6"/>
<line x1="440.5" y1="218" x2="440.5" y2="216" stroke="#888" stroke-width="0.6"/>
<line x1="489.25" y1="218" x2="489.25" y2="216" stroke="#888" stroke-width="0.6"/>
<line x1="538" y1="218" x2="538" y2="216" stroke="#888" stroke-width="0.6"/>
<line x1="586.75" y1="218" x2="586.75" y2="216" stroke="#888" stroke-width="0.6"/>
<line x1="635.5" y1="218" x2="635.5" y2="216" stroke="#888" stroke-width="0.6"/>
<line x1="440.3" y1="34" x2="440.3" y2="36" stroke="#888" stroke-width="0.6"/>
<line x1="457.57" y1="34" x2="457.57" y2="36" stroke="#888" stroke-width="0.6"/>
<line x1="474.84" y1="34" x2="474.84" y2="36" stroke="#888" stroke-width="0.6"/>
<line x1="492.11" y1="34" x2="492.11" y2="36" stroke="#888" stroke-width="0.6"/>
<line x1="509.38" y1="34" x2="509.38" y2="36" stroke="#888" stroke-width="0.6"/>
<line x1="526.65" y1="34" x2="526.65" y2="36" stroke="#888" stroke-width="0.6"/>
<line x1="543.92" y1="34" x2="543.92" y2="36" stroke="#888" stroke-width="0.6"/>
<line x1="561.19" y1="34" x2="561.19" y2="36" stroke="#888" stroke-width="0.6"/>
<line x1="578.46" y1="34" x2="578.46" y2="36" stroke="#888" stroke-width="0.6"/>
<line x1="595.73" y1="34" x2="595.73" y2="36" stroke="#888" stroke-width="0.6"/>
<line x1="613" y1="34" x2="613" y2="36" stroke="#888" stroke-width="0.6"/>
<line x1="630.27" y1="34" x2="630.27" y2="36" stroke="#888" stroke-width="0.6"/>
<polyline points="458.0,216.4 470.0,216.0 479.0,214.2 490.0,212.6 503.0,212.8 510.0,214.2 518.0,215.0 545.0,215.0 555.0,212.5 565.0,208.5 575.0,204.9 582.3,202.5 588.4,197.6 593.2,189.1 598.1,174.6 601.7,160.0 604.4,146.2 608.1,126.7 611.9,111.5 615.3,103.2 618.8,111.5 621.0,126.7 622.6,160.0 624.8,184.3 627.2,203.7 630.4,215.9 632.5,217.8" fill="none" stroke="#ff0000" stroke-width="3.1" stroke-dasharray="2.6 1.9" stroke-linejoin="round"/>
<polyline points="470.0,217.0 500.0,216.6 540.0,216.6 561.0,215.5 575.0,211.0 582.3,207.4 589.6,200.1 594.4,191.6 598.1,181.9 600.5,172.1 602.9,160.0 605.6,126.7 609.3,100.0 611.9,70.0 614.5,62.6 617.0,70.0 619.0,91.3 621.4,126.7 622.0,148.6 622.4,160.0 625.0,185.0 627.5,205.0 629.6,216.0 632.0,217.5" fill="none" stroke="#0000ff" stroke-width="2.9" stroke-dasharray="2.5 2" stroke-linejoin="round"/>
<polyline points="443.5,215.0 452.0,34.8 460.2,47.0 467.6,112.0 472.4,138.0 475.6,151.0 479.7,160.0 483.5,167.5 490.6,198.4 499.0,208.5 506.5,213.0 513.8,217.4 546.0,217.6" fill="none" stroke="#0000ff" stroke-width="2.4" stroke-linejoin="round"/>
<polyline points="444.7,216.5 463.9,46.5 471.6,120.0 474.0,138.7 483.7,145.0 493.0,139.9 502.8,178.2 513.2,180.6 523.4,201.0 532.4,205.3 545.4,213.5 552.4,216.0 560.0,216.8 632.5,217.4" fill="none" stroke="#ff0000" stroke-width="2.4" stroke-linejoin="round"/>
<text id="A" x="15.70" y="13.50" font-size="15.30" font-weight="bold" fill="#000" textLength="10.36" lengthAdjust="spacingAndGlyphs">A</text>
<text id="B" x="203.30" y="12.85" font-size="15.30" font-weight="bold" fill="#000" textLength="10.30" lengthAdjust="spacingAndGlyphs">B</text>
<text id="C" x="403.50" y="12.25" font-size="15.30" font-weight="bold" fill="#000" textLength="9.74" lengthAdjust="spacingAndGlyphs">C</text>
<text id="cm_b" x="92.70" y="233.75" font-size="10.50" font-weight="normal" fill="#262626" textLength="25.60" lengthAdjust="spacing">3 cm</text>
<text id="cm_l" transform="translate(7.95,134.10) rotate(-90)" font-size="10.00" font-weight="normal" fill="#262626" textLength="20.40" lengthAdjust="spacing">3 cm</text>
<text id="title" x="489.90" y="11.10" font-size="13.47" font-weight="normal" fill="#262626" textLength="92.00" lengthAdjust="spacing">Velocity (m/s)</text>
<text id="xlab" x="480.90" y="245.52" font-size="14.20" font-weight="normal" fill="#262626" textLength="133.70" lengthAdjust="spacing">Throat size [microns]</text>
<text id="ylab_l" transform="translate(415.10,179.90) rotate(-90)" font-size="15.00" font-weight="normal" fill="#262626" textLength="101.10" lengthAdjust="spacing">Throat size pdf</text>
<text id="ylab_r" transform="translate(681.74,166.50) rotate(-90)" font-size="14.50" font-weight="normal" fill="#262626" textLength="78.90" lengthAdjust="spacing">Velocity pdf</text>
<text id="l03" x="418.70" y="37.55" font-size="9.30" font-weight="normal" fill="#262626" textLength="14.70" lengthAdjust="spacing">0.3</text>
<text id="l02" x="419.10" y="98.65" font-size="9.30" font-weight="normal" fill="#262626" textLength="14.60" lengthAdjust="spacing">0.2</text>
<text id="l01" x="419.10" y="160.25" font-size="9.30" font-weight="normal" fill="#262626" textLength="14.60" lengthAdjust="spacing">0.1</text>
<text id="l00" x="430.50" y="221.00" font-size="9.30" font-weight="normal" fill="#262626" textLength="3.80" lengthAdjust="spacingAndGlyphs">0</text>
<text id="r09" x="638.70" y="55.05" font-size="9.30" font-weight="normal" fill="#262626" textLength="21.20" lengthAdjust="spacing">0.09</text>
<text id="r06" x="638.70" y="110.25" font-size="9.30" font-weight="normal" fill="#262626" textLength="21.20" lengthAdjust="spacing">0.06</text>
<text id="r03" x="638.70" y="166.25" font-size="9.30" font-weight="normal" fill="#262626" textLength="21.20" lengthAdjust="spacing">0.03</text>
<text id="r00" x="638.30" y="221.10" font-size="9.30" font-weight="normal" fill="#262626" textLength="5.60" lengthAdjust="spacingAndGlyphs">0</text>
<text id="b0" x="437.50" y="228.45" font-size="9.30" font-weight="normal" fill="#262626" textLength="5.80" lengthAdjust="spacingAndGlyphs">0</text>
<text id="b125" x="481.70" y="228.45" font-size="9.30" font-weight="normal" fill="#262626" textLength="16.00" lengthAdjust="spacing">125</text>
<text id="b250" x="526.90" y="228.45" font-size="9.30" font-weight="normal" fill="#262626" textLength="16.80" lengthAdjust="spacing">250</text>
<text id="b375" x="571.50" y="228.45" font-size="9.30" font-weight="normal" fill="#262626" textLength="17.10" lengthAdjust="spacing">375</text>
<text id="b500" x="621.50" y="228.45" font-size="9.30" font-weight="normal" fill="#262626" textLength="17.00" lengthAdjust="spacing">500</text>
<text id="t10a" x="460.70" y="28.35" font-size="9.30" font-weight="normal" fill="#262626" textLength="11.00" lengthAdjust="spacing">10</text>
<text id="t13" x="474.50" y="23.55" font-size="7.00" font-weight="normal" fill="#262626" textLength="12.50" lengthAdjust="spacing">-13</text>
<text id="t10b" x="512.70" y="28.35" font-size="9.30" font-weight="normal" fill="#262626" textLength="10.20" lengthAdjust="spacing">10</text>
<text id="t10e" x="526.50" y="23.55" font-size="7.00" font-weight="normal" fill="#262626" textLength="12.40" lengthAdjust="spacing">-10</text>
<text id="t10c" x="567.30" y="28.35" font-size="9.30" font-weight="normal" fill="#262626" textLength="10.60" lengthAdjust="spacing">10</text>
<text id="t7" x="581.10" y="23.55" font-size="7.00" font-weight="normal" fill="#262626" textLength="7.30" lengthAdjust="spacing">-7</text>
<text id="t10d" x="619.10" y="28.35" font-size="9.30" font-weight="normal" fill="#262626" textLength="10.60" lengthAdjust="spacing">10</text>
<text id="t4" x="632.70" y="24.55" font-size="7.00" font-weight="normal" fill="#262626" textLength="7.10" lengthAdjust="spacing">-4</text>
<text id="cb0" x="78.90" y="197.40" font-size="6.60" font-weight="normal" fill="#262626" textLength="2.80" lengthAdjust="spacingAndGlyphs">0</text>
<text id="cb20" x="110.30" y="197.40" font-size="6.60" font-weight="normal" fill="#262626" textLength="7.60" lengthAdjust="spacing">20</text>
<text id="cb40" x="140.10" y="197.40" font-size="6.60" font-weight="normal" fill="#262626" textLength="8.80" lengthAdjust="spacing">40</text>
<text id="cb65" x="181.30" y="197.40" font-size="6.60" font-weight="normal" fill="#262626" textLength="7.80" lengthAdjust="spacing">65</text>
<text id="cbv" x="112.50" y="210.80" font-size="7.00" font-weight="normal" fill="#262626" textLength="34.30" lengthAdjust="spacing">Vel (μm/s)</text>
</svg>
</body></html>
